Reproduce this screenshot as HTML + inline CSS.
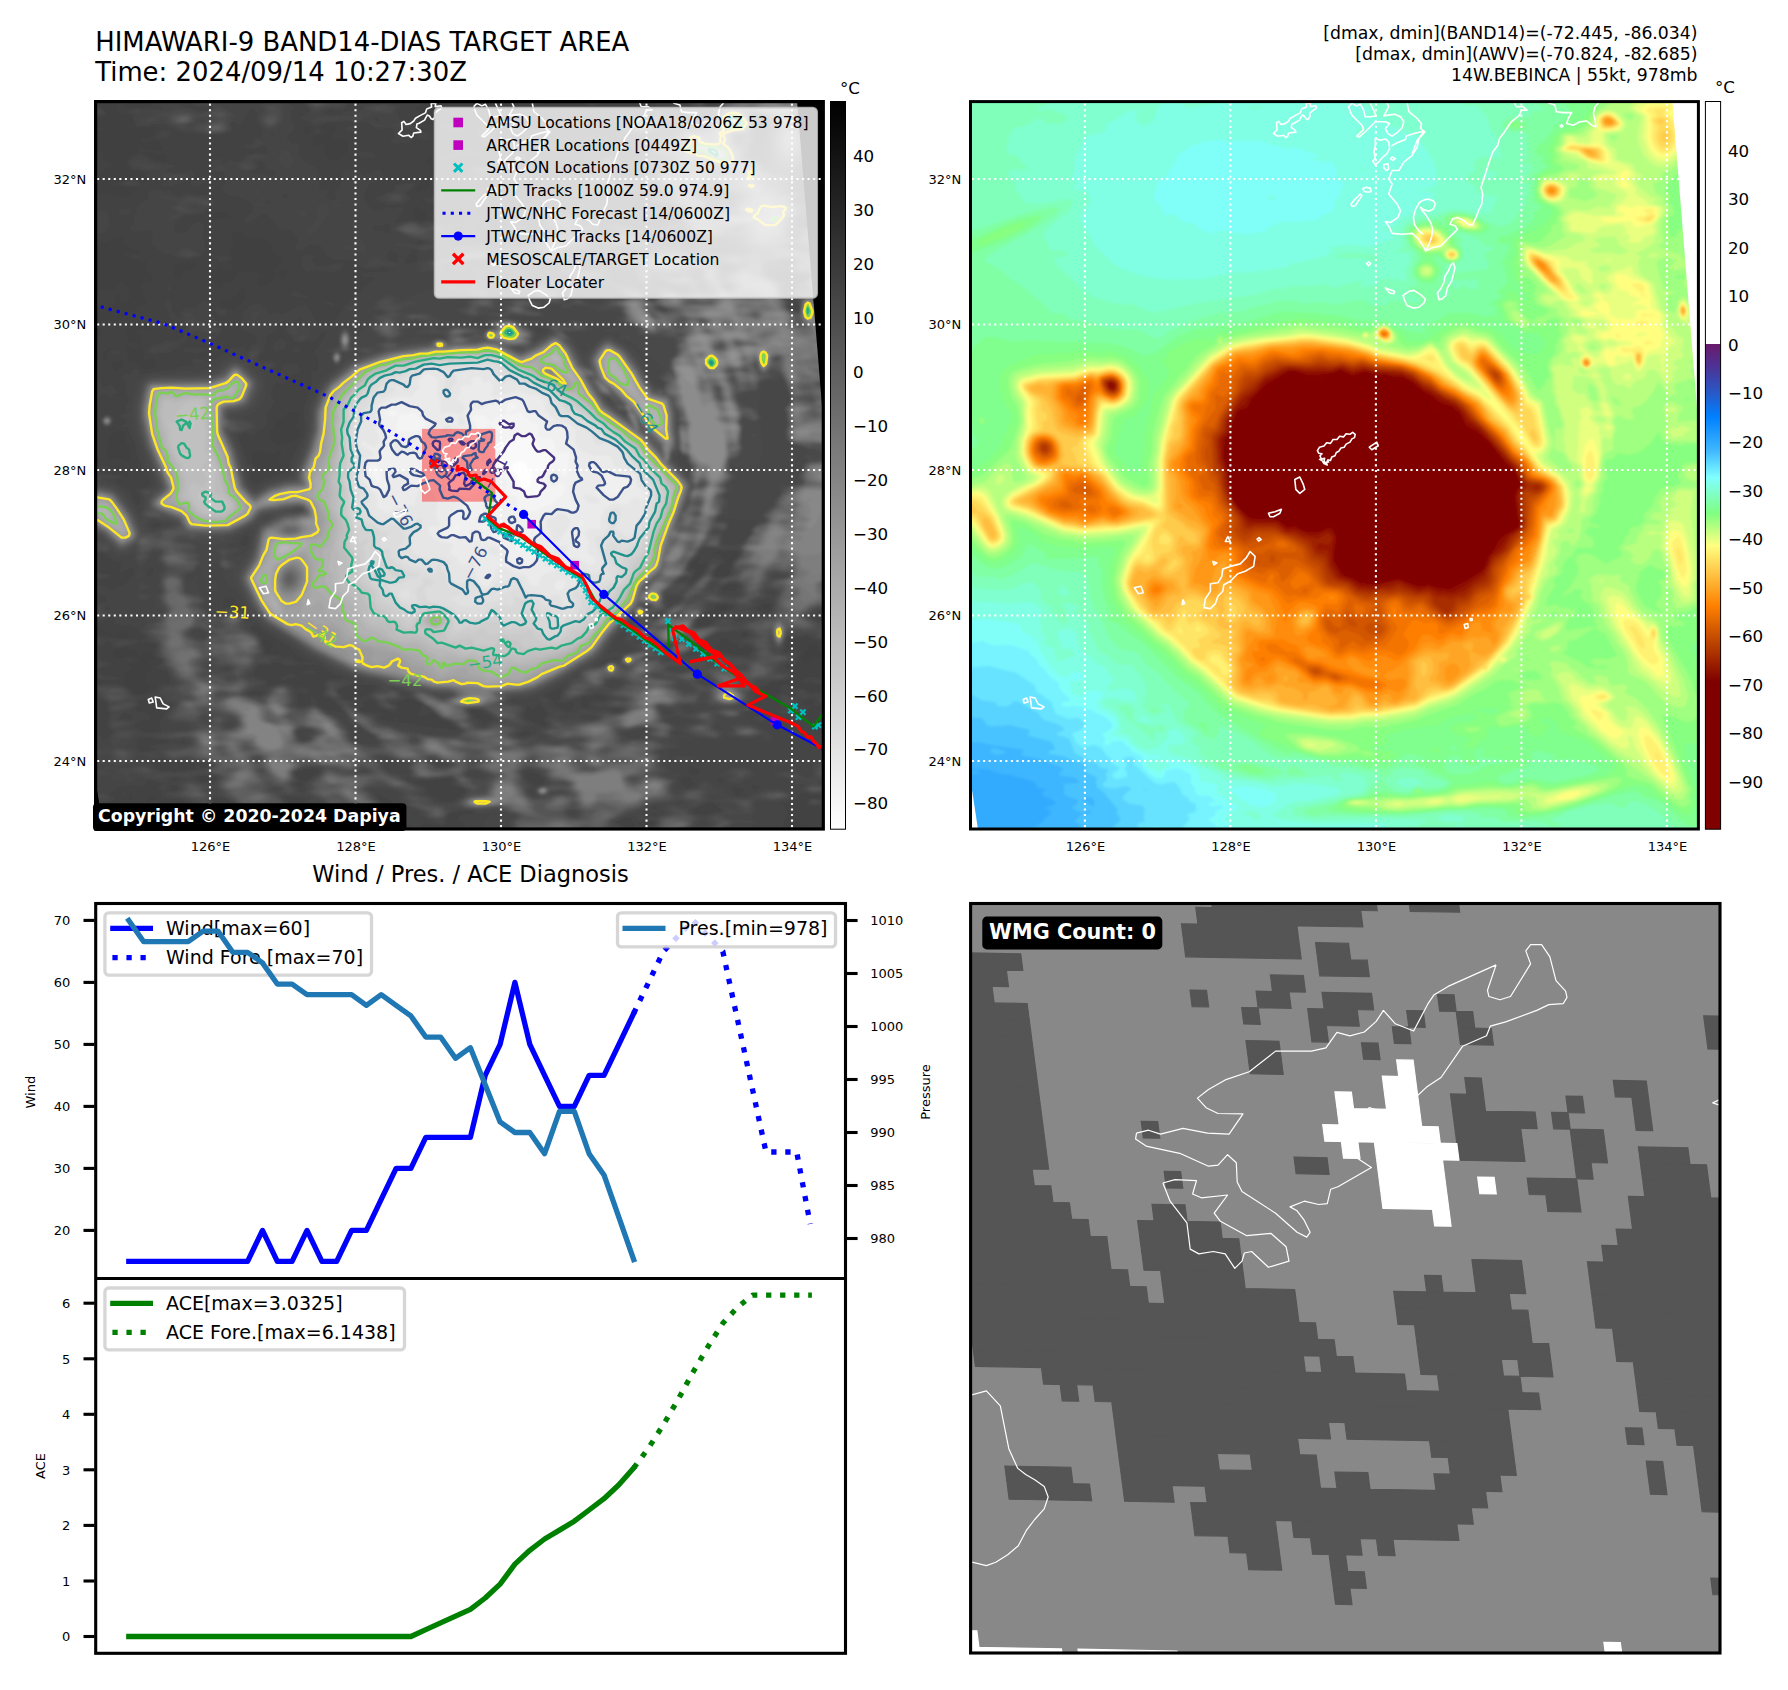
<!DOCTYPE html><html><head><meta charset="utf-8"><title>HIMAWARI-9 BAND14 14W.BEBINCA</title>
<style>html,body{margin:0;padding:0;background:#fff}svg{display:block}text{font-family:'DejaVu Sans','Liberation Sans',sans-serif}</style></head><body>
<svg width="1788" height="1690" viewBox="0 0 1788 1690">
<rect width="1788" height="1690" fill="#fff"/>
<defs><clipPath id="c1"><rect x="95.6" y="101.6" width="727.7" height="727.4"/></clipPath><clipPath id="c2"><rect x="970.5" y="101.6" width="727.9" height="727.4"/></clipPath><clipPath id="c4"><rect x="970.6" y="903.5" width="749.4" height="749.5"/></clipPath></defs>
<g clip-path="url(#c1)"><rect x="95.6" y="101.6" width="728" height="728" fill="#3b3b3b"/><defs><filter id="b1" x="-2%" y="-2%" width="104%" height="104%"><feGaussianBlur stdDeviation="1.6"/></filter></defs><g transform="translate(95.6,101.6) scale(0.5)" filter="url(#b1)"><path fill="#404040" d="M0 0l1456 0 0 1456-1456 0 0-1416 7-4-7-1z"/><path fill="#424242" d="M47 0l15 0-5 12 3 2 12-5 20 3 16-3 3-1-2-8 529 0 16 4 1 4-14 4-3 4 14 7 4 5 0 16 20 2 12-5 23-1 5-3 4 3 40 9 24-7 16 2 10-8-18-3-28 0-18-5 1-4 41-3 20-4 24 0 13-5 1-8-7-4 52 0-3 5-7 3 2 4 7 4 4 8 1 4-6 4 7 16 8 3 20-2 22-13 14-14 14-6 4-4-5-8 0-4 483 0 0 1105-8-5-8-14-8 1-7 5-2 8-10 12 0 4 7 4 16-9 20-1 0 346-1045 0-3-3-6 3-133 0-2-8-7-8 2 16-30 0-6-8-30 0-19 4-4 4-30 0-2-8 7-8 1-8 9-8-18-5-56-3-4 0-8 8-4 1-12-11-8-14-4-2-15 6 0 4-9 11-16 1 0 8-4 2 0-265 9-1 2-4-11-3 0-91 16-1 18 3-10-7-14-5-3-4 4-4-11-1 0-322 4-1 4-8-3-4-5-1 0-229 12-22-4-7-8-1 0-9 12 0 12 6 8-1 28-21 12-5 12-12 16-6-8-19-2-21 2-4 20-1 3-7-16-20 2-12-21-2-29-10 9-5 28 1-12-9-20-7-4-16-16 2-12 7-12 2-12 7 0-110 12 4 16 1 16 6 12 0 8-3 20-16-44-2-6-2 0-4 2-2 14-2 10-6 8-2 16 2 8 6 8 0 5-4-5-3-4-13-28-2-12-18 13-12 14-4 2-4-2-4 5-4 32 6 14-2-6-16-12-2-12 5-8 0-11-7 3-2 24-5 6-5 2-9 10-3-14-1-28 2-18-5 6-8-8-8 1-4-21-3-2-5-7-4zM168 324l-8 4-3 16 3 8 4 2 8-2 4-12 4-3 17-5 5-4-1-4-5-3zM240 223l-7 5-1 4 4 4 22-4 6-4-12-7zM272 228l-5 4 10 0zM280 262l-7 6 4 20-8 20 11 4-2 4-10 4-2 4 14 7 12-1 7 2-7 3-12-2-12 4-8 1-6-2-2-4-5-4-15 18-3 10 7 4 8 12 4 1 12-10 16-5 3-10 5-7 36 0 7 3 3 4-6 12 4 6 8 3 12-5 5-4 6-12 1-4-3-8 2-4 11-8 1-4-2-8-5-5-13-7-1-4 3-8-1-4-15-8-13-3-4-3-12 6-4 0-12-14-4-2zM372 336l-6 8 6 6 4 1 4-3 2-8-2-5zM388 622l-12 10-15 4-5 16-9 12 0 4 9 13 8 6 32-7 11-12 1-16-8-1-4-3 10-8 0-12-6-6zM416 50l-1 2 2 8 3 4 4 0 4-4 1-8zM464 44l-11 4-1 4 11 8-3 4-4 2-19 2-4 4 5 4 0 8 5 4 9-2 5 2 2 16 6 8 11 7 8 0 9-11 8-4 3-5 0-14-4-8-4-3-12 3-8-1-4-8 8-11 1-5-5-5zM668 110l-8 10 2 4 8 8 0 8-9 16-13 7-8 13 4 2 4 2 16-6 4-6 0-8 3-4 9-4 16-19 12-5 16 1 8-2 7-7 2-8-6 0-11 6-28 7-20-4-7-5 4-4-1-3zM700 97l-7 7 3 1 4-3zM752 59l-20 11-20-5-11 3 5 4 3 8-6 12 24 0 16-4 18-8 2-8-3-13zM1260 1008l-12 4 6 4 6 0 3-8zM1340 1007l-4 1 4 6 4-2 2-4zM1396 1441l-2 7 6 6 4 1 4-4 5-7zM32 492l-8 3-8 9-2 4 1 4 5 5 4 0 1-5-8-4 11-11 4-1zM44 520l-9 4-2 4 3 8 4 2 11-6 5-8-1-4-3-2zM104 444l-16 6-16 0-8 4-3 6 1 8 6 12 20 4 4-3-3-13-15-8 18-6 12 3 3-1 2-8zM100 103l-3 1 15 6 6 6 24 4 0-12-2-3-16 2-12-5zM160 1400l-9 4 13 2 10-2-4-4zM292 374l-4 3-3 7-5 6-12 7-16 1-4 4-1 6 6 4 15 1 8 3 4-1 14-15 5-12 0-8-3-5zM328 698l-13 10-2 8 1 8 12 8 2 8 8 1 16-8 16 2 2-3-2-6-10-10 11-8 1-4-2-7-4 0-12 9zM400 1403l-1 1 9 7 10 1-6-8zM436 1439l-2 5 2 4 4 0 2-4 0-4-2-2zM640 210l-5 10 3 12 3 4 19 0-1-12-2-4-13-9zM720 191l-4 13 4 6 3-2-2-8 3-8zM44 658l-16 10-4 24 1 20 3 4 4 1 12-6 20 7 5-6-1-18-8-14-4-16-3-4zM64 491l-3 1 0 4 8 8-5 4 0 8 4 3 12 3 13 10 7 3 12-2 7-5 2-8-5-7-16 6-4-3-1-8-4-8 4-4-3-6-12 7-7-1zM164 1424l6 4 16 4-1-8-13-2zM336 1078l0 6 7 12 1 8 9-12 0-8-5-5zM360 1099l-6 5 9 0 6-4zM40 730l-5 6 1 8 20 2 8 8 3-6-1-4-18-13zM100 1102l-12 10 1 4-1 4-16 6-1-2-9 0 8 4 1 4 0 4-7 2-6 6 0 4 3 4-4 4 3 12 4 1 11 7 5 8 14 0 9-4 5-8 0-4-17-8 12-4-3-8 7-12 0-12 1-4 8-7-4-5 0-8zM36 1096l-1 8 5 8 12 0 12-3 18 3 1-4-1-8-6-4-12-2zM52 1059l-15 9 11 4 12 0 4-8-4-4zM68 1388l-1 4 5 5 0-9zM108 1387l-4 4-2 9 6 0 9-4 2-4zM793 0l14 0 4 4-3 5-8 1zM0 8l12 2 14 14-4 4-6 2-16 0zM760 8l17 0-1 4-8 4-12 0-14-4 6-3zM670 16l10 0-4 3zM672 24l4-3 4-1 46 8-10 7-24-1-8-2zM911 32l13-1 5 5-9 2zM20 52l6 0-14 8-12-1 0-5zM3 100l5-2 6 2 2 4 0 15 18 5 0 4-6 6-12 4-8 6-2 4 1 12-7 4 0-63zM303 308l9-1 4 1 1 4-9 1zM46 364l6-2 4 1 11 13 2 16-4 8-5 3-8 0-3-3-1-12-4-4-4 4-2 16-2 4-20 5-16-2 0-30 12-4 22-1zM0 1440l0-3 12 7 3 12-15 0zM61 1440l7-3 36 0 7 3 0 4-3 4-12 6-24 2-18-8-2-4z"/><path fill="#454545" d="M126 0l390 0-12 8-8 10-28-2-8 4-3 4 15 4 16-1 12-7 28-3 2-1 0-4-6-4 4-4 20 0 28-3 16 4 48 2 2 1-30 2-8 6 0 7 6 13 22 6 17 14 20 8-4 4 6 4-3 4-12 1-8-2-5-3 3-4-23-12-7 0-2 0 2 4 16 8 2 8-6 6-6 2-10-1-12 2-10-5-1-4 3-3 7-1-4-4 1-8-2-4-6-2-28 1-14-11-6-2-20 2-12-4-44 2-24 7-4-1-16-10-14-6 16-4 6-12-12-12-12-3-12 3-4 4-4 0 0 2 8-2 4 3-6 21 8 20-2 8-9 4-5 8 10 11 4 1 8-1 4 3-1 18 3 8 6 6 20 11 7 7 5 34 4 6 14 0 2 4-6 8 2 4 8 5 9-1 1-4-4-8 0-4 9-8 5-12 2-16 2-5 8-2 12 4 8-5 12 13 24-13 11 0 5 16-8 6-16 3-10 15-6 20 12 15 12 8 12-1 12-7 12 2 12-4 8 2 1 5-2 4-14 16-2 4 2 4 19-6 8-1 24 3 20-2 16 3 44 2 2-7 5-4 0-4-7-3-3-5 5-8-6-8 0-5 8-6 17-5 2-8 5-4 8 1 2-5 6-3 16 2 4-13 24-3 4 5 1 8-3 8-7 8 5 3 2 5-26 14-20 2-16 4 13 8-19 8 16 8 0 4-17 8 7 4 2 4 9 4-3 13-4 2-4-2-1 3 5 1 2 3 17 4 17 1 11-1 17-12 4 0 8 2 8 6-2 4 2 1 10-1 16-8 13-12-7-12 8-3 4-5-10-12-2-4 3-8-3-4-20-1-6-3 6-6 20-9 20-1 8 4 6 0-2-8 5-8-13 0-4 3-8 0-21-11-15-4 20-3 12 2 1-3-3-8 2-4-4-1-4-7 8 0 8 6 8 0 7 14 19-4 2-12 4-4 8-2 8 3-1-9-13-16-1-4 3-5 25 21 17 0-2-4-8-2-2-2 16-4 7-4-1-4-16-2-8-6 9-4 3-4-2-4 6-3 20-4 8-4 17 3 11-11 2-5-6-16 0-12 5-8 11-9 24-9 36-1 4-4 10-1-3-4-15-1-7-7 355 0 0 1015-12 5-7 12 4 4 15 3 0 42-16-3-16-7-28 2-12-1 0 12-4 4-2 8 1 4 21-2 12 0 0 2-2 8-6 4 1 8-5 7-12-3-10 4 2 4 4 2 11-2-5 4 5 8-1 8-6 6-32 3-9 3-3 5-13 3 1 5 28 14 0-3 10-8-2-4 2-8 6-2 8 0 12 8 20 0 16 8 24-3 0 28-24 3-7 6 1 4-2 3-7 5 34 36 5 2 0 121-24 0-22-3-10 10-8 2-8 7-24 1 16 2 7 14 0 8-8 16-1 12-635 0-2-12-14-8 0-4 9-5 23-3-3-4-20-1-22 5-7 8 0 12-7 6-12 0-4-2-24-6-5 6 1 2 3 2 17 4-46 0 4-8-6-1-7-7 5-16-2-3-8-1-12 5-4-1-4-6-1 14 9 8 0 13 2 3-94 0-8-3-24-1-9-4-1-4-6-3-8-12-52 2-6 5 1 8-4 12-86 0 6-12-27-20-2-4 2-4-2-4-21-16-21-5-4 1-2 4 11 16-9 12 20 8 2 4-2 8 2 12-22 0-5-8-7-2-28-1-20 5-9 6-18 0-2-8 5-8 1-8 3-2 8-1 28 6 11-3 2-4-2-4-35-8-16 2-28-4-32 0-10-2 0-4 2-1 12-4 28-2 40 9 16-6 4-4-16-4-20 0-13-4-6-4 4-4 0-4-9-4 4-12-7-4-9-1-9 1-3 8-8 3-16-3-32 4-4 5-13 7 5 5 14 3-6 1-8 6-18 5 4 4-2 2-16 0 0-145 8 3 7 8 5 0 8-4-3-4 8-8-11-12 5-24-6-8 1-12-22-15 0-22 28-3 20 2 15 6 13 14 20 2 24-8 8-14 19-2 3-4-9-20-23-8 13-8 1-4-2-4-6-2-7-6 3-20-2-4-30-3-8 4-36 9-7-2-5-4-3-8-5-2-5 2-3 8-16 3 0-21 12 0 8 4 12-2 16 3 16-1 24 4 9-6 0-4-12-8-1-4-12-8-32-1-4-3-1-12-3-1-16 8-16 3 0-39 24-3-4-8-4-3-8-2-8 1 0-20 20 1 8 10 4 0 12-8 12-4 16-15 7-12-3-6-8-2-8 8-8 2-4-2-1-4 6-12-17-5-23-15-13-1 0-162 51 7 2 4-14 4 1 4 15 12 15 8 7 20 7 8 4-4-2-16-7-12 5-3 14-1 13-8-7-24-3-4-8-4-11-24-4-24-15-32-3-2-8 3-9-1 17-9 0-7-8-2-7-6 11-4 11-28-3-8-6-8 3-12-8-16 1-4 6-4 8 2 2-6 10-5 10 1-2 7-7 1 3 2 80-13 16-6 17 1-5-4-1-4 5-6 4-1 16 1 8 7 12-4 23-13 7-8 6-2 24-3 8 9 3-8 5-6 6-2 4-12-3-4-7-5-20-5-4-6 0-4 4-8 4-20 10-8 1-4 5-2 20-1 16 19 16-2 8 3 4 0 20-12 24-6 4 3 20 33 8 4 12 0 4 2 26-33-1-4 3-4 8-4 32-32 25-20-25-1-9-7 21-3 32 0 12-5-16-4-12 3-24 0-12-5-16-13-36 1-12-8-11-18-9-5-16-1-16 12-8 0-5-6 5-16-4-9-12-10-24-3-5-10-19-19-4-2-31 21-6 0-1-4 6-12 10-8 1-4-3-12-4-5-16-4-8-6-16 0-8-5-7-8 0-4 6-12-1-12-4-8-10 2-11-6-1-12 4-7 8-3 6 2 4 4 0 4 2 1 12-9 12 4 8 0 8-5 2-11 44 0-1-16-21 7-16 0-9-3 5-7 13-1 1-8 2-2 15-2-1-4 3-12-12-20 2-12-3-5-4-3-8 0-12 22-8 8-8-1-4-5-4 3-1 5 3 8-6 7-12 3-16 1-32-1-16-4-16 1-40-17-16-1-20 5-16-1-3-1 0-8-7-8 1-4-17-8 18-6 58 2zM168 4l1 4 7 4 20 2 9 6 11 0 13-4 4-4-5-4-24 3-20-8zM348 60l-2 0 6 6 4 0 2-2zM376 186l-4 2 1 4 7 2 3-2 1-4-4-3zM564 32l-4 0-3 4 7 4zM560 247l-5 5 1 5 4 3 12-3 12 7 4-8-3-4 4-4-1-2-4-1-12 6zM636 296l-15 20 0 8 3 1 19-5-1-12 1-8zM644 280l-1 4 13 0-2-4zM716 251l-2 5 2 3 8 2 12-5 1-4-5-2zM888 1204l-12 13-12-8-2 11-6 8 8 8 8 4 8 2 11 6 9 0 0-4-7-8 10-8 0-4-6-4-1-4-7-8zM928 1175l-29 13 17 11 8-1 5-6 0-12 4-4-1-2zM1000 1188l-24 4-4 4-2 16 16 0-2-8 8-6 28-2 1-4-9-4zM1032 1216l3 4 5 0 6 0 2-4zM1068 1432l-26 8 11 8 15 5 9-1 3-8 20 5 8-3 4 1 5-3-2-4-15-1-20 5-8-4 0-7zM1112 1412l0 2 4 2 7-4zM1176 1352l-5 8 1 4 9 8 9 0 10-8-8-4-2-8zM1188 1329l0 15 4 1 4 5 14-10-3-4zM1204 912l-12 12-1 8 10 4-3 12-6 9 4 0 16-12 4-5 6-16-2-2-12 4-7-6 3-3 5-1-1-4zM1248 900l-19 4 15 0 8 5 10 11-10 6-13 14 0 8 9 2 14-2 6-4 2-20 2-5 12-9 1-10-21 0-8 3-4-3zM1296 1062l-6 10 15-4-1-5zM1336 1003l-13 9-1 4 14 6 8-1 4-3 4-10-4-4zM1416 1199l-2 1 1 4 5 4 8 0 10-4-6-7zM60 1224l-4 0-9 12 24 0 3-8zM124 1192l-28 3-12 5 3 4-1 4-5 4 2 8 13 1 12 7 2 4-2 4-4 2-12-1-16 15 8 1 16 7 24 0 9-4-5-8 0-10 13-18 11-12-2-4-14-2-8-9zM20 1012l0 4 9 0-2-4zM108 933l-4 4-2 7 2 5 4 1 6-6 2-8-4-3zM116 843l-5 5 5 5 9-1 6-8zM260 993l-4 4-2 15 14-2 12 3 4 4 7-1-15-20-8-4zM404 435l-8 8-4 1-16-6-9 6-6 8-1 8-16 8-2 16-6 4-1 8 13 4-16 4-4 4 0 12 24-3 4 1 5 6 1 4-6 6-6 2 2 5 4 3 12 0 3-4 3-12 10-5 20 4 5 5 2 8-7 5-16 4-16 23-3-8-5-3-8 5-4 18 5 16-3 8-10 14 0 22-4 7-12 5-12 13-8-1-6-4-6 0-9 4 1 9 10 23 7 24 15 8 0 4-12 8 4 16 8 5 16-11 48-12 7-26 25-48 2-16-2-40 7-16 1-12 9-20-4-16 1-4 6-5 9 1-1-28-5-4-1-8 14-20 9-20-4 0-6 4-11 15-20 1-8 3-16-2-4-10-10-7-6-8 12-12 16 1 4-1 4-8-4-3zM516 1167l-20 5-8 4-1 4 7 8 0 4 6 4 18 0 22-8 23-16-8-4zM320 120l7 8 0 4-11 7-8 1 12 6 16-2 12 8 8-4 2-4-2-6-12-3-4-3-6-8-1-4zM624 1194l-26 10 9 4-7 15-8-1-20-7-8-5-8-11-8-2-12 4-2 3 1 8-8 4 4 4 47 4-9 4-1 8 156 22-19-18-9-1-3-3-5-1-12-11-8-2-8 6-12 3-4-2 9-21-9-8-9-4zM752 1218l-1 2 10 12 15 7 4 2 15-5-2-4-13-6-12-9zM860 1260l-12 4-1 4 13 0 9-4-4-4zM956 1200l-20 3-16-2-6 3 10 7 24 9 2 0 8-20zM1116 1424l-6 4 14 0-2-4zM1240 1008l-1 4 2 4-17 4-4 8-16 11 0 9 20 0 12-11 13-5 1-12 21-4 4-8-15-2zM1264 967l-11 5 3 6 4 1 16 0 9-7-1-4-8-4zM88 1275l-3 1 0 8-2 8 9 7 4 1 22-4-6-5-8-3 35-4 13-4 16 1 5 3 7 0-5-4-23 0-44-6zM296 871l-4 5-3 8 3 6 8-2 4-8 0-12zM316 1048l-5 4 1 4 12 6 8 10 4 20 3 4-2 8 3 2 24 0 16 5 12 0 8 7 8 3 25-1-29-11-16-17-36-23-16-6-15-15zM340 199l-1 1 5 6 5-6-1-2zM588 297l-4 7 1 12 6 4 14 0-3-16-6-5zM564 1382l-2 2 1 4 25 29 3-1 4-12-1-4-18-8zM680 1356l-8 3-36 1 20 9 9 7 0 4-2 4 26 12 3 4 22 0 8-8 14-8 2-4-2-4-25-8-2-4 3-4 0-4zM768 1244l4 2 5-2-1-3zM860 1344l4 12 16 10 14-2 2-2 0-4-4-6-7-4-13-6zM1224 1403l-28 13 3 8 17 2 32-6 1-4-9-10-4-2zM1248 1075l3 5 0 4-12 8 9 3 3 5 39 8 14 1 10-13-10-7-4 0-8 5-8 0-3-2 4-4-21-8 3-4-3-2zM124 1316l-13 4 8 12 5 4 8 2 28 2 39-4 2-4-1-5 4-3 5 4 0 4 10 0 5-4 0-4-4-1-56-1-24-6zM312 1179l-8 5 12 4 12 0 8-8zM360 1122l-12 5-21 1-11 16 1 4 23 8 4 4-2 8 2 1 32-7 16 4 8 8 12-4 10 2 6 8 0 5-8 1-12-2-4 2 2 10-3 8 4 4 11 0 10-4 2-4-3-4 5-6 9 6 3 11 16 9 32 6-4-10-11-12-21-10-4-6 5-12-1-12 8-3 37-5-25-5-28-20-36-1-24 4zM1244 1356l0 4 4 2 7-2-4-4zM1276 1371l-3 1 2 12 6 4 11-1 5-11zM1312 1367l7 13 2-4 7-3 9-1zM152 1355l0 2 8 1 13-2-13-3zM212 1348l-12 4 2 4 6 5 24 0 8-5 1-4-7-4zM380 1392l15 20 37 6 20 10 19-4-1-4-18-7-8-6-8 0-8-2-8-5 0-4-23-4zM416 1336l-13 4-3 4 3 8 9 8 15-4 5-7 13-5 1-4-1-4-9-2zM152 1367l-4 5 0 4 8 2 9-2 0-4-5-5zM404 1363l-1 5 5 1 4-1 0-7zM977 0l53 0-18 3-20 7-12-4zM0 12l12 2 7 6 1 4-8 4-12 0zM854 12l6-2 16 0 9 6 0 8-3 4-42 7-47-7 1-4 14-3 32-1 3-4zM832 40l8-3 17 23-2 8-15 17-3-5-7-24-1-8zM692 44l28-1 20 4 11 5-15 11-4 1-17-4-26-12zM516 48l4 1 2 3 2 4-1 4-19 0-7-4 7-6zM774 48l14-2 20 10-9 8-2 8 14 12-3 4-8 1-29-5-8-20 3-12zM989 52l7-3 11 3-2 4-5 2-8-2zM135 56l14 0 3 12-4 4-12 3-19-3zM440 56l4-1 9 5-5 3-8 0-3-3zM986 68l14-3 28 3-18 8 16 4-10 3-8-5-16 0-8-2-3-4zM288 72l4-2 7 2-3 4zM730 96l38 3 16 0 12 2 6 3 0 4 9 8 1 12 12 2 13-2 6-12-2-4-15-8 6-7 12-1 8-3 12 2 3 5-5 4 2 8-7 8 4 8-2 12 8 8-15 4-40-4-12 4-4 4-8 0-8 2-40 1-9-7 5-5 9-3-4-8 3-4 35-8-1-4-12-4 6-5 9-3-9-1-8 4-36-1-20 4-12 5-18-3 6-3 16-2 12-12zM166 100l10-2 8 4 15 2-15 2zM531 100l17-1 8 4 4 5-1 4-7 2-23-2-3-8zM78 108l14-1 12 5 4 4 12 6 42 6-3 4-17 4-1 4 19 2 20-1 12-4 4 3 1 8-9 9-20 5-16 8-16-1-2-1 0-4 10-4-4-4-32-3-5-5 5-4-1-4-35-6-8-14zM872 108l12 0 16 11 4 0 8-4 4 1 1 4-8 4 1 4-2 2-16 0-5-2-7-9-8 1-4-1-1-7zM223 152l5 1 1 3-25 13-8 0-6-5 0-4 2-1 20-2zM66 156l14 1 9 7-3 4-10 2-23-2-9-4 12-3zM616 164l16-2 9 2-4 8-12 8-2 4 8 12-15 11-32 1-24-12-1-4 37-16-1-4 5-6zM114 176l10-1 12 3 16-1 2 7 14 6 8-4 12-1 16 3 20-1 9 5 6 12-11 8-8 11-16 4-26 1-18 12-2 8 2 12 12 4 8-3 12-13 12-7 4-1 7 4 4 8-5 8 5 32-1 8-6 4 2 4-18 6-16 1-24-4-4-4-16-2-26-21 4-16-2-8-8-3-28 3-7-4-1-4 8-8-1-8 8-24 9-10 12-5 0-15zM684 180l8-2 4 5 3 9-3 7-4 2-12-2-4 4-8 1-8-2-5-6 5-4 10 0zM49 216l15-3 8 3-4 8-8 4-14-4-2-4zM0 220l24-2 5 30-3 8-6 5-20 5zM863 224l9 0 3 4-3 8-4 3-4 0-4-7zM827 232l9-1 5 5 5 8 6 4 20 4-16 4-24 10-12-3-11-7 0-4 9-4 2-4-10-4 6-5zM59 308l21-1 11 5-7 2zM239 308l17 1 11 3-1 4-14 5-4 0-9-9zM415 308l25-2 11 2-21 4 6 8 2 8 22 1 12-4 12-1 4-3 8 3 0 4-4 8-4 3-20 4-16-5-28 3-7-5-6-12-1-8zM122 340l6-2 4 2-8 4zM142 372l2-2 4-1 3 3 1 4-4 4-4-1zM396 380l8-2 4 6 14 4 3 4-9 2-4 0-4-3-4 2-6-1-8-4-1-4zM139 400l5-2 8 5 2 17 14 15 1-7-3-4 14-10 4-2 16 1 12-15 8 1 11 13 1 16 11 12 3 8 9 8-10 16-7 4-34-1-5-7-7-1-8 5 0 4-8 9-9-1 4 4-4 4-13 4-2 6-32 3-16-2-4-3 12-12 32-11 20 2 10-7 2-4 4-16-7-8-1-4-12 0-10-4-3-4-1-12-8-12-1-4zM451 400l1-3 20 5 10 6-10 1zM237 416l7-3 12 1 5 2 4 8-9 6-8 0zM258 468l6-3 4 3-4 5-4 0zM365 476l7-2 8 5 3 9-3 8-20 3-4-3-4-8zM394 492l6-2 7 2 4 8-3 4-13-4-3-4zM174 496l2-3 36 0 8 3-2 4-6 2-20 1-12-2zM34 500l6-2 8 1 2 1 0 4-18 3-2-3zM0 556l0-2 8 6 8 12 16-7 4 3 2 8 10 4 2 4-2 1-8-3-3 2-5 10-16-12-7 6-5 16-4 0zM16 628l4-3 4 0 11 3 1 16-8 7-12-1-5-6-2-8zM23 728l6 4-17 4-12-3 0-2zM0 944l0-3 16 4 16 0 3 3-7 6-28 1zM1393 1080l7 0-1 4-15 0zM0 1116l4-2 16 6 16 4-20 9-16 2zM55 1116l9-3 16 3-12 4zM415 1140l17-4 11 4-7 5-8 2-16-1-4-2zM0 1144l0-3 4 0 13 7 34 4-11 5-28 1-12-4zM378 1148l10-4 8 1 8 3-8 6-24 4-2-2 2-4zM1424 1152l8-2 24 4 0 14-49-8zM594 1232l6-2 3 2 1 6-4 1zM52 1384l4-4 7 4-11 5-2-1zM1422 1396l6-4 24 2 4 2 0 15-24-1-8-3-4-3zM58 1444l18-4 24 4-8 7-16 2-16-4z"/><path fill="#474747" d="M150 0l18 0-8 5zM184 0l66 0-3 4 3 4 32 20-6 4-7 12 2 12-11 7-32 3-20-3-16-5-20 0-19-10-12-4-5-6-4-1-32 10-11-3 0-4 4-4 19-8-3-4 3-4 32-1 8-2 8-8 48 13 15-2 9-4 4-4-1-4-3-1-28 0zM208 35l-2 1 2 4 9 0 6-4zM319 0l73 0-15 8-1 12 3 8-5 12-14 14-12 3-12-5-9-12-1-8 2-4 8-8-4-10zM410 0l100 0-18 13-28 1-28 12-6-2 1-8-7-8zM563 4l13 0 25 4 2 4-7 9-8 5-38-2 0 4-14 3-4 7-8 2-20-3-40 3-24 4-9-8 13-7 68 0 5-1 0-4 18-8 2-8zM981 0l42 0-31 7-11-3zM1104 0l121 0 1 4-4 8 2 4 12-4 5-4 3-8 212 0 0 117-2 3-6 28-2 24 1 24 9 2 0 30-10 0-2 16 12 2 0 41-6 13 6 7 0 706-18 7-7 8 0 4 6 4 11 4 8 1 0 37-12-1-20-9-40 2-4 6-1 8-5 16 6 3 20 0 3 1 0 4-5 4 0 8-20 4-5 4-2 8 1 2 16 4 3 6-2 4-17 6-28 2-9 8-11 4-4 7-5 1 4 12-6 12 11 3 6 9-2 3-20 1-10 4 2 8 12 12 4 0 36 20 3 12-3 3-4 3-8-2-11-8-6 0-11 4-20 0-7-4-13 0-8-4-5 0-7 7-12 3-24-3-28 2-16-2-8 1 6 8 1 8-7 3-20 1 3 16-8 16 17 14 14 2 3 4-12 4 5 4-1 4-7 8 2 10 37-6 7-6 16-8 4 1 18 13 20 4-4 8 18 6 16 2 16-3 28-13 24-3 12 2 22 9 4 4-3 4-15 7-24 3-24-4-11 2-2 4 3 16-6 8-6 4 11 8-1 4-10 4 0 8-93 0-9-7-10 3-3 4-110 0 3-5 28-2 4-5-1-4-7-3-28 0-2-1 4-4-18-5-31 13 18 12 13 4-291 0 0-16 7-10 8-5 12 2 4-3-24 0-12 2-20-8-28-2-16 7-10 13 1 4-1 4-10 2-28-12-11-6-3-8-26-11-7-5-9-12 5-4-6-8-11-5-36-1-8 2 8 7 16 21 13 12 4 16 6 8-1 8 4 8-86 0-8-6-28-2 1-4-13-4-4-4 1-4 20-4-5-8-19-8-5-9-16 0-8-2-2-1 3-8-49-4-4 1-1 3 15 20 10 4 32 5 7 3-1 4-26-1-16 5-4 4-3 20-59 0-5-8-5-2-33-22-1-4 1-4-2-4-13-12-8-5-24-6-8 3-2 4 11 16-10 12 22 8 2 4 0 20-16 0-5-8-6-3-32-4-38 15-6-4-1-4 5-8-1-4 4-4 37 7 16-11-1-4-31-6-10-6 16-8 3-4-13-5-28-3-10-4 6-7 18-1 6-3 1-5-5-8 15-8-15-5-16 1-4 4 2 4-6 3-12-4-44-6-4 0-8 7-8 1-7-5-1-5-8 7-8 1-11-11 2-4 10-4-9-5-12 1 4 1 3 3 1 4-4 4-24 3 0-14 16-2 2-3 6-3 24 3 19 0 9-4 2-4 6-2 24 8 20 10 28 2 58-6 11-4 5-4-2-4-8-3-60-2-28-6-20 1-24-8-9 6 0 4-3 3-20 7-16 1-16-6-24 4 0-34 16 5 4-5 12-1 4-2-7-8 3-8-2-4 9-8-11-8-2-4 4-12-1-4 5-8-11-8 4-12-27-20 0-15 28-2 24 2 13 7 5 8 6 5 23 3-17 4-2 4 4 4-1 4-11 9-26 7 2 4-7 8 35 3 1 5-14 8 21 6 5 2 3 5 72-8 20 0 4-1 2-4-11-8-27-1-13-11 7-12 11-12 0-4-5-3-12-1-5-4 0-4-10-4-2-4 9-13 8-4 16-1 4-2-1-4-9-8-6-14-13-6-1-4 4-8-1-4-13-8 3-16-2-8-20-8 3-4-2-4-13-8 11-16 4-4-7-8 3-6 4-1 12 2 17-7 0-4-8-4-8-8 3-1 2-7-6-7-12 10-12 0-10-7 2-6 8-4 24 6 8-2 7-6-8-12 2-4 0-12 4-8 8-8 0-4-16-16 1-4 5-8-3-4-4 0-9 4-1 8-9 8-9 12-4-1-12-15 0-11-12 4-20 2-8-3-8-5-8 0-20-3 0-23 8-1-8-5 0-124 43 1 0 4-3 1-21 3 1 4 20 6 21 18 6 8 6 12 15 20 7-12 1-20-9-12 1-4 24-3 7-9-10-28-11-4-2-4 3-4-1-4-10-24-4-19-9-17-5-28-10-1-3-3 12-4 2-4 6-48 6-12 13-10 16-5 31-1 37-6 20 2 12-1 24-8 20-14 20-8 12-1 12 8 5-4-1-8 8-8 1-4 7-5 8 0-1 9 4 4-7 9-6 19 10 0 20-8 8 4 0 4-8 6-25 2 13 8 5 8 0 28-7 20-14 20-8 5-22 7 18 6 15 10-3 5-9 3-7 5-25 3 15 40 6 24 14 4 1 4-13 4 5 20 9 11 5 1 19-12 48-13 3-3 3-12 26-62 3-18 1-36 10-28 19-36 27-20-7-8-3-8 2-12-14-4 6-5 20-7 1-24 6-12 5-4 8 1 7 7 5 15 4 4 28-31 8-4-4-8 2-4 6-4 12 0 1-4-17-2-5-2 6-8-1-4 3-4 17-11 16-2 12 3 4 2 1 4 9 0 30-13 40-12 3-15-6-4 9-4-2-4-20-5-20 4-8-1-2-6 4-4-4-8 18-7 44-9 6-4-1-4-29-2-28 1-28-8-24-1-2-2 2-4 4-2 36 5 25-3-5-5-36-6-28-15-3-2 0-4 31-12 28 2 20-2 34 8 6 16 12 5 24-13 16 4 0 4-13 4-3 8-24-3-4 2-6 5 6 3 16 1 20-3 48 7 28-13 11 5-2 4 3 3 8 1 20-8 7-4 6-8 9-4-7-8 7-12-1-4-7-8 1-12-3-8-24 0 18-12 10-2 8 0 20 7 16 0 3 3-7 4 22 12 10 2 24 15 32 2 28-6 10 3 3-28 6-24-5 0-14 7-16-4-20 0-6 5 2 5 28 2 0 5-20 3-16-4-28 7-12-4-5-6 21-7 0-2-28 0-7-3-5-8-8-4-28 3-16-7 36-2 12-8 20-2 8-6 16-6-9-4-4-4 1-1 8-3 25 0-1-12 8-8 2-8-18-4 4-6 13-2-8-4 11-1 12-5 19 2 4 4-9 4-4 4 22 6 12 1 8 5 8-36-2-4-31-20 3-16 10-10 12-5 16-3 28 2 5-8 7-2 8 0 16 6 16-4 20 0 4 2 4-4-3-6-5-2-20 0-16 4-36-5zM1212 896l-4 4-2 8-7 4-11 14-1 10 10 4 0 4-2 4-11 6-9-2-7 4 4 2 12 0 4 8 4-1 26-25 14-28 20 4 2 4-17 20-1 8 7 4 5 0 17-4 5-4 2-4 2-20 11-8 4-8-1-5-8-4-20 3-40-5zM1256 832l-5 4 9 0 8 8 0 4-1 4-12 12-1 16 2 5 12 3 20-4 6-4 15-16 0-12 17-12-2-2-32-1zM1336 996l-12 4 2 4-10 8-1 4 17 12 8-1 10-7 5-12-5-12zM1344 979l-2 1 4 4 6 3 4 1 5-4-4-4zM1396 399l-1 5-7 8 5 4 11 0 0-11zM1404 352l-3 0 7 4 4 0 6-4-6-2zM1168 1400l-11 4 11 3 9-3-3-4zM1228 1400l-36 15-1 5 2 4 23 6 38-10 1-4-6-4 0-8zM1232 1391l0 2 4 1 16-2-12-3zM204 1347l-9 5 1 4 16 7 24-1 7-6 2-4-17-6zM12 1308l-3 0-1 4 8 4 8 3 7-3-1-4-5-4zM80 1271l-8 5-8 11-8 1 1 4 19 3 12 8 32-4 5-3-5-8 4-1 32-3 20 4 12-4-1-4-10-4-29 1-60-9zM116 836l-8 4-6 8 10 8 8 1 16-7 16-2-4-5-12-1zM236 923l-10 9-1 8 7 12 15 16 2 4-2 4-7 4-8 1-10-5-1-20-8-8-1-12-4-5-8 11-20 6 0 4 3 4 1 6 13-6 3-7 4 0 1 3-4 8 6 16-4 4 5 1 4 7 10 8 1 4-8 8 1 4 14 12 14 4 8-9 12-6 12 1 10 6 11 0 5-4-1-4-21-37-4-4-12-6-11-17-1-12-12-15zM304 860l-20 12-4 4 0 5-13 3-3 4 0 4 16-2 8 4 5 6-5 3-10 1-6 5 16-1 8-4 8-8 5-12 1-12-2-8 3-4zM692 284l-4 4 16 0zM724 348l-1 4 9 2 12-1 5-5-5-2zM760 320l-9 4 13 6 17-2-9-6zM796 340l-13 12 14 8-1 5-10 3-1 4 11 8 28 4 1-4-7-4 2-4-1-4-10-8 0-4 12-8 2-4-19-5zM868 322l-24 9-13 9 20 12 21 8 22 0 10-7 14-5 0-4-6-4-28 2-16 3-6-1 0-4 26-3 12-6 20-3 0-4zM940 1162l-52 26 12 3 7 5 2 4-3 4 6 8 32 11 16-1 7-6 5-2 28 4 20-1 20 5 12-2 1-4-5-3-36 1-20-6-3-4 3-2 24-1 12-5 3-4-23-10-41 10-15 6-12 3-10-1-1-4 3-4 1-12 7-8 2-8zM988 320l-16 2-8 6 4 4 39 0 10-4 2-8zM1052 1064l-12 12-16 28 16-4 21 0 15-4-7-8-11-4-5-12 4-4-1-6zM1068 124l0 9 3-1zM1088 1256l-33 8 9 8 26 0 3-4 2-8 5-4zM1116 1407l-25 13 3 8 6 2 16 0 16-2 6-4-1-4-5-4-3-8zM1128 1300l2 4 6 2 6-6zM1140 1218l-3 2 2 4 5 1 6-1 4-4zM1148 990l-5 6 5 12 22-12-2-5-4-2zM1196 1100l-4 3-8 1-4 4 8 2 12-1 6-5-2-5zM1272 963l-23 9 2 12 25 4 12-3-3-5 4-8-1-4-8-5zM1212 1438l-4 2 0 6 8 1 7-3-3-4zM228 1375l0 2 4 2 5-3zM200 1056l-7 4-2 4 13 9 12 0 9-9-15-8zM260 1131l-8 5 12 3 6-3-1-4zM304 1030l-4 10 4 2 8 0 4-6-2-4-6-4zM732 364l-5 4 13 0zM760 436l-14 4 28 0-2-5zM872 451l-1 1 9 1 3 3 1 10 16-10zM936 1227l-5 5 9 2 9-2-5-6zM952 1419l-4 1-1 4 5 3 4 0 7-3 0-4zM972 1228l-1 4 13 5 14-1 4-4-14-5zM976 486l-2 2 2 5 7-1zM1036 1111l-8 3-8 0-14 10 10 0 12-7 17-1 1-4-2-2zM1156 1231l-14 5 2 4 20 7 20-5 21-2-33-8zM1180 1208l-9 4 13 9 13-1 0-4-11-8zM1256 1004l-27 4 3 4-3 4-9 4-4 8-13 8-3 13 8 2 20-3 12-10 14-6 0-8 23-8 2-4 0-4-7-3zM264 1243l-3 5 7 2 7-2 2-4-5-2zM316 1044l-11 8 7 8 10 4 8 8 4 20 2 4 0 11 24 1 10 4-11 4-11 9-24 1-10 14-12 8 38 12-1 4-7 7-20 5-12 8 4 3 24 3 10-6 3-8 5-4 22-6 16 0 5 2 11 12-2 28 9 4 9 0 20-7 12 5 16 14 8 1 22 11 1 4 10 8-1 4 7 8 1 13 6 7 13 4 29 2 4-6-10-8-1-4-13-6-6-6-25-12-9-8 2-4-1-4-13-20-12-11-17-9-3-4 5-12-2-12 9-3 28-1 24 8-12 2-20 7-3 3 0 4 6 8 0 4 5 4 23 4 3 4-4 4 5 4 0 4 3 4 30 6 4 2 2 8 5 4 22 8 39 7 24 9 60 5 7-1 12-8-1-4-6-2-15-14-17-5-29-23-34-20-1-8-4-2-8-1-4 2 6 9-3 4-24 4 2 4 8 4 2 4-7 6-12-1-16-7-8-12-10-6-2-4 4-5 16-9-1-6-11-3-22-1 4-4-58-18-28-18-40-21-25-19-51-30-11-10zM748 1216l0 5 11 15 7 4-3 4 5 5 12 0 8-7 15-6-30-20zM884 1191l-24 6-20 0-8 1-1 2 4 4 17 2 4 2 4 8-6 8 1 8 11 8 11 4-1 4-18 4-16 12-2 4 9 4 12 0 21-8-2-4 4-9 16 0 5-3 0-4-7-8 10-8 1-4-5-4-4-8-15-16 1-4zM1036 1156l-8 2-6 10 6 4 8 0 14-8 0-4zM1156 1260l-3 4 7 4 12-1 3-3-11-5zM1276 1030l-2 2 10 6 10-2 5-4-15-3zM332 1432l-7 4 15 0zM408 1255l-5 5 7 16 15 0 2-4-3-4 2-4 6-4-4-4zM572 1314l-1 2 7 8-1 8 8 8 35 8 4-3 2-5-3-8 4-8-6-4-17-1-24-6zM680 1319l-2 1 4 8 6 2 17-2 2-4zM748 1340l-4 4 0 4 12 4 16 1 5-1 1-4-10-8-12-2zM864 1336l-9 4 0 4 5 12 15 16-8 4-1 4 9 8 5 0-3-16 26-8-7-12-15-12-6-4zM1280 1059l-8 3-24 2-10 4-29 16-6 4 0 4 5 3 28-1 6 2 2 4 4 2 24 6 36 2 10-14-10-9-16-2-12-5 28-11 0-5-8-5zM424 1332l-23 8-3 4 7 16-8 4 1 4 6 4 0 4 4 5 8 0 4-5-2-12 13-8 2-4 15-8 2-4 1-4-2-4zM620 1348l-3 4 5 4 38 20-1 4-5 4 5 4 13 3 5 9 3 1 16 3 20-3 20-13 6-8-2-4-22-8-3-4 1-4-1-4-5-4-62 4-12-1zM1240 1248l0 4 4 0 3 4 13 0-16-9zM861 12l15 0 7 4-1 4-6 4-12 2-8-1-8-4 0-5zM0 16l0-3 8 1 8 6 0 4-16 3zM69 20l11-4 23 4-23 4zM804 24l16-2 28 6-32 2-11-2zM547 40l5-1 12 7 8 1 4 5-14 0zM599 44l25-3 7 3 3 4-2 3-8 1-20 0-13-4zM697 48l7-3 16 0 19 3 4 4-11 8-12-2zM779 48l13 1 10 7-8 16 13 12-7 3-8-1-16-3-4-3-7-16 1-4 4-8zM130 68l6-3 4 3-8 2zM994 68l16 0-10 6-8 0-4-2zM319 80l5-4 9 4 4 4-16 8-14 0 13-7zM375 100l5-4 7 4 9 20-4 8-8 6-18-14-2-4zM725 100l19-1 15 5-7 3-16 1-16-1-4-3zM836 100l20-2 3 2-5 8 2 4-4 4-21-12zM303 108l21-3 16 3-4 5-19 3-4 4 11 12-16 6-12 1-7-3-7-8 2-4 17-8zM781 112l11-3 12 3 4 4-1 8 2 4 11 5 22-5 0-4 6-6 5 6 2 12-2 4 2 4-4 4-35-2-20 2-8 6-16 3-28 1-8-4-2-2 2-2 14-6-5-8 3-4 24-4 11-4-1-4-7-4zM75 120l5-3 20 1 38 14-18 6-16-1-28-6-4-3-1-4zM243 128l5-1 17 5-9 5-12 1-5-2 0-4zM129 144l51 0 9 4-9 8-20 2-28-9zM63 160l13-2 8 6-8 4-8-1-8-3zM606 168l22-3 8 3-4 4-16 8 6 12-1 4-3 4-10 3-20 0-12-3-5-4 0-4 10-8 16-4 7-4-2-4zM775 176l9-3 12 2 15 13-14 4 3 8-8 3-24 1-28 6-4-1-5-5 0-4 9-5 36-9 3-2zM317 180l3-3 4-1 4 4-3 4-5 1-3-1zM123 188l9-2 16 1 16 8 20-8 40 3 5 2 7 12-8 6-6 2-5 4-1 4-12 3-28 3-12 7-16 5-4-2 1-4 7-5 10-3 0-4-6-2-7-6 14-8-3-5-16-1-8-5-8 0zM196 208l-3 4 7 2 5-2-4-4zM664 200l4-3 6 3zM328 204l8 0 3 4-11 1-2-1zM446 208l6-4 8 3 5 5 6 12-2 4-9 4-16 27-12 7-8-5 0-5 6-8 12-8 2-8-1-12zM466 208l18-4 10 4-14 3zM360 216l4-3 4 3-4 3zM735 216l5-1 22 5-18 6-8-1-4-5zM408 220l4-4 4 1 5 7-1 7-4 1-8-3-2-5zM1003 220l5-3 12 0 15 7-15 6-12-4zM478 232l2-2 4 0 4 2 0 4-6 0zM745 232l3-1 12 3 5 2-2 4-11 4-12-1-3-3 0-4zM819 236l9-2 8 1 3 9 5 4 11 4-19 10-8 1-8-3-8-4 1-4 11-4 5-4-12-4zM514 240l6-3 8 3-6 8-6 2-5-2zM195 272l9-3 1 3-5 2zM517 276l11 0 11 8 1 16-4 6-16-11-20 2-4-1-3-4 3-3 12-1zM176 292l16 2 16 10 0 4-24 5-25-5 9-12zM553 312l19-2 4 2-1 4 1 1 8 4 19 3 1 4-8 2-20-2-20 4-16-1-2-3 8-12zM479 328l6 0 3 4-4 4-4 1-18-5zM551 344l2 0 4 4-13 0zM499 412l5-3 16 0 4 3 2 4-6 3-12 0zM243 416l12 0 4 4-1 4-6 1zM319 420l7 0 2 4-8 12-4 1-4-3 0-6zM172 424l12-4 8 2 6 6 2 9 32 6 2 5 17 8-3 5-8 2-20 0-16-4-20 6-3-5 4-8-7-8-3-8 3-4zM383 452l13-4 28 5 5 7-3 4 5 8-15 7-8 2-8-2-4-3 1-8-10-4-5-8zM140 484l8-1 6 5-9 4-1 6-24 3-10-1 0-4 6-5 20-4zM183 496l30 0-3 4-14 1-9-1zM396 496l4-3 4 3-4 2zM199 516l13 0 5 4-9 4-8 0-5-4zM18 628l6-2 9 6 1 12-6 6-8 1-8-7-1-8zM1215 908l3 0 4 4-6 2-2-2zM0 944l30 4-3 4-7 2-20-1zM84 944l4-3 4 1 6 6-6 6-8 0-4-2-1-4zM87 964l5-4 4 1 13 11-13 6-8 0-5-6zM0 1008l0-2 20 0 4 2-10 4 1 4 9 6 9 2-20 12-13 2zM0 1072l8 1 5 3-6 12-7 0zM37 1080l23-4 16 4-1 4-27 8-9-4zM373 1120l3-3 12 1 17 6-9 3-12 0-11-3zM2 1124l6-3 12 3-1 4-15 4-4 0 0-7zM383 1148l9-1 1 5-14 0zM0 1152l4-3 4 0 23 3-15 3zM1429 1160l7-4 20 3 0 7zM1408 1176l8 1 16 8 24 0 0 21-12-5 0-5-4-5-20 4-16 1 1 4-4 8 4 4 14 4 3 4-2 1-16 5-20 1-12-2-9-5-3-4 16-4-4-1-6-7 1-8-3-8 12-5 20 8 4-1 0-6-3-4zM1326 1228l10-1 11 5-1 4-10 6-8 1-14-7 6-7zM1195 1308l8 0 3 4-14 5-24 5-15-10 3-3 8-1zM1357 1320l3-3 12 0 9 7-5 3-16 0-6-3zM1444 1320l12-1 0 38-7 3 1 4 6 1 0 18-24 1-18-4-5-4 9-8-2-3-15-1-3-4-17-8-21-2-7-6 7-3 32-2 12 3 16 8 8 0 3-2 4-24zM1273 1332l15-3 20 4 9 7 3 8-5 4-13 4-18 10-20-4-4-12-12 0-7-2 7-4 8-2zM132 1368l8-4 3 4-3 7-4 1-6-4zM0 1384l0-3 20 2 12 13-8 3-24 1zM1427 1396l13-2 16 4 0 9-28-1-4-2zM112 1404l12 0 13 4-5 2-32 3-12-1-2-4 10-3zM139 1412l5-2 12 2-8 2zM63 1444l9-2 12 1 5 1 1 4-18 3-9-3zM630 1456l6-3 18 3z"/><path fill="#494949" d="M189 0l53 0-6 5-24 1zM334 4l14-4 36 0-12 5-2 3 3 4 0 8 2 4-2 12-2 4-15 12-8 2-8-2-10-12-1-8 2-4 9-8zM414 0l92 0-18 10-24 1-24 8-4 0-10-11zM984 0l29 0-21 6-7-2zM1106 0l116 0 1 4-7 10-8 3-8-2-8-7-10-4-58 2-12-2zM1246 0l210 0 0 75-8 1 0 4 8 2 0 14-2 0-1 4 3 1 0 14-9 1-4 4-2 16-4 4-5 14-2 18 1 24 3 4 22 1 0 25-21 2-4 16 25 5 0 31-3 12-5 8 8 9 0 702-22 9-9 8 1 4 8 4 14 6 8 0 0 35-12-2-16-10-40 3-8 4-2 12-8 16 1 4 21 1 3 3-1 8-25 12-5 12 20 3 4 6-4 4-16 4-44 3 6 4-10 12-8 4-3 4 3 4-1 8-8 8 17 4 4 4-1 4-7 3-20 1-4 8-12 6-20 0-16-3 2 5-10 12 1 4 20 12-9 9-12 2-44-5-25-14 12-4 1-4 4-2 19-2 7-4-9-4-17-2-8-4-22-2 5-8-3-3-20-5-6 0 4 12 10 5 1 3-7 4 2 4 18 8 5 8-10 4-2 4 7 8-10 6-12 2 24 5 5 7-21 2-21 6 9 8-3 8 6 8-2 4 11 8 2 4-10 4 1 4 24 8 1 4-7 8-1 12 6 4 4-1 8-5 32-6 1-4 15-6 12 6 1 4 12 8-1 2-4 2-8-2-4 3-4 3 2 8-26 14-12 1-8-3 5-4-4-4-9-2-8 0-16 5-28 1-12 4-28 15-16 1-11 8-13 4-6 4 16 12 10 4-232 0 1-16 11-8 1-4-8-4-37-8-24 7-16-5-48-7 4 5-2 4-15 16 1 4-8 2-24-8-8-6-5-8-29-12-5-4 0-4-6-8 3-4-1-4-5-4-28-8-28 0-10 4 10 6 17 22 14 12 5 16 5 8-2 8 4 8-80 0-3-4-15-8-29-4-4-4 3-4 19-4-6-8-20-9-8-11-8-1-10 1 3-4 0-4-17-4-2-4 6-8-2-12 28-20 3-8-1-4-24-2-20 6-9 4-3 4 6 12-1 4-6 4 0 4 5 4 5 12-9 3-20-1-4 2 0 4 15 20 13 6 33 6-25 2-14 6-6 8 0 16-56 0-4-8-11-8 3-2 20 1 4-3-4-4-8-2-16 6-16-6-10-6 0-8-3-4-13-12-32-16 4-4-10-11-4 0-10 7 2 4 16 4-11 8-2 4 10 12 1 4-14 12 8 4 17 4 3 4-1 20-8 0-6-8-5-3-28-5 3-4 11-8 2-4-36-7-9-5 5-4 14-4 0-4-22-8-26-4 2-4 20-4 4-4-2-8 2-4 12-6 8 0 16 6 24 3 4 0 4-4 8-11-7-4-21-4-20 2-16 7-28-4-12 2-8 5-12 0-23-4-25-8-16 3-13-7-2-4 23-2 20-6 16 3 20 11 36 2 56-7 13-5 4-4-2-4-11-4-28-1-12-5-20 3-12-2-10-3-12-12 10-6 19-2-7-4 4-1 8 0 8 4 17-3 6-4 0-4-3-4-8-2-48 0-30-6 62-9 20-1 8-2 3-4-8-8-31-4-14-8 10-16 8-8 0-8-20-4-1-8-9-4-2-4 8-9 21-3 7-4-1-4-10-8-8-16-11-8 2-8-1-4-12-8 1-24-15-8-4-8-12-8 8-8 0-4 3-4 19-8-3-3-15-1 15-1 17-11-1-4-7-8-5-20 9-8-6-12 2-16 11-16-1-4-14-16 0-4 5-8-1-4-9-2-8 2-5 4-1 8-2 3-12 10-4 0-10-9 4-12-6-8-12 7-12 3-12-2-8-7-8 4-24-2 0-20 12-1 2-2-14-9 0-105 16 1 20 5 19 16 23 32 11 20 3 3 8-2 3 3-6 8 9 8-4 4 14 0 16-6 25-6 0-4-9-4-8 0-20-5-20 1-10-8 9-16 2-20-9-8-2-4 6-5 19 1 8-8 0-4-11-29-12-7 3-4 0-4-22-60-4-24 0-28 5-28 8-20 10-8 12-4 92-3 16-3 24-7 12-12 16-8 12-2 12 6 8-2 3-1-1-12 6-5 8-3 5 4-1 4-10 20-6 4 26 28 1 16-1 8-11 24-11 12-38 16 30 7 15 9-2 4-17 8-26 4 17 40 6 24 3 3 7 1 2 4-10 4 5 21 4 7 8 7 8 0 12-9 8-3 48-13 28-68 7-30 1-36 11-28 18-32 33-28-10 0-7-8 0-16-3-8 14-4 3-4-2-16 6-16 9-5 7 5 5 12 0 20 8 4 24-2 16 2-1-8 15-4 4-4-18-8-4-8-10-8 6-6 10-2 3-4-9-8 3-4 19-4 1-4-16-4-5-4 5-12 17-10 8-1 9 3 3 8 4 2 4 1 16-4 30 5-30 5-15 11 7 3 28 1 20-2 4 1 12 10 36 6 8 7 24 3 16-4 5 7 3 1 16-1-14-8 6-3 4-7 7-2-15-4-16 3-16-1-20-9-6-5 24-8-4-8 15-8-2-4-11-5-8 0-20 3-16-8-5-6 5-10 8-6 1-8 7-2 5 2-2 4 7 8-3 4 2 4 9 4 10-1 5-3-1-4-13-4 21-7 4-5-4-4-8-2-24 1-12-3-16 2-24-4-16 2-5-4 5-4 1-4-3-4 58-16 5-4 1-4-10-3-24-2-24 3-19-6 39-7 8 4 16 4 12-8 48-1 24 2 16 5 8-2 24-11 7 2-1 4 6 6 14-2 18-8 12-12 15-4-11-8 4-12-8-12 3-8-1-8 2-3 8-2 28 4 15 9 17 4 20 13 8 3 28 2 28-5 24 5 24 2 1 4 3 0 24-3 14-5 0-4-6-5-32-7 26-16-2-4-12-6-3-6 3-11 4-1-56 1-16 6-32-3-8 4-6 8-1 4-13 6-12 1-11-3 0-4 17-4 4-4-10-5-16 2-10-1-17-20 7-5 20-1 3-2 1-4 16-4 5-4-13-8 34-4-3-12 13-17 8-5 20 3 20 8 7 7-1 4 3 12-3 4 22 4 5 0 7-4 4-4-6-12-3-4-7-4 4-8-1-8 4-20-1-4-6-7-20-7-17-10 3-16 10-9 12-5 12-2 32 2 2-2-2-4 8-5 8 1 12 7 16 3 12 5 48-5 8-3 6-7 10-8zM1364 555l-8 5-14 0-9 8-2 8-3 24 0 24 7 8-6 8 5 52-2 16-4 13-9 11-15 6-16-3-16-11 0 11 12 13 0 4-4 5-8 3-2 4 2 4 4-1 3 5-8 8-12 8 1 5 8 7-4 12-5 4 8 4-1 4-13 4-9 8 4 3 12 1 5 4 1 4-4 8-10 8 0 16 4 7 20 3 8-1 8-5 18-20 0-8 2-4 12-9 12-3 2-4-8-8 14-15 9-5 4-12 11-12 1-16 3-2 30-2 7-4-7-8 1-4 5-4 6-20 8-8-11-4 16-12-4-4-9-4-22-5-14-15 2-4-3-8 5-16-2-20-5-8 1-4 9-8 3-12-12-33-4-4zM1388 344l-15 12 27 5 12-3 9-6-3-4-18 0zM316 852l-48 23-1 1 3 4-6 1-36 7-12-2-16-6-9 0 11 8-1 8 9 12 0 8 3 4-17 22-12 2-7 4 0 4 3 4 0 20 6 8 18 0 15 12 1 4-9 8 17 17 12 4 8 0 6-9 10-6 8 1 10 5 10 2 8 0 6-6-2-8-28-52-2-12 3-8-17 3-14-11-1-4 4-16-8-8 1-4 6-3 24 2 8-2 6 3 0 4-16 4-5 4-1 4 15 8 5 8 20-22 4-8 9-38zM400 816l0 2 4 1 6-3-2-2zM508 500l-4 3-11 1 1 8-3 12 1 2 20-16 19-6-11-5zM592 1172l-1 0 5 4 14 0-4-4zM612 439l-5 5 37 3 4-1 7-6-7-2zM748 1215l-3 1 1 4 7 8 1 8 5 4 2 8 7 3 12 0 10-7 15-4 3-3-32-21-8-2zM700 327l-4 1 4 3 14-3-6-2zM752 320l-4 4 8 8 24 1 4-1 2-4-13-8zM868 319l-9 5-19 5-8 4-4 0-9-5-7 0 0 4-4 2-20 0-2 2 1 8-7 4-2 4 14 8-2 4-13 4 15 17 16 8 12 1 44-1 28 4-24-14-16 4-12-2-15-9 0-8-11-8 0-4 18-9 32 13 24 3 12-3 8-6 17-6-11-12 2-4 9-4 0-4-33-1zM936 350l-2 2 10 2 4-2-8-3zM956 312l6 8 1 12 5 2 44-2 13-4 5-8-6-4-24 2-20-6zM988 299l-10 5 6 2 12-1 5-1 2-4zM1004 259l-3 1 7 3 15-3-7-3zM1040 336l-4 3 2 5-7 8 7 8 12 4 10 1 16-6 2-3-2-3-16-7-14-10zM1084 368l0 4 9 0-2-4zM1036 143l-3 5 0 4 3 1 7-1 10-8-9-2zM1160 268l-8 3-18 1-8 4 2 3 64-7-4 0-4-4zM1216 892l-7 4-3 8-18 20-3 12 8 4 2 4-3 4-4 2-17 2-8 8 1 2 16-2 5 8 3 1 4-2 29-27 4-12 7-8 8-3 8 3-3 4 1 4-11 12-1 4 2 5 8 5 8-1 15-5 6-4 1-20 15-16 1-8-2-3-8-3-20 1zM1344 975l-7 5 7 8-4 4-16 4-6 4 2 4-3 4-13 7-9 1 13 1 7 3 4 4-19 6-24-4-9 6 13 10 4 0 29-6 15-6 18-2 7-8 4-12-1-16 8-8 0-4zM1352 947l1 5 3 1 19-1 8-4-19-3zM1388 362l-9 6-1 4 6 4 8 0 6-4-6-8zM196 1056l-8 8 3 4 16 8 9-1 12-11-20-10zM252 1132l-8 4 5 4 15 1 4 0 5-5 0-4-9-3zM304 1026l-4 2-3 12 5 8-2 4 28 20 7 28-3 8 25 4-6 4-1 4-6 4-21 0-11 15-12 7-2 2 4 4 33 8 0 4-3 2-20 8-15 10 5 4 26 4 13-8 4-8 7-5 20-5 12 2 13 12-1 4 1 8-3 16 7 4 11 2 20-6 12 2 19 14 17 6 9 6 19 24 0 9 7 11 33 9 16-1 2-8-9-8-2-4-41-24-8-8-8-16-10-15-8-8-16-7-6-6 5-12 0-12 29 0 4 4 0 4-8 2-5 6 0 4 6 8 0 4 3 4 16 4 4 3 0 5 12 12 31 8 8 12 9 4 24 6 13 6 59 11 48 3 7-2 11-8-2-4-12-7-4-6-24-9-27-22-32-20-3-4 1-4-9-4-10-2-3 6 4 8-5 4-21 4 3 4 8 4 3 4-5 4-8 0-16-5-4-3-4-8-13-12 5-6 16-5 2-9-13-4-5-4-32-7-44-16-68-39-25-18-47-28-17-12-7-12-4-3zM636 452l-17 4 1 8-16 12 3 4 5 0 20-7 64-1-1-4-3-1-52-2 0-5 10-4 4-4-10-2zM748 1338l-7 6 0 4 23 8 12 0 7-4 1-4-12-8-12-3zM900 408l-8 3-19 1-2 4 13 1 12 6 6 5-2 2-32 1-28-4-8 1-4 4 28 8 20-3 12 0 12 8 20-4 24 0 12-6 20 6 20 15-8 4-20 0-24 4 16 12 12 24 4 4 8-5 28-29 8-4 8-1 16 8 6-9-40-4 30-8 7-4-1-4-6-1-4-3 8-11 4-1 0-4-4-4-20 0-8 3-8 0-12-8-20-4-16-2-4 1-4 4-16 2-4-2-2-6-2-1zM1000 364l2 4-3 4-17 8-6 2-28-1-13 7-1 4 10 5 12-3 16-1 12 9 7 2 17 0 9-8 14-8 0-4 5-4-1-4-31-13zM1040 389l-2 3 17 0-11-4zM1144 987l-4 9 4 14 4 0 14-6 11-8-1-5-4-5zM1168 703l-6 9 2 4 20 23 4-4 0-7-8-13zM1232 963l-6 13 2 1 14-9-2-6-4-2zM1268 963l-24 9 3 4-1 8 6 4 16 3 21-3 4-4-4-4 2-8-3-7-8-4zM1272 1059l-24 3-15 6-32 20 0 8-21 8-8 9-16 3-16-5-6 1 1 4 5 2 36-2 20-3 8-3 8-6 2-8 10-2 12 2 6 8 26 6 36 3 8-1 8-16-11-12-18-4 21-11 1-1-2-4-3-4-12-3zM1392 391l-2 1 0 12-4 8 6 5 12 2 4-7 0-4-8-12zM216 1230l-2 2 3 4 0 4 8 4 1-4-4-4 2-6zM224 1123l-4 3 3 6 9 2 4-2-4-6zM356 1372l-5 4 9 3 8-3-6-4zM408 1254l-4 2-2 4 5 16 9 3 12-3 2-4-2-4 8-8-8-5zM532 1335l-4 1-3 4 11 2 8-2-3-4zM564 1312l11 12-1 8 8 8 28 8 7 8 33 16 5 4-2 4-6 4 4 4 17 4 8 10 20 4 12 0 12-5 19-13 6-8-2-4-23-10-3-10-4-4-13-1-32 4-28-1-12-6 1-8-4-8 4-8-4-4-17-2-28-7zM672 1314l-2 2 1 4 8 8 9 4 8 0 12-4 4-4zM868 448l-2 0 0 4 12 4 3 4 0 8 3 4 20-12 0-5-27-7zM944 1155l-64 32-24 6-20 0-7 3-3 4 2 4 25 4 4 8-6 8 1 8 4 4 16 8-20 6-7 10-7 4-2 4 8 4 12 2 24-5 6 3 0 4 2 1 12 0 2-9-10-3-7-5 7-6 12-2 4-3 0-5-6-8 18-15 8 0 6 3-7 4-2 4 4 4 11 1 20-3 28 4 14-2 4-4-9-8 11-4 12-1 20 5 15-4 1-4-4-4-53-4-2-4 23-2 15-6 2-4-11-4-10-9-16 0-8 6-29 7-15 6-12 0-3-2 2-8 0-8 7-8 6-12-1-4zM964 1144l-14 8 12 0 4-4zM1048 475l30 21 12 16 21 44 9 9 12 3 4-4-3-4-12-8 6-4 10-12-1-4-46-36-6-1-3-7-9-8zM1232 1004l-4 0-4 4 1 4-11 16-12 8-4 12 1 4 14 0 18-4 7-4 3-4 19-8-1-8 27-8-3-8-11-5zM1148 1131l-2 5 10 4 20 0 14-4-6-4zM1220 1152l-12 4-5 4 7 4 10 2 12-2 0-4zM268 1238l-11 6-1 4 4 3 11 1 8-4 1-5-8-6zM860 1335l-7 5 4 16 10 12 1 4-5 4 1 4 8 9 8 3 4-1 2-3-6-8 1-8 27-8-21-24-15-6zM948 1418l-4 6 5 4 11 1 6-5 0-4-2-1-8-2zM1076 1036l-40 40-21 36-23 16 20 0 12-7 20-2 4-2 4-13 27-4 10-4-7-4-2-4 4-3 8-3 20-3 6-3-18-2-17 2-15 5-8-3-3-6 6-4-5-8 25-24zM1128 1023l-17 5 3 4 10 0 6-4 2-4zM1136 1088l-7 4-6 8 13 2 7-2 9-12-4-2zM1168 1167l-1 5 13 6 8 1 7-3-1-4-6-4-12-4zM1208 1203l-8 4-32 1-3 4 15 12 8 1 24-7 28-2 2-4-14-1-12-9zM1212 1191l0 7 4-1 0-4zM1028 1156l-9 12 9 7 12-1 16-10-1-4-6-4zM1080 1256l-26 4-3 4 9 10 32 0 9-2-4-8 9-8-14-3zM553 8l23-3 16 3 6 4-5 8-9 4-36-5-7-3 0-4zM239 12l5-3 4 0 24 15-6 20 3 12-5 4-12 4-24 1-20-4-13-5 1-4 8-7 21-5 5-4-5-4-13-2-8 2-4 8-4 3-16 5 2 8-8 0-14-8-13-4-6-12-15-4-3-4 21-1 20-8 48 10 20-7zM0 16l0-2 8 2 5 4-1 3-12 2zM852 16l16-4 12 4-4 5-12 2-12-3zM526 24l10 0-8 12-4 2-9-2 0-4 11-4zM110 32l10 0 2 4-14 5-9-1 0-4zM446 32l40 0 7 4-45 2-6-2zM609 44l15 0 4 4-16 2-15-2zM704 48l24-1 10 5-6 4-4 0zM773 52l7-3 8 0 10 7 0 4-7 12 10 12-9 0-17-4-8-16zM1017 96l3-2 10 2-10 2zM844 100l8 0 0 4-8 3-9-3zM727 104l9-3 13 3-13 2zM309 108l25 0-2 4-20 3-7-3zM790 112l10 1 5 3-1 8 8 10 8 1 24-5 4 1 2 5-1 8-9 2-24-2-12 1-15 3-2 4-11 3-32 1-6-4 12-4 4-4-6-9 6-3 22-4 10-4-1-4-5-4zM299 120l9 1 13 11-17 5-12-2-5-7 3-4zM80 124l16 0 9 4 20 4-9 3-8 0-16-6-11-1zM245 132l7-2 7 2-11 4zM147 148l21-2 14 2-6 6-8 1-16-3zM611 172l9-2 5 2zM781 176l11 0 9 8-2 4-11 4 4 8-12 1-15-5 2-4 15-4zM894 176l15 0 0 4-13 0zM588 184l20-2 8 6 2 4-2 4-8 5-24-1-3-12zM180 192l8-2 36 4 10 10-6 5-8 2-20-7-17 4 1 4 7 4 12 4-15 3-16 2-5-5-11-4-2-4 14-7 0-5zM746 196l14 0 5 4-21 6-10-2 2-5zM883 200l12 0 9 4-16 4-8-1-4-3zM1010 224l6-3 12 3-8 3zM156 228l11 0-11 6-6-2zM740 236l8-3 13 3-2 4-11 2-8-2zM825 236l7 0 2 4-10 0zM614 244l18-4 24 6 12-4 20 3 12 6 4 5 1 8 11 8-4 5-8 5-28 0-12-4-36-6-31-16 0-4zM830 248l6-1 12 5-2 4-14 5-17-5 1-4zM742 264l6-2 5 2-9 4 0 4-8 0zM175 296l9-1 8 2 13 7-1 4-16 3-21-3 0-4zM561 312l11 0-8 3zM553 320l11-3 12 6 20 1-4 3-16-3-24 4-8 0zM687 388l5-2 16 1 7 5-7 5-8 1-12-4-3-2zM502 412l14-2 5 2 0 4-13 1zM178 424l10 0 5 4-5 3-4-1zM182 436l6-1 16 7 24 1 2 5 18 8-4 4-8 2-12 0-20-6-16 6-3-2 6-8-9-8zM387 452l9-2 7 2-3 4 5 4-1 4-8 1-5-1 0-4zM413 468l7-1 5 5-13 6-8 0-4-2 4-6zM119 496l9-4 8 4zM344 524l7 0 0 4-4 4-11 2-13-2 13-3zM21 628l7 0 6 8-1 8-9 6-8-3-4-7 2-8zM1 752l27-3 8 3-24 2-12 4zM0 948l0-3 19 3-3 4-16-1zM88 968l8-1 7 5-11 3-4-3zM86 988l10-3 10 3-2 5-8 4-11-5zM0 1008l13 0-4 4 7 12 0 4-3 4-13 4zM0 1076l0-2 8 2-4 6-4 1zM44 1080l16-2 9 2-2 4-19 4-6-4zM378 1124l6-2 13 2zM0 1172l12-4 36 1 8 3 6 4 10 13 6 3-3 4 1 4 6 4-2 4-16 9-28 5-10-6-1-4 7-7 6-1-10-2-11-6-9-12-8-6zM1402 1180l6-2 8 1 4 5 8 4-3 4-5 1-12-1zM1367 1188l9-3 14 7 9 8-4 8 2 4 15 4 7 4-23 6-20-2-5-4 1-2 13-6-12-4-4-4 2-8zM1450 1188l6-1 0 17-9-4zM894 1192l6 1 5 7-5 3-8-2-5-5zM967 1220l9-4 18 4-2 4-20-1zM37 1228l3-1 3 1-3 4-4 2-2-2zM1322 1232l10-3 9 3-5 5-8 1-6-2zM32 1240l4-3 32 4 4 3-12 6-11 2-2 4 25 0 11 4-1 4-14 10-17 2 0 4-3 3-12 0-4-3 4-8-3-4 10-8 0-4-12-4-2-8zM1273 1248l15-4 20 2 12 4 25 14 0 4 4 4 0 4-7 0-7-8-31 4-28-3-10-5 6-8-1-4zM39 1292l5-1 28 6 9 7-9 13-24 8-6-1-7-4 0-8-7-6-28 1 0-13 24 9zM99 1304l13-1 7 5-3 4-8-1-9-3zM1158 1312l10-2 32 2-28 7-8-2zM0 1316l0-2 10 6-10 1zM1359 1324l9-4 8 4-8 2zM1441 1324l15-3 0 33-15 6 3 4 12 3 0 15-24 1-19-7 7-7 10-5-1-4-37-5-8-4-20-3-6-4 10-2 28 0 24 12 8 0 6-2 2-4 2-20zM1282 1332l26 4 5 4-2 8-27 14-16-2-2-4 8-8-12-4 2-4 8-6zM0 1340l0-2 16 2 5 4-21 3zM62 1352l2-4 9 8-9 2-3-2zM1351 1376l17 1 20 7 6 4-3 4-7 3-24 4-12 0-16-3-12 1-3 7 0 16-5 6-24-1-28 3 1 4 15 5 36 2 3 1-3 4-28-2-11 6-9 8-44 0-1-4 10-4 1-4-11-12 10-4 27-6 3-6-4-4 1-1 24 4 2-3-1-4-7-4-31-4 3-4 22-3 39-1 29-13zM0 1384l16 1 10 7 2 4-28 0zM1431 1396l9-1 16 5 0 5-24 1-5-2zM91 1408l9-1 10 1-10 4-4 0zM1141 1408l11-2 28 7 4 2 6 9 20 8-7 8-3 8-7 4-1 4-75 0-2-4 7-8 0-4-7-4 1-2 20-6 6-4 1-4-6-8zM159 1436l9-1 18 5-2 4-24 8-5-4zM70 1444l9 0 4 4-15 0z"/><path fill="#4c4c4c" d="M194 0l39 0-21 5zM417 0l85 0-14 6-20 2-28 8zM987 0l18 0-13 4zM1108 0l112 0 1 4-6 8-7 2-28-12-20-1-36 3zM1247 4l1-4 208 0 0 74-12-2-1 4 1 9 12-1 0 10-9 2-1 4 10 3 0 10-12 2-7 5-3 8 2 4-7 8-5 12-3 20 2 24 3 4 30 3 0 22-12-1-14 4-6 8-1 8 9 4 24 2 0 28-3 2-2 12-5 8 10 10 0 700-18 6-16 12 1 4 21 10 12 1 0 32-14-3-2-4 1-4-5-2-48 3-8 6-5 17-7 8-4 1-8-7-3 2 1 4 9 8 25 4 2 8-22 9-3 3-5 12 4 4 16 0 5 4-5 5-12 3-40 1-11 3 6 4 0 4-5 8-9 4-3 4 3 8-5 8-8 6-12 3-28 3 28 1 12-3 16-2 9 4-2 4-27 4-2 8-10 4-20 0-16-6-6 2 1 12-5 8 1 4 17 12-8 9-8 1-36-5-20-9-1-4 7-8 22-4 6-4-7-4-22-4-4-4 15-2 12-5 32-3 16-6-24-3-9-5-4-4 3-4 0-12-6-1-4 2-4 7-1 8-7 5-32 2-12 7-24-4-5 2 5 14 8 6-4 4 0 4 16 6 6 6-1 4-6 4-2 4 3 4-1 4-19 4-2 4 20 8 3 4-24 4-9 4 9 8-2 8 4 8-2 4 11 8-1 4-10 4 3 4 25 8 2 4-6 8-1 12 12 9 12-10 32-6 12 1 3 6-1 4-3 4 2 8-18 12-13 0 5-4-27-10-20 7-36 3-28 14-24 6-8 7-20 9 4 6 16 10-20-3-8 3-194 0 2-16 4-5 8-3-1-4-8-4-35-10-28 5-36-5-20-6 33-28-3-4-22-9-3-3-5-12-12-2-36 5-28-2-9-5 0-8-5-8 5-8-3-4-20-3-24-7-16-2-10 4 14 12-1 8 4 4 13 8 16 4 10 8 32 16 4 4-2 4-8 4 6 4 18 4 5 8 7 4 22 4 8 12-6 9-12 10-23-7-5-4-4-8-31-12-4-4 1-4-6-8 2-8-5-4-29-9-12-2-28 3-5 4 13 8 15 20 15 12 9 24-2 8 4 8-75 0-18-12-12-4-16 0-5-4 5-3 12-1 6-4-7-8-4-4-15-5-8-11-33-16 6-12-3-8 25-20 6-12-17-3-16 0-19 7-9 6 4 14-2 4-6 4 0 4 5 4 2 12-11 2-13-2-5-4 2-4-4-4-4-1-12 0-6 5 22 8 1 8 15 20 25 12-9 3-14 9 0 20-52 0-2-7-7-5 3-3 22-1-10-11-8-2-20 6-19-9 0-8-4-4-17-16-18-8-3-8-9-8-1-4 3-8 7-8-6-4-17-5-21-3 13-2 12-6 3-4-1-4-10-4-28-3-12-6-24 4-12-1-6-2-11-12 9-3 16-1 28-6 8-4 2-6-2-4-8-4-36 2-22-2-5-4 43-7 20-1 12-4 5-4-5-8-40-6-11-6 9-16 8-8 1-8-3-4-12 0-3-4 11-4-2-4-14 0-8-4 8-8 12 0 8-3 7-5 0-4-11-8-8-16-11-8 0-12-11-8 0-24-29-24 11-8-2-4 4-4 17-8-2-4 14-12 0-4-11-16-1-8 0-4 7-8-5-12 1-12 3-8 11-12-2-4-6-4-9-12 0-4 6-8-1-4-8-4-12 2-9 6 1 8-4 3-12 6-7-5 3-12-4-8 2-4-2-3-16 10-12 4-12-4-8-7-8 7-24-1 0-17 20 1 2-2-10-10-12-6 0-99 16 1 16 4 8 4 11 10 26 36 11 22 8 2-4 1-1 3 8 4 2 4-5 3 0 2 12 2 12-1 16-8 25-6-1-5-12-6-8 1-16-4-20-1-11-5 0-4 10-12-1-8 3-16-9-3-3-5 7-4 16 3 11-11-11-30-4-8-3-2-25-72-4-24 0-20 5-28 6-20 9-9 12-5 92-2 20-2 20-7 20-17 12-5 12 1 8 5 12-5 4 2-2 4-8 4 26 28 3 12-3 12-8 20-9 12-11 7-28 7-3 6 7 4 26 4 13 8-3 4-18 8-23 4 17 40 13 56 7 11 12 8 24-14 51-13 29-76 6-24 1-36 11-28 13-24 9-11 44-36 31-13-19-7-20 5-8 0-1 18-7 7-4 0-4-4-4-11 3-12 2-4 11-6-1-18 3-12 6-6 4-1 7 7 4 12-1 16 6 6 28-2 8 1 8 4 6-1 3-4-5-4 1-4 14-4 2-4-5-4-11-4-17-16 4-4 13-4 3-4-10-8 2-2 22-6 0-4-20-8 3-4 1-8 18-9 8 1 4 9 16 7 3 4-12 8 9 7 20-2 32-1 4 2 10 10-8 4 0 4 7 4-5 4 20 5 8-1 5-4-23-4 2-5 12-3 12 1 3 3-2 4 3 1 48 1 16 6 14-4-9-8 7-7 16-2 10-3-26-3-8-4-24 5-12-2-22-12 18-4 4-3-2-9 15-8-4-4-17-7-32-2-11-7 3-6 12-4 20 11 16-1 4-4 1-4 6-4 9-12-13-8 1-4 4-1 22 1 2 8-7 4-3 4 18 8-3 4-13 4 12 10 8 10 14 8 1 4-4 4 4 4 5-2 1-6 27-6 24 1 32 7 4-2-4-4-28-15-8-1-12 4-12-4-7-4 0-8-12-8 0-4 7-3 12 0 32 9 20 2 12-1 9-7 11-3 34 3-7-8-15-1-9-7-1-8 6-4 0-4-36-2-24-7-13 5-3 4-20 3-24 0-12 4-17-11-19-2-12 2-3 4 3 8-13 4 2 4-5 2-8 0-20-6-16 3-16-3-20 0 8-2 8 1 2-3-2-4-8-4 6-4 45-12 7-8-11-4 1-4 8-5 52-2 16 2 16 6 8-2 24-10 8 9 8 1 31-11 13-12 20 0 5-4-13-2-8-6 2-12-8-12 4-8-1-8 7-3 16 1 22 10 18 4 28 17 36 3 12-5 12 0 32 7 12 5 36-2 20-12 14-1-2-4-8 4-8-2-16-9-19-1 2-4 25-12 20 4 5-4-9-2-16 2-22-12-3-4 4-8 11-4-6-5-8-1-16 4-40 2-12 5-32-3-8 3-12 9-4 0-7-6-5-2-28 1-16-19 8-4 24 2 6-2-7-8 17-3 4-5-9-8 17 0 13-4-3-12 10-13 8-6 20 1 16 8 7 6 0 4 3 8-2 4-20-1-10 5-2 8 8 3 8 0 12-6 36 1 7-2 12-12-7-8-16-8 1-4 6-4-1-8 7-20-12-8 2-4-23-6-17-10 0-8 2-8 11-9 24-6 28 4 4-5-1-4 5-3 8 2 8 5 20 6 8 7 52-5 8-5 18-19zM1324 28l-2 4 2 6 8 10 4-8 2-8zM1376 339l-20 13 6 4 16 4 2 4-4 3-1 5 9 8 12-4 5-4-1-4 23-16-3-4-20-2-13-6zM324 844l-48 24-15 4-5 6-4 1-8-4-24 4-20-3-16 3-8-4-6 1-1 4 19 2 12 6-3 12 10 8-1 8 3 4 0 4-13 15-16 5-6 4 1 4 3 4 2 25 4 3 20 3 13 9 1 4-11 8 22 20 19 3 12-13 8-3 28 11-1 26 31 20 7 28-6 8 5 4 12 1 2 7-6 2-16-1-5 3-7 12-12 6-5 6 3 4 18 7 14 1 2 4-24 10-13 10 4 4 29 6 15-10 5-8 5-4 19-4 12 1 11 11-2 4 2 8-1 8-3 8 17 7 8-1 16-5 12 2 17 13 25 12 21 24-1 8 7 12 35 10 16 0 3-2 2-8-10-8-2-4-40-24-9-8-14-24-1-4-7-8 2-3 14 3 20 20 30 8 5 4 0 4 3 4 8 5 24 6 20 7 52 10 44 3 16-2 12-9-2-4-10-5-11-11-21-7-26-21-31-20-3-9-16-6-6-5-14-2-15 2 5 4 21 4 3 12-6 3-16 1-4 4 3 4 9 4 2 4-10 3-16-6-6-9-12-12 6-6 17-2 3-12-15-8-41-9-44-18-52-28-42-29-46-27-15-13-9-13-8-2 3-5-27-56-2-12 5-12 21-30 5-14zM340 827l-7 5-2 4 1 4 13-4 12-8-9-2zM396 816l-2 4 6 1 9-1 4-4-5-4zM604 432l0 13 31 3-21 8-2 4 2 4-3 4-13 8 3 4 7 3 4 1 24-5 20 0 24-6 21-1-5-7-24 1-24-6 24-8-17-4 7-8-6-2-8-2-24 1-5-1-3-6-4-1zM800 416l-19 4 35 0-8-5zM704 324l-12 4 4 6 8 2 16-8zM980 300l-8 4 8 4-12 2-16-2-1 4 9 12 0 8 12 3 58-3 3 12-10 12 25 9 28 1 4 6 12 4 6-4-1-4-9-4-12-18-20-12-20-3-2-3-1-8-4-4-33 0-8-4-2-4 20-4 0-4-10-4zM1008 255l-13 5 5 4 32 2 2-2-7-8-7-4zM1100 379l-2 1 1 4 13 11 4-4 2-7zM1148 228l8 8 0-9zM1096 168l-2 0 2 3 8 2 13-5zM1164 263l-24 7-20 4-12 0-5 2 13 4 0 6 44-1 32 3 4-1 4-5 19-6-11-7zM1244 296l-2 0 2 4 7 0 1-4zM1360 551l-8 5-12 1-7 3-5 5 0 7-8 9-8 0-16 3-7 4 2 4-4 4 2 4 10 4 1 4 16 2 4 3 11 19-11 10-8-1-12-6-4 0-4 3 0 6 5 8-3 8 1 12-3 12 3 4 0 8-3 4-1 8-7 6-10 2-6 4 3 20 8 8 2 4-13 8-4 5-2 3 8 8-14 12 3 8 5 4-4 12-4 4 3 8-9 4-8 8 2 4 16 2 5 6-5 8-8 5-12-3-7 6 15 0 3 4-1 8 2 10 4 5 10 1-26 1-20-3-8 3-4 3-6 12-10 8-8 16 0 5 9 7-5 5-19 3-9 8 0 4 4 1 12-3 8 9 8-2 31-29 5-14 8-4 4 1 4 5-12 16 1 4 7 7 12-1 19-6 6-4-2-20 15-16 2-8-4-5-6-3 14-9 7-11 9-8 1-12 15-9 11-3 1-4-9-8 25-20 0-4 4-8 10-12 3-8-1-5 12-4 24-3 4-4-7-8 1-4 6-8 5-16 10-8-8-4 4-4 5-3 16 10 9-3 0-4-6-8-11-3-8 1-11-6-21-5-15-11-2-16 5-16-3-8 0-12-4-8 0-4 9-8 3-12-13-35-8-7zM1388 386l-3 2 2 16-3 8 12 8 8 0 4-4 1-8-5-12zM196 1055l-10 9 2 4 16 9 12 0 15-13-23-11zM320 1311l-3 1 0 4 7 2 6-2-1-4zM404 1255l-3 5 0 4 5 12 6 4 8 0 9-4 3-4-1-4 8-8-5-4-18-4zM528 1335l-9 5 17 3 12-3-3-4-5-2zM636 1272l-4 4 4 4 4 0 4-4zM668 1312l-2 4 2 4 16 13 16 0 12-5 2-4-22-5-16-7zM680 1186l0 3 12 4 18-5zM744 1215l0 5 7 8 0 8 8 12 6 4 7 1 11-1 13-9 22-3-42-25-16-2zM988 360l-4 0 13 8-4 4-9 2-12-3 1 5-5 3-27 1-8 8-2 4 8 8 5 1 16-6 12 0 12 10 11 3-3 2-40-3-2 1 1 4-11 2-6-2 1-4-3-2-32-2-8 5-25 3-1 4 26 6 7 6-3 2-24 0-36-3-8 1-7 4 35 10 20-4 13 2 4 4-2 4-27-2-4 2 3 4 12 4 3 4 2 12-5 4 1 2 4 0 31-18-4-4-10-4 5-4 18-5 24 0 12-6 16 5 17 14-5 2-40 4-4 2 16 12-1 4 21 32 4-1 17-23 15-14 12-5 8 2 39 25 13 16 24 44 12 14 13 2 4-8-1-4-9-8 17-16 0-8 4-12 12-16 0-4-3-4-1-16-20-2-12-3-36-2-5-5-2-8-5-4-15-8-13-4 1-8 4-4-8-12-37 2-8-6 12-5 16-13 16 1 14-3-6-4-13-4 0-8-25-12-1-4zM1120 357l-4 3 2 4-4 4 6 4 10 0 13-4-13-8zM1148 372l4 4 11 4 19 0-1-4-5-5zM1172 979l-16 6-12-3-5 2-1 16 4 12 7 0 16-8 10-8-2-8 5-8-2-2zM1236 959l-8 5-3 8-5 4 3 4 5 1 7-1 0-4 5-2 4 2-3 4 1 4 5 4 14 4 7 4 25-8 2-4-2-4-1-12-8-7-10-1-26 7-8-10zM1340 974l-6 6 6 8-6 4-15 4-4 4 1 4-4 4-8 2-12 2-12-8-12-3-46 3 0 8-7 12-2 4-12 8-4 16 15 1 23-5 8-4 1-4 16-6 8 2 5 4-2 4 3 4 14 2 16-10 44-11 8-9 3-28 7-8 0-4-2-3-16-4zM1352 943l-4 5 4 7 24-2 10-5-7-4zM224 1119l-8 5 1 4 2 4 13 10 36 1 7-7 0-4-11-4-20 3-4-1-8-11zM752 1335l-10 5-3 8 25 10 16 0 8-6 1-4-17-9zM964 1140l-36 21-48 23-24 6-20 0-10 6-4 8 26 3 4 3 2 6-5 8 0 8 7 7 10 5-14 3-16-2-2 3 9 4 1 4-2 4-8 4-1 4 7 4 16 4 20-5 3 1 4 8 21 0 12 4 12 0 5-4-23-4-4-8-12-4-5-4 4-4 17-4 0-8-4-8 2-1 8-2 20 7 28-2 24 2 17-4 4-4-3-8 6-2 32 2 13-4 2-4-3-4-4-1-35-3 11-8 8-3 25-1-13-2-23-10 3-5 13-3 20-12-2-4-7-5-16-1-13 2-6 12 3 8-28 0-2 8-42 12-11 0 0-16 13-16 4-8 10-2 4-4-1-6 2-4-1-2zM1024 596l12 11 0-3-7-8zM1076 1031l-43 45-21 34-26 18 14 4 16-4 12-7 16 0 4-1 8-15 27-5 9-4-8-8 4-3 28-5 4-2 0-3-12-3-40 6-6-2-1-4 6-4-7-8 11-8 15-16zM1092 1048l-6 4 16 0 1-4zM1132 1020l-24 9 4 4 12 0 12-9zM1124 412l3 4 9 3 4-3-8-4zM1168 700l-12 12 28 32 5-8 0-8-4-4-4-12-9-5zM1152 1084l-19 4-13 12 16 4 8-3 10-13zM1284 1054l-20 5-16 1-16 7-32 20-3 9-19 8-10 7-12 2-20-4-7 3 3 5 8 4 56-5 13-4 3-5 7-3-2-4 3-3 8-1 3 4-7 4 28 3 16 5 20 0 20 3 8-2 2-9 5-8-8-8-1-4-14-4 2-4 13-4 3-4-10-9-16-6zM260 1151l-1 1 5 4 4 1 10-1 0-4-6-3zM772 1370l-2 2 2 5 6-5zM856 1336l-5 4 5 19 7 9-1 12 10 12 19 0-1-4-6-2-4-6 3-8 31-8-10-7-11-13 0-4-21-7-8 0zM948 1416l-5 4-1 4 6 5 12 2 4-1 4-6 1-4-5-2-8-3zM1088 1252l-20 6-16 1-3 1-1 4 8 13 20-2 21 1 11-4-6-4-2-4 10-8-11-4zM1144 1131l-2 5 5 4 13 2 20-1 18-5-1-4-5-1-36-2zM1212 1151l-13 9 21 8 8 0 8-4 0-4-7-4-5-6-4-2zM1296 1127l-12 3-16 0-7 2 39 4 3-4zM216 1227l-6 5 0 12 14 2 7-2-4-8 5-9-4-2zM268 1231l-14 13-1 4 4 4 11 2 13-6 1-4-8-12zM912 1380l-5 4 1 3 33-3-5-5zM1168 1159l-3 1 1 4-3 4 0 4 21 11 12-3 3-4-7-8-12-8zM340 8l12-2 17 6 0 8 3 8-3 12-13 10-8 2-8-2-7-10-1-8 3-4 9-8-5-8zM561 8l19-1 6 1 5 4-3 8-8 2-34-6 1-4zM244 12l4 0 19 12-4 8 3 24-10 6-20 2-16-2-19-6 0-4 6-4 23-8 5-4-1-4-11-4-1-4zM0 16l10 4-10 4zM856 16l12-2 9 2-5 4-8 1-7-1zM156 20l12-2 29 6 4 4-2 8-3 5-16 6-12 1-12-2-9-6 0-8-4-4zM604 48l12-2 5 2zM776 52l12-1 7 5 1 4-8 12 7 8-3 2-12-2-9-12-3-4 1-4zM319 108l5 0 1 4-15 0zM784 116l8-2 10 2-2 8 12 14 28-5 6 3-1 4-3 4-6 1-24-4-24 6-4 5-8 2-33-2 15-4 0-4-8-8 2-2 39-10zM292 128l12-4 13 8-17 3-7-3zM785 180l3-2 4 1 5 5-5 2-4-1zM587 188l9-3 8-1 8 3 3 5-7 7-13 1-6-4zM187 192l37 5 7 7-11 5-16-7-28 1-2-3zM738 200l10-2 10 2-18 5-2-1zM881 204l7-2 10 2-10 2zM962 204l18-3 6 3-10 5-8 1-8-2zM157 212l7-3 12 1 17 10-17 2-17-6zM743 236l5-1 9 1-3 4-6 1-4-1zM617 244l19-3 24 9 6-2 2-4 16 2 13 6 3 4-2 8 14 8-4 5-12 3-68-10-29-14 1-4zM819 252l13-3 12 3-1 4-11 4-15-4zM666 288l6 0 12 4-24 5-17-5zM176 300l12-1 14 5-2 4-20 1-5-1-2-4zM688 392l8-3 15 3-11 3zM617 404l11-3 15 3-19 3zM506 412l11 0-1 4-4 0zM224 452l8 0 13 4-4 4-9 1-18-5zM1052 468l12-1 9 5-9 3-8-1-5-2zM407 472l9-2 5 2-6 4-11 0zM315 500l5 1 1 3-5 8-4 2-4-10zM15 632l5-3 8 0 5 7-1 8-8 5-8-2-4-7zM1310 652l6-2 8 2-4 4zM1312 664l8-2 5 6-13 4-4-4zM1312 692l7 0 0 4-6 0zM246 896l10-2 20 6-12 4-3 4-1 4 13 8 6 8-2 4-17 5-12-9-1-8 5-8-2-8-5-4zM90 988l10 0 0 4-8 1-3-1zM0 1012l4 1 6 7 1 8-11 5zM1285 1020l19-1 9 5-17 4-12-4zM52 1080l10 0-1 4-14 0zM468 1160l12 2 6 6-5 8 1 4 6 8-4 7-16-5-8-6 5-12-1-8zM2 1172l10-2 42 2 6 4 10 16-6 6-15 2 23 1 7 3-1 4-22 9-16 2-8-1-4-2 0-5 18-7-2-3-16-1-8-4-7-12-10-8zM1372 1188l6 0 7 4 9 8 0 4-6 5-8-1-8-3 3-9zM1454 1192l2-1 0 11-6-2 4-4zM890 1196l6-2 5 2-1 4-4 0zM1380 1216l16-3 20 7-20 4-12 0-9-4zM1163 1220l5-1 6 5-2 2-8 0-3-2zM36 1240l16 0 14 4-26 9-4-1-4-4 0-4zM1276 1248l12-2 28 4 23 14-27 6-28 0-12-6 3-8-1-4zM50 1260l14-1 13 1-2 4-11 9-16 0-12-5 4-4zM0 1296l12 4-3 4-9 0zM37 1296l7-2 12 1 12 3 8 6-8 13-24 4-3-1-5-12-5-4 1-4zM1164 1312l6 0 5 4-7 0zM1448 1324l8 0 0 28-12 2-5-2 0-12 3-12zM81 1332l7-2 12 1 8 3 7 6-3 5-8 2-29-7-2-4zM1273 1336l19-2 12 2 6 4-2 5-8 7-16 5-8 0-3-1 4-8-8-8zM0 1344l0-4 16 4-16 2zM140 1344l10 0-2 3-16 6-18-1 2-6 4-1zM170 1344l18 0 0 4-8 2-13-2zM1364 1344l28-1 20 9-4 2-12 0-27-6zM177 1364l7-3 8 0 32 7-6 8 2 4 11 4 1 4-6 4-2 4 11 12 0 4-15 10-32-5-9-5 5-4 18-4-3-4-9-4-14-5-21-3-1-4 18-5 3-3-2-8zM1209 1368l11-4 8 4-8 4-8-1zM1429 1368l11-3 16 3 0 13-24 1-15-6 3-5zM1341 1380l23-2 20 5 6 5-6 5-28 6-38-7 12-8zM0 1388l0-3 8 1 12 6-4 2-16 0zM1262 1396l50-2 3 2-2 24-5 4-8-1-8-5-13-14-20-4zM1430 1400l6-4 4 0 11 4 1 4-16 2-6-2zM1143 1412l9-3 20 5 12 4 4 6 18 8-7 8-3 8-8 8-67 0-2-4 5-8 0-4-4-4 4-4 23-8 2-4zM1262 1420l6-4 10 4-1 4-9 1-6-1zM1238 1428l14 1 26 11-1 4-18 12-36 0 2-4 9-4 1-4-10-12zM217 1432l11-3 20 5 2 2-2 16-4 0-12-9-22-3 1-4zM164 1440l4-2 12 2-3 4-13 3-2-3z"/><path fill="#4e4e4e" d="M200 0l26 0-14 3zM420 0l77 0-9 4-24 3-20 7-8-2zM1111 0l33 0-20 3zM1174 0l45 0 1 4-8 8-4 0-20-9zM1249 0l207 0 0 57-12 0-6 3 2 30 4 0 12-4 0 7-12 1-4 2 0 4 16 8-22 12-18 36-2 16 2 8 4 4-3 8 2 8 18 4 19 1 0 18-12-1-16 5-3 5-7 4 0 8 2 4 36 3 0 26-5 3-1 12-6 8 12 11 0 698-20 7-16 12 1 4 26 12 1 2 4 1 4-3 0 5-8 1-1 2 9 2 0 20-10-2-2-4 2-4-4-4-30 0-24 2-4 2-4 5-6 19-6 5-4 0-7-5-5-11-4 3 4 8-2 8 6 8 25 4 7 4-1 4-19 7-7 5-5 16 20 2 6 2-4 4-10 3-44 1-11 4 6 4 2 4-5 8-10 4-3 4 3 4-1 8-13 9-24 5-36-3-9-7 2-4 1-12-2-4-4 0-12 3-4 17-6 4-30 1-16 7-24-3-3 3 7 16 4 4-2 8 18 7 4 5-1 4-5 4-2 4 2 4-3 4-28 4 23 12-2 4-22 8 9 8-2 8 3 8-2 4 1 4 7 4-2 4-9 4 5 4 25 8 4 4-6 8-1 8 0 4 7 8 0 8-9 3-40 5-20 11-28 7-8 7-22 11 5 8-13 8-191 0 3-16 4-4 9-4-1-4-8-4-22-6-11-6-29 4-20-1-20-2-12-5 0-4 7-8 23-16-30-15-6-13-10-3-40 5-28-2-7-4 0-8-5-8 5-8-3-4-22-4-36-10-12 2-5 4 15 12-1 8 4 4 12 8 19 6 8 6 31 16 2 4-4 4-10 4 27 8 5 4 0 4 5 4 28 6 8 10-4 8-12 7-20-3-5-4-3-8-33-12-3-4 3-4-8-8 6-8-13-7-48-14-4 1 1 4-21 4-4 4 14 8 4 8 6 4 5 8 15 12 9 24-2 8 4 8-71 0-16-12-12-5-16-1-6-2 22-4 0-4-5-8 1-3 13-1 10-4-11-2-12 6-16-3-9-5-7-10-29-14 0-4 6-8-4-8 23-19 8-13-20-4-16 0-8 2-20 10-2 4 4 12-2 4-6 4 0 4 5 4 1 4 1 4-3 4-14-1-6-3 1-4-3-4-8-2-12-1-9 7 5 4 14 4 19 28 21 12-18 12-2 4 3 16-49 0 0-4-7-8 7-2 16 1 5-3-12-8-5-9-24 7-14-2-6-4-1-8-19-18-18-10-3-8-10-8 1-12 7-8-5-4-30-8 17-8 3-4-2-4-12-5-26-3-14-6-24 4-8 0-6-2-8-8-3-4 5-2 28-2 20-6 5-2 3-8-1-4-7-4-40 1-13-1-5-4 34-6 24-2 18-8 0-4 2-1 22 1 5-4-5-8 9-8 0-4-11-2-16 5-5 5 1 4-8 6-44-6-8-4 16-24 5-16 0-4-17-12 20-12-2-4-12-8-8-16-11-8-1-12-10-8 0-24-16-16-11-8 13-8-2-4 3-4 13-6 1-6 12-12 0-4-11-16-1-12 7-8-5-12-1-8 6-12 11-12-18-20-1-4 7-8-1-4-6-5-12-1-16 10 2 4-2 5-12 5-4-2-2-4 5-8-5-8 2-4-4-5-20 11-8 2-8-1-31-31-13-7 0-93 16 1 16 3 12 8 14 16 17 24 16 32 1 8 4 4 28 0 8-6 20-5 12-5 0-4-4-4-20-8-4 3-32-4-8-3 0-4 9-12 0-12 3-8 6-8 14-12 1-4-31-76-11-36-4-24 0-20 11-48 6-7 12-5 112-3 24-8 18-17 14-5 12 4 15 13 15 16 4 8 0 16-8 20-7 12-7 6-20 7-12 2-4 2-2 7 6 5 24 3 1 4 12 4-17 11-20 2-4 3 18 40 15 60 9 12 10 6 24-15 32-9 20-3 3-3 3-16 22-52 7-28 3-40 12-32 14-24 52-43 35-13-15-3-7-5 19-3 10 3-3 4 1 1 9-1 11-4 1-4-6-4 3-4 14-4 2-4-18-8-18-16 4-4 13-4 3-4-10-8 25-8 1-4-21-8 4-4 0-8 15-6 4 2 6 8 16 8-14 8 8 4 1 4-7 4 2 12 18 8-7 4-2 4 2 4-2 4-16 8 0 4 11 3 4 5 32-6 20-1 24-7 16 2 2-4-2-7-7-5 23-9 40 1 16 5 8 0 12-5-8-8 4-5 32-5 20 4 14 6 7 8 15 7 2 13-5 4 3 6 39-22-13-8 6-4 20-4 16 6 4-1-2-5 14-6 14 6 11 12-45 4-1 4 14 12-2 4 7 8 18 31 4 1 5-12 9-12 18-19 8-4 12 0 24 15 14 12 23 32 12 24 11 14 4 3 12 1 4-3 2-7-1-4-8-8 13-12 6-2-2-10 3-12 13-16-3-12 3-8-3-4-7-4-27-4-29 0-8-2-4-10-4-4-27-12-2-4 4-8-7-14-9-2-23 4-6-4 6-2 12-13 21-1 11-4-15-8-5-10-21-10 5-4 24 6 24 2 20 10 16 17 4 2 5-1 4-12-22-8 1-8-13-8-7-16-18-12-22-5-4-7-8-5-28 0-8-3 4-4 15-4-2-4-5-3-12-2-18 5-10 6-12 0-8 2 13 12 0 12 3 2 8 2 56-2 2 2 3 8-3 4-6 5-12 4-31 3 4 4 11 4-4 3-8-1-5-2-3-5-13-3 9 16-33 4 1 4-6 4-1 4 5 4 0 4-2 2-12 2-12-1-37-23-11-2-12 4-8-1-8-5 0-8-12-8 1-4 15-2 16 3 16 7 24 1 11-1 10-8 7-2 36 4-6-10-18-4-6-4 0-4 4-8 0-4-6-2-32-1-13-5-3-4-8-2-28 4-2 10-10 2-32 1-8-3-4-4-24-3-14 3-6 7-4 1-36-6-11 6 5 8-6 2-12-2-3-8-7-4 4-4 21-4 21-7 9-9-8-4-2-4 9-4 48-2 14 2 10 6 4 0 15-2 17-7 12 7 8 1 34-13 10-10 25-2 5-4-2-3-16-2-6-7 2-8-8-12 5-8-2-4 1-3 4-2 12 0 22 9 22 5 24 16 31 3 0 4-22 8-2 4 33 2 12 3 6-1 1-4-15-16 8-3 16 0 26 7 6 5 8 0 16-3 24 1 20-12 16-2-3-13 2-4-3-3-4 0-12 5-8 2-18-4 3-4 15-6 20 5 4-7-12-3-16 1-20-10-3-4 3-6 14-6-11-8 1-4 5-4-5-3-28 3-2 4 15 4-7 4-42 2-16 5-28-3-12 4-8 6-16-5-28 1-4-6 0-4-8-8 12-3 24 5 3-10-3-4 12-3 2-5-1-4 3-2 20-6-4-12 2-4 10-11 8-3 16 1 21 13 2 12-3 2-20 0-9 6-2 4 0 4 7 3 12 2 16-6 28 1 17-4 13-12-2-7-26-9 2-4 9-4 2-4-2-4 6-20-15-8 5-4-1-1-24-6-17-9-2-12 6-8 9-5 16-4 32 3 8-6-1-4 5-1 29 13 2 4-13 4-2 4 4 2 40-8 32-2 27-28zM1320 28l0 4 5 12-5 16 8 12 11-24 1-16-8-4zM1384 322l-20 16-16 6-1 4 5 4 20 8 5 4-3 8 8 12-1 8 4 12-2 8 13 9 8 1 4-4 1-6-3-16-16-12 0-4 10-4 4-4 0-4 21-16-1-3-4-2-20-2-19-9-2-4 1-1 12-7-4-3zM344 824l-11 4-9 11-12 9-40 19-20 4-32 3-12-1-16 3-20-6-9 6 1 5 20 2 13 5-1 5-6 3 1 4 13 8-1 8 4 4 0 4-11 13-20 6-4 5 5 8 0 20 3 7 24 6 11 7 0 4-12 8 18 12 1 4 6 5 20 4 14-13 6-3 24 9 3 10-4 8 0 8 34 20 4 12 0 8 3 8-9 8-2 12-9 13-12 6-7 9 0 4 19 9 14 3-14 5-19 15 3 3 32 9 16-11 6-9 6-4 12-3 12 0 13 11-3 4 3 8-1 8-4 8 20 8 8 0 16-6 8 0 8 4 12 10 24 12 21 24-1 8 7 12 37 12 20-2 4-10-12-8-1-4-15-8-34-24-15-24 2-4-7-8 8 0 7 8 7 3 9 9 31 10 6 10 10 7 24 5 20 8 52 9 40 3 20-1 8-6 5-5-1-4-12-6-4-6-5-4-27-10-21-18-30-20-4-12-14-4-5-4-30-5-12-7-56-14-28-11-60-33-38-26-50-29-12-11-22-36-19-40-1-12 5-12 21-32 4-13 2-19 9-24 43-24zM404 811l-32 9 24 2 16-2 2-4-2-3zM672 1183l8 6 12 5 22-6-13-4zM736 468l8 2 7-2-7-2zM1020 591l4 10 12 9 2-2-1-4-12-12zM1048 620l8 5 4 1 1-2-1-4zM1072 1032l-40 43-18 29-14 13-72 41-48 24-24 5-24 1-17 16 33 5 3 3-5 12 0 8 6 7 8 5-12 1-40-11-28-18-13-4-19 1-6 3 7 12 1 4-2 4 12 15 8 4 18-3 10-7 8-2 12 2 20 6 5 5-2 4-8 4 0 4 6 4 33 8-6 4-2 4 22-6 16 0 20 4 20-5 32-3 2-2-10-3-28 4-20-3-5-2-1-4-13-4-4-4 6-4 15-4-4-12 2-3 36 7 16-3 28-1 15-4 4-4-1-4 2-4 32 1 14-5 3-4-5-6-31-2 1-4 10-6 20 1 8-3-4-4-16-2-16-6 5-4 13-4 10-8 10-4-14-11-20 0-11 3-6 12 0 4-3 2-24 1-3 9-33 9-8 2-4-3-2-8 1-4 5-5 4-7 12-10 8-4 3-6-2-4 11-9 26-3 10-3 12-8 20 1 8-15 30-7 9-4-6-4-3-4 2-1 33-7 2-4-15-5-41 5-2-4 6-4-10-8 18-12 1-4 9-8-13-8zM1096 1007l-1 1 9 6 3-2 0-4-3-2zM1128 1020l-20 7-2 1 0 4 14 2 7-2 11-8-2-6zM996 283l-2 1 3 4 8 0-2-4zM1036 292l-4 4 12 1 12-2 16 2 5-1 0-4-9-2zM1156 259l-3 5-17 5-39 3 2 4 11 4 3 4-11 8 46-4 44 4 4-1 8-9 13-2 5-4-9-8-21-1-16-5-12-5zM992 172l4 4 10-4-6-2zM1232 182l-4 2 1 4 3 2 8 1 10-3-2-4zM1360 543l-2 1 2 4-8 5-20 6-5 5 0 8-7 7-16 1-21 8 1 8 4 6 8 6 16 3 8 4 10 17-10 8-8-1-16-6-6 7 5 12-3 8 1 12-2 12 4 8-1 4-6 13-4 4-12 3-5 4 2 20 8 8 2 4-13 8-6 8 6 8-12 12 2 8 4 4-3 12-3 4 0 8-14 12 4 6 16 1 3 5-3 7-4 2-4 2-12-4-10 9 18 2 2 2-1 16 2 4-11 4-24-2-8 5-4 9-13 12-7 13-2 7 9 8-3 3-20 5-9 8 1 8 16-3 3 7-19 10-4 0-8-4-7 2-4 4-1 16 4 14 8-1 20-9 9-8-2-8 2-4 29-28 19-16 3-12 8-3 5 3-10 16 1 4 6 8-7 4-8 12-7 4 4 5 16 2 24 13-3 4-5 1-28 0-7 3 2 8-5 12-15 12-4 16 5 2 12-1 32-6 36 5-8 5-28 3-41 24-5 4-3 8-31 15-8 0-14-3 0-4 6-4 10-16-14 0-14 4-13 12 16 8-10 4 13 10 8 1 14-3 46-2 16 2 3 4 1 5 4 2 12-3-12-8 3-8-14-4 3-1 29 1 19 6 20 0 16 4 12-1 5-5 0-8 4-8-8-8-1-5-6-3-3-4 16-4-1-4-8-8-17-8 0-4 7-6 28-8 16-3 10-11 2-24 8-16-2-4-16-4-6-4-13 12 5 8-20 8-4 4 0 4-4 2-12 2-23-8 7-6 16-6 0-16-4-8-16-5-24 6-4-1-2-4 1-4 28-8 5-4 1-4-5-8 1-8 1-4 13-12 2-8-7-8 14-12 4-8 9-8 1-12 10-6 17-6 1-4-9-8 25-20-1-4 14-20 4-8 0-4 9-3 27-5 2-4-5-8 0-4 4-5 6-19 14-7 20-1 3-4 0-4-7-10-8-2-12-1-32-9-14-10-2-16 5-16-3-8 0-12-4-8 1-4 9-8 2-12-14-36-7-8-1-4zM204 1052l-13 4-5 4-2 4 2 4 18 10 8 1 4-1 19-14zM236 1045l-2 3 6 3 11-3zM316 1311l-2 5 6 3 8 0 4-3 0-4-4-1zM412 1251l-8 3-4 6 4 16 4 4 8 1 15-5 2-8 8-8-5-4zM536 1332l-33 12 41 0 8-4-4-4zM632 1271l-3 5 1 4 10 2 5-2 1-4-3-4zM664 1312l2 8 18 14 16 0 14-6 3-4-25-6-16-7zM748 1324l4 2 6-2-2-3zM864 1331l-15 9 6 24 6 8-2 4 1 4 10 12 10 2 16-1 20-7 31-2-7-5-12-2-16 2-12 9-12-1-7-7 0-4 7-6 32-5 16 2 7-3-11-2-12 1-8-2-14-13-2-4 1-4-22-8zM948 1414l-8 6-1 4 4 4 13 5 9-1 3-2 3-10-15-6zM1084 1252l-16 5-20 1-2 6 5 8 1 8 24-4 31 0 10-4-9-2-5-6 10-8-13-5zM1104 1112l-4 4 11 0 8-4zM1088 1047l-6 5 18 1 5-1 1-4zM1116 355l-2 1 0 8-4 4 6 5 8 1 20-1 15 7 13 3 14-3-1-4-9-7-28-1-13-8zM1240 295l-4 1-1 4 21 1 6-1 2-4-12-2zM1204 987l-8 5 0 3 12-1 4-2 1-4zM1152 1126l-11 6-1 4 3 4 21 4 41-8-1-4-4-1zM1216 1147l-23 13 31 10 15-6 0-4-7-4-6-8zM1296 1124l-12 3-16 0-14 5 14 3 32 3 5-6-1-4zM1348 943l-2 9 2 4 4 1 30-5 6-4-8-5-24-2zM228 1115l-12 5-3 4 3 8 7 8-10 4-3 4 10 2 12-4 20-2 6 4-3 4 9 6 17-2 1-4-11-8 7-12-7-4-11-2-16 2-6-4 2-4-3-4zM328 1335l-1 1 3 4 5 0-1-4zM748 1334l-8 6-4 8 17 8 3 4 8 5 3 3-2 8-5 4 8 4 4-1 9-11-3-8 16-16-26-12-12-3zM1116 1144l-3 4 8 4 36 0-17-1-12-7zM1124 411l-2 1 2 4 8 4 8 0 3-4-8-4zM1260 330l-2 2 2 5 4 1 8-2 4-4-8-2zM1160 1155l3 9-4 4 0 4 15 8 3 4 18 0 8-4-4-8-13-12zM248 1183l-2 1-1 4 9 0 8-4zM1164 698l-12 14 32 36 7-16-1-4-4-4-3-12-11-6-4-7zM260 1230l-3 10-6 4-1 4 4 4 14 3 15-7 1-4-6-12-10-3zM570 8l10 0 5 4-9 6-24-2 0-4zM342 12l2-2 8-1 11 3 2 4-3 4 6 8-2 4 1 8-15 10-12-2-5-8 1-9 13-11zM244 16l4 0 15 8-1 4-4 4 3 8 3 16-8 5-20 2-12-1-16-6 0-4 26-12 5-4 1-4-10-4-3-4zM861 16l13 0-10 3zM160 24l8-2 24 2 4 4 0 8-4 5-12 5-12 1-8-1-10-6-1-12zM780 52l8 1 6 7-10 13-4 1-10-10 2-6zM1445 64l11-3 0 11-15-4zM303 128l9 4-15 0zM782 128l14-3 5 3 5 12-24 8-4 4-9 0-6-8-7-3-4-5zM832 136l8 0 2 4-6 3-12-3zM593 188l11-2 5 2 3 4-4 4-8 2-5-2-2-4zM186 196l17 0-7 3zM213 200l11-1 5 5-9 3-7-3zM967 204l12 0-5 4-10 0zM160 212l12-1 7 5-3 2-12-1zM620 244l8-2 12 1 12 7 8 2 16-6 8 1 10 5 3 4-1 2-8 4-16 0-3 2 3 5 4 2 20-3 12 4-2 4-10 2-20-5-31-1-19-4-25-12 1-4zM822 252l10-2 9 2-1 4-8 3-12-3zM649 292l15-2 12 2-16 3zM179 304l9-3 10 3-6 4-4 0zM712 336l8-2 6 2-2 2zM762 336l8 0 3 4-5 3-11-3zM767 360l9-3 9 3-13 4-4 4 16 12 3 8 13 8 0 12 4 2 8 2 13-4 2-4-2-4 11-4 40 2 18 6-2 4-4 1-24 2-1 5 25 6 8 6-16 2-48-4-16 5-24-3-4-4 24-2 8-2-8-8-20 3-20 0-3 1 3 4-1 4-11 4-12 0-22-12 18-4 3-4-2-8 11-4 4-4-16-10-12-3-28-1-9-6 5-6 8-1 4 0 12 9 16 1 8-3 6-8zM692 392l4-2 10 2-6 2zM961 396l11 1 8 7-8 3-32-1-3-2 11-1zM938 412l2-3 4 0 3 3zM620 428l12-3 32 1 5 6 0 4-42 0-7-4zM872 440l12 0 6 4-6 3-21-3zM688 444l8-2 8 2-4 5-7-1zM219 456l13-2 9 2-9 3zM496 456l4-1 6 5 4 12-1 16 6 8-15 5-9-1-1 20-6 6-4-1-7-9 0-8 7-12 9-4-1-24zM661 460l15-4 15 4-15 4zM311 504l5-2 2 2-1 4-5 2zM16 632l4-3 8 1 4 6-1 8-7 5-8-3-3-6zM1310 668l6-3 7 3-7 3zM96 780l8-2 7 2-1 4-6 2-7-2zM0 884l8-1 16 4 2 9-6 3-20-3 0-2 10-6zM250 896l8 0 5 4-7 7-8-7zM252 916l4-4 13 8 6 8-3 4-8 3-8-2-8-9zM0 1020l0-4 7 12-7 3zM1292 1024l8-2 7 2-7 2zM1248 1040l12-4 8 4-12 4-4 0zM467 1164l9-1 4 5 0 12 6 8-2 4-12-1-10-7 5-12zM8 1172l44 1 5 3 8 16-17 6-20 0-9-6-2-8-8-8zM582 1180l6-3 16 3 4 12-25 4-2 4 13 8 2 4-4 2-8 0-12-6-3-8-13-12 4-4zM1376 1200l4-4 4 0 6 4 0 4-10 2-5-2zM58 1204l10-2 7 2 0 4-3 1-20 7-12 2-10-2 0-4 2-2zM1295 1212l13-2 9 2-2 4-23 2-4 10-8 3-20 0-17-7-2-4 15-6 28 0zM1385 1216l11-2 17 6-21 4-13-4zM1203 1224l17-4 12 2 4 2-1 16-4 8 5 8 10 4 4 4-6 8-8 1-32-5-18-8-1-4 6-8 21-4 5-4-7-4-19-4zM35 1244l9-3 17 3-21 6-3-2zM1282 1248l34 3 16 9 1 4-25 6-25-2-8-4 3-8-1-4zM44 1264l12-2 11 2-3 4-8 3-16-3zM42 1296l10 0 16 4 4 4-5 12-15 3-8-3-1-4-8-8 0-4zM1445 1328l11-3 0 26-8 0-5-3-2-8zM88 1332l16 2 7 6-7 3-8-1-12-2-4-4zM1278 1336l18-1 10 5-1 4-9 8-12 2-4-2 0-5-5-7zM1376 1344l16 0 14 8-10 0-19-4zM181 1364l11-2 24 7 2 3-3 4 2 4 10 4 2 4-9 8 13 12 0 4-13 8-28-4-10-4 6-4 20-4-8-7-37-9 0-4 9-2 6-6-2-8zM1435 1368l21 1 0 11-20 2-17-6 5-6zM1197 1376l11-1 8 2 3 3 0 4-4 4 3 4-1 4-9 3-12 1-16-3-9-5 0-4 7-8zM1352 1380l12-1 12 3 12 6-8 5-24 4-28-7-1-2 7-4zM1277 1396l31 0 4 4 0 8-4 11-4 2-4-2-20-17-7-2zM1433 1400l7-2 7 2-2 4-5 1-6-1zM1149 1416l3-3 4-1 12 2 12 5 4 5 18 8-6 8-2 8-10 8-60 0-2-4 4-12-3-4 5-4 27-8-1-4zM221 1432l11-1 12 3 3 2-1 8-2 2-12-4-17-2 0-4zM1229 1432l7-2 12 0 25 10 1 4-22 12-27 0 12-8 3-4 0-4z"/><path fill="#505050" d="M423 0l70 0-25 4-24 8-8-2zM1113 0l21 0-10 2zM1185 0l32 0 1 4-10 6zM1250 0l206 0 0 34-2 2 2 2 0 14-20 4 1 24-2 20 2 4 10 4-19 16-16 28-3 16 0 8 9 8-3 4-1 12 22 5 20 1 0 15-8-1-20 5-14 11-1 12 43 4 0 24-7 4 0 12-6 8 13 12 0 252-8 0 4 2 4-1 0 141-8-10-20-2-28-8-8-3-9-7-2-16 5-16-3-8 0-12-4-8 1-4 9-8 2-12-11-32-12-18-16-5-4 3 0 4 6 4-6 5-16 4-6 7-1 8-5 6-16 1-20 5-2 4 1 8 5 9 8 5 20 4 12 18-4 5-8 2-20-7-7 8 6 12-4 8-1 24 4 8-6 16-6 4-12 4-4 4 1 20 8 8 1 4-11 8-7 8 6 8-2 4-10 8 5 12-2 12-3 4 1 4-1 4-13 12 1 5 4 2 12 0 4 1 2 4-2 6-8 3-12-5-12 12 8 3 12 1 0 20-8 3-24-2-10 7-3 8-13 12-6 11-3 9 3 5 5 3-22 8-10 8-1 8-20 15-1 17 3 8-2 7-28 10-4 3-1 4 5 3 8 2 12-5 12-8 2-8 30-13 7-7-2-8 2-4 28-28 21-15 7 15-10 8-4 8-7 4 2 6 4 2-23 4-15 12-1 4 3 1 20-6 8 1 1 8 3 4-3 12-14 12-5 16 2 3 8 0 36-6 16 3 17 0-5 4-16 0-11 4-41 25-4 3-3 8-29 14-18-2-1-4 15-20-8-2-24 6-14 12 14 8-24 3-4 1-3 4 11 1 16-2 9 9 11 4-5 4-3 8 20 6 88-15 20 5 32 3 9-3 2-4-3-8 18-8 3-4-2-8 5-8-9-8-5-12 13-4-10-12-16-8 0-4 7-5 24-8 20-3 9-12 1-24 8-16-2-5-13-3-5-4 0-8 34-8 5-4-1-4-8-2-24-3-8 3-4 6 1 12-6 4-2 8-9 8 5 8-21 8-5 8-7 2-8-1-13-5 2-4 19-8 0-4-3-4 0-12-3-4-14-6-8 0-16 5-4 0-3-3 2-4 25-7 7-5 1-6-6-6-1-4 3-8 12-12 2-8-5-8 12-12 4-8 9-8 1-12 27-12 1-4-8-8 25-20-1-4 4-8 17-24 33-8 1-4-5-8 0-4 10-24 13-5 16 0 8-4 0 293-20 6-18 14 2 5 22 11 1 12-47 1-12 3-9 24-7 8-9-4-7-19-4 0-3 15 4 4-2 8 5 8 4 2 24 3 5 3-1 4-15 4-15 8 2 8-3 8 3 3 23 1-4 4-7 2-36-1-20 5-3 2 9 8-4 8-11 4-2 4 3 4-1 8-7 6-12 4-32 1-20-3-6-4 2-16-1-4-3-2-16 0-10-10 6-1 20 5 8-2 9-6 0-4-7-4-6-9-4-2-12 1-8 8-16 5-20-4-12-6-16-1-8-6-22 2-1 4 7 4 40 5 4 7-6 4 1 4 16 8 5 6 24-1 5 3-3 12-6 3-28 1-16 7-24-3-4 3 6 17 4 4-2 8 16 6 7 6-7 8 0 8-4 4-12 2-23-6-4-4 8-4 2-4-15-5-12 0-20 5-20-1-4 4 0 5 4 8 0 8 4 2 24-5 40 0 22 11-4 4-19 8 9 8-1 8 2 8-2 4 1 4 4 4-1 4-11 4 34 12 5 4-6 8-1 8 0 4 6 8-1 8-45 6-20 12-28 7-32 19 2 8-11 8-186 0 3-8 0-8 13-8-1-4-7-4-21-6-12-6-16 0-16 3-20 0-16-2-12-5-1-4 2-4 19-13 8-2 20-1 8-12-1-4 3-8 12-12-26-12-16-4 0-4 9-8-1-2-8-1-8 2-4 5 4 8-9 8-5 8 17 8 3 8 8 4 1 4-2 4-5 2-28-12-9-14-7-3-48 5-24-3-5-3-1-8-5-8 5-8-1-4-29-5-32-10-16 3-4 4 16 12-2 8 14 11 40 17 20 12 0 4-4 3-8 1-12-5-24-4-28-10-8 2-5 5-14 4-3 4 14 8 3 8 9 6 4 7 14 11 9 24-2 8 4 8-67 0-16-12-18-8 8-4-6-12 19-4 5-4-10-5-20 7-12-2-7-4-4-8-5-4-25-12-1-4 6-8-4-8 20-18 8-10 7-4-39-6-12 3-21 11-1 4 2 12-8 8-1 4 5 4 1 8-1 1-8 2-6-3-2-8-20-4-8-5-4 1 4 4-8 8 4 4 16 6 15 18 3 8 17 8 4 4-22 16 5 8 2 8-46 0 0-12 18 1 9-5-9-2-9-6-1-4 2-4-4-8-8 0-2 4-18 8-8 0-8-4-3-8-4-4-17-16-14-8-4-8-11-8 1-12 8-8-4-4-27-8 12-8 3-4-2-4-14-6-24-3-12-6-36 3-12-8 0-4 32-4 20-6 5-6 0-8-5-4-12-2-33 2 2-4 15-5 24-2 20-8 27-5 4-4-7-8 8-6 8-1 6 3 2 4-2 4-7 4-1 4 10 7 10 1 10-2 9-6 0-4-4-12-5-2-52-12-12 7-7 7-1 4-8 4-8 0-36-8 12-21 4-11 8-5 12-1 3-2-15-3-15-13 7-8 7-4-2-4-13-9-8-15-11-8-1-12-10-8-2-26-13-14-11-8 17-8-4-4 2-4 9-4 4-4-1-4 11-12 1-4-11-16-1-12 6-8-4-8-1-12 8-14 8-6 8 0 0-6-15-6-11-12 0-4 7-8-1-5-4-4-16-3-20 11-4 0-7-7 2-4-7-8-20 12-12 2-8-4-25-26-15-9 0-90 12 1 20 4 13 10 30 40 17 42 20 0 12 5 4-1 3-2-2-4 3-5 24-4 12-7-4-8-20-9-32 0-13-3-1-4 11-8-3-12 4-12 21-20 1-4-34-80-9-32-4-24 0-20 5-28 6-20 8-7 8-3 112-3 24-8 20-18 8-3 12 1 16 13 18 20 2 8-1 12-10 24-9 11-20 8-13 1-5 4-2 8 8 6 15 2-3 4 3 4 7 4-2 4-8 3-19 1 18 40 17 66 12 14 8 3 24-14 36-11 16-1 4-2 4-19 20-47 8-28 4-45 10-28 11-20 10-12 45-36 66-24-8-8 10-6 8-1 12 2 8 7 52-7 24-8 16 2 3-1 1-4-3-12 11-7 12-2 32 3 16 5 4 0 18-7-8-8 6-5 32-3 20 5 31 19 1 12-4 4 4 9 40-23 0-3-11-7 3-2 8-3 12-2 15 7 9 0 0-4-3-4 11-4 12 4 8 8 0 2-12 3-33 3 3 4 10 8 2 4-2 4 7 8 13 24 11 16 5 1 2-17 16-24 14-12 12-2 24 13 15 13 24 32 13 25 12 16 4 3 8-2 8 1 3-11 0-4-8-8 7-4 6-7 6-1-2-12 2-12 9-8 4-8 1-4-3-8 3-8-2-4-6-4-24-6-20 1-20-1-3-2-1-8-4-4-27-12-4-4 3-8-7-16-21-1-4-2-1-5 9-6 21-2 8-4-13-8-4-11-20-9 48 7 20 8 15 17 5 2 7-2 4-12-7-6-14-2 2-5 4-1 12 6 20-3 28 10 8 1 14-4-10-12-32-2-10-6-18-7-4 0-4 3-1 8-3 3-12-2-9-9-7-16-12-8-24-6-16-13-24 1-8-2 6-4 14-4-10-8 0-4 5-4-7-6-4-1-10 3-2 4 10 4-22 7-24 2-11 7 14 12 0 12 6 4 60 0 2 4-1 8-6 5-12 3-32 4-12-2-8-10-22-8 2-16-12-4-32-2-6-2-6-9-44 4-3 1 5 8-2 4-8 1-28 0-8-5-24-3-16 1-16 7-32-5-15 8-1 4 4 4-4 0-2 0 2-4-14-8 4-4 22-1 16-8 13-11-12-8 7-3 52-2 8 3 6 6 6 0 20-3 16-6 12 6 8 0 19-5 17-8 8-9 28-3 5-4 0-4-21-4-4-4 0-12-6-8 6-8-2-4 6-4 52 14 24 16 26 2 1 4-24 8-1 4 6 2 28 0 16 4 8-2 2-4-2-3-12-13 8-3 12 1 20 6 16 7 24-4 20 3 16-11 20-4 4-3-4-8 3-8-6-8 0-4-9-4-24-1-13-7-4-4 5-7 13-5-10-8 0-4 4-4-1-4-34 3-8 5 12 4-7 4-29 0-24 5-28-2-20 6-12-1-20 2-8-2-2-4 2-3 7-1-16-8 17 0 1 4 3 2 44 0 5-2 5-4-6-3-24 3-6-4 9-12 1-8 22-8-4-12 2-4 12-12 8-2 11 2 19 12-2 11-20 3-8 6-2 4 1 4 9 5 16 3 16-8 28 1 19-5 5-8 7-4-1-8-6-4-16-1-8-3 4-5 12-3 1-4-3-4 4-20-14-8 8-4 0-4-24-2-16-6-6-4-2-4-1-8 2-4 7-6 12-5 20-1 16 3 16-7 21 8 2 4-9 4-1 4 7 4 40-7 32-2 4-2 16-21 9-8zM1320 27l-3 1 1 4 5 12-5 12 4 16-3 12 1 3 4 1 4-2 4-6 4-11 7-21-1-12 0-4-7-4zM1380 320l-20 13-16 5-1 6 7 8 24 12-1 8 4 8 2 12 4 12-1 8 14 9 8 2 4-2 2-9-2-16-14-12 0-4 10-5 3-7 19-16-1-4-25-5-16-7-2-4 9-4 3-4-6-5zM1168 1023l-11 5 3 2 8-2zM1076 1352l-4 0-2 4 6 2 7-2 0-4zM400 812l-40 9-23 3-7 4-18 18-40 19-24 4-44 1-12 4-12-6-8-1-10 5-3 4 0 4 5 2 30 6-2 4-16 4 4 4 20 8-1 8 5 4 1 4-13 14-16 3-7 3 2 8 4 4 1 20 3 8 25 7 9 5 0 4-11 4-4 4 21 12 3 8 18 7 12-1 12-13 4-1 20 6 4 3 2 7-6 12 0 4 32 17 7 11 0 12 3 8-11 8 0 12-9 12-10 4-11 12-1 4 16 6 6 6-8 12-11 8 3 4 26 7 12 6 3-1-3-4 15-12 9-11 12-4 12 1 11 10-3 4 3 8 0 8-5 8 2 2 20 8 8-1 16-6 8 0 8 3 11 10 18 8 7 6 11 14 9 8-1 8 7 12 38 14 22-2 5-12-11-6-4-6-12-6-36-26-14-20-1-4 3-3 8 2 16 11 28 10 4 8 8 8 24 3 20 9 24 7 72 5 24 0 11-12-1-4-14-7-2-5-5-4-29-11-20-17-30-20-2-4 0-8-20-9-32-5-12-8-52-12-28-12-60-31-44-30-44-26-17-15-19-32-17-36-3-8 1-12 23-35 5-17 3-20 8-22 4-4 40-20 28-2 14-4 2-4-4-4zM672 1181l-4 3 24 11 24-7-4-4-8-1zM736 466l-3 2 11 3 10-3-6-4zM840 491l-3 1 11 4 5 0 1-4zM1020 590l-3 2 4 8 19 15-1-11-12-12zM1048 619l-3 1 11 8 4 0 2-4-2-5zM1076 1026l-44 46-21 32-15 13-72 41-44 22-24 6-29 2-1 4-10 9-6 3 38 8-4 8-1 12 5 8-8 0-32-7-28-18-16-4-18 1-6 4 8 12 1 4-3 4 2 4 5 4 7 10 4 2 20-2 20-9 29 7 5 4-2 4-9 4 1 4 6 4 26 8-8 8 4 1 12 0 24-6 28 4 20-4 16 3 17-6 5-4-9-4-41 3-11-3-4-4-13-4-5-4 24-8-4-4 1-8 28 8 24-6 28-2 13-4 7-11 32 0 8-3 7-6-1-4-6-4-24 0-3-4 11-5 16 2 10-5-2-4-20-3-12-5 6-4 13-4 9-8 13-4-17-13-24 1-12 3-3 9-8 8-21 1-6 3-2 8-4 2-28 7-4-1-4-8 0-4 6-4 6-10 8-4 11-2 2-12-1-4 4-5 8-4 24-3 20-10 20 3 5-13 7-7 28-5 9-4-8-8 34-8 1-4-12-6-42 2 4-4-11-8 5-5 8-3 24 1 7-1 1-4-4-3-20 0 10-9-10-3zM1096 1005l-3 3 11 8 4-1 1-3-1-5-4-2zM1164 621l-2 27 2 10 1-10 3-4-4-8zM1120 412l3 4 9 4 11 0 2-4-17-6zM1032 292l-5 4 9 2 28 0 6 2 2 5 4-1 7-8-2-4-13-4-12 3zM1160 255l-11 5 0 4-21 6-24 0-16-5-1 3 8 8 11 4 4 4-13 8 3 3 48-5 48 6 9-12 16-4 4-4-9-8-24-2-16-6-5-4zM1224 180l-2 0 2 8 4 4 18 0 8-4-2-4-8-3zM200 1051l-11 5-7 8 2 5 20 10 12 1 23-16-31-13zM244 1039l-8 1-4 3-2 5 10 5 12-1 4-4zM312 1312l0 4 8 5 8-1 6-4 0-4-6-2-8-1zM408 1252l-7 4-2 4 4 16 5 5 12 0 8-2 4-3 3-8 7-4 2-4-6-4-14-4zM476 1332l-3 4 7 3 8 0 3-3zM532 1329l-16 9-15 2-4 4 47 1 6-1 4-4-6-5zM628 1271l-1 9 7 4 10-1 4-6-4-6-4-2-8-1zM664 1310l-3 2 3 8 20 16 16-1 16-7 3-4-27-7-16-8zM860 1331l-13 9 4 8 1 16 7 8 0 8 9 12 12 3 20-1 20-7 28-1 2-2-10-7-8-1-20 2-12 9-12 0-6-7 0-4 6-5 32-4 20 1 5-4-9-4-16 1-8-1-12-12-2-4 2-4-4-2-24-7zM952 1412l-10 4-6 8 16 10 18-2 4-12zM1052 1127l1 5 3 1 9-1-6-4zM1164 693l-4 7-8 6 0 11 36 38-1-11 5-12-1-4-5-8-2-9-12-6zM1204 344l-9 4 5 4 4-1 2-3zM1212 367l-4 1-1 4 5 5 6-1 0-4zM1248 292l-12 3-5 5 21 3 14-3 4-4-3-4zM228 1112l-16 8-2 4 9 16-10 4-1 4 8 3 20-4 12 1 12 10 8 2 12-2 7-6-12-8 6-12-5-3-16-4-12 2-4-2-2-1 2-4-2-4-6-4zM324 1336l2 4 6 3 6-3-1-4-5-3zM1260 328l-5 4 5 8 8 0 10-8-9-4zM244 1183l-4 5 8 2 12-2 6-4-10-3zM347 12l7 0 4 4-6 1zM558 12l19 0-8 4-5 0-4 0zM239 20l9-1 8 3 3 2 0 4-11 6-18-10zM178 24l10 1 5 3 1 8-3 4-23 6-16-6 2-12 10-3zM343 28l9-3 8 0 3 3 1 12-12 8-8 0-7-8 1-8zM240 40l8-4 8 2 6 14 0 4-10 5-16 1-12-1-9-5 13-12zM776 56l8-3 6 3 2 4-4 6-8 4-9-6zM1450 64l6-1 0 8-11-3zM786 128l11 0 3 4 1 8-25 8-18-8-4-4zM600 188l4 0 5 4-9 2-3-2zM1125 220l11-4 15 4-15 6-10-2zM623 244l17 0 12 8 8 2 20-6 8 2 6 6-6 3-20 1-4 4 0 4-8 3-25-3-19-7-9-5 2-4zM825 252l11 0 1 4-5 2-10-2zM684 272l12-2 7 2-1 4-6 1-7-1zM826 356l18 1 20 7 24 2 19-2 13-8 24 2 12 3 9 15-33 3-2 1 3 4-5 4-1 4 5 4-3 4-17 2-39-22-17-4-12 4-8-3-2-5 2-4-13-8zM699 368l5-2 8 1 8 8 4 1-20 0-7-4zM755 368l5-2 20 13 3 9 13 8 2 4-2 8 5 4-33 2-3 2 2 8-7 3-8 1-9-4-8-8 12-4 3-4-2-8 11-4 4-4-21-12 0-4zM574 400l10-1 2 5-2 2-4-1zM830 400l10-3 20 0 28 6 2 1-2 4-20 1-8 3 4 6 24 4 3 2 2 4-65-3-12 4-13-1 5-3 12-2 4-3-5-4 0-4 11-4zM955 400l13-3 6 3 2 4-16 1-5-1zM569 412l19-4 15 4-7 5-8 1zM591 424l5 0 5 4-8 4 5 12 15 8-5 4-1 4 2 4-2 4-19 7-18-7-18-16 5-4 12-4 3-4-2-4-7-4zM623 428l9-2 28 1 4 1 2 4-6 2-32 1-5-3zM868 444l12-3 7 3-7 2zM493 460l7-4 7 8 3 12-2 12 3 8-11 4-12-2 3 18-3 6-4 3-4-1-6-8 0-8 6-10 8-3 2-3-2-20zM530 496l10-2 11 2-4 4-7 1-6-1zM16 632l8-3 6 3 2 8-4 7-8 1-5-4-2-8zM11 892l9-2 4 2 0 4-18 0zM87 908l5-4 4 1 3 3 0 4-11 4-4-4zM255 916l9 3 5 5 2 4-4 4-7 2-9-6-2-4 2-4zM1231 928l5-2 3 2-7 11-4-2zM1167 968l8 0-3 5-4-1zM1222 988l14-3 20 11-5 4-11 1-24-4 1-5zM1451 1060l5-3 0 15-4 0-4-4zM1243 1112l9 0 14 4 5 8-19 5-8-2-10-7zM1162 1124l34-3 16 1 7 2-3 7-4 0-12-3-28 0zM472 1168l4 2 2 10 7 8-5 3-8-2-8-5zM16 1176l20-3 16 1 5 6-1 4 5 4 0 4-17 6-16-1-7-5 0-8zM585 1180l15 0 5 8-1 4-20 2-8 6 15 8 2 4-1 1-8 0-10-5-1-4 3-4-16-8-3-4 3-3 20-2zM32 1212l20-3 4 3-16 5-6-1zM1300 1212l13 0-4 4-17 0-4 4-2 8-6 2-20 0-13-6-2-4 11-5 40 1zM1391 1216l18 4-17 2-10-2zM1205 1224l15-3 12 3-1 12-4 8 6 12 14 8-3 5-4 3-8 0-28-6-13-6-3-4 4-6 27-6 3-4-24-8zM39 1244l17 0-12 2zM1280 1252l8-3 20 1 12 4 10 6-1 4-17 5-24-1-11-4zM38 1300l6-3 8 0 12 3 4 4-6 12-10 1-14-13zM1449 1328l7-2 0 23-8 0-4-5 2-12zM84 1336l12-3 9 3 1 4-14 0zM1286 1340l2-3 4 0 11 3-3 6-12 6-4-1-2-7zM185 1364l7 0 20 6 2 2-2 4 2 4 9 4 3 4-14 8-20-2-18-6-4-4 11-8-2-8zM1424 1372l12-3 20 1 0 8-24 2-11-4zM1182 1380l18-3 12 1 3 2 0 4-3 4 3 4-2 4-9 2-24-3-5-3 0-4zM1339 1384l17-3 12 0 12 3 6 4-10 5-24 3-15-4-4-4zM626 1388l6-1 24 7 2 2-3 4 1 4 36 6 10 10-4 8-10 6-12-1-8-3-3-2-2-8-33-12-2-4 4-4-10-8zM211 1400l5-2 4 1 11 9-1 4-14 6-30-6 22-5 5-3zM1281 1400l23-2 5 2 1 8-6 8-4-1zM1157 1416l8 0 13 4 1 4 19 8-6 16-12 8-54 0-2-4 3-12-2-4 7-4 33-8zM1234 1432l13 0 23 8 1 4-23 12-20 0 12-8 5-8zM219 1436l13-3 11 3 2 4-5 2-15-2z"/><path fill="#535353" d="M426 0l59 0-21 1-12 7-8 2-8-2zM1189 0l26 0 2 4-9 4zM1252 0l204 0 0 31-6 5 6 5 0 9-24 6 3 24-3 24 8 4 0 4-16 12-16 28-4 16 1 8 11 8-7 16 27 6 20 1 0 11-8-1-20 6-15 9-3 4-1 12 3 2 12 0 32 3 0 22-8 5 0 12-7 8 15 12 0 251-10 1 5 4 5-1 0 136-8-10-10-1 12-4-13 0-1 3-8 2-36-11-8-6-2-16 5-16-3-8 0-12-4-8 1-4 8-8 3-12-12-32-12-20-8-4-9 0-6 8 4 4-2 4-15 4-7 8-1 8-4 4-16 2-23 6 1 12 10 15 24 4 11 17-3 4-8 2-16-9-4 0-8 11 6 12-3 8-1 24 3 8-7 16-18 8-2 4 0 20 8 8 0 4-18 16 6 8-1 4-11 8 4 12-4 24-13 12 1 4 4 4 14 0 5 4-1 4-8 4-8-5-8 1-9 12 5 4 12 1 3 3 0 16-7 3-16-2-4-3-12 7-6 11-13 12-5 8-4 12 5 8-25 12-4 4-2 8-18 13-2 19 3 8-1 4-4 4-28 10-4 8-4 1-8-1-12-10-45 48-22 32-13 11-72 41-44 22-28 6-20 1-9 3 0 4-7 7-10 5 6 3 32 5-7 8 3 2 2 6-4 8-30-4-32-20-32 0-5 4 8 12 1 4-4 4 0 4 8 4 6 12 20 0 26-9 24 5 7 4-12 8 9 8 22 8-6 8 16 3 24-7 32 4 24-3 24 11 4-4-6-4-1-4 12-4 4-4-5-3-16-2-28 3-29-10-5-4 28-8-8-4 0-4 2-2 10 2 6 5 12 1 24-7 28-3 11-4 5-4 0-4 4-2 16 1 18-3 11-8 0-4-5-5-4-2-16 2-8-3 8-3 12 2 8-1 8-6 0-4-33-8 7-4 15-4 1-4 6-4 14-4-14-7-3-5-5-2-32 3-7 3 1 4-3 4-7 6-20 1-10 5-1 8-29 6-7-6 1-4 7-4 3-8 24-8-3-16 3-4 8-4 27-4 17-10 8 1 8 3 8 7 8 4 4-1 4-4-16-8 0-8 4-7 4-3 36-8 4-2-6-4-2-4 28-5 5-3 0-4-13-7-32 2-16-11 12-7 20 2 13-3-1-7-4-1-4-4 12 0 16-7 13-9 1-4 3-4 19-9 12-4 8 4 20-4 9 9 1 8-4 8-12 8-5 16 3 4 44-6 8 2-1 4-31 20-16 7-5 5-3 8-28 12-12 1-4-5 6-12 7-8-1-4-32 6-18 14 12 8-18 2-6 2-3 4 29 1 6 7 10 4-8 10-25 6-3 4 12 5 40 6 2 5-8 4 3 4 15 8 8 8 26 0 1 4-3 7-8 3-24 1-20 7-16-3-8 2-1 3 9 20-2 8 18 6 5 6-6 8 0 8-3 2-12 2-19-4-5-4 8-4 2-4-14-5-16-1-24 5-20-1-2 2 0 8 4 8 0 8 6 3 8 0 16-5 16 1 20-1 22 10-4 4-17 8 2 4 7 4 1 16-2 4 3 8-3 4-12 4 38 12 6 4-5 8-1 12 4 8-4 8-39 5-20 11-28 8-32 19-1 9-10 8-183 0 4-8 0-8 14-8-1-4-7-4-20-6-12-6-16-1-24 4-24-1-12-3-5-3-2-4 5-8 14-7 31-5 7-12-1-4 4-8 13-12-41-16-2-4 5-5 14-7-26-3-4 2-6 9 2 8-12 16 17 8 1 8 9 4 2 4-5 3-12-2-16-9-7-12-9-4-52 5-20-3-3-2-2-8-4-8 5-8-1-4-31-6-20-8-16-3-16 5-2 4 16 12-2 9 16 11 38 16 18 12 0 4-8 1-8-3-24-3-24-11-8-1-29 13-3 4 14 8 3 8 11 8 4 7 13 9 4 8 4 16-3 8 5 8-63 0-28-20 3-4-6-8 1-4 19-4 4-4-5-4-8-3-8 2-12 5-16-3-8-13-25-12-2-4 5-8-4-8 30-28 40 10 40 0 10-2 3-4-3-4-18-8-8-1-2 5-6 3-20 3-16-6-64-7-26 15-1 4 2 12-12 12 5 5 0 7-5 0 2-4-4-4-21-5-12-7-6 0-3 4 2 4-3 8 3 4 18 8 14 16-1 4 3 4 13 6 8 6-20 13-8 2-12-3-7-4 0-4 3-4-4-12-12 0-8 8-12 6-12-2-5-8-21-20-12-8-5-8-12-8 1-12 8-8-2-3-26-9 9-8 3-4-1-4-13-6-24-4-16-6-32 4-8-4-5-4 2-4 34-4 13-4 6-4 1-12-7-5-8-2-24 1-6-2 10-4 20-1 28-9 28-5 16 8 16-1 12-6 3-6-5-12-6-3-56-17-9 4 2 4-2 4-15 13-39-5 13-32 6-3 17-1 1-4-18-8-10-8 1-4 13-8-4-4-13-8-6-8-3-8-11-8-2-12-8-8-4-28-10-12-13-8 19-8-4-4 2-4 8-4 2-4 0-4 11-12 0-5-10-15-1-12 5-8-5-20 7-12 8-4 16 1 10 11 1 20 2 8 34 12 0 4-13 4-3 4 22 12-1 8 11 4 3 4-4 12 14 7 16-2 3-5-8-8 9-13 8-5 16 3 5 3 3 8-7 16 5 4 30 14 7 10-1 12 3 8-13 8 2 8-1 4-9 12-13 4-7 9-4 2-6-3 5-12-5-4-22-6-8 3-1-1 3-4-3-4-11-5-8-1-7 2-12 8-2 4 8 16-8 4-1 4 2 2 12 3 16-4 8 1 15 10 9 2 12-3 8-4 12 3 5 6-2 8-15 12 4 4 28 8 12 6 5-2-2-4 14-12 7-10 12-4 12 1 9 9-2 4 2 8 0 8-5 8 4 3 20 9 8-1 16-7 8 0 8 3 10 9 17 8 9 7 9 13 9 8-1 8 7 12 40 16 24-3 2-9 5-4-11-4-5-4-1-4-14-7-35-25-13-20 0-4 8 1 12 8 30 11 10 16 28 4 17 8 19 6 4 2-3 12 11 6 8-1 4-5 1-4-5-8 56 5 28 0 16 6 9-3-17-5-2-3 7-8-1-4-12-5-8-10-28-10-23-19-29-20-3-4 3-9-12-3-5-4-35-6-16-10-48-10-28-12-64-33-43-29-45-26-15-14-19-32-17-36-3-8 0-8 22-36 7-20 2-20 8-20 7-6 40-20 24-1 16-5 1-4-5-5-8-1-24 4-47 10-25 23-40 18-20 2-44 0-8 6-6-1-6-5-8-1-13 2-7 4 0 8 8 4 27 4-15 4-5 4 9 7 16 5-3 8 8 4 2 4-11 12-4 1-21-1-5-4-14-2-8-4-8-10-1-4 7-8-2-8-4-3-16-3-16 9-8 1-4-4 2-4-10-9-20 12-12 1-8-5-24-24-16-9 0-87 12 0 20 5 11 8 30 40 14 32 4 12 21 0 8 6 8 0 7-6-2-4 1-4 10-3 16 0 10-9-6-10-16-7-12-4-8 3-20-1-6-1-1-4 11-7-4-9 1-12 7-9 16-13 1-6-32-76-10-36-4-24 0-20 11-48 6-6 12-3 108-2 27-9 17-17 12-4 8 2 18 15 16 20-1 16-8 20-9 13-20 8-16 2-4 3-2 10 6 5 8 3 5 8 8 8-9 2-16 0-1 2 15 32 22 76 12 13 8 4 28-16 54-13 4-20 18-43 11-37 2-40 9-24 12-24 10-11 44-36 71-25-10-8 7-4 18 0 5 4-3 4 4 0 36-6 20-1 20-8 24 0 2-5-2-12 8-6 8-2 41 4 4 4-5 3-20 1-9 4 9 3 12 1 8-7 12 3 4-3 0-5 19-8-7-8 4-4 32-4 20 5 29 19 1 12-4 4 4 8-4 4 2 1 45-25 1-4-10-8 4-3 16-2 4 1 0 4 4 2 16-1 3-1 0-4-3-4 8-3 9 3 9 8-10 4-32 1-3 3 14 12-3 4 2 4 10 12 20 36 8 4 5 0-3-12 2-8 13-20 15-14 8-2 8 1 20 12 13 11 24 32 15 28 12 15 4 3 8-3 8 2 5-13-1-4-8-8 14-8 7 0-4-16 2-12 9-8 5-8 0-4-3-8 4-8-4-8 12-4-2-4-5 0-7 6-4 0-14-2-10-5-16 4-20-3-4-2-5-10-28-12-4-4 3-8-7-16-22-4-3-4 6-4 23-4 8-4-13-8 0-12 2-1 16 0 20 7 18 18 6 4 8-3 5-13-2-4 9-5 8-1 32 11 14-1 7-4-13-13-28-1-32-15-4 0-6 5-2 8-8 1-12-9-8-19-8-5-26-8-18-12-27 0 5-4 20-4-15-8 9-3 1 3 7 3 28-1 9 2 3 13 22-13 2-3 8 1 24-5 28-1 24 2 24 5 2-3-1-4 3-5 4-3 16-4 3-4-9-8-26-3-24-11-28 5-3-3 2-4 6-4 7-3 17-1 1-4-4-8 3-8-6-8 0-4-7-4-24-2-15-6-4-4 3-6 12-2 4-4-10-8-1-4 5-4-2-4-33 0-18 8 9 4-2 1-24 2-20 5-36-4-12 6-24 0-12 2-5 0-3-4 8-3 48-1 8-3 4-5-6-4-22 2-7-2 7-9 3-11 21-8 1-4-5-8 2-4 14-12 12 0 20 12-4 9-20 5-9 10 1 4 17 8 19 0 12-6 35-2 12-4 1-4 11-8 1-8-5-4-29-4 6-6 15-2-5-8 3-12 0-8-12-8 9-4 2-4-32-3-16-6-4-3-3-8 2-8 5-4 16-7 16 0 16 3 20-6 13 6 1 4-7 4-1 4 6 7 28-5 48-4 6-2 3-8 21-24zM1316 28l5 16-5 12 3 20-5 16 2 6 8 5 4-2 4-5 10-40 3-8-2-4 0-12-6-4-9-2zM1372 320l-16 8-12 4-2 12 7 8 23 12 0 8 3 8 1 10 6 14-1 8 11 8 12 4 4-2 2-10 0-16-14-12 1-4 9-4 3-8 18-16-1-4-26-6-14-6-1-4 8-4 3-4-4-5-8-2zM856 1331l-10 9 4 8 0 16 7 8-1 4 6 12 6 5 12 4 20-1 20-8 33 0 0-4-17-10-24 3-12 9-12 0-6-6 0-4 6-5 32-3 20 2 5-2 2-4-11-5-24-1-10-10-2-4 2-4-7-4-23-6-12-1zM872 1312l-5 4 1 5 7-1 4-4-2-4zM956 1403l-24 21 20 11 12 0 11-3 2-12-16-8 0-8zM980 1335l14 1-10-2zM1164 1024l-9 4 5 3 10-3 1-4zM1072 1351l-5 5 9 3 8-2 2-5zM200 1050l-13 6-7 8 4 6 24 12 8 0 12-10 14-4 1-4-3-2-32-13zM212 1035l0 4 4 1 5-4-5-2zM252 1180l-12 4-2 4 2 3 8 1 16-4 6-4zM320 1308l-10 4 0 4 14 7 11-7 1-4-4-2zM668 1308l-8 3-1 5 20 20 21 1 19-9 2-4-33-10-12-6zM752 1299l-3 1 7 4 8 0 4-4zM648 1175l-2 1 7 4 11 2 28 14 4 0 21-8-2-4-11-3-28-1zM756 475l0 2 4 1 10-2-6-2zM836 491l-3 1 15 6 10-2 0-4-6-1zM1016 588l-2 0 2 7 8 10 36 27 2-8-2-6-12-1-4-2-3-3-1-8-7-8-5-4zM1096 1004l-5 4 13 10 8-2-4-10zM1164 619l-3 1-1 28 4 21 2-21 3-4-4-8 1-8zM1120 410l-2 2 3 4 11 5 12 0 3-5-19-7zM1196 344l-3 4 7 7 5 1 4-8-1-8zM1212 364l-4 1-3 7 7 6 8 0 1-6zM1216 179l5 13 27 1 9-5-1-4-16-5-16-2zM1360 512l-3 4 9 0-1-4zM1420 596l12 3 2-3-2-3zM328 1332l-6 4 2 4 10 8 6 0-2-4 2-4-2-4zM408 1251l-8 5-2 4 6 20 12 2 11-2 6-4 4-8 8-4 1-4-10-5-20-5zM1164 681l-3 15-9 8 0 15 36 38 2-5-2-8 5-12-1-4-6-8-2-11-12-5-6-8zM1212 762l-3 2-1 5 4 1 5-6zM1256 279l-2 1 13 8-27 4-10 4-2 4 8 3 16 1 20-4 7-4-3-8-4-4zM1256 328l-3 4 3 8 4 1 10-1 10-8-8-4zM1260 367l4 6 5-5zM234 24l14-2 7 2 0 4-11 1zM158 28l18-3 12 1 5 6 0 4-4 4-9 3-16 1-10-4zM352 28l4 1 6 7-1 4-9 6-8 0-5-6 1-4 4-6zM232 44l20-3 8 11 0 4-8 4-16 2-11-2-6-4zM779 56l5-1 6 5-6 7-4 1-7-4 1-4zM1447 68l9-4 0 6zM775 132l17-3 6 3 0 8-18 4-16-3-7-5zM901 220l7-2 16 6 28 6 13 6 15 12 21 0 3 4-26 8 0 4 6 2 32 1 16 4 8-2 4-5-14-16 14-2 24 7 10 7 8 12 22 12-14 8-2 4-20-8-52 4-4-1-11-11-5 0-13 4-4 4 5 4-8 5-12 1-20-2-9 12 14 12 0 12 4 4 11 2 44-1 7 3 0 8-7 6-36 5-12-1-12-12-19-6-1-4 2-12-6-3-32-2-11-3-3-8 2-4 0-4-5 0-15 7-36 3-2 2 5 8-7 4-24-1-16-5-24-2-28 7-8 0-16-3-2-4 6-3 16-13-12-8 4-2 48-2 11 4 0 4 9 2 16-2 20-6 20 5 28-8 14-7 10-9 16 0 11-3 6-4-1-5-4-3-16-1-5-3 0-8-7-12 8-8zM1128 220l8-3 11 3-11 5-5-1zM627 244l9 0 20 11 8 0 16-5 8 2 2 4-6 2-20-1-8 9-12 1-28-5-11-6 2-4zM1091 260l17-3 16 4 16-1 4 4-20 5-16 1-8-2zM679 320l10 0 1 4-10 3-7-3zM826 360l6-3 8 0 12 3 12 6 32 1 12-2 12-7 12-1 20 4 5 3 5 8-2 4-32 2-2 2 5 4-5 8 4 4-5 4-9 1-12-4-32-18-16-4-16 1-3-4 3-4zM702 368l6-1 8 5-4 4-8-1-5-3zM755 372l5-2 4 1 15 9 1 4-2 4 14 7 3 5-1 12-26-1-6 5 3 8-9 3-10-3-3-4 0-4 7-4 2-4-1-8 11-4 5-4-21-12zM833 400l11-3 16 1 27 6-3 3-20 1-5 4 0 4 5 3 26 5-2 3-4 1-56-6-7-6 2-4 10-4zM958 400l10-2 3 2 1 4-12 0zM626 428l10-2 23 2 3 4-30 2-7-2zM567 432l21 1 7 7 1 5 12 7-3 4 1 8-2 4-12 5-8 0-12-6-18-15 16-8 4-4 1-4zM494 460l6-3 4 3 5 12-2 16 2 8-9 3-11-3 2-4-2-20zM535 496l12 0-7 3zM480 500l4-1 7 9 0 8-7 8-4 0-6-8 0-8zM17 632l7-3 5 3 3 8-4 6-8 1-5-3-1-8zM1449 720l7-3 0 290-20 6-17 11-3 4 1 4 21 12 1 8-7 3-36 0-12 3-10 26-6 6-4 0-4-3-8-22-4-2-6 9 3 4-3 8 4 4-2 4 2 8 9 8 25 2 3 2-2 4-37 8 0 4 8 4 2 4-6 11-8 4-29 5-7 4 8 3 4 5-4 8-12 4 2 12-2 5-8 6-12 3-16 1-16-1-16-5-3-9 0-12-3-4 16-12 0-4-10-8-1-4-7-7-8-1 28-7 56 8 7-5 1-12 20-8 2-4-4-8 5-8-9-8-3-8 3-4 12-4-14-12-15-8 0-4 4-4 26-8 21-3 3-9 5-4 0-24 8-16-1-4-3-3-12-3-3-6 2-4 29-7 6-5-1-4-5-2-28-4-9 2-4 4-2 16-4 4-2 8-9 8 3 8-20 8-9 8-17-4 2-4 18-8-4-8 0-12-3-4-20-8-20 6-5-2 3-4 22-5 10-7 3-8-9-3-2-5 3-8 13-12 1-8-5-8 12-12 4-8 8-8 0-8 2-4 28-12 0-4-7-8 25-20-2-4 6-12 17-20 23-4 8-4 2-4-5-8 0-4 9-23 8-4zM92 908l4 4-8 1 0-3zM253 920l3-3 4 1 7 6 1 4-4 4-8-1-5-7zM1234 928l3 0-5 9-2-5zM1228 944l6 12-10 7-5 9-8 4 1 4-4 4-12 3-12 8-4-3-1-4 2-4 27-28zM1228 988l8-1 16 9-12 4-19-4 0-4zM1244 1116l8-2 8 2 6 4 0 4-10 3-12-2-6-5zM1171 1124l42 0-1 2-28 0zM1195 1140l12 0 4 4-7 8-16 6-16-3-10-7zM1367 1148l5 0-2 4-13 0zM1204 1172l4-2 9 2-1 3-4 1zM29 1176l11-2 12 2-1 4-23 3-3-3zM468 1180l4-4 9 8 2 4-3 2-8-2-6-4zM588 1180l12 2 3 6-3 4-16 0-12 5-10-5-3-4 5-3 17-1zM26 1188l2-3 4 0 22 3 2 4-12 4-12 1-8-5zM576 1208l4-3 4 2 4 1 0 4zM1248 1220l8-3 24 0 4 0 3 7-2 4-5 2-12 0-18-6zM1386 1220l10-2 9 2zM1208 1224l12-2 10 2-2 11-8 2-17-5 0-4zM240 1232l8 0 4 2 1 2-1 4-12 2-6-6zM1198 1248l18-2 8 1 8 10 13 7-5 6-4 1-31-7-10-4-4-4 0-4zM1283 1252l25-1 12 4 8 5-2 4-14 4-24 0-9-4zM41 1300l15-1 5 1 3 4-8 8-14-8zM1454 1328l2 0 0 7-4 0-3-3zM88 1336l13 0-1 3zM1447 1340l9-3 0 11-8-2zM1287 1344l9-2 2 2-6 4-4 1zM181 1368l7-3 20 6 3 1-1 4 1 4 13 8-16 6-16-1-12-5-5-4 9-8zM1426 1372l14-2 16 1 0 6-20 3-13-4zM1185 1380l15-2 12 2 0 4-3 4 3 4-4 4-8 1-20-4-2-1-1-4zM1345 1384l23-2 10 2 5 4-8 4-23 3-10-3-3-4zM626 1392l2-2 8 0 9 2 5 4-10 3zM1290 1400l15 0 3 4-1 4-3 3-8-1-7-6zM634 1404l10-3 14 7 30 2 12 10-3 8-5 4-16 0-8-4-2-8-32-12zM211 1408l9-4 9 4-1 4-12 5-25-5zM1154 1428l22-3 12 3 7 4-4 8 2 4-3 4-13 8-49 0-2-4 3-12-1-4 7-4zM225 1436l12 0-1 3zM1250 1440l2-4 14 4 3 4-25 12-13 0 9-5zM366 1444l6-2 4 2 4 4 3 8-43 0 4-8z"/><path fill="#555555" d="M429 0l29 0-1 4-13 5-8-3zM1193 0l20 0 1 4-6 3zM1253 0l203 0 0 29-7 3-1 4 1 4 7 2 0 7-24 4-2 3 2 24-3 24 7 8-15 12-18 28-3 12 1 12 13 8-8 16 2 2 32 6 16 0 0 7-12 0-36 17-3 20 19-1 32 3 0 20-10 6 0 12-7 8 17 13 0 249-12 2 4 4 8 1 0 131-7-8 4-4-5-2-12 1-8 4-36-9-7-6-3-16 5-16-2-8-1-12-3-8 1-4 8-8 3-12-13-34-7-14-9-9-8-2-8 3-6 8 2 5-14 7-8 12 0 4-4 4-10 0-28 7 1 13 11 17 16 0 7 3 11 16-4 4-6 1-4-1-12-9-4 0-9 13 6 12-2 8-2 24 3 8-7 16-17 7-3 5 0 20 7 8 0 4-17 16 6 8-1 4-12 8 4 12-2 20-1 4-13 12 4 9 16 0 4 3-1 4-7 2-8-5-8 1-10 14 6 6 12 2 1 16-5 2-16-2-3-4 3-5-4 0-1 5-15 12-3 8-17 19-5 13 4 8-24 12-4 4-2 8-17 12-2 4 1 8-2 8 3 8-2 4-22 9-4-1-12 13-8 0-12-10-2 1-45 48-19 28-14 14-72 41-48 23-24 5-24 1-12 4 4 4-2 4-6 4-10 4 3 4-5 4 8 1 12-3 16 2-8 8 10 4 2 4-4 5-12 1-16-3-24-17-8-3-32 0-4 1-2 4 8 16-4 4 0 4 8 4 3 12 27 0 24-7 24 5 4 2-12 8 10 8 20 8-3 4-1 4 2 1 16 3 24-7 32 3 20-2 10 2 12 8 12 0 0-4-5-4 0-4 10-4 4-4-6-4-17-2-28 3-32-13 12-4 36-4 20-7 35-5 10-4 7-8 16 0 19-4 11-8 2-4-6-8 6-5 1-7-30-8 9-5 18-3-5-4 23-8-16-6-8-8-8-2-32 5-5 3 1 4-2 4-10 5-20 0-10 7 0 8-2 1-20 4-8-4 0-5 9-4 1-8 2-1 25-3-4-8-2-12 9-7 24-3 24-12 14 6 11 12 7 0 6-8-1-4-9-1-6-3-1-8 3-6 8-4 12-2 24-6 3-2-7-4-2-4 30-5 3-3-1-4-10-7-32 1-19-10 11-6 20 1 16-3-1-8 27-16 9-12 13-7 12-4 4 1 4 3 20-3 12 9 1 5-4 8-12 8-6 16 1 4 16 0 28-5 8 1 0 4-28 19-16 6-7 7-2 8-11 5-20 7-8-2 2-14 12-12-10 0-32 6-4 6-13 8 7 4-18 8-3 4 11 2 16 0 5 2 3 5 8 3-6 8-26 8-3 4 22 8 32 4 0 4-9 4 4 4 16 8 7 8 7 2 20-1 1 3-1 4-4 4-28 2-20 7-16-3-9 2-1 4 9 20-3 8 20 7 3 5-6 8 0 8-5 3-8 0-15-3-6-4 8-4 1-4-16-6-16-1-24 6-20-3-4 3 3 25 6 4 11 0 16-5 16 2 20-2 19 9-4 4-17 8 2 4 8 4 2 4 0 12-3 4 2 8-16 8 4 4 27 5 15 7-4 8-2 8 3 13-8 7-28 2-8 2-16 11-22 5-10 4-28 17-3 3-1 8-9 8-35-2-11 2-134 0 5-8 1-8 14-8-9-8-22-7-7-5-5-1-12-1-28 4-24-1-12-3-5-6 5-8 12-6 24-2 9-4 10-24 14-12-41-17-2-3 4-4 16-8-24-4-4-4 14-3 3-5-7-2-30-2 14 7 3 5-9 8-3 8 2 8-12 16 18 8-1 8 9 4 3 4-6 2-22-10-6-7-1-5-11-5-48 5-20-1-6-3-1-8-5-8 5-8-1-5-28-4-24-11-20-3-12 5-5 6 16 12 0 4-3 4 0 4-32-13-2 1-2 8-20 5-20-6-24-2-40-9-4 2-4 6-19 12 1 16-14 11-16-1-16-9-8 0-4 7-2 12 3 4 19 8 14 16-3 4 3 4 14 5 10 7-18 11-12 2-13-5 4-8-1-4 2-9-8-3-12 2-6 2-6 8-8 3-8 0-21-19-7-8-16-12-1-4-11-6-2-6 2-8 8-8-1-4-26-8 9-8 2-4-1-4-15-7-24-4-12-6-12-1-24 3-8-4-1-1 1-2 4-1 40-6 8-6 0-13-4-5-8-3-2-4 18-7 36-6 16 7 16-1 12-6 3-3 1-4-5-12-3-2-56-19-13 1-4 4 1 8-12 9-4 1-30-6 6-12 1-12 3-4 8-3 15-1 1-4-12-8-1-4-5-8 5-8-2-4-13-6-9-10-3-8-11-8-2-12-8-8-3-8 0-16-8-16-15-8 19-7 1-1-5-4 2-4 7-4 2-8 10-12-1-8-9-12 0-12 4-8-5-20 6-9 12-5 12 2 8 8 2 12-1 8 3 8 33 12-1 4-12 3-4 5 23 12-7 11-2 9 2 3 10 1 2 4 8 4-8 1-12-8-22 11-8 8 6 8 22 12-4 4 10 5 8-1-1-8 9-10 20-5-4-9 3-4 9 0 4-3 2-5-8-8 1-4 9-11 8-1 12 2 7 6 0 4-8 12 0 8 33 12 5 4 6 12-2 8 2 8-14 8 3 8-1 4-7 9-4 2-16 3-7-6-17-6-18-10-14-3-12 2-14 9-1 4 6 12 0 4-6 4-1 4 4 4 16 3 6-3 10-1 10 5 6 5 8 3 8-1 16-6 8 1 5 2 2 4-2 8-9 9-12 3 40 13 12 6 4 0 3-3-2-4 14-12 5-9 12-5 12 2 7 8-2 4 3 8-1 8-4 8 17 12-3 4 3 2 12 0 5-2 2-4 9-7 8-1 8 2 13 10 17 8 9 8 8 12 10 8-1 8 7 12 21 8 16 10 16 1 12-4 4-3 0-8 7-4-15-5-5-7-15-7-28-20-15-17-3-8 2-2 43 18 10 16 3 2 28 3 36 15-2 12 14 7 11-3 4-8-2-4 3-3 32 2 16 3 24 0 20 7 9-1 4-4-20-8 7-12-16-6-7-10-29-9-22-19-24-16-8-8 6-7 8 0 12 2 24 13 8 1 22-9-2-5-12-3-32-1-44-12-8 3-28-4-16-10-60-14-84-42-41-28-47-28-13-12-13-20-24-48-2-12 2-8 21-36 5-16 2-16 8-24 6-5 40-19 20-2 20-5 2-5-6-6-32 3-48 10-24 23-40 17-20 2-44 1-12 4-8-5-12-2-15 5-6 4 2 8 7 5 15 3-8 4-1 4 11 8 14 4-3 8 10 4 3 4-13 9-40-4-8-5-8-12 8-8 0-4-1-4-7-5-12-3-8 1-9 7-7 2-5-2 2-4-13-11-20 12-12 2-8-5-24-25-16-9 0-84 12 1 20 4 10 7 32 44 12 28 2 16 16-3 12 8 12 0 12-5 0-4-4-4 2-4 26-2 8-5-5-13-13-8-26-8 0 4-12 1-9-1-3-4 16-4-9-8-2-12 7-11 16-13 3-8-34-80-13-56 1-24 4-24 7-21 8-5 8-2 108-2 28-9 16-16 12-5 8 3 16 13 16 20-1 16-8 20-8 12-15 6-20 3-5 3-2 12 11 8 4 8 8 8-23 0 18 40 18 68 7 12 9 8 7 2 28-16 32-9 20-1 4-4 2-16 18-43 12-41 2-40 11-28 11-20 8-9 48-38 64-23 13-2-9-3-9-5 9-4 16 3-3 5 3 2 60-7 24-11 20 3 3-7-2-12 7-5 12-3 31 4 4 4-23 4-7 4 23 7 0 3-4 2 12 0 20-4-7-4 5-12 18-7-6-9 4-4 34-3 16 5 12 10 12 5 5 7 0 8-4 4 3 8-8 8-20-3-14 3 14 6 8 1 9-3 3-4 4 1 10-5 30-19 12-5-1-4-8-8 13-4 7 12 15 12-6 4 14 16 19 36 15 6 3-2-3-12 1-8 10-16 17-16 12-3 24 13 11 10 27 36 14 26 11 14 5 3 8-3 8 4 6-20-7-4-1-4 14-7 4 2 2-3-4-16 2-12 9-8 4-8 1-4-3-8 5-8-1-8 9-4-1-4-7-2-16 6-11-4-1-4-8 0-16 6-16-3-11-11-29-12-3-4 2-8-5-8-1-8-21-5-3-3 5-4 22-4 8-4-11-8-1-4 2-4 6-3 12 1 16 5 16 17 8 5 8-2 7-15-1-4 10-5 36 11 18-2 5-4-11-12-32-3-32-17-8 5-8 10-4 0-10-7-8-20-6-4-28-9-20-14-16-1 16-1 10-7 18-1 6 1 2 4 0 12 4 1 11-9 13-6 32-7 40-1 40 7 2-1-3-8 3-4 21-8 3-4-10-8-32-5-16-10-28 2-2-3 6-4 25-4-5-12 3-8-6-8-1-4-6-4-26-3-13-5-5-4 2-4 4-2 16-2 0-4-12-8-1-4 5-4-1-4-11-2-28 1-22 9-4 4-22 6-12 1-17-3 3-8-6-5-12-1-8 2-2-8 5-12 20-8 1-4-6-8 1-4 9-9 8-3 8 1 18 11-2 6-24 9-8 9 1 4 19 9 20 0 16-6 20 0 20-3 4-2 4-8 16-10-2-4-7-4-31-4 4-4 20-4-7-8 3-12-1-8-10-8 24-8 7-4 0-2-20 4-28-1-16-3-10-6-4-8 3-8 7-6 20-4 24 3 20-5 10 4 1 4-6 4-1 4 3 8 5 2 28-7 48-3 8-4 3-8 20-24zM1316 26l-2 2 6 16-5 12 1 20-6 20 7 16 7 3 8-3 4-7 8-49 4-8-3-4-1-12-6-4-10-2zM1384 316l-21 4-19 8-5 12 1 4 8 8 23 12 3 24 7 16-1 8 16 11 8 2 5-5 2-24-3-6-9-6 0-4 13-4 0-8 16-16 0-4-8-3-16-3-16-6-1-4 7-4 3-4-5-6zM860 1328l-4 1-11 11 4 8-1 16 7 8 0 4 6 12 7 6 12 4 20 1 20-11 12-1 20 3 4-2-1-4-15-12 7-4 1-4-12-5-24-2-9-9-1-4 2-4-6-4-26-7zM868 1312l-4 4-1 4 5 3 8-2 5-5 1-4-2-1-4-1zM980 1331l-3 1-2 4 13 2 9-2zM1016 1295l-2 1 2 5 8-1 5-4-5-2zM1164 1023l-11 5 7 4 12-4 0-7zM1068 1352l-3 4 11 5 8-2 5-7-9-2zM244 1180l-7 4-1 4 4 7 4 1 36-12-24-5zM300 1291l-2 1 2 4 7 0 2-4zM316 1308l-8 4 1 4 11 7 8 0 8-7 1-4-5-3zM392 1227l-8 5 10 0 1-4zM408 1250l-8 5-2 5 3 16 3 5 12 2 12-3 6-4 5-8 8-4 0-4-7-5-24-6zM664 1307l-4 1-3 4 0 4 19 20 24 2 21-10 2-4-31-9-14-7zM1012 587l4 10 9 11 33 24 6 1-2-5 0-8-2-2-12-2-6-4 2-7 8 4 4-1-8-8-4-3-4 3-18-12zM1092 1004l-3 4 7 3 8 8 4 1 7-4-8-12zM1160 613l-2 3 1 36 4 16 0 20-3 8-8 6-1 18 37 40 2-8-1-8 5-12-7-12-3-12-12-4-7-12-1-32 2-12 5-4-5-8 1-8-1-8zM1124 408l-7 4 3 4 8 4 12 3 8-3 2-4zM1172 435l-3 1 3 3 8-3zM1204 339l-14 5 1 4 13 12 2 4-3 8 2 4 7 4 9 0 2-4-1-4-4-8-9-8 2-12-1-4zM1220 176l-8 4 5 12 19 3 16 0 8-7-2-4-10-5-16-3zM1320 523l-2 5 2 4 4 3 0-6zM1360 511l-3 1-1 5 8 1 4-2 0-4zM1420 592l-5 4 17 4 4-4-4-6zM952 1403l-3 5-17 13-21 3 21 3 20 9 16 0 11-4 1-8 3-4-20-8 0-8-3-2zM324 1331l-4 5 2 4 10 10 12 6 1-8-6-12-7-6-4-1zM1184 795l-6 17 2 4 7-12 0-4zM1192 762l-2 2 2 12 3-8zM1200 803l0 1 4 1 4-1-4-3zM1208 764l-2 4 2 3 8-3 3-4-7-3zM1248 276l-1 4 14 8-25 3-8 4-3 5 7 4 16 1 41-5-8-12-8-8-17-5zM1244 572l-3 4 3 7 4-3 0-4zM1256 326l-4 2 0 4 2 8 6 3 12-3 10-8-6-4zM1260 365l-2 3 2 4 4 3 4-1 3-6-7-3zM1272 554l0 6 4 2 2-2-2-6zM163 28l21-1 7 5 0 4-4 4-7 3-16 0-7-3 3-9zM343 36l5-4 10 4 0 4-10 4-6-4zM236 44l16 0 6 8 0 4-9 4-13 1-8-1-6-4 6-8zM776 60l8-3 3 3-2 4-5 2-5-2zM779 132l13-2 5 6-2 4-15 3-13-3-7-4zM948 184l32-2 7 2-35 2zM1131 220l13 0-8 2zM910 224l42 7 16 9 8 8 20 1 4 3-29 8 4 4 9 4 28 0 20 4 8-1 5-3 1-4-13-16 11-1 20 6 10 7 10 12 22 12-14 7-20-4-48 3-8-3-7-7-9-1-16 5-4 4 4 4-5 4-11 1-16-3-8 2-7 12 2 4 10 4 3 8-1 8 5 5 8 2 50 1 2 8-4 4-36 6-12-1-12-12-14-5-3-4 0-12-3-2-8-3-24 0-12-3-3-8 2-8-3-1-8 0-8 6-8 2-16 2-18-1-2 4 5 8-5 3-24-1-12-4-24-3-12 1-24 6-15-2-1-4 6-8 13-8-2-4-10-4 5-1 40-1 9 2-1 4 16 3 36-8 20 5 28-8 16-8 8-7 16-1 14-4 6-4-4-8-16-1-7-3 0-8-7-12zM622 248l10-3 4 1 19 10 3 4-6 4-16 1-20-4-9-5 3-4zM675 252l9 0 2 4-13 0zM1095 260l13-2 12 4 17 2-13 4-16 1-11-5zM830 360l18-1 8 7 4 1 36 1 12-1 16-8 12-1 16 4 4 2 4 8-4 4-32 0-1 4 5 4-3 8 2 4-11 4-16-6-24-15-16-5-18-2 5-4zM700 372l8-3 6 3-6 2zM754 376l6-3 4 1 13 6 0 4-5 4-8-1-14-7zM766 396l6-4 12 2 8 4 1 6-5 6-24 0-4 2-1 4 3 8-6 2-7-2-3-4 8-8 1-4-2-8zM836 400l20-2 28 6-20 2-5 2-2 4 3 6 4 2 24 4-4 3-8 0-44-5-8-6 3-4 9-4zM628 428l20 0 9 4-25 2-5-2zM576 440l8-4 8 3 4 8 8 5-2 8 2 4-3 4-9 4-8-1-12-5-16-14zM955 444l10 0 10 8-15 2-2-2 1-4zM495 460l5-2 4 3 4 11-1 24-7 3-10-3-1-24zM477 504l3-4 4 0 6 8 0 8-6 8-4-1-5-7zM18 632l6-2 4 2 4 8-4 6-8 1-4-3-2-8zM1452 720l4-2 0 288-21 6-18 12-3 4 1 4 21 12-1 8-11 3-24-2-16 2-11 29-5 5-4 0-7-9-5-18-4-3-4 1-4 5-8 1-24-14 0-4 6-4 14-2 12-6 16 0 4-4 2-8 5-4-3-12 1-12 7-12 2-8-6-6-10-2-3-4 5-5 27-7 4-4 0-4-3-2-28-5-8 0-7 3-3 4-1 12-6 8-2 8-9 8 1 8-17 6-8 7-8 0-5-1 1-4 18-8-5-8-2-16-18-8-3-4 6-4 8-12 6-4-2-2-12 2-4-3 0-5 2-4 13-12 1-8-5-8 12-12 4-8 8-8 1-10 4-4 25-10 0-4-6-8 24-20-1-4 6-12 18-20 22-4 8-4 1-4-5-8 0-4 8-22 8-4zM255 920l6 0 4 8-5 3-4-2-3-5zM1222 948l6 0 4 8-8 6-7 10-9 4 0 5-20 10-5 1-3-4 2-4 27-28zM1225 992l11-3 13 7-5 2-12 0-7-2zM227 1056l1-4 11 4zM1329 1076l11-2 1 2-3 8 2 5-8 3-6-4 0-4-3-4zM1332 1100l4-4 4 1 6 7 0 4-6 2-8-1-3-5zM1348 1112l16-3 17 3-5 4-20 3-10-3zM1242 1120l10-4 11 4-1 4-10 2-7-2zM1330 1120l10-2 4 2-6 4 2 4 9 4 2 4 0 4-7 7-8 3-46 6 2 6 12 0 10 6-4 8-14 4 5 12-5 7-16 7-16 1-16-2-16-7-3-22 15-12 0-4-10-8-4-12 14-5 20 3 20 1 16 4 8-5 4-14zM1182 1144l18-3 7 3-5 8-10 4-12 0-12-4-1-4zM472 1180l7 4 1 4-4 0-8-4zM587 1184l9-2 5 6-5 3-12-1-12 5-9-3-2-4zM28 1192l12-2 11 2-15 3zM1250 1220l10-3 20 1 4 1 2 5-6 5-12 1-16-6zM1210 1224l14-1 3 1 2 4-5 7-8-1-9-2-1-4zM237 1236l7-3 7 3-2 4-5 1-5-1zM1201 1248l19-1 7 5 1 5 4 3 11 4-3 4-8 1-32-9-6-4-1-4zM1290 1252l22 0 14 8-3 4-15 4-16-1-11-3 3-8zM160 1268l8-2 8 2zM45 1300l12 0 2 4-3 2-8-1zM460 1340l8-3 16 7 16 3 44 0 15-3 5-6 59 26 3 4-2 4-24-1-11-3-17-10-12-1-27 15-3 4 13 8 4 8 9 5 7 11 13 8 4 8 3 16-3 4-4 3-16 1 20 2 4 6-58 0-27-20 2-4-6-8 3-4 19-4 3-4-8-6-20-8-4 0-2 2 7 4-1 4-8 3-12-2-4-3-2-6-3-4-24-12-3-4 5-8-4-8 6-4zM185 1368l7-1 14 5 3 8 12 8-9 4-8 0-12-1-7-3-6-4 8-8zM888 1372l8-2 36 2-20 3-12 11-4 1-8-1-5-6 0-4zM1429 1372l11-1 12 1 4 4-20 3-11-3zM1189 1380l20 0 0 4-4 4 4 4-9 3-20-3 0-4zM1351 1384l17-2 8 2 5 4-9 4-20 2-6-2-2-4zM1292 1404l8-3 5 3-1 3-4 1zM217 1408l8 0-1 4-8 2-14-2zM649 1412l3-2 36 2 9 8 0 4-1 4-4 2-8 2-8-2-5-2-3-8zM1173 1428l11 0 7 4-3 4 3 8-2 4-14 8-45 0-2-8 2-12 18-6zM1255 1440l6 0 5 4-6 4-12 4-2-4zM357 1448l15-3 6 3 3 8-39 0 6-6z"/><path fill="#575757" d="M433 0l19 0 0 4-12 2zM1197 0l13 0 2 4-8 0zM1254 0l202 0 0 28-8 0-3 8 1 4 10 3 0 3-27 6 2 28-4 24 5 8-14 12-17 24-5 16 1 12 15 8-9 16 4 4 33 6 16 0 0 3-16 2-35 17-3 20 6 2 16-3 32 4 0 18-11 7 0 12-8 8 19 14 0 248-14 2 6 5 8 0 0 129-4-6 3-4-7-3-12 0-8 4-12-1-24-7-7-5-2-16 5-16-3-8 0-12-4-8 1-4 9-8 4-8-1-4-12-32-18-29-16 4-14 13 0 4-11 12-2 8-5 3-8-2-12 6-16 2-1 7 1 8 12 19 12-1 9 2 1 4 11 12-5 4-4 0-16-12-4 1-9 15 6 12-5 32 3 8-8 16-15 6-4 6 0 20 7 8 0 4-18 16 7 8-2 4-11 8 4 20-2 12-1 4-13 12 1 6 5 6-9 4-7 12 3 7 12 2 4 3 1 8-1 4-17 0-3-4 4-8-4-1-4 3-3 6-14 12-6 12-13 13-5 15 2 8-23 12-4 4-3 8-16 12-2 4 2 8-2 8 2 8-2 4-13 3-4-1-7-10-21 0-1 4 9 4 8 8-4 8-8 5-8-2-8-9-4 2-44 47-20 29-12 12-72 42-48 23-24 5-24 1-17 5 6 4-1 4-18 8-6 7-54 1-1 4 8 16-6 8 9 4 2 4-2 6-15-2-7-4-3-8-34-12-18-16-24-16-8-8 5-5 12-1 32 15 8 1 24-10-4-6-12-3-28-1-48-12-8 3-28-4-12-9-64-15-84-43-40-27-48-28-12-11-10-16-24-48-5-12 1-8 22-38 5-18 2-16 9-24 44-23 20-2 20-4 3-3-3-8-12-3-64 10-12 5-9 12-11 8-36 17-20 3-36 0-28 0-18-4 4-4 0-4-9-16-31-12-10 0-1-4-11-8-2-8 2-8 24-24-4-16-30-68-13-56 0-20 10-44 5-7 8-3 112-2 28-10 16-15 12-5 12 5 21 21 5 8 1 8-9 28-6 9-8 5-12 4-16 2-7 4-1 12 9 8 3 12-13 4 18 40 19 70 11 14 13 8 28-16 32-10 24-2 3-20 17-40 12-40 3-44 15-36 14-20 44-36 24-10 48-16 56-9 21-1 11-4 3-4 5-3 12 0 12 3 5-8-2-12 9-6 12-1 20 3 5 4-17 3-8 5 22 8-4 4 2 1 12 0 21-5-6-4 4-12 17-5 1-3-6-8 5-4 28-3 12 2 32 19 4 6 0 7-5 5 4 8-3 2-8 4-20-1-12 3 16 8 8 1 28-13 28-18 12-4 1-6-7-8 6-1 25 21-7 4 14 16 20 36 20 9 1-1-4-16 4-12 19-24 8-5 8 0 20 10 13 11 27 36 25 40 7 5 8-4 6 3 2 4 4 1-2-5 7-20-7-4-1-4 11-5 8 1-4-16 1-16 9-8 4-8 1-4-3-8 5-8 1-8 7-4 0-4-9-3-16 5-6-2 1-4-11-2-20 7-12-2-8-5-5-6-29-12-4-4 2-8-5-8-1-8-22-8 6-4 20-4 7-4-3-4-8-4-1-4 5-4 6-2 24 6 20 20 8 2 4-2 3-4 0-4 6-8-1-4 8-4 40 11 17-3 6-4-15-14-32-2-20-9-5-3 3-4-6-1-8-1-12 15-8-1-7-8-5-17-10-7-34-11-6-5 0-4 2-4 8-4 14 0 4 4-1 12 7 3 4-1 8-8 12-6 28-7 40-1 20 2 20 5 9-3-3-8 2-3 20-8 4-5-12-9-32-5-20-12-16 3-7-1 7-4 16-1 7-3-6-12 4-8-7-8-1-4-5-4-28-4-16-8 4-5 21-3-1-4-8-3-6-5-1-4 5-4-2-4-8-3-32 1-48 19-12 1-13-2-1-4 2-4-4-4-20-6-2-6 4-8 18-6 4 2-3 4 1 4 16 8 10 2 20 0 14-6 18 0 25-4 4-8 20-12-1-4-16-6-25-2 4-4 13-1 8-3-8-8 1-20-7-8 16-4 26-12-3-4 7-4 16-4 44-1 10-3 18-28 8-8zM1320 24l-7 4 6 16-5 12 0 24-6 16 5 16 14 8 5 0 4-2 4-6 7-56 3-8-3-4-2-12-5-4zM1376 316l-20 4-12 5-6 11 1 8 13 12 18 8 2 21 8 19-1 8 17 12 8 3 4-2 2-5 2-24 0-4-11-8 0-4 19-4-6-8 5-8 10-8 0-4-5-3-16-2-18-7-1-4 7-4 2-4-1-4-9-5zM1420 27l-2 1 10 2 12-2zM1400 262l-2 6 2 3 9-3-1-5-4-2zM1012 586l-2 2 2 4 11 16 33 24 9 4-2-16-7-5-8 0-5-3 1-4 12 0-12-13-4 3-17-10zM1120 408l-4 4 3 4 13 6 12 0 7-2 2-4-25-8zM1160 448l-1 4 5 2 8-2 1-4-5-3zM1168 435l-2 5 2 2 14-6-6-3zM1140 348l20 2 8-2-4-2zM1196 340l-9 4 15 16 2 4-2 12 5 4 13 2 4-1 2-5-5-8 0-4-9-8-1-4 1-12-8-3zM1216 176l-6 4 5 12 21 4 30 0-6-4 3-4-2-4-8-4-21-6zM1320 522l-3 6 7 12 0-15zM1356 512l-2 4 6 4 4 0 5-4-1-5zM1428 587l-14 5-5 4 15 4 11 0 3-4-6-8zM1156 606l6 78-4 12-6 5-3 19 38 40 3 8 0 8 2 1 5-5 0-4-7-8 1-8-2-8 6-12-1-4-4-4-5-16-13-5-6-11 2-8-3-16 1-16 2-5 5-3-6-8 2-8-2-8zM1200 799l-3 5 3 2 4 1 5-3-1-5zM1244 275l-1 1 1 4 6 4-2 4-24 0 3 4-5 8 10 5 16 1 46-6-18-22-16-5zM1184 792l-8 21 0 5 5-2 8-16zM1196 824l4 4 4 0 3-4-3-3zM1212 759l-7 9 1 4 6 0 8-8-4-4zM1240 571l-1 5 5 11 5-7 0-4-2-4zM1252 325l-2 3 2 12 8 4 14-4 9-8-7-5zM1244 589l0 3 4 4 3-4-3-4zM1252 485l-8 7 9 0zM1260 364l-4 4 3 4 5 4 4 0 5-8-5-4zM1268 536l-1 4 5 1 2-1-1-4zM1272 552l-4 4 3 4 5 5 4 0 0-5-3-8zM172 28l12 0 6 4-1 4-5 4-12 3-13-3 5-9zM1077 32l15-2 20 4 20-5 8 3 0 4-5 4 1 8-3 8-6 4-11 3-28 1-16-3-11-9-1-8 2-4zM230 48l6-3 12 0 4 1 4 6-1 4-7 3-16 1-7-4zM1017 116l7-3 8 2 16 9 0 4-28 9-12-9 1-4zM784 132l8 0 3 4-2 4-13 2-16-6zM907 228l9-2 32 5 12 5 6 4 5 8 5 2 20 2-33 8 25 10 24-1 24 4 10-5 3-4-5-8-6-4 0-4 20 4 8 4 26 24 12 4-12 5-20-3-48 3-8-4-4-5-12-2-19 6-4 4 4 4-5 4-8 0-16-3-8 2-5 5-4 8 2 4 10 4 2 4-1 12 4 6 8 2 47 0 5 3 2 5-6 5-32 4-12-1-5-4-7-11-12-4-2-13-6-4-41-4-4-8 2-8-9-3-20 9-16 2-20-2-2 2 0 4 5 8-7 2-16 0-16-5-24-2-16 1-20 5-11-1-1-4 4-8 8-6 7-2 4-4-15-4 32-1 8 1-10 4 30 4 20-2 20-5 20 4 28-7 24-16 21-2 18-8-4-8-23-4-7-20zM627 248l9 1 17 11-9 3-16 0-12-3-6-4 4-4zM1099 260l9-1 12 5-4 4-4 0-12-4zM835 360l10 0 5 4-10 0zM924 360l24 1 6 3 5 8-7 4-32 0 0 4 6 4-3 8 2 4-5 2-16-3-25-15-23-8 12-4 42 0zM754 380l10-3 9 3 1 4-10 1zM769 396l7-2 8 1 7 5 0 4-3 4-8 1-20-2-4-3 0-4zM839 400l17-1 24 5-20 2-4 2-1 4 5 9 26 3-14 2-40-5-6-5 12-8zM750 420l6-2 3 6-7 0zM632 428l9 0 6 4-17 0zM578 440l10-2 11 14 2 12-4 4-9 3-8-2-21-17zM496 460l4-1 4 3 4 10-2 24-6 2-8-2-3-16 2-12zM578 488l10-2 10 2-6 4zM478 504l2-3 4 0 6 7 0 8-6 7-4 0-5-7 0-4zM18 632l6-2 7 6 0 4-3 5-8 2-4-3-1-8zM1454 720l2-1 0 286-23 7-18 12-2 8 20 12 1 4-3 4-11 2-24-2-12 2-4 6-7 24-5 4-4 0-6-8-6-21-4-2-16 4-21-9 1-4 28-10 16-1 4-3 4-9 6-5 0-4-4-8 1-12 9-20-6-8-10-2-2-2 2-4 29-8 3-4 0-4-4-4-28-4-8 0-8 3-4 5 0 12-7 8-2 8-9 8-2 8-8 1-9-9-2-16-17-8-2-4 12-16 8-4-2-4-4-1-12 3-2-2 1-8 11-8 2-4 1-8-5-8 13-12 2-8 9-8 0-9 4-4 12-4 14-7 0-4-5-8 12-12 11-7-1-5 6-12 20-20 19-3 9-5 1-4-5-8 0-4 7-20 8-6zM0 776l0-3 8 0 20 5 8 3 7 7 27 36 14 32 2 16 2 2 8-3 8 1 16 9 8-1 8-4 12 1 8 8 6 3-2 4 5 8 19 8 2 4-1 4 14 8-11 6-44-4-9-10-1-4 8-8 1-8-5-4-18-7-24 7-11-8-1-10-8 9-16 9-8 2-8-3-28-27-16-9zM108 824l12-2 4 2-3 4-5 0zM1244 848l12-2 3 2-2 4-5 1zM143 860l9 0 8 4-12 5-9-5zM255 924l5-2 2 6-5 0zM149 948l15 2 7 6 3 28 31 12-3 4-10 4-2 4 11 8 11 4-8 8-1 12-4 8-15 8-7 8 3 6 22 14-3 4 16 8 0 4 7 8-19 12 0 8 6 8-1 4-5 4 1 7 36 13 28 2 24-8 6 2 2 4 0 8-12 10-12 1-24-5-12 3-6 7 6 12 4 0 16-9 20-4 20 4 36 13 5-4-3-4 14-12 4-8 12-5 10 1 8 8-3 4 3 16-5 8 15 12-15 12 7 2 8 0 4-4 19-6 6-8 7-3 8 0 7 3 9 8 17 8 9 8 8 12 10 8-1 8 6 12 19 8 16 11 12 4-7 9 1 4 14 8 0 4-8 3-8-3-8-6-8-1-7 3 2 4-2 4-17 4-20-6-36-4-24-7-8-1-5 2-1 8-18 12 0 16-12 9-8 1-10-2-11-8-10-20-10-8-1-4 7-8 1-4-10-5-12-1-9 6 0 4 16 12-5 8 18 20-1 4-5 8 2 4-2 4 4 4 20 8 5 12 7 4-6 3-12-2-15 3-7 4-6 8-8 1-19-13-11-12-15-12-1-4-14-8 2-12 8-8 0-4-2-2-23-6 9-12 0-4-14-6-27-6-13-7-28 2-13-3 46-8 6-8-2-12-2-4-8-4-1-4 9-4 41-5 12 4 20-1 12-6 4-4 1-4-4-12-5-4-52-17-22 1-2 4 2 8-10 6-25-2-3-2 4-10-2-12 2-2 8-4 16-1 1-5-11-8 1-16-2-8-17-7-8-9-4-9-9-7-2-12-8-8-3-8-1-16-5-16-15-8 16-4 2-4-4-4 2-4 6-4 1-8 10-12 0-8-9-12 0-12 3-8-5-20 5-8zM296 1291l0 5 4 1 12-1 0-4-4-1-8-2zM404 1251l-5 5-2 8 4 16 7 3 8 1 12-3 7-5 5-7 9-5 0-4-13-7-24-5zM244 1292l4 3 6-3zM264 1336l-4 4 14-4zM1214 952l10-4 6 4 0 4-6 5-8 11-11 4 0 4-21 10-2-2 2-4 12-10zM1228 992l8-1 10 5-14 1-4-1zM1166 1008l6-1 8 5 15-4 3 4 10 1 3 3 0 8-15 12-5 16 1 5 44-6 5 1 1 4-30 20-21 4 3 4-4 12-30 10-5-2-2-8 2-4 9-9 12-7-4-2-12 5-28 5-5-8-11-8-32 1-17-9 9-5 20 1 20-4-2-8 25-16 10-12zM1172 1019l-20 9 4 4 12-1 6-3 0-4zM1124 1051l-3 1 7 2 10-2-2-3zM263 1028l5-3 8 0 9 3 5 4 0 4-14 19-8 1-4-2 1-6-8-8 0-4zM251 1064l1-3 12 2 28-2 20 6 8 5 6 12-3 12 2 4-15 8 4 8-6 11-8 3-12 0-24-10-12-11-12 0-15-5-2-20 5-4 0-4 8-4 12 4-14 4 14 3 4-1 2-2-6-4 4-8zM1097 1088l19-2 5 2-2 4-11 5-10-5zM1098 1100l6 0 6 4-19 12 9 3 20 0 10 9-1 4-4 4-23 8-5 4 22 8 33 4 0 4-10 4 22 12 6 8 10 3 16-1 4 2-4 6-4 2-24 1-20 7-16-2-10 2-2 4 10 20-4 8 22 8 2 4-6 8 0 8-4 2-12 0-12-5-1-1 6-4 2-4-15-6-20-1-24 5-20-3-6 1 3 28 7 5 12 1 16-6 16 2 20-2 15 8-19 12 1 4 9 4 2 4-1 24-18 8 0 4 23 3 26 9-6 16 2 12-10 6-24 2-12 5-12 9-24 5-10 5-10 8-16 8-4 4-2 8-10 8-32-3-14 3-129 0 4-8 0-4 2-4 17-8-11-8-21-6-8-6-8-2-60 3-12-2-7-7 0-4 4-4 11-5 28-3 7-4 10-24 14-12-23-8-16-8-4-4 4-4 12-4 5-4-19-4-5-4 11-4 0-5-32-5-11 2 17 8 0 4-6 8-3 8 1 4-1 8-6 8-7 4 21 8-1 6-4 4-12-6-3-4-1-7-12-3-48 6-20-2-5-2-6-16 7-12-7-4-29-3-16-9-14-4 5-8 0-8 9-4-20-6-4-6-16-8-28-20-13-16 1-6 28 10 8 4 11 16 5 3 28 3 32 14 2 4-3 8 17 8 8-1 4-2 4-8 0-5 4-2 28 2 16 3 24 0 20 7 17-2-1-4-5-4-15-4 8-11 28 0 28-6 22 5-6 3-3 5 11 8 19 8-4 8 5 2 20 3 20-7 28 3 24-2 8 1 12 8 12 2 5-2-5-12 9-4 4-4-5-4-20-3-28 3-8-4 2-4-2-1-12 1-9-4 9-3 36-2 20-9 36-6 11-4 9-6 28-4 11-6 7-8-5-8 5-4 1-8-28-8 8-4 21-3 1-1-8-4 24-8-21-8-8-8 0-4 7-4 7-12-14-1-4-3-3-4 0-4 7-9zM1068 1351l-4 5 12 7 10-3 6-8-8-3zM660 1307l-4 1-2 8 14 12 3 8 5 2 16 2 12-2 19-10 2-4-33-9-12-7zM808 1294l-2 2 15 0zM876 1308l-11 4-3 4-1 8-18 16 4 8-1 16 7 8 7 16 23 16-3 8 1 4 7 5 8 1 4-2-4-2-2-6 0-8 10-4 9-8 19-4 20 4 4-1 2-3-1-4-14-12 5-4 2-4-2-1-12-5-24-2-7-8-2-4 2-4-4-4-28-8 0-4 7-4 5-8zM976 1328l-4 8 16 3 11-3zM1012 1296l0 7 4 1 12-4 4-4-8-4zM956 1400l-4 1-5 7-15 11-8 2-24-1 0 4 8 4 24 2 16 7 8 1 24-3 3-3 2-8 9-4-14-2-12-5-2-1-1-8zM1332 1104l4-4 6 4-6 2zM1355 1112l13-2 10 2-5 4-9 1-7-1zM1245 1120l7-2 8 2-2 4-6 1zM1027 1124l5-1 12 5 9 12 0 4-8 4-29 5-3 3 2 4-7 7-16 0-11-7-4-16 3-4 32-7zM1315 1124l17-1 16 12 1 5-5 5-8 3-24 5-10-1-2-2-13 6 1 8 16-1 8 5-4 7-12 2-2 3 5 12-3 5-12 7-20 2-20-3-11-7-2-20 14-12 0-4-9-8-1-12 9-4 36 4 24 8 7-12 1-8zM1186 1144l10-2 8 2-3 8-9 3-12 0-9-3 0-4zM956 1168l12-2 10 2-2 4-11 4 7 4-1 4-15 3-8-1-3-2 2-4 15-4-6-4zM590 1184l6-1 2 5-7 0zM563 1188l15 0-2 4-4 2-7-2zM790 1216l2-2 24 4 18 6 3 4-9 4-16-1-8-3-8-10zM1253 1220l23-2 7 2 2 4-5 4-12 1-14-5zM1213 1224l11 0 3 4-2 4-5 2-9-2-3-4zM1206 1248l14 1 5 3 0 4-3 4 19 4-5 4-4 0-35-12-2-4zM1286 1256l6-3 16-1 8 3 9 5-5 4-8 2-20 1-9-3zM462 1340l6-1 12 5 20 4 48 0 20-6 53 22 1 4-2 1-20 2-9-3-19-12-12-1-8 3-24 18 3 4 10 4 4 8 13 8 2 7 12 7 7 10 1 17-12 2-20-7 1 8 7 8 20 0 5 4-54 0-22-16-3-4 1-4-5-8 3-4 20-4 2-4-43-25-5 1 4 12 9 4 1 4-9 2-8-2-3-4 1-4-3-4-25-12-3-4 5-8-4-8 6-4 4-8zM741 1368l3-2 7 2 3 4-5 0zM188 1372l4-3 9 3 6 8 11 8-14 3-16-3-5-4 9-8zM889 1372l7-2 11 2 1 4-8 9-8 2-9-7 1-4zM1432 1372l13 0 6 4-11 2-13-2zM1194 1380l10 0 1 4-3 4 3 4-9 2-12-2-1-4 3-4zM1356 1384l16 0 7 4-15 4-13 0-3-4zM659 1412l29 1 7 7-1 8-10 3-11-3-2-8zM359 1416l5-3 12 2 12 5 3 4-3 4-12 6-16 1-7-3 5-8zM1142 1432l38-3 7 3-4 4 7 8-3 4-15 8-41 0-1-8 3-12zM1253 1444l7-2 3 2-11 5-2-1zM363 1448l9-1 4 2 4 7-36 0 8-6z"/><path fill="#5a5a5a" d="M1255 0l201 0 0 27-28-2-13 3 13 5 12-2 3 9 9 4-9 4-15 1-2 3 3 24-4 28 1 8-30 36-4 16 4 14 14 6-9 16 3 4 24 3 14 5-22 9-4 4-14 7-3 20 3 4-6 8-1 4 1 4 8 1 7-5 0-4-5-4 1-4 17-4 32 4 0 16-13 8 1 12-8 8 20 15 0 246-8 0-8 3 3 4 5 2 8 0 0 118-12-4-9 0-7 3-12 0-20-5-10-6 0-8-2-8 5-16-3-8 0-12-4-8 14-20-14-36-18-33-16 6-8 10-4 1-4-1-6-7-2-13-4-2-3 3-1 4 3 8 12 16-15 22-4-2-1-4-3-2-7 2 3 4-8 6-14-2 3-4-5-16-4-6-4 0-5 6 5 7 7 5 1 8-2 16 10 19 4 6 18-1 4 8 6 3 4 5-4 2-8-2-6-8-6-2-4 1-8 13-2 4 6 12-4 32 3 8-11 16-12 6-4 6-1 20 7 8 0 4-18 16 7 8-2 4-12 8-1 4 5 16-1 12-1 4-13 12 2 12-5 4-7 12 2 8-24 24-5 12-14 12-5 16 1 8-22 12-5 4-2 8-16 12-2 4 2 8-2 8 2 8-2 3-12 3-10-10-22-1-3 5 7 2 11 10-4 8-3 3-8 1-7-4-5-7-4 2-44 47-21 30-11 11-72 42-44 21-28 7-24 1-16 4-4 2 7 4 0 4-20 8-7 5-52 3 2 12 5 4 0 4-9 8 13 4 1 4-4 5-8-1-8-4-1-8-37-12-18-16-24-16-7-8 7-6 8 1 40 16 24-10-1-5-3-3-12-3-28-1-48-12-12 2-20-2-12-9-40-8-32-10-80-41-40-27-48-28-10-10-13-20-24-48-3-8 1-8 21-36 6-20 3-20 7-19 44-23 40-6 5-4-5-9-12-3-64 10-12 5-11 13-9 7-36 17-20 3-32 0-32 0-12-3 1-4-10-20-17-8-22-7-14-9-3-8 3-8 22-20 1-4-4-16-29-68-14-56 0-20 8-40 4-8 10-5 112-2 28-9 20-19 8-2 12 5 20 20 5 8 1 8-10 28-5 8-7 5-28 6-8 4-1 13 8 8 1 8-10 8 20 44 18 68 16 18 8 3 28-16 32-9 26-4 2-20 20-48 10-36 2-40 18-40 12-16 42-34 24-11 52-16 76-11 8-2 4-6 8-3 24 3 2-8-2-12 8-5 12-1 15 2 6 4-13 3-10 5 22 8-4 4 4 2 12 0 20-4 2-2-5-4 1-8 6-7 12-1 2-4-6-8 4-3 28-3 12 2 32 19 3 5 1 4-6 8 3 4-1 5-12 3-20 0-10 4 22 10 8-1 27-13 25-17 12-4 4-7 4 1 16 11-8 4 15 16 19 36 22 9 3-1-4-20 11-20 14-14 8-3 8 2 20 12 11 11 24 32 25 41 8 5 8-4 5 2-2 4 9 2 2-2-3-4 2-8 5-12-4-4 0-4 6-3 8 1 1-2-5-16 1-16 10-8 4-8 1-4-3-8 6-8 1-8 6-4 1-4-11-5-16 5-1-4-15-3-8 1-12 6-12-2-12-10-29-12-3-4 1-8-5-8-1-8-20-8 6-4 19-4 6-4-2-4-8-4-1-4 9-5 23 5 19 20 10 3 4-1 4-10 6-8 0-4 6-3 40 10 12-1 12-5 24 2 4-3 0-4-5-8 1-4-12-12 1-12-5-4-7 0-17 8 18 20-3 8-3 3-12-10-28-1-27-12 7-3 24 3 11-4-3-3-32 1-24-2 1 4-9 11-8 0-6-7-3-16-3-4-5-4-14-4 10-4 6-8 11-7 32-8 44 0 32 8 14-5-5-8 7-1 3 5-1 4 6 4 20 3 28-4 22 1 4-4-18-23-11-5-9-2-24 6-8-3-8-7-24-2-12-4-12-12 5-4-7-12 4-8-8-12-6-5-32-5-10-6 2-4 24-4 0-4-12-4-5-4-1-4 6-4-4-5-8-3-32 0-46 20-14 2-10-2-2-4 2-4-3-4-19-6-4-6 6-8 10-1 3 5 17 8 24 3 12-1 12-4 16 1 5-3 23-3 3-9 21-12 0-4-23-8 0-4 7-4-10-8 1-20-4-8 13-2 30-14-3-4 5-4 16-3 40-1 12-4 4-4 1-8 21-24zM1316 24l-5 4 7 16-6 20 1 16-6 16 2 12 1 4 6 4 20 9 3-1 5-8 2-40 6-28-4-4-1-12-6-4zM1372 316l-23 4-8 4-4 12 1 8 13 12 18 8 3 24 7 16-1 8 22 16 4 0 4-2 2-6 4-28-3-4-7-4 0-4 20-3-7-9 3-8 10-8-1-4-5-4-16-2-16-6-1-4 8-8 0-4-5-4-10-2zM988 550l-1 2 5 7 4-2-1-5zM1008 583l5 13 9 12 46 33-4-13-1-8-7-6-4 1-8-3 4-4 8 2 0-5-20-19-2 2 3 4-1 2-11-6zM1152 591l-2 1 6 12-2 4 4 16-1 28 4 28-2 12-7 8-4 20 38 40 3 8-1 8 4 2 6-6 0-4-6-8-2-16 6-12-1-4-5-4-5-16-13-5-5-11-1-40 2-5 4-2 8-1-13-8 3-8-2-8-10-12-2-4 2-8zM1120 406l-5 6 2 4 15 7 12 0 10-3 3-4zM1172 432l-7 4-3 8-4 4-2 4 4 3 8 0 7-3 2-4-5-4 11-8zM1188 399l-3 1 15 2 3-2zM1212 436l-3 0 0 4 7 2 4-2zM1240 570l-2 6 4 8 1 8 5 5 4-5-3-4 1-12-2-4zM1248 324l-1 4 4 12 5 6 16-4 13-10-5-4zM1296 534l-4 2 8 4 5-4zM1216 175l-8 5 5 12 19 5 24 2 12 6 4-6 1-3-8-4 2-4-3-4-8-4-24-7zM1356 511l-3 5 7 6 4 0 6-6-2-5zM1404 435l-2 9 6 2 0-6zM1184 790l-8 19-2 11 6-2 8-13 2-1 1-4zM1200 798l-6 6 6 4 4 0 7-4-3-6zM1212 758l-9 10 1 4 8 1 8-7 0-4zM1248 484l-6 8 6 2 8-2-2-8zM1260 362l-3 2-2 4 3 4 6 5 7-1 3-8-6-5zM1420 588l-12 4-4 4 28 6 4-1 3-5-7-9zM1196 823l-2 1 6 5 5-1 3-4-4-4zM1268 535l-2 1-1 4 7 3 3-3 1-4zM165 32l11-3 12 3-1 4-4 4-11 2-11-2zM1081 32l11-1 20 4 20-5 5 2 1 4-5 4 0 8-9 11-8 3-28 1-20-6-7-9 0-4 7-7zM233 48l15-2 6 6-2 4-4 2-16 1-5-3zM1019 116l5-1 8 1 14 8 0 4-6 3-16 1-12-2-2-6zM770 136l18-3 5 3-4 4-5 1zM912 228l37 4 14 8 5 8 7 4-4 4-26 8 27 1 16 6 24-1 24 5 8-4 7-7-4-8-6-4 7-1 15 5 25 23 12 5-8 3-16-2-48 3-8-2-5-6-7-3-16 1-15 6-3 4 4 4-6 3-20-3-12 4-7 12 1 4 11 4 2 8-3 6-4-6-8-5-39-3-4-8 1-8-10-5-24 10-12 1-22-2-3 4 5 8 0 4-4 1-16 0-16-5-24-2-20 2-16 4-8-1-1-7 2-4 11-7 28-3 32 3 32-6 12 4 8 0 28-7 28-18 19-2 25-8-4 0-8-8-21-4-7-20zM622 252l14 0 9 4 2 4-23 1-12-5zM1225 284l11-4 8 4-8 2zM731 292l24 0-11 2zM1040 304l8-3 8 0 4 3-2 12-6 3-11-3-4-4zM957 344l11-3 32 0 8 1 4 6-8 5-32 4-12-5zM917 364l11-4 16 1 9 3 5 8-6 3-28-1-7 2 0 4 7 4-2 12-6 1-16-4-20-13-20-8 12-4 40 1zM776 396l12 3 1 5-9 4-21-4 0-4zM843 400l14 0 4 4-8 4 3 13-16 1-12-6 13-8zM582 440l6 0 10 16-2 8-4 5-11-1-20-16zM498 460l2-1 5 5 3 12-3 20-5 2-7-2-3-16 1-12zM478 504l6-3 5 7 0 8-5 7-4-1-4-6-1-4zM19 632l5-2 7 6 0 4-3 5-4 2-7-3-2-8zM1425 724l31-4 0 284-24 7-19 13-2 8 20 12 0 4-3 3-12 2-16-3-16 3-4 3-2 12-6 16-4 3-4 0-7-11-5-20-4-2-16 3-16-5 3-4 9-1 12-8 16 0 4-2 8-13 7-4-1-4-6-7-1-5 1-8 9-20-3-8-13-4 1-4 28-8 3-4-1-7-4-3-12 1-16-5-16 4-5 6-1 12-7 8-2 8-13 11-4 1-7-4-1-16-4-4-13-4-3-4 12-16 10-4 0-4-22-1 0-7 12-8 2-4 1-8-6-8 13-12 2-8 9-8-1-8 4-5 12-2 15-9-4-12 12-12 9-5 2-3-2-4 6-12 22-20 16-3 10-5 1-4-5-8 0-4 6-18zM0 776l0-2 12 1 24 7 30 38 9 16 10 28-3 12-6 6-16 9-12 1-8-6-22-22-18-10zM143 864l5-2 6 2-6 2zM87 876l5-3 8 0 13 7-2 4-15 4-9-4zM1232 876l9 0 3 4 0 6-4 2-12-2-2-2zM133 880l7-1 8 2 6 7-1 4 7 8 19 8 3 4 0 4 14 8-8 3-44-2-9-13 10-8 4-12-13-3-10-5zM143 952l5-3 8 0 8 3 6 4 2 12-2 8 2 8 27 12-11 12 12 10 7 2-7 8 2 8-4 12-16 8-5 4-1 4 4 8 15 8 4 4-3 4 15 8 8 12-19 12-1 4 7 12-5 8 0 4 2 4 31 12 26 4 8 0 24-9 6 5 0 8-10 9-12 1-24-5-12 3-8 8 4 12 8 1 20-10 20-3 16 4 36 13 6-5-2-4 14-12 4-8 8-4 10 0 6 4 3 4-3 4 2 16-4 8 11 8 3 4-15 12 25 8-1-8 9-2 9-6 5-8 10-3 8 2 11 9 16 8 10 8 7 12 10 8 0 8 6 12 17 8 15 11 11 5-7 11-19 5-2 12-11 3-24-6-36-3-28-10-8 1-5 3 2 8-18 12 0 16-7 6-12 3-8-2-9-7-21-28-2-4 8-12-6-4-10-3-12 2-7 5 0 4 15 12-3 8 11 16 5 4 0 4-5 6-12 4 0 6 8 1 18 7 9 4 2 4-9 11-17 5-5 4-1 4-5 3-8-1-14-10-10-13-15-11-1-4-14-8 2-12 8-8 0-8 15-8-3-2-16 1-7 1-1 4-9 0 4-4 2-12-13-6-25-6-19-12-15 0 19-1 7-7 1-4-1-12-9-8-1-4 11-5 12-1 16-1 8 3 12 1 20-3 13-6 4-4 1-4-4-12-5-4-33-12-8-5-20-2-16 2-2 5 2 8-8 4-22-4 1-12-3-8 8-5 16-1 3-2 0-4-11-8 2-16-2-8-19-8-13-19-8-7-2-10-7-8-3-8-3-32-15-8 14-4 1-4-3-4 6-8 2-8 7-8 3-8-11-20 1-8 3-8-5-20 1-4zM296 1288l-2 4 2 5 8 1 10-2 0-4-14-7zM408 1246l-12 14 3 20 5 2 12 2 12-2 8-6 4-6 11-6-1-4-10-6zM240 1292l4 4 8 2 5-6-9-2zM248 1303l-2 1 2 1 8 3 5-4-5-3zM1215 952l9-3 4 3 1 4-6 4-7 11-15 5 0 4-15 8 0-4 11-8 4-8zM1231 996l1-3 4 0 5 3zM1170 1008l3 0 7 6 8-2 20 3 3 5-4 8-12 8-6 20 7 2 40-6 4 4-32 21-20 0-4-1-4-5-4 0-16 7-24 4-4-1-8-9-8-6-28 3-20-9 8-4 20 0 20-3 12 2 12-3-1-4-3 0-16 3-5-3 1-4 9-8 16-8 9-12zM1176 1015l-26 13 6 5 16-2 3-3zM265 1028l11-2 12 6 1 4-3 4-13 12-4 0 2-4-12-8 0-4zM276 1064l16-2 16 4 11 6 5 8 0 8-3 8 2 4-16 8 6 8-1 4-8 8-16 0-26-12-4-8-6-2-12 1-9-3-1-8-5-8 1-4 6-2 12 3 10-1 4-4-4-8 2-5zM1172 1080l8-2 11 6-3 12-12 5-16 2-6-7 2-4 12-11zM1099 1088l13-1 7 1-2 4-9 3-8-3zM1081 1104l15-3 8 1 3 2-18 12 7 3 22 1 7 8-6 8-19 8-5 4 1 2 18 6 35 4 0 4-11 4 24 12 5 8 5 2 8 3 17-1-5 5-20 1-20 9-24-2-7 3-1 4 5 8 3 12-3 8 22 8 2 4-7 8 0 8-2 1-15-1-7-4 8-8-18-7-20-1-24 6-20-4-8 2 4 20-1 8 5 5 12 2 20-6 16 3 16-3 8 1 8 6-18 12 0 4 9 4 3 4-2 24-24 12-24 2-4 2-2 4 14 8 8-1 12-12 4-1 20 1 20 5 8 4-5 16 1 12-12 5-24 3-20 13-24 5-12 6-16 12-10 4-4 4-3 8-11 8-28-6-16 6-126 0 5-8 0-4 4-4 13-3 19-1-2-4-17-2-9-6-23-7-5-5-7-2-16-1-48 3-12-2-6-6 1-4 3-4 14-6 28-2 5-4 9-24 16-12-26-9-18-11 6-5 12-3 3-4-20-8 7-4 1-4-3-4-32-4-16 4 19 8 1 4-12 16 3 4 0 8-7 9-4 1-16-1-24 4-36 2-7-3-6-16 8-12-3-4-32-2-27-14-2-4 3-12 11-4-25-7-4-6-15-7-5-6-23-14-13-16 4-3 30 11 10 16 6 4 30 3 29 13 3 4-4 4 0 4 20 9 8 0 4-3 8-15 26 1 14 4 24-1 24 8 28-2 1-1-30-16 5-5 28-1 28-5 14 3-4 8 12 8 19 8-4 8 7 3 20 4 20-8 28 2 24-1 8 2 12 7 12 2 7-3-5-8 0-4 10-4 3-4-4-4-19-4-24 4-8-1-5-3 4-4-2-4 7-3 20-1 1-4 11-5 36-6 20-8 32-8 17-13-4-4-1-4 4-4 1-8-13-6-10-2 26-7 3-1-10-4 19-3 5-5-9-5-13-3-8-8 0-4 6-4 8-12-17-2-7-6 0-4 7-8zM1044 1316l-8 4 18 0 4-4zM656 1307l-3 1-2 8 15 12 1 8 9 3 16 2 12-2 27-15-39-10-12-7zM808 1292l-4 1-2 3 24 0-3-4zM872 1307l-9 5-13 20-8 8 4 8-2 16 7 8 7 16 21 16-2 8 3 6 8 7 16 6 24 0 24 7 32-2 8-12 7-4-3-3-16-1-12-4-2-8-10-6-4 1-7 9-17 11-20-1-8-2-4-8 3-4 17-12 16-3 24 5 4-6-2-4-12-12 5-8-3-2-12-5-21-1-9-8-1-4 2-4-4-4-26-8 0-4 10-12-7-5zM964 1315l-4 5 9 8 0 8 19 3 14-3-21-8-11-12zM1020 1292l-10 4-2 8 12 1 11-5 4-4-7-5zM1360 1112l15 0-7 3zM1028 1124l8 0 7 4 6 12-1 4-8 4-24 4-5 4 3 4-6 6-16 0-9-6-5-16 2-2 8-4 24-4zM1319 1124l13 2 14 10 0 4-10 7-24 4-3-3 0-4 4-8 1-8zM1238 1140l10-2 36 3 9 3 2 4-11 8 0 8 8 3 12-2 6 3-2 5-15 3-1 4 6 8-2 8-12 7-16 3-20-3-12-5-3-6 0-16 13-12 1-4-10-8-1-8zM1189 1144l11 0 2 4-4 4-6 2-19-2 2-4zM960 1168l13 0-4 4-5 1-3-1zM949 1180l11-2 8 2-1 4-11 2-9-2zM804 1220l16 2 14 6-10 3-12-1-5-2-3-4zM1256 1220l20-1 5 1 2 4-4 4-11 0-12-4zM1211 1228l5-3 9 3-5 5-5-1zM1198 1252l14-3 10 3-2 5-8 2-12-2zM1288 1256l20-3 15 7-11 6-20 0-8-2zM905 1260l18 0-11 2zM1223 1264l14 0-5 2zM544 1324l4-4 8 4 0 4-4 1-4-1zM459 1344l9-4 28 9 56 0 20-4 47 19 0 4-3 1-16 1-14-6-10-8-16-3-11 3-6 8-14 8-3 4 2 4 11 4 5 9 12 7 3 8 14 8 5 8 1 12-1 4-6 2-11-2-9-7-9 3 2 8 7 8 23 4-45 0-22-16-4-4 2-4-6-8 4-4 20-4 2-4-23-12-19-13-8-1-8 5-8 1-10-4-9-8 6-8-3-8 4-2 4-10zM468 1368l-6 4 13 0 2-4zM727 1352l9 0 8 4-4 6-4 1-10-7zM890 1372l10-1 7 5-7 9-8 1-8-6 0-4zM1430 1376l10-3 7 3-7 1zM191 1380l9-2 15 10-11 2-11-2-6-4zM1190 1384l6-2 5 2-4 4 1 4-10-2-1-2zM1360 1384l9 0 8 4-17 3-8-3zM471 1404l5-2 4 0 5 6-9 0zM364 1416l12 0 9 4 4 4-3 4-14 6-16-2 1-4 4-4 0-4zM669 1416l11-3 8 2 5 5-1 8-8 2-8-2-3-4 0-4zM1146 1432l34-1 1 1-3 4 10 8-2 4-16 8-37 0-2-8 4-12zM351 1452l21-3 4 2 3 5-33 0z"/><path fill="#5c5c5c" d="M1256 0l200 0 0 26-36-2-8 4 12 6 16 2-1 4 4 4-19-1-1 9 4 28-6 36-30 32 2 8-5 8 6 16 14 4-8 16 2 4 10 3 15 1 10 4-9 4-16 0 4 4-1 4-16 8-2 24-5 12 2 4 6 3 8-3 4-4 1-4-4-4 2-4 13-3 28 5 4 8-1 6-13 8 1 12-10 8 23 16 0 244-8 0-10 4 6 6 12 1 0 115-12-3-12 1-4 2-12 0-20-4-9-6 0-8-3-8 6-16-3-8 0-12-4-8 13-19 4-1-7-8-10-28-14-24-1-8-3-4 6-8 0-4-7-3-11 3-1 5 7 7-2 4-9 4-8 10-4 1-4-1-4-6-4-14-4-2-5 4-1 4 4 8 11 16-13 16 0 4 0-4-12-4-6 4 0 8-6 1-4-1-9-24-3-3-4-1-5 8 9 12 2 8-1 16 11 21 7 7-9 20 6 12-5 32 3 8-6 10-16 11-5 7 0 20 6 8-1 4-18 16 8 8-2 4-12 8-2 4 6 16 0 12-2 4-13 12 0 12-10 16 1 8-13 16-9 8-6 12-14 12-5 16 1 8-16 8-11 8-2 8-16 12-2 4 2 8-2 8 1 10-4 3-8 0-9-9-23-2-4 6 8 2 7 6 3 4-4 8-2 2-8 2-7-4-5-8-4 2-44 47-22 31-10 10-76 44-44 21-24 5-24 1-20 5-2 2 6 4 1 4-29 13-50 3 3 12 4 4 1 4-10 7-36-8-23-19-15-8-16-16 6-4 8 0 32 14 10 2 24-12-1-4-5-4-12-3-28-1-48-12-12 2-19-2-6-4 0-4-47-9-28-8-80-40-92-59-9-8-8-12-29-56-3-12 5-12 17-28 6-20 2-16 6-20 5-5 40-20 42-7 4-4-6-9-12-3-64 9-12 5-20 20-36 17-20 3-32 0-38-2-14-25-44-17-9-6-3-8 3-8 21-19 3-5-5-16-29-68-14-56 0-16 5-32 5-16 7-7 12-2 104-1 30-10 18-18 8-2 10 4 20 20 6 8 1 8-10 28-5 8-6 4-28 6-8 4-2 6 0 8 7 8 1 4-1 4-8 8 18 40 20 72 14 16 11 6 28-17 32-8 20-2 8-3 1-20 19-45 11-39 1-36 11-28 16-28 45-37 16-8 56-19 85-12 8-8 7-3 8 0 16 5 4-10-3-12 11-6 19 2 6 4-21 8 22 8-4 4 2 2 16 1 20-4 3-3-6-4 0-4 4-8 7-3 10-1 1-4-6-8 9-4 22-2 19 6 9 8 15 8 4 8-6 8 3 6-4 4-34 2-7 4 21 10 8 1 33-15 27-18 12-1 0-6 4-1 14 10-7 4 15 16 19 36 27 13 1-1-5-20 1-8 10-16 13-13 8-3 8 2 24 16 30 38 26 42 8 5 24 5 7 8 5 28 1 28 3 28-2 12-6 7-2 5-3 16 38 40 3 8-2 12 2 6 1-6 10-8 0-4-6-8-3-16 7-12-1-4-5-4-5-16-10-3-5-5-3-8 1-8-3-16 2-19 4-3 9-2-13-8 4-8-1-4-14-20 2-8-9-8-6-1-4-7 3-12 4-4-1-12 10-1 1-3-4-16 1-16 10-8 4-8 1-4-3-8 6-8 2-8 6-4 1-4-9-8 8-4-1-4-4-4 10-8-9-5-8 1-9 8-4 12 1 5-24-1-12 6-12 1-8-4-7-7-28-12-4-4 1-8-5-8-1-8-18-8 6-4 16-4 8-4-3-4-7-4-1-4 7-4 22 4 19 20 15 4 5-12 7-8 1-4 3-2 8 1 32 9 12-1 16-5 20 3 7-5 0-4-6-8 1-4-13-12 1-12-6-5-11 1-12 4-4 4 17 16 2 4-4 8-12-8-25 0-28-12 9-2 16 3 8-1 8-4-1-4-3-1-28 2-28-3-2 2 1 4-3 5-8 5-4-1-7-9 0-12-2-4-7-6-10-2 6-2 8-10 12-7 28-6 28-2 28 4 20 6 16-4 12 4 20 2 24-5 24 1 4-1 3-4-24-28-19-4-24 7-8-3-8-7-24-2-10-3-9-12 1-4-7-12 4-8-7-12-5-4-15-5-20-2-9-5 4-4 21-2 2-2 1-4-13-4-5-4-1-4 5-4-2-4-15-8 4-1 5-11 22-12 0-4-21-8 0-4 5-4-11-8 2-12-2-12 42-20-2-4 3-4 53-3 14-5 7-16 18-20zM1316 23l-6 5 7 16-7 24 3 8-8 20 1 12 1 4 21 10 12 9 4-3 4-8 0-40 6-32-5-4-1-12-6-4zM1368 316l-28 5-4 15 1 8 13 12 18 8 3 24 7 16 0 8 24 20-2 4 0 10 4 2 6 0 2-4-7-12 6-12 1-20 3-8-3-6-5-2 5-3 12-2 2-3-7-8 2-8 9-8 0-4-6-5-16-2-13-5-2-4 8-8 0-4-5-4-8-3zM1388 288l-2 0 2 3 12 0 12 6 9-1 0-4-17-5zM988 549l-3 3 7 9 4-2 0-7zM1008 582l-2 2 2 4 12 20 48 34-4-22-8-8-4 2-7-2 3-3 8 3 0-8-20-19-4 4zM1088 642l0 7 4 8 4-1zM1100 968l-4 4 4 2 6-6-2-3zM1116 677l0 7 16 17-3-13zM1168 830l-3 10 3 2 4-10zM1184 787l-12 35 8-3 8-12 4-2 12 5 8-6 0-4-4-3-16 3zM1120 404l-7 8 2 4 8 4 17 5 20-5 0-4zM1184 400l4 3 16 1 3-4-11-2zM1208 436l0 4 4 2 9-2-4-4zM1248 322l-4 2 1 4 7 16-1 8 5 3 4-3-1-4 17-7 11-9-1-4-30-6zM1292 535l8 6 4-1 3-4-7-3zM1228 172l-17 4-5 4 5 12 21 7 20 1 14 8 6 0 4-12-5-4 2-4-5-4-21-8zM1424 567l-13 5 5 4 12-1 2-3zM1168 852l0 5 8-1-2-4zM1184 855l-2 1 6 2 7-2-7-2zM1200 819l-7 5 7 5 7-1 1-5-4-4zM1212 757l-11 11 0 4 11 1 8-5 1-4-1-4zM1248 483l-8 9 7 4 9-2 0-10zM1256 363l-2 5 6 8 8 2 4-2 3-8-3-3-8-3zM1228 206l-2 2 4 4 11-4-5-3zM1416 588l-13 4-3 4 32 7 4-1 5-6-5-8-4-3-4-1zM1240 569l-3 3 1 4 3 8 1 8 6 6 4-2 1-4-3-4 2-8-3-8zM1268 534l-4 2 0 4 8 6 5-6 0-4zM169 32l7-2 8 1 2 1-1 4-9 5-13-1zM1088 32l24 3 20-4 3 5-5 4 1 8-7 8-8 4-28 2-12-2-9-4-5-8 3-8 11-6zM236 48l12 0 4 4-3 4-5 1-8 1-6-2zM1023 116l9 2 12 6 0 4-20 3-12-3 0-4zM776 136l8-1 6 1-6 3zM996 152l8-3 28 14 41 1-34 16-15 1-6-5 1-4-3-5-19-7-3-4zM1104 156l11 0-4 4-13 0zM909 232l11-3 26 3 9 4 14 16-3 4-6 2-12 4-8-1-8-6-20-5-5-14zM616 256l16-2 6 2 0 4-13 0zM1051 256l1-2 8 2 2 4 12 8 12 12-2 4-36 3-20-1-9-2-3-6-20-6 16-1 16 5 12-1 15-11zM949 268l11-3 12 1 22 10-21 8-2 4 5 4-4 2-20-3-12 3-5 6-4 12 11 4 2 4-4 1-16-4-28-1-5-4-1-4 2-8-15-8 2-4 21-13 32-6zM854 296l10-2 8 2-4 4-9 4-24 0zM757 300l35 2 28-4 4 0 1 2-10 4 7 12-2 4-12 1-20-6-20-1-40 4-6-2 0-8 6-4 8-3zM1043 304l9-2 5 2 1 4-4 8-10 0-4-4zM961 344l11-2 28 0 7 2 3 4-6 4-32 4-11-4zM920 364l8-3 16 0 8 3 5 8-9 3-24-2-8 1-1 6 7 4-2 11-4 1-12-2-24-15-17-7 13-3 40 1zM762 400l18-3 7 3 1 4-8 3-8-1-9-2zM835 412l13-4 4 4 2 8-6 2-12-2-6-4zM577 444l7-3 6 3 5 12-6 12-5 0-12-7-8-9zM493 464l7-4 4 4 3 8-3 23-4 2-6-1-3-12-1-12zM478 504l6-2 5 6 0 8-5 6-4 0-4-6-1-4zM19 632l5-1 6 5-1 8-5 3-4-1-5-6 0-4zM1427 724l29-3 0 242-1 1 1 39-24 7-21 14-1 8 14 8 5 4-1 5-8 3-20-3-16 1-4 4-2 14-6 15-4 4-4-1-6-10-6-23-4-2-8 2-4-1-2-4 6-7 16-1 11-8 2-4 11-4 0-4-11-12 0-4 1-8 8-16 1-8-2-4-9-4-3-4 26-8 3-4-1-12-1-1-16 2-20-4-12 4-6 7-1 12-7 8-3 8-7 6-8 3-4-1-3-4-1-17-14-3-4-4 10-14 12-6 1-4-21-3-3-5 14-8 2-8-7-12 13-12 2-8 9-8-1-8 3-4 12-2 16-10-3-12 11-12 9-4 2-4-2-4 6-12 21-18 20-5 7-5 1-4-5-12 5-17zM0 776l16 1 20 6 29 37 19 40-1 12-7 9-20 10-8 0-29-27-19-11zM90 876l10-1 9 5-3 4-10 3-7-3-2-4zM1232 880l4-3 4 1 3 6-3 3-8 0-4-3zM132 884l4-3 11 3-7 4zM150 904l2-3 4 0 19 7 4 8 10 8-29 2-15-2-9-12zM145 952l11-2 12 5 3 9-3 12 3 8 23 12 0 4-8 8 12 12 1 20-3 8-20 11-2 5 6 10 13 6 3 4-3 4 15 8 8 12-19 12-1 4 8 12-4 8 1 8 5 4 26 8 24 5 16-1 20-7 5 3-1 8-9 8-11 1-24-5-14 4-7 8 0 4 5 10 8 1 12-8 12-5 16-1 15 3 37 14 5-2 2-4-2-4 15-12 3-8 9-4 8 1 7 7-3 4 2 16-3 8 11 8 2 4-14 12 20 8 6 8-8 12 2 20 14 5 16-3 8-5 8-9 8-4 0-4-8-5-27-7-8-4 3-12 11-8 5-8 12-2 40 26 4 8 13 12 0 8 5 12 17 8 24 16-3 9-20 5-3 2 3 8-3 4-9 2-24-6-36-3-24-9-15 0-5 4 3 8-16 12 0 12-2 4-9 6-8 2-8-3-8-6-20-27-2-4 5-8 1-5-12-6-16 0-8 7 0 4 6 4 7 8-1 8 10 16 5 4 0 4-7 5-13 3-5 8 30 7 12 5 1 4-13 12-14 4-6 9-7-1-12-8-13-15-13-9 0-4-16-8 0-8 9-9 3-11 15-8-2-3-28-1 1-8-17-7-24-6-11-7-2-4 5-4 2-8-2-12-8-8 0-4 16-5 40 3 20-3 15-7 3-4 0-4-6-15-12-6-21-7-7-6-24-2-16 2-3 2 0 12-5 2-9-2-5-4-8-12-1-4 5-4 18-1 5-3 0-4-11-8 3-12-2-12-20-8-22-28-1-8-7-8 0-4-3-4-3-20 3-8-1-4-9-4-1-4 8-4 0-4-3-4 6-8 1-8 7-8 4-8-11-20 0-8 4-8-4-8-2-12 3-5zM296 1284l-4 8 0 4 4 3 12 0 9-3-1-4-9-4-3-5zM240 1291l-2 1 2 3 7 5-4 4 4 4 13 2 4-2 0-4-6-4 1-8-7-3zM1217 952l7-2 3 2 1 4-16 16-8 2-4-1 11-17zM1158 1012l10-3 4 0 3 3-2 4-25 12 4 4 8 2 17-2 1-12 6-5 24 2 1 7-15 12-6 21 4 2 40-5 6 2-30 20-16 0-7-4 1-4-6 0-20 10-20 4-8-2-16-16-28 4-17-8 5-2 36-3 16 1 13-4 1-4-22 1-2-5 9-8 16-8 4-4 0-4zM267 1028l5-1 9 1 6 4 1 4-8 8-8 2-11-6 2-8zM283 1064l9-1 20 6 5 3 7 10-1 6-5 8 2 4-18 8 6 3 4 5-1 4-7 7-12 0-11-3-14-8-3-8-8-3-21-1-2-4 2-4-8-8 5-4 16 2 8-1 7-5-6-8 3-4zM288 1103l-2 1 2 4 11-4zM1166 1084l10-4 8 2 4 2 1 8-2 4-11 5-16 1-5-6 2-4zM1103 1088l14 0-1 4-8 2-6-2zM1082 1104l14-3 8 3-16 12 4 3 24 3 6 6-5 4-1 4-24 12 0 4 20 5 33 3-1 4-9 4 24 12 6 8 8 4 1 4-22 10-24-1-8 3-1 4 5 8 3 12-4 8 22 8 2 4-7 8 0 8-12 0-6-4 6-8-20-8-20 0-24 5-24-5-5 4 3 20-2 8 4 5 12 4 24-6 12 2 20-3 8 2 4 4-13 8-4 4-1 4 11 4 4 4 0 12-3 12-14 4-8 6-24 3-5 3-2 4 7 7 8 3 9-2 11-11 4-1 20 0 18 4 8 4-4 16 0 12-6 3-28 4-21 13-35 10-8 4-10 10-9 4-4 4-4 8-9 6-15-2-13-5-18 9-123 0 9-13 32-5 12 1 20-6 20 0 20 6 32 1 9-12 9-8 1-4-3-1-20 0-10-3-3-8-10-8 4-8-14-16 5-8-4-3-12-4-20-2-9-7-1-4 2-4-3-4-25-8-1-4 12-12-11-7-8 0-10 7-13 20-8 8 4 8-3 8 1 8 7 8 7 16 19 16 1 4-2 4 1 4 11 12-7 3-16-2-10-5-26-8-4-5-8-2-16-1-32 4-24-1-6-3-2-4 0-4 4-4 16-6 26-2 4-4 10-24 16-12-6-4-22-6-16-10 4-4 15-4 1-2 0-2-15-8 3-4 0-8-32-5-14 1-10 4 21 8 1 4-10 13-4 1-32-7-16-8-8-1-20 0-4 8-4 1-36-2-22-13-4-4 2-10 17-6-25-4-8-4-4-6-13-6-7-7-21-13-14-16 3-2 4 1 24 10 15 19 33 4 26 12 4 4-5 4-1 4 24 10 12-2 8-15 4-1 20 1 16 4 28 0 24 7 24 0 8-4-16-6-6-6-12-4 6-4 52-5 7 1 0 8 6 4 25 12-3 8 5 3 24 6 20-9 28 2 24-2 8 3 12 7 16 2 5-4-5-8 1-4 8-4 4-4-4-4-25-5-20 4-10-3 6-8 20-2 4-2-1-4 9-5 40-6 48-16 19-13-4-4-1-4 5-4-1-8-15-8 26-8 3-4 10-4-1-4-9-6-12-2-10-8 0-4 13-16 1-4-12 3-8-1-6-6 0-4 6-8zM644 1296l-2 4 10 2 2-2zM800 1292l-1 4 5 1 26-1 1-4-3-1-20-1zM968 1312l-8 3-2 5 8 8 2 4-2 4 22 4 16-4-6-4-14-4zM1020 1291l-12 5-3 8 7 4 8-1 15-7 3-4-6-6zM1012 1410l-3 2 26 4-3-4zM1024 1315l-4 1 8 5 38-1-1-4-9-1zM1030 1124l6 0 6 4 5 12-3 4-8 4-12-1-8 3-7 6 4 4-1 1-8 5-12-1-10-9-2-12 4-3 28-6zM1315 1128l5-2 8 0 15 10 1 4-8 6-16 3-7-1-2-4 4-8zM1244 1140l36 2 10 2 2 4-9 8-1 8 10 8 1-4 15 0-2 4-14 0-2 4 6 12-1 8-11 6-20 3-16-2-12-7-2-4 1-16 12-12 1-4-9-8 0-8zM1180 1148l16-3 4 3-8 5-16-1zM953 1180l12 0-2 4-7 1-6-1zM1259 1220l17 0 6 4-6 4-8 0-10-4zM807 1224l9-1 14 5-18 1-3-1zM729 1244l3-3 8 1 5 2 1 4-2 3-8 0-7-3zM1200 1252l8-2 11 2-1 4-6 2-10-2zM1291 1256l17-2 13 6-9 5-20 1-6-2 0-4zM647 1320l13 4 5 4 0 8 11 4 28 4-16 4-24 3-20-2-4-5 0-4-4-8zM719 1332l13-2 1 6-5 7-4 2-12-2-6-3zM460 1344l8-3 24 8 44 1 16 2-7 4-5 8-16 12 2 4 10 4 8 11 11 5 1 8 15 8 6 12-1 10-9 2-11-8-4-1-8 1-4 3 0 5 8 12 10 4-26 0-22-16-4-4 2-4-1-4-5-4 6-4 19-4 3-4-24-12-22-15-8-1-16 6-8-2-5-4-2-4 7-6 24-1 9-5-34 0 0-12zM566 1348l10-1 12 7 23 6 7 4-6 5-16-1-12-8-1-4-13-4zM727 1356l5-4 10 4-2 4-4 1zM891 1372l10 0 5 4-6 8-8 2-8-6 0-4zM191 1384l9-3 9 3 3 4-12 0zM1356 1388l8-3 11 3-11 2zM917 1392l19-2 16 6-10 12-14 10-24-2-4-4-1-4zM674 1416l12 0 5 8-2 4-9 0-5-4zM364 1420l4-2 8 0 7 2 3 4-3 4-11 4-13 0 1-4 4-4zM1138 1436l10-3 8 0 20 4 11 7-2 4-17 8-33 0-2-8zM354 1452l18-1 5 5-29 0z"/><path fill="#5f5f5f" d="M1257 0l199 0 0 25-40-2-4 1-3 4 15 8-5 4 6 28-1 24-8 28-28 25-1 3 4 8-6 8 5 16 16 4-8 16 2 4 12 5 21 3-21 2-2 2 3 8-16 8-3 24-4 12 1 4 9 4 8-3 5-5 1-4-4-4 2-2 12-4 24 5 6 9-1 4-12 8 0 12-12 8 15 7 12 9 0 244-8-1-12 5 1 4 3 2 8 3 8-1 0 113-16-2-24 2-20-4-9-5 1-8-3-8 6-16-4-8 0-12-3-8 1-4 9-8 2-6 4-1 32 8 4-2 6-7-4-8-10-5-20 7-12 1-20-47-6-8-2-12 4-8 0-4-8-4-12 4 0 7 4 5-16 17-4 1-8-6-4-15-4-2-4 4-3 5 14 24-4 8-7 7-8-4-8 1-6 4 2 8-4 0-3-8-15-24 5-8-11-3-5 3-1 4 9 8-5 8 9 12 2 12-1 12 17 32-8 16 6 12-5 32 3 8-5 8-8 4-12 13-2 23 6 8-1 4-18 16 8 8-2 4-11 7-3 5 6 20-2 12-14 12 0 12-8 16 0 8-13 16-9 8-5 11-14 9-5 20 0 8-28 16-1 8-16 12-1 4 2 8-3 12 2 4-4 3-8 1-7-8-25-3-5 7 9 3 6 5 3 4-3 8-10 3-6-3-6-9-4 1-44 48-20 28-12 12-72 43-48 23-24 5-24 1-24 4 0 4 6 4 1 4-27 11-53 5 5 8-1 4 5 4 1 4-9 5-8 1-28-8-22-18-15-8-16-16 5-3 8-1 32 15 12 2 23-13-1-4-5-4-13-4-28-1-48-12-12 3-14-2-7-4 0-4-47-9-32-9-80-40-44-30-44-26-12-10-11-16-26-52-3-12 5-12 17-28 12-52 6-8 40-20 20-2 24-6 3-4-1-4-6-6-12-3-64 10-12 4-16 18-20 11-24 9-24 2-60-2-7-7-9-18-44-17-8-5-3-8 3-8 20-18 4-6-4-14-31-70-13-56 0-20 5-28 5-16 6-6 12-2 104-1 32-11 16-16 8-3 9 3 20 20 6 8 1 8-10 28-10 11-36 9-3 8 0 8 7 8 0 4-8 12 19 40 19 72 5 8 13 12 8 3 28-17 32-9 28-3 2-22 18-43 12-41 1-36 12-32 15-24 48-39 68-24 88-13 5-8 7-3 8 0 16 7 7-12 0-4-4-8 9-5 16 1 5 4-20 8 23 8-4 4 4 4 16 0 21-4 3-4-6-4 0-4 3-8 7-3 11-1 1-3-5-9 9-4 20-1 16 4 30 21 0 4-6 8 3 4-1 4-10 3-31 1-3 4 25 12 9-1 23-11 33-21 12-1 4-7 8 4 5 5-8 4 16 16 19 36 24 10 4 4 2-2-6-20 2-8 10-16 12-12 12-2 28 17 29 37 15 27 12 17 8 4 24 5 6 7 6 28 0 28 3 28-2 12-5 5-2 7-3 16 1 3 35 37 4 8-2 12-14 40 0 4 9-4 8-12 4 0 12 4 4-2 5-6-1-5-8-5-8 5-4-1-3-6 0-8 7-9 4-3 12 2 9-6 1-4-2-5-8-3-12 12-7-8 1-8-3-8 7-12-1-4-5-4-6-16-14-7-4-9 1-8-3-20 1-12 5-6 8 0 1-2-12-8 4-8-1-4-14-20 2-9-19-15 3-12 5-4-1-8 3-4 5 1 2-5-5-16 1-12 1-4 10-8 4-8 1-4-3-8 7-8 1-8 6-4 1-4-6-8 6-4 0-4-5-4 9-8-6-4-12-2-11 10 0 4-5 10-4 2-16-1-12 7-12 0-14-10-28-12-4-4 1-8-5-8-1-8-16-8 6-4 13-3 9-5-2-4-8-4 1-5 8-2 12 2 10 5 13 16 12 4 1 4-4 4 0 6 32 8 16-4 3-2 0-4-23-6-16-6 2-12 9-12 9-1 36 10 24-6 20 3 6-2 4-4-1-4-6-8 0-4-12-12 0-12-7-5-12 0-20 8-40 0-28-3-2 0 4 8-2 4-8 5-4-1-6-8 2-12-2-4-10-8 7-12 13-7 24-5 28-2 28 4 20 7 12-2 8 3 28 1 24-5 24 1 8-3 3-4-16-16-3-9-4-4-24-5-24 8-16-9-24-2-9-3-5-4-2-12-7-8-1-4 5-8-9-13-20-10-19-1-7-4 6-3 16-2 5-3 0-4-19-8 0-4 4-4-12-12 1-8 3-4 23-12 1-4-21-8 5-8-12-8 2-20 16-12 25-12-1-4 3-4 45-1 19-7 7-16 18-20zM1284 68l-1 4 5 3 6-3 2-4zM1312 24l-3 4 7 16-8 24 3 8-7 20 0 16 26 12 5 4 5 8 8-4 4-7-2-45 5-32-4-4-2-12-5-4-20-5zM1360 316l-23 4-1 24 13 12 18 8 3 24 7 16 0 8 20 16 2 4-2 12 2 4 13 2 2-2-1-4-6-12 4-12 2-20 4-8-3-8 13-4 1-4-7-8 0-4 1-4 9-8 0-4-7-6-16-1-10-5-3-4 7-8 0-4-6-5-8-3zM1400 283l-17 5 0 4 17 1 16 5 10-2-2-4zM1436 619l-4 1 1 8 7 2 3-2-1-4zM988 548l-4 4 32 52 28 23 24 16 2-3-5-12-1-8-7-8 0-8-25-24 0 4-4 3-22-7-5-12-4-4-1-4 5-8-1-7-4 5zM1088 641l-1 7 5 11 12 9 3 0zM1108 668l0 4 6 12 18 19 0-10-2-5zM1168 828l-4 12 0 6 7-6 3-8zM1196 820l-4 4 4 5 4 1 8-2 1-4-5-7zM1112 421l-1 3 5 7 6 1-6-10zM1184 399l-3 1 3 4 45 0-1-4-8 4-24-6zM1212 313l-2 3 12 0-2-3zM1252 319l-11 5 7 12 2 8-1 8 7 7 4 0 2-11 16-8 11-8 2-4-24-4zM1300 532l-10 4 10 5 6-1 3-4zM1228 161l-2 3 4 4-21 8-4 4 4 12 23 8-8 8 2 4 11 0 6-4-3-4 4-3 8 1 16 8 7-2 4-12-3-4 2-4-6-4-34-12-4-4 5-4zM1412 568l-2 4 2 4 4 1 12 0 5-5-1-4-8-3zM1104 964l-8 7-2 5 6-1 10-11-2-4zM1168 850l-4 2 4 6 12-1 18 3 0-4-6-5-12 3-8-4zM1208 435l-4 1 3 4 5 3 4 0 7-3-5-4zM1248 482l-8 5-1 5 5 4 12-1 2-3-1-8zM1256 361l-3 7 6 8 9 3 6-3 2-8-4-4-8-3zM1284 480l-3 4 3 2 9-2zM1240 568l-4 4 4 12 1 8 7 6 4-1 2-5-3-4 1-8-2-8zM172 32l12 0-1 4-7 4-10 0 1-4zM1072 36l16-3 24 3 16-3 5 3-6 4 1 8-8 9-28 5-16-3-11-7-1-8zM234 52l10-4 5 4-4 4-9 1-3-1zM1018 120l10-3 15 7-3 5-20 1-5-2-2-4zM997 156l3-3 4 0 12 3 8 6 32 3 6 3-13 4-13 8-10 0-6-4 1-4-5-8-16-4zM915 232l13-2 16 3 7 3 2 4 11 12-2 4-18 4-12-6-16-4-6-10 0-4zM954 268l18-1 17 9-6 4-15 4 0 4 4 4-20-2-12 3-13 19 1 3 10 1-2 1-40-3-4-6 1-8-13-8 2-4 18-12 32-6zM1051 268l5-3 12 1 16 14-8 4-24 2-29-2 1-5 16-2zM857 296l11 0-4 5-22 3zM730 304l34-4 40 3 8 3 9 10-4 4-5 0-28-6-24-1-32 3-6-4 1-4zM1047 304l6 0 2 4-3 6-4 1-5-3 0-4zM964 344l36-1 4 1 3 4-7 3-28 4-9-3-1-4zM1174 348l2-3 4 0 8 6 8 9 2 4-2 3-16-4-20 0-27-11 7-1 20 3zM922 364l10-3 12 1 6 2 5 8-11 2-19-2-4-4zM866 372l14-2 34 2-1 8 7 4 0 8-4 3-12-2-24-15zM766 400l14-2 5 2 0 4-13 1-5-1zM837 412l11-2 5 6-1 4-12 0-8-4zM579 444l5-1 4 1 5 12-5 8-14-4-7-8zM494 464l6-3 4 3 3 8-1 12-4 12-2 1-5-1-5-16 1-8zM479 504l5-2 4 6 1 8-5 6-4 0-4-6 0-8zM20 632l4-1 6 5 0 4-6 6-4 0-5-6 1-4zM1428 724l28-3 0 241-3 2 3 7 0 31-24 8-23 14-1 8 18 12-2 5-8 1-16-3-13 1-7-7-1 3 3 4-7 28-7 10-4-1-6-9-6-29-12 2 0-5 4-2 8 1 16-9 8 4 7-18-11-11-1-5 0-8 8-16 2-8-2-4-10-8 23-8 3-4 0-12-3-3-16 3-16-4-17 4-5 4-3 16-7 8-3 8-5 4-8 3-5-3 1-12-3-8-13-1-4-3 8-13 17-7-1-4-24-5-1-3 15-8 2-8-9-12 14-12 1-8 9-8-1-8 4-4 10-1 17-11-2-12 9-11 11-5 2-4-3-4 6-12 20-17 20-6 9-5 0-4-5-8 0-4 5-16zM0 780l0-4 8 0 24 6 8 6 12 16 17 24 14 32-1 12-6 8-20 10-8 0-28-26-20-12zM94 876l11 4-5 4-8 0-2-4zM1235 880l4 0 2 4-5 2-5-2zM143 908l13-4 12 2 4 2 4 8 5 4-5 4-28 0-9-8-2-4zM148 952l8-1 11 5 3 8-4 12 3 8 21 12 1 4-7 8 11 12 4 16-1 4-4 8-18 10-3 6 4 8 15 12-2 4 16 8 8 12-19 12-1 4 8 12-4 8 1 8 5 5 48 14 20-2 16-6 4 0 4 5-5 8-7 4-12-1-20-5-12 4-8 6-2 4-1 4 6 12-3 2-28 3-5 3-3 7-12-3-9-8 0-4 6-4 17 0 5-4 0-4-12-8 5-12-2-12-2-3-20-6-21-27-1-8-6-8-6-20-1-8 3-10-8-6-1-4 6-4 0-4-2-4 5-8 0-8 8-8 3-8-1-4-9-12-1-12 4-8-4-8-2-12 2-4zM1219 952l5-1 2 5-9 8 0 4-8 4-6 0 0-4 10-12zM1159 1012l9-2 5 2-2 4-7 4-16 4 0-4zM1179 1020l5-3 20 0 5 3-4 8-11 8-7 20 1 3 40-4 8 1-28 19-8 1-8-2-3-2 0-4-5-3-24 12-20 4-8-2-12-15-4-1-24 5-17-8 33-4 16 2 19-6 1-4-20-1-4-3 8-8 16-8 12 6 26-2-3-4zM270 1028l10 1 6 3 1 4-7 7-12-1-4-2-1-4 1-4zM266 1068l30-3 20 7 6 8 0 8-6 8 2 4-14 3-16-2-8 7 4 2 20 0 6 6-1 4-5 5-8 1-11-2-13-8 2-4-3-4-13-4-7-8-15-3-7-5 3-2 20 1 20-7-11-8zM1167 1084l13-2 4 2 4 8-2 4-10 4-8 1-8-1-4-4 2-4zM1104 1092l8-3 2 3zM1084 1104l12-2 6 2-18 15-12 6-12 0-6-5 0-4 6-7zM1087 1120l25 2 4 2 2 4-5 4 1 4-19 8-11 9-12-2-4-3 1-4zM1022 1128l6-4 8 1 5 3 3 12-8 6-8 1-8-3-13 12 5 4-4 4-12 1-9-5-3-4-3-12 7-4 28-6zM1319 1128l9 0 11 8 2 4-5 4-20 3-2-3 3-4zM1242 1144l6-3 40 3 1 4-6 4-3 12 7 8 2 8 6 8-1 8-14 7-16 1-16-2-11-6-2-4 1-16 13-12 0-4-9-8zM1186 1148l10 0-4 4-12 0zM1092 1156l8-1 41 5-2 4-7 4 25 12 12 12 0 4-17 9-24-1-9 4-1 4 5 8 3 12-4 8 6 4 15 4 3 4-7 4-2 12-5 0-6-4 6-8-20-8-20-1-32 5-15-4-8-4 5-4-10-2-4 2 7 8-1 4 2 20-3 8 1 4-28 12-3 8 21 18 40 0 7-2-1-4-38-3-7-5 14-8 5-9 32-6 16 2 18-3 4 4-3 4-7 4-6 8 14 5 3 3 1 12-5 12-15 3-8 6-20 4-7 3-1 4 8 8 8 3 12-3 12-11 20 0 16 3 8 4-4 28-8 3-24 2-23 15-21 4-20 7-4 3-3 6-18 12-7 10-4 2-10 0-8-4-1-4 7-16 12-12 8-2 20 5 5-3-3-4-26-7-20 9-12 1-9-3-3-8-8-8 3-8-2-4-12-12 3-4 0-5-12-6-24-4-8-5-1-4 2-4-3-4-24-8-1-4 13-12-17-12-1-4 3-4 9-3 24 1 28-1 24 12 8 2 8-2 3-5-5-8 1-4 8-4 4-4-4-4-27-7-16 4-11-1 9-8 18 0 2-8 7-4 39-6 24-7 28-11 18-12-5-4-1-4 5-4-2-8-9-8 46-16-8-1-9-7zM964 1310l-7 6-1 4 0 4 9 8-1 4 8 3 16 2 8-1 10-4-3-4-19-6-6-6-6-12zM361 1176l11-3 8 3 2 4-4 8 2 12-3 8 11 8 2 4-14 12 19 8 7 8-7 12 2 12-1 8 16 5 12-1 10-4 7-8 13-8-1-4-9-6-24-6-7-4 3-8 0-4 9-8 4-8 11-1 39 25 5 10 12 10-1 8 6 12 23 13 15 11 2 4-5 5-18 3-3 4 3 8-3 4-7 1-24-6-32-2-28-10-19 1-4 4 5 8-16 12 0 12-2 4-8 5-8 2-7-3-9-8-18-24-2-4 6-12-2-3-29-9 8-4-1-4-9-4-5-8-8 2-6 6 1 8 4 4 13 3-6 13 10 8 3 8-1 4 7 8 3 8 4 4 1 4-5 4-16 3-8 9 4 3 16 1 16 4 9 4 1 4-14 12-16 4-4 5-4 0-13-9-12-16-9-4 0-4-17-8 0-8 9-8 4-12 14-8 0-4-8-2-16 2-5-4 5-4-44-14-12-6-1-4 3-4 2-8-3-4 0-8-7-8 0-4 6-3 12-1 36 3 28-6 11-9-3-16-16-10-18-6-10-8 1-4 15-10 12-4 12-1 13 3 39 14 6-2 2-4-2-4 16-12 0-4zM240 1290l-4 2 7 8-2 4 2 4 17 5 6-1 0-8-5-4 0-8-9-4zM244 1271l-2 1 6 5 5-1 4-4-5-3zM348 1234l-2 2 4 4 9 0zM1267 1220l9 0 5 4-9 3-12-3zM511 1224l17 4 12 7 5 5 5 12 18 3 19 1 24 12 4 4-11 7-32-5-8-9-12-5-4-7-24-13-9-8zM731 1244l9-1 5 5-9 2-5-2zM1203 1252l13 0-4 4-4 0zM1294 1256l14-1 11 5-11 5-20-1 0-4zM767 1260l37-3 9 11 27 12-4 10-32-1-9 3 1 4 24 2 24-6 26 8 0 4-10 8-12 16-1 4-8 8 5 8-3 8 1 8 7 8 7 16 18 16 1 4-2 4 7 16-16-1-34-11-3-4-7-3-16-1-28 3-24 0-12-3-3-4 0-4 11-7 36-5 3-4 9-22 18-14-5-4-25-7-14-9 4-4 16-4 0-4-13-8 3-12-8-3-19-1-4-4 27-3 8-5-20-8-2-4-13-4 3-2zM656 1276l8-3 16 0 16 6 24-2 22 7 5 4-29 4-2 4 22 8 2 4-12 12-32-6-16-8-22-2-6-7-8-4-7 3 2 4 9 4 1 4-5 5-12 1-26-2-21-16 3-8 15 0 9-3 20 6 12 1 8-7zM645 1324l7-2 6 2 4 4 1 8 9 4 27 4-13 4-22 2-20-2-6-16zM723 1332l6 0 1 4-2 4-8 3-9-3zM462 1344l6-1 24 7 53 2-5 4-4 8-14 12 2 4 12 6 8 10 9 4 0 8 17 8 6 12-2 8-6 2-12-7-17 1-3 8 14 16-15 0-13-8-14-12 2-8-5-4 8-4 18-4 4-4-27-12-24-16-12-1-12 5-10-4-2-4 4-3 24-2 12-7-24-2-8-3-3-7 4-8zM728 1356l4-2 9 2-5 3zM587 1360l1-2 8-1 20 7-6 4-10 0zM892 1372l8 0 4 2 0 6-8 6-8-2-3-4 0-4zM919 1392l17-2 12 6-8 12-12 8-16 0-8-3-3-5 3-4zM369 1420l10 0 4 4-3 4-12 3-4-1-1-2 5-4zM679 1424l5-4 3 4-3 2zM909 1436l23-1 16 5 24 0 6 4-19 12-119 0 8-8 20-6 12-2 12 3zM1141 1436l15-1 20 4 10 5-3 4-17 8-29 0-2-8zM359 1452l9-1 7 5-24 0z"/><path fill="#616161" d="M1259 0l197 0 0 24-24-2-24 2-1 4 10 8-2 4 8 24 1 16-2 16-9 24-13 12-18 12 7 12-7 8 5 16 16 4-6 16 1 4 14 8-4 4 3 8-15 8-4 24-3 8 0 8 7 6 8-1 11-9 0-4-3-4 5-4 7-1 22 5 4 4 1 8-11 8 0 12-4 2-8 0-17-10-11-3-20 7-1 4 53 10 12 6 12 9 0 242-8 0-16 5-20 1-4 7 4 5 16 3 8-8 20 1 0 111-16-2-24 2-20-3-8-5 1-8-4-8 6-16-3-8 0-12-4-8 2-4 8-8 2-4 4-2 36 9 8-11-3-8-13-8-20 9-12 0-6-17-19-36-1-12 3-8-1-5-8-3-12 4-1 4 3 8-14 16-4 1-7-5-5-16-4-2-7 6-1 4 2 8 12 16-4 8-6 5-12-4-12 6-7-7-9-16 4-8-12-3-7 3 0 4 8 8-4 8 9 12 2 12-1 12 16 28 0 8-6 12 6 12-5 32 2 8-1 4-12 8-11 12-3 24 6 8-1 4-18 16 7 8-1 4-10 6-4 6 0 7 6 13-1 12-15 12 0 12-8 16 0 8-13 16-9 8-4 10-12 8-8 0-4 6 4 2 2 6-2 16-29 16 1 4-1 4-16 12 1 12-3 12 2 4-3 2-8 1-6-7-26-4-6 8 16 8 2 8-3 4-9 3-5-3-7-11-4 2-45 49-20 28-15 14-68 40-48 23-24 6-24 0-12 4-16 0 10 13-30 12-51 4 5 8-1 4 5 4 1 4-7 3-12 1-24-6-21-18-15-8-13-12-2-4 11-3 32 15 12 1 8-5 12-4 4-4-1-4-4-4-15-5-28 0-48-12-21 1-7-4-2-4-50-10-32-9-80-40-43-29-45-27-11-9-11-16-28-56-1-8 5-12 17-28 12-52 6-8 39-19 20-2 26-7 1-4-1-4-6-7-8-3-28 3-20 5-21 2-11 4-16 18-20 11-24 10-24 1-48 0-12-2-6-6-10-19-40-15-12-8-2-6 3-8 19-17 5-7-5-16-30-68-13-56 0-16 4-28 6-20 5-5 12-2 104-1 32-11 16-16 8-3 8 3 20 19 6 8 1 8-10 28-9 10-16 5-13 1-9 4-2 4 0 12 6 8 1 4-7 8 0 4 18 40 19 72 15 17 8 7 4 0 32-18 32-9 24-1 3-4 0-20 17-40 12-40 2-40 12-32 14-23 48-39 68-24 88-13 4-7 8-4 12 1 12 6 4-1 1-8 7-5 22 5-6 7-14 1 2 0 36 1 16-4 24-1-12-1-9-7 3-12 18-4 1-4-4-4-1-4 4-2 24-3 17 5 11 10 13 6 5 8-7 8 3 4-2 4-8 2-37 2 1 4 24 12 8 1 36-17 28-18 8 0 4 3 20 19 19 36 25 11 6 5-2 5-12-1-1 4 33 53 28 23 28 18-7-18 0-8-8-8 1-8-26-25-4 8-20-7-9-16 0-8 4-4-9-28-1-8 12-20 11-11 12-2 24 14 32 39 16 28 12 17 5 3 23 5 8 5 7 30 0 32 4 20-1 12-8 12-3 20 1 4 35 36 3 8-3 16-23 65 8 10 33 1 0-4-9-7-12 3-8-4-10 0 6-2 5-6 2-8-2-4 1-4 8-4 6-10 8 1 6 5-13 8 5 4 6 3 9-3 1-4-5-8 8-12 0-4-6-8-7 2-4 4-4-2-3-12 7-8 4-3 12 1 9-6 2-4-3-6-4-2-4-1-12 11-6-6 0-8-2-8 7-12-1-4-6-4-5-16-15-7-3-9 1-8-4-20 2-12 4-5 8 0 2-3-2-3-10-5 4-8-2-8-12-16 1-4-1-6-15-10-3-4 2-9 6-7 1-8 7-4 1-4-5-16 0-12 1-4 11-8 4-8 1-4-3-8 7-8 1-8 8-8-3-8 4-4-1-4-5-4 8-8-5-4-14-4-4 2-9 10 1 4-8 11-20-2-8 8-12 0-13-9-28-12-4-4 0-8-5-8 0-8-14-8 5-4 21-8-1-4-8-4 0-4 7-2 14 2 7 4 13 16 11 4 1 4-6 4 0 4 4 12 3 4 5 1 4-1-5-8 1-2 24 5 18-3 4-4-1-4-25-6-14-6 1-12 11-12 42 9 24-5 24 3 8-7 0-4-7-8-1-4-12-12 0-12-3-4-5-2-12 0-24 7-20 2-48-5-1 2 6 8-5 6-8 1-4-6-1-5 1-4 6-4-14-12 2-8 14-10 24-5 24-2 28 3 19 6 11 8 6 2 12-1 4-6 12 2 5 3 0 4-7 4 1 4 8 8 1 16 6 8-2 8 6 8 6 3 5 1 6-4 3-8-14-8-2-4 3-8 33-20-34-6-10-6 2-4 20-6 20 2 12-4 3-4-16-16-7-14-24-5-28 8-16-9-24-2-8-2-4-4-3-12-7-8-1-4 5-8-2-3-10-13-11-4-11-8 8-12-20-8-1-4 5-4-9-8-3-8 0-4 4-4 23-12 1-4-20-8 6-8-15-8 2-16 2-4 41-24 4-8 40 0 21-8 6-16 19-20zM1284 67l-4 1 0 4 8 10 4 1 1-3-2-4 11-8zM1312 23l-4 5 8 16-6 16-6 8 6 8-7 20-2 16 27 11 6 5 4 8 10 3 6-3 3-4-6-48 6-36-5-4-3-12-4-4-21-5zM1384 312l-48 7-2 1 2 8-2 12 0 4 14 12 18 8 3 24 7 16 0 8 20 16 1 4-2 12 2 4 15 4 4-4-7-16 3-13 1-19 7-15 9-5 0-4-7-8 0-4 1-4 9-8 0-4-8-7-16-1-8-4-3-4 7-12-12-8zM1432 619l-3 1-1 8 12 4 6-4-6-9-4-2zM388 951l-4 5 4 2 2-2zM1088 640l-1 8 5 12 13 12 11 16 16 16-1-16-27-26zM1188 882l-3 2 3 12 6-12-2-2zM1180 400l0 4 4 1 20 0 28-1 1-4-17 0-20-3zM1244 483l-5 5-1 4 2 2 8 3 9-1 2-4-1-8-6-3zM1284 480l-3 0-1 4 4 3 10-3zM1296 531l-8 5 8 5 8 1 5-2 2-4-7-5zM1228 159l-4 1-1 4 3 4-18 8-5 4 5 12 20 8-5 8 1 4 8 2 8-2 8-8 20 7 8-2 4-9 2-12-7-4-34-12-3-4 3-4zM1316 424l-1 4 5 2 3-2-3-4zM1120 950l-23 18-5 8 4 2 8-6 18-20zM1204 435l-1 1 2 4 7 4 8-1 4-3-8-5zM1240 567l-5 5 5 12 0 8 8 7 4-1 3-6-3-4 0-13-4-5zM171 36l5-3 4 0 1 3-9 4zM1074 36l18-3 28 5 5 10-6 8-7 3-20 2-12-1-10-4-6-8 4-8zM1020 120l8-1 13 5-2 4-3 1-16 0-5-5zM1000 156l12 0 5 4-11 0zM1021 168l3-3 4-1 30 4-13 4-13 7-9-3zM1125 196l7-2 9 2-9 2zM921 232l15 0 8 2 4 2 4 8 9 8-2 4-15 3-28-11-5-8 1-4zM958 268l14 0 14 8-6 4-18 4 1 4-24 4-11 17-8 4-16 2-8-2-3-5 1-8-11-8 1-4 18-12zM1054 268l6-2 8 1 13 13-9 3-20 3-24-2 16-7zM852 300l8-3 4 3zM732 304l32-3 40 4 8 4 7 7-7 3-24-6-60 2-4-3 1-4zM970 344l28 0 7 4-33 6-8-2 0-5zM1177 348l3-1 8 5 7 8 0 4-35-2-14-6 18-2zM924 364l20-2 5 2 5 8-10 2-15-2-6-4zM870 372l38 0 3 8 7 4 0 8-6 2-8-1zM771 400l10 0 2 4-11 0zM841 412l7 0 3 4-3 4-4 0-10-4zM575 448l9-4 8 12-3 4-5 2-12-6-1-4zM718 456l14 0 6 4-14 6-8 1-4-7zM494 464l6-3 4 4 3 7-1 12-6 12-4-1-5-15 0-8zM926 468l2-3 4 1 5 2 2 4-11-1zM479 504l5-1 4 5 0 8-4 6-4-1-3-5 0-8zM22 632l2 0 6 4 0 4-6 6-4 0-4-6 0-4zM1431 724l25-2 0 240-5 2 5 13 0 24-28 9-6 6-15 8-1 8 18 12-2 4-6 1-24-3-8-5-3-5 5-16-13-12-1-4 10-28-1-8-7-8 18-8 4-4 0-12-2-4-18 3-11-3-5-4-19 8-6 8-1 12-8 8-3 8-7 5-4 0-4-5 2-4-2-14-18-2 7-12 20-8-2-4-26-8 15-8 3-8-11-12 15-12 0-8 9-8 0-9 4-3 8 0 18-12-2-8 3-8 9-8 8-4 3-4-3-5 9-15 17-12 29-12-6-16 7-20zM0 780l0-3 8 0 24 6 7 5 12 16 15 20 16 36-1 12-7 8-18 9-8 0-28-26-20-12zM92 880l4-2 5 2-5 4zM145 908l11-3 12 3 10 12-6 3-12 1-12-2-8-6-2-4zM152 952l12 3 4 5 0 8-4 4 0 4 3 8 21 12 1 4-6 8 10 12 5 16-5 12-17 9-4 3 0 4 4 9 12 11-1 4 17 8 8 12-19 12-1 5 8 11-3 8-1 10-16 0-9-6-18-24-2-8-5-8-7-20-1-8 5-8-1-4-7-4-1-4 5-4-2-8 4-8 1-8 7-8 3-8 0-4-10-12-1-12 5-8-5-8-3-12 3-4zM1223 952l2 4-10 8 1 4-8 3-4-3 6-4 4-8zM1161 1012l10 0-2 4-9 5-8 2-3-3zM1182 1020l22-2 4 2-1 4-14 12-9 27-24 13-24 4-13-12-3-8-28 7-13-7 29-4 12 4 24-8 2-4-2-2-16 0-5-2 6-8 15-7 12 6 28-2 1-1-5-8zM266 1032l10-4 8 4 2 4-6 6-8 1-6-3zM1359 1040l9-4 4 2 7 10-2 20-5 12-4 5-4-1-7-12-3-28zM1224 1056l9 0-19 16-6 3-8 0-8-3 0-4-4-4 8-4zM271 1068l21-3 20 6 9 9 0 8-5 4-2 8-2 1-8 1-16-3-4 1-8 7-12-2-8-9-8-4 16-8 14-4 2-4-13-4zM1169 1084l7-1 8 3 3 6-2 4-13 4-12-1-3-3 1-4zM1086 1104l10-1 4 1-3 4-29 18-8-1-5-5 0-4 5-7zM285 1112l11-2 8 2 5 4-1 4-8 5-12-2-11-7 3-3zM1086 1124l10-3 17 3-3 8 2 4-28 13-12 0-1-5 4-4-1-4zM1023 1128l5-3 8 0 7 7 0 8-11 6-16-3-2 5-9 8 5 4-3 4-11 0-7-4-5-8-1-8 9-4 20-3zM1320 1132l4-3 4 1 7 6 1 4-4 4-4 1-12-1 4-4zM1245 1144l40 0 1 4-6 4-1 12 15 24 1 4-2 4-13 6-16 2-16-3-10-5-2-4 1-16 13-12 0-4-8-8 0-4zM196 1160l4-4 24 7 24 9-13 8-7 8-1 4 4 12-23 2-8 3-8 7-15-8-1-4 4-3 20 0 5-5 0-4-12-8 5-12-3-8zM1099 1160l5-2 32 2-1 4-7 4 27 12 11 12 0 4-14 9-24-1-10 4-1 4 5 8 3 12-5 8 4 4 17 4 3 4-4 2-8 0-16-6-12-2-16 1-16 4-12 1-13-4-4-4 2-4-8-4 2-4 21-7 20-13-6-8 5-4-6-16 43-16-12-4zM278 1168l10-4 4 1 2 3-5 8-9 3-19-3-2-4zM362 1176l10-2 6 2 2 4-5 8 2 12-1 8 11 8 1 4-14 12 18 8 8 8-6 12 2 12-2 8 14 5 16 0 12-5 6-8 13-8-1-4-10-7-22-5-7-4 4-8-1-4 8-8 5-8 9-1 38 25 6 11 11 9-1 8 5 12 25 14 12 10 2 4-4 4-20 4-1 4 3 8-4 4-4 0-24-6-32-1-28-11-20 1-3 1-2 4 5 8-15 12-1 15-8 5-8 2-8-4-14-14-11-16-2-4 6-12-3-4-22-8 3-4-2-4-8-4-2-8-13 0-4 2-4 6 2 8 2 4 12 4 0 4-4 8 11 8 2 12 13 20 0 4-18 5-13 11 1 8-8 2-11-2 4-4-21-7-3-5 3-6 8-6 3-12 15-8 1-4-16-8 1-8-4-12-6-8 1-4-11-5-18 5 2 4 5 4-3 8 2 2 23 6-7 4-44-13-5-3-2-4 3-4 1-8-9-24 16-3 26 3 5 4-8 4 3 4 6 2 8-1 3-5-5-4 3-4 23-6 9-6 3-4 0-4-4-12-3-4-13-7-16-5-8-8-1-4 13-10 12-3 12-1 11 2 41 15 7-3 2-4-1-5 16-11-1-4zM344 1230l-1 6 5 4 8 2 7-2-3-4-12-6zM1262 1224l10-3 7 3-7 2zM515 1228l1-2 4 1 13 5 10 8 1 7-4 0-15-7zM735 1244l5 1 2 3-8 0zM998 1244l22-3 12 7 2 24-7 12-22 12-6 8 25 20 36-1 15-3 0-4-3-1-32-4-6-3 1-4 9-4 2-4 6-4 20-5 20 3 12-1 2 3-14 12 22 8 0 12-3 8-3 4-16 3-4 5-24 6-4 2-1 4 9 10 8 2 14-4 10-10 20-1 14 3 8 4-2 24-2 4-30 4-26 16-34 7-12-5-24-7-6 1-14 9-16 0-4-3-10-14 2-8-2-4-12-12 3-4-1-6-12-5-24-5-6-4-2-4 3-4-3-4-24-8-1-4 14-12-7-4-7-8-3-4 1-4 11-3 20 2 28-1 28 14-8 6-6 10 0 4 9 8-1 4 2 1 9 3 19 1 16-5 2-4-18-3-8-4-7-13 9-12-6-12 1-4 12-8-4-4-27-8 3-4-1-8 8-4zM552 1256l32 1 24 11 3 4-11 5-24-3-6-2-1-4-5-4-10-4zM1299 1256l9 0 9 4-9 4-18 0 0-4zM772 1260l28-2 3 2 2 8 33 12 0 4-6 6-32-3-11 5 3 4 24 3 28-5 21 6 1 4-2 4-6 4-10 13-2 7-8 8 4 8-3 8 1 8 7 8 8 16 17 16 1 4-2 4 5 12-8 2-32-9-15-9-21 0-44 3-12-2-6-5 0-4 10-7 37-5 4-4 7-20 21-16-6-4-27-8-12-8 4-4 16-4-1-4-11-9 0-7 6-4-1-4-25-4 16-1 9-3 4-4-5-5-16-3-4-4-11-4zM940 1264l4-2 11 2-10 4-8 0zM657 1276l3-2 12-1 8 1 16 6 20-3 12 2 11 5 1 4-24 3-4 1 1 4 23 8 2 4-7 8-7 3-28-5-16-8-20-3-12-11zM613 1288l7 0 12 4 5 8 8 4 2 4-11 5-24 0-11-5-13-12 0-4 4-2zM648 1324l8 1 4 3 1 8 3 2 12 4 17 2-13 4-16 2-19-2-6-16zM720 1336l7 0-3 4-8 0zM467 1344l25 7 46 1-10 8 5 4-10 8-2 4 1 4 14 8 5 8 10 4-1 8 2 2 16 6 5 8 1 4-2 3-4 3-12-5-20 2-4 9 9 8 1 4-2 3-8-2-8-5-13-12 4-8-6-4 8-4 20-4 4-4-31-12-26-18-12-1-12 5-7-2-1-5 24-2 15-9-27-3-8-5-2-4 2-4 4-6zM590 1360l10-1 14 5-6 3-8 0-7-3zM895 1372l5 1 4 3-4 7-8 2-7-5 0-4zM310 1384l6-2 12 1 14 5 1 4-11 9-28 6-5-3-7-12zM922 1392l10-1 8 1 6 4-1 4-5 7-16 9-19-4-1-4 2-4zM1015 1416l17 4 3 8-14 8-10 8 0 4-3 2-8 0-6-2 3-4-2-8 5-8zM923 1436l9 0 16 6 20-1 5 3-16 12-115 0 6-6 24-6 8 0 8 3 20-9zM1146 1436l26 3 12 5-2 4-18 8-25 0-1-8 3-8zM353 1456l11-3 9 3z"/><path fill="#636363" d="M1260 0l196 0 0 23-24-2-27 3 0 4 9 8-1 4 8 20 2 16-2 16-3 12-8 16-14 12-12 6-16 2-8-17-7-35 5-40-5-4-3-12-4-4-26-6-11 2-2 4 8 16-7 19-4 4-16-1-9 2 0 4 7 12 14 0 4 3-4 26 28 11 5 4 3 8 6 4 34 5 10 7 1 4-7 8-1 4 5 12 4 3 10 1 2 4-4 15 13 9-3 4 3 8-15 8-1 4-7 32 4 8 4 4-17 8-1 4 56 11 12 6 12 9 0 241-8-1-16 5-21 1-5 8 2 4 8 4 8 0-16 7-12 1-5-16-19-36-1-12 3-12-5-4-5-1-13 5 1 12-2 4-10 11-4 2-6-5-6-17-4-2-12 12-8 0-12 7-20-4-8 4 0 4 8 8-4 8 10 16 0 20 17 28-1 8-6 12 6 12-5 32 2 8-1 4-13 8-9 12-3 24 5 8-1 4-18 16 7 8-1 4-9 5-5 7 1 12 5 8-1 12-12 8-3 4 1 8-9 20 0 8-13 16-12 8-2-4 1-8-2-4-10 4 1 15 12-3 1 8-13 9-4-2-4 2-6 7-1 4 7 1 1 3-2 16-31 16 3 4-1 4-15 12 1 12-4 12 1 4-5 2-4 0-5-6-7-2-21-2-9 12 2 1 8-2 8 4 3 5-3 8-8 3-8-7-4-9-4 3-46 50-20 28-14 13-72 42-44 21-24 6-24 1-12 3-16 1-2 1 10 12-4 2-24 9-44 3-10 2 7 8-2 4 5 4 1 4-5 2-8 2-28-7-20-17-15-8-13-12-1-4 5-2 8 1 28 14 12 1 4-1 5-5 13-4 3-4-1-4-4-4-16-5-28-1-60-14-2 4-3 0-8-4-2-4-53-11-32-9-76-38-92-58-10-8-11-16-26-52-3-12 5-12 17-27 12-53 7-8 37-18 20-3 27-7 0-8-7-8-8-2-28 2-20 5-23 3-10 4-15 17-16 9-28 12-24 1-48 0-12-2-5-5-7-16-4-4-40-15-12-8-1-5 3-8 18-16 5-8-5-18-29-66-13-56 0-16 4-28 4-16 6-8 12-3 108-1 28-10 16-16 8-4 8 4 20 19 5 7 1 8-12 32-10 7-28 5-8 6-1 14 6 8 0 4-6 8 0 4 19 44 19 68 15 18 8 7 4 0 32-18 32-9 26-2 2-4-2-16 19-44 12-40 2-40 10-28 15-26 48-39 72-25 77-10 10-4 1-5 8-5 12 1 12 8 8-3 40 1 20-3 24-1 1-1-13-1-9-7 0-4 3-8 19-4 1-4-4-4-1-4 3-2 24-2 16 4 12 10 12 6 5 8-7 8 3 4-3 4-47 4 4 4 23 12 10 2 30-14 30-19 8-2 8 3 19 18 19 36 10 6 16 6 4 4-4 3-8 0-2 5 34 55 26 21 30 19 1-3-8-16 0-8-7-8 1-8-27-26-4 8-19-6-11-20 2-5 4-1 0-2-9-28-1-8 12-20 10-10 12-3 24 14 31 39 16 28 13 18 4 2 24 6 8 5 6 29 1 32 3 20-1 12-8 16-2 20 33 34 5 10-3 16-23 68 9 8 8-1 20 3 8-2-2-4-5-4 2-8-3-4-1 4-11 6-10-2-2-4 5-12-2-4 1-4 7-4 5-8 4-1 6 5-11 8 13 8 10-4 1-4-4-8 7-16-6-9-8 1-4 4-4-1-2-11 2-4 8-6 8 2 8-3 6-5 1-4-3-7-8-3-12 11-5-5 0-8-3-8 8-12-1-4-7-5-5-15-3-3-12-5-3-8 1-8-3-20 1-11 4-5 8 0 2-4-2-4-9-4 4-8-3-10-11-14 1-8-2-4-4-4-10-4-3-4 2-8 14-20 0-4-5-16 2-16 10-8 5-8 1-4-3-8 7-8 1-8 8-8 1-16-5-4 7-8-5-4-15-6-2-2 2-8-32-8-9-4-1-4 2-8 12-11 36 9 12-1 16-4 20 3 11-4 3-4 0-4-8-8 0-4-13-12-1-12-4-5-16-3-32 9-36 0-28-6-10-7-3-8 5-8 12-6 36-6 24 1 20 4 12 5 12 9 12 1 16-5 6 5-7 4 1 4 9 8 2 16 4 8 0 8 3 4 3 4 11 5 4-1 4-4 3-8-13-8-2-4 3-8 35-20-2-4-16 1-16-2-7-3-3-4 3-4 15-5 20 3 18-6 1-4-17-16-5-12-5-4-24-5-28 9-14-8-26-2-8-3-3-3-3-12-7-8-1-4 5-8-2-4-10-12-16-8-3-8 6-8-21-8 0-4 4-4-12-12 0-4 3-7 25-13 1-4-18-8 6-8-17-8 3-17 20-10 28-23 36-1 22-9 6-16 19-20zM1316 423l-3 5 7 3 4-2-2-5zM1380 312l-16 2-20 0-8 3-4 3 2 8-1 16 14 12 18 8 3 24 7 16 0 8 20 16 0 12-2 4 2 4 17 5 8-1 1 0-11-20 4-32 6-11 8-4 2-5 0-4-7-8 0-4 1-4 9-8 0-4-9-8-12-1-10-3-4-4 8-12-4-4-10-5zM388 947l-4 2-2 7 2 5 4 1 5-6-1-6zM1088 638l-2 6 4 16 14 12 11 16 17 17 2-5-2-12-28-28zM1180 399l-2 5 6 2 44-1 6-1 1-4-3-2-16 2-20-4zM1236 567l-1 9 4 8 0 8 9 8 4 0 4-8-3-4 1-8-3-8-7-5zM1244 483l-6 5-1 4 3 3 8 3 9-2 3-4-1-8-7-4zM1280 480l-1 4 5 4 12-4-8-4zM1224 159l-2 1 1 8-21 12 4 12 20 8-5 8 1 4 14 2 16-8 16 6 8-1 3-3 5-20-5-4-35-12-4-4 3-4-6-4zM1128 942l-32 26-5 8 1 3 9-3 15-17 12-10zM1204 435l-3 1 11 8 8 0 5-4-9-5zM1280 255l-2 1 2 2 4 0 2-2-2-3zM1076 36l12-2 12 1 16 5 5 8-4 8-5 2-20 2-12-1-8-3-6-8 3-8zM1300 72l4-1 5 5-5 7-4 1-6-8zM1024 120l15 4-3 4-15 0-4-4zM1023 168l9-2 22 2-22 10-6-2zM915 236l9-3 16 1 5 2 3 8 11 8-4 4-11 1-24-8-7-9zM1420 256l12 0 11 4 5 4 1 8-10 8 1 8-4 5-4 0-27-13 11-12 1-4-3-4zM963 268l9 1 11 7-7 4-16 2-9 6-14 4-9 15-8 5-16 2-7-2-3-4 1-8-10-8 1-4 18-12 28-5 20 0zM1056 268l12 0 11 12-16 4-26 0zM734 304l30-2 40 5 13 9-9 2-20-5-52 2-10-3 0-4zM1096 340l4 0 7 8-3 5-4 1-5-2-2-8zM965 348l11-3 25 3-29 6-6-2zM1172 352l8-3 4 1 9 10-1 2-28-1-6-1-3-4zM926 364l18-1 4 1 5 8-21 0-7-4zM874 372l30 1 5 3 1 4 6 4 1 8-5 2-8-2zM1063 380l13-1 12 5 13 16 10 4 1 5-9 3 5 12 8 9 4 1 6-2-5-8 3-1 20 5 8-2 9 2-1 4-7 8 1 4-5 8-5 2-8-1-4-1 0-4-8-1 3 5-3 4-4 4-8 1-8-2-12-9-16-5-8-5-4-4 0-8-5-8 0-8-13-8 26-12-1-4-8-4zM836 416l8-3 5 3-5 3zM578 448l6-1 6 9-2 2-4 2-9-4-1-4zM720 456l10 0 6 4-16 6-4-2-3-4zM495 464l5-2 6 10 0 12-6 11-4-2-5-13 1-8zM714 476l10-3 16 3-4 5-20 3zM480 504l4-1 4 5 0 8-4 5-4 0-3-5 0-8zM1280 540l4-4 16 7 12-4 4 1 9 12-4 8-5 4-12-4-12 5-4-2-9-15-2-4zM1435 576l21-2 0 110-16-2-24 1-20-3-7-4 0-8-3-8 6-16-7-28 1-4 14-13 12 3 21 6 3 4-2 4-7 4-2 8 3 3 12 2 10-5-12-12 0-12 9-8 0-4-17-12zM24 632l4 2 2 6-6 6-4-1-4-5 0-4 4-4zM1448 724l8-2 0 239-6 3 6 16 0 20-28 9-7 7-16 8 0 8 12 8 3 5-4 1-24-2-9-8 5-10 3-2-5-8-11-8-1-4 2-8 9-4-4-4 3-16-8-12 18-8 3-4-1-16-4-3-16 5-7-2-1-4-8-2-20 10-6 8-2 12-12 12 1 4-9 2-2-2 4-4-4-16-17 0-1-4 12-11 16-5-2-4-26-8 12-6 5-10-3-4-8-4-2-4 8-7 11-5-3-3 0-5 8-4 2-4-2-8 4-2 8 0 19-14-2-8 3-8 10-8 9-4 2-4-4-4 10-16 17-12 30-12-6-8-2-8 7-20 7-4zM0 780l0-2 12 0 21 6 5 4 26 35 18 41-2 8-7 8-17 8-8 0-28-26-20-12zM149 908l7-2 9 2 5 8 5 4-15 2-16-4-4-6zM142 956l10-3 12 3 4 8-6 8 1 8 3 4 20 12 1 4-6 8 11 12 5 16-5 12-22 12 4 12 10 12 0 4 18 8 9 12-20 12-1 4 2 4 6 8-6 16-14 0-10-10-13-18-15-37 0-7 5-8-1-4-6-4-1-4 4-4-2-8 4-16 7-8 4-12-11-12-1-12 7-8-5-5-4-13-1-2zM1164 1012l5 0-1 4-7 4-9 2-2-2zM1184 1020l20-2 2 2 0 4-14 11 0 5-8 20-28 17-16 3-8-4-7-8 0-8 20-8 3-4-4-3-19-1 5-8 14-6 12 6 28-2 4-2-6-8zM267 1032l9-3 7 3 1 4-4 5-8 1-6-6zM1361 1040l7-3 4 3 7 12-5 24-6 8-4-1-3-3-4-12-2-16 2-8zM1083 1060l25-3 7 3-19 6-8-1zM1201 1060l23-2 4 2-16 12-8 2-9-2 0-4-4-4zM277 1068l19-1 16 5 8 8 2 4-2 4-6 4-5 8-9 0-16-3-8 8-11-1-11-12 10-7 16-2 5-7-10-4zM1172 1084l8 1 4 2 2 5-2 4-16 4-8-2-2-2 1-4zM1088 1104l11 0-3 4-24 16-8 2-9-6 0-4 5-7 16-1zM292 1112l12 1 3 3-1 4-10 3-9-3-3-4zM1088 1124l8-2 12 2-1 4 3 8-30 13-7-1 3-8 0-4zM1023 1128l5-3 8 0 6 7-1 8-9 5-16-4-4 2 0 5-9 8 6 4-1 1-8 3-9-4-5-8-1-8 31-6zM1244 1148l8-4 28 2 2 2-4 4-1 12 16 24 1 4-2 4-12 6-16 1-12-1-12-6-3-4 1-16 13-12 0-4-7-8zM199 1160l21 2 24 10-17 16-2 4 3 9-4 3-20 1-4 1-4 5-8 1-9-4-1-4 6-3 20 1 3-6 0-4-13-8 6-12-3-8zM1107 1160l22 0 2 4-11 2-4-4-4 1zM280 1168l12 0-8 9-20-1 2-4zM1107 1172l17-4 16 6 17 10 6 8 1 4-4 4-12 5-20-2-11 5-1 4 6 8 2 12-5 8 1 6-28 0-28 6-15-4-4-4 2-4-5-4 0-4 18-7 23-13-7-8 5-4-4-12 2-4zM364 1176l8-2 5 2 2 4-7 8 3 20 10 8 2 4-15 12 18 8 2 4 6 4 1 4-5 8 2 12-4 8 16 6 16 0 12-5 7-9 13-8-1-4-11-8-21-4-6-4 5-16 6-4 4-8 8 0 37 24 7 12 10 8-1 8 5 12 26 16 12 12-8 4-24-1-1 1 5 0 6 16-6 3-24-5-32-2-28-10-24 1-3 5 5 4 1 4-15 12 0 13-8 6-8 2-21-17-11-16-2-4 6-12-2-4-20-8-1-8-8-4-2-8-19 0-6 8 4 12 10 4 2 4-5 8 9 4 3 4 2 12 7 8 2 8 3 4 0 4-15 3-16 12-24 0-8-3-2-4 2-4 10-8 3-12 15-8 1-4-14-8 3-8-14-20 0-4-8-5-8-1-15 6 0 4 5 4-6 9-8 0-14-5-2-4 3-4 0-8-3-4-3-12-3-4 0-4 14-3 21 3 6 4-5 4 1 4 9 3 8-1 5-6-3-4 3-4 19-5 13-11-5-18-12-8-18-6-8-8-1-4 4-4 15-8 16-2 52 18 8-4 2-4-1-4 3-3 15-9-2-4zM344 1222l-4 10 6 8 14 3 5-3 0-4-14-8-3-5zM516 1228l6 0 8 4 10 7 1 5-5 0-9-4zM1002 1244l14 0 14 4 2 24-8 8-4 8-28 15-11-15 2-4 12-8-3-4-24-8-2-12 9-4zM1120 1248l4-2 12 1 5 5-9 1zM556 1260l4-3 24 1 16 7 5 3 2 4-7 4-24-2-4-2-4-7zM777 1260l19-1 5 5-9 5-12 3-8-1-14-7zM1291 1260l13-3 10 3-7 4-7 1-7-1zM809 1272l23 6 4 2 0 4-8 5-12 0-20-5-5-8zM658 1276l6-2 16 1 20 8 4-3 8-2 15 2 9 4 0 4-12 2-17-2 4 8 21 8 4 4-7 8-5 2-28-5-16-8-16-2-13-11zM596 1292l20-3 8 1 4 2 6 8 9 4 3 4-14 4-22 0-20-16zM884 1292l8-2 52 1 19 13-7 8-4 12 9 8-1 4 7 4 21 2 12-2 17-8-21-3-11-5-6-12 5-6 8-2 8 2 24 20 40-2 14-4 2-4-36-7-3-5 17-12 14-4 12 3 10 5-10 8 8 4 12 1 8 3 1 12-4 4-1 4-4 2-12-1-7 11-17 3-9 5-1 4 10 11 8 2 16-5 7-8 5-2 28 2 8 5-2 23-6 5-28 4-24 14-28 6-40-11-8 1-14 9-14 0-12-16 1-8-2-4-11-12 3-8-3-3-12-5-24-5-5-3-1-4 2-4-2-4-24-8-2-4 4-4 4-3 12-2 3-3-14-4-10-12zM841 1296l3-1 10 1 8 4 1 4-1 4-15 16-3 8-8 8 5 8-4 8 2 8 7 8 8 16 10 8 6 8 1 4-2 4 4 8-1 4-8 0-28-7-8-8-4-1-24-1-36 4-21-3-4-8 5-4 43-8 10-24 22-16-4-4-29-8-11-8 3-4 17-4-2-4-10-8-1-8 6-3 24 2zM646 1328l6-2 4 2 2 8 14 6 11 2-19 5-18-1-2-4-2-12zM460 1348l8-3 24 7 37 0-7 8 8 4-9 8-2 4 2 4 13 8 5 8 10 4-1 6-4 3-8-1-24-8-28-20-1-4 11-8-2-2-24-1-10-5-2-4zM594 1360l9 0 8 4-11 2-5-2zM885 1376l11-4 8 4-4 7-8 2-7-5zM455 1380l15 0-10 4zM316 1384l16 1 7 3 1 4-8 7-12 3-12-1-8-5-1-4zM924 1392l13 0 7 4 0 4-8 8-12 4-14 0-3-4 1-4zM545 1416l7-3 12 2 5 5 2 8-3 2-32-1-4 2-5 9 11 8 0 4-6 0-6-4-2-5-10-7 6-7 11-1-15-4 5-4zM1013 1420l13 0 7 8-21 12-8 2-4-1-2-5 9-4 0-4zM909 1440l23-3 16 6 20 1-15 12-110 0 5-4 12-2 32-1zM1147 1440l25 0 11 4-3 4-19 8-19 0-1-8z"/><path fill="#666666" d="M1262 0l194 0 0 22-24-2-20 1-9 3 0 4 9 8-1 4 8 20 2 28-4 16-7 12-10 11-12 6-8 2-8-2-5-5-6-12-7-32 2-16 4-16-1-4-5-4-3-12-4-4-27-7-12 2-2 5 8 16-6 17-8 5-16-1-7 3 6 16 18 4-4 24 3 4 27 8 5 4 3 8 5 4 16 5 20 1 8 6 1 4-1 4-7 4-1 4 8 16 8 1 6 3-3 16 12 8-2 4 2 8-15 8-1 4-3 20-4 8 2 8 5 8-17 8-1 4 63 14 20 12 0 240-8 0-16 4-24 2-4 8 2 4 9 4-1 4-14 4-4-1-4-15-12-20-2-8-5-8-1-12 2-12-3-4-7-1-13 5 0 12-11 15-4 1-6-4-6-18-4-2-12 10-8 2-12 7-20-4-9 5 0 4 8 8-3 8 9 16 1 20 16 28 0 8-6 12 6 12-6 32 3 8-2 4-17 10-7 18-1 16 5 8-1 4-18 16 7 8-1 4-8 4-6 8 0 12 7 16-2 4-12 8-3 4 1 8-4 12-4 8 0 8-14 16-7 5-2-1-2-10-4-3-6 1-5 4 3 17 8-3 4 2 0 4-12 7-4-4-15 17 11 3-2 17-22 10-9 2-2 4 5 4-1 4-15 12 1 12-5 12 2 4-8 1-4-5-12-3-16-2-4 1-8 14-51 54-20 28-13 12-72 42-44 22-24 5-52 5-3 2 9 12-26 10-56 5-1 1 8 8-3 4 6 8-10 2-28-5-20-18-14-7-12-12-1-4 10 0 29 13 12 2 4-1 6-6 14-5 2-7-6-6-16-4-28-1-48-12-20-2-12-5-48-9-32-9-80-41-88-55-9-8-11-16-26-52-3-12 5-12 16-25 13-55 7-8 36-17 21-3 27-8 0-8-8-8-8-3-28 2-46 9-9 4-13 16-16 9-28 12-24 2-56-2-8-5-11-20-45-17-8-7 0-4 3-8 19-16 4-8-6-20-29-68-12-52-1-16 5-28 4-16 5-7 12-3 108-1 28-10 16-16 8-4 8 3 20 20 4 6 2 8-13 32-9 6-28 5-8 5-1 16 5 8-6 16 20 44 18 68 16 19 8 6 4 1 28-17 36-10 28-3-1-20 22-56 9-32 1-36 11-28 14-25 48-39 12-6 60-19 79-11 9-4 0-5 8-5 12 2 12 8 8-3 44 1 16-4 24 0 3-2-15-2-8-6 0-8 4-5 18-3 1-4-4-4-1-4 26-4 15 4 13 11 12 6 4 7-7 8 3 4-4 4-48 4 29 16 11 3 32-15 28-18 8-3 8 3 18 18 19 36 11 7 16 5 3 4-3 3-8-1-3 6 35 56 25 20 31 20 1-4-7-16 0-8-7-8 1-8-32-29 2 5-2 5-8-1-10-4-11-20 1-4 6 0-11-40 12-20 9-9 4-2 8-1 24 14 30 38 18 31 12 16 28 7 8 6 5 28 1 32 4 20-2 12-8 16-2 20 31 32 8 12-3 16-24 68 10 9 28 2 10-3-6-8 4-8-4-7-4 1-8 9-4 2-7-1-3-4 3-4 0-12 3-4 4 0 16 10 10-6 1-4-3-8 7-16-3-7-8-2-8 4-4-2-2-9 2-4 8-5 8 1 8-3 7-5 1-4-4-8-8-2-12 10-4-4 0-8-3-8 7-12 0-4-8-7-4-13-4-4-12-4-2-8-2-36 4-7 8 0 3-5-3-5-7-3 3-9-4-10-10-13 1-8-3-6-12-5-4-5 9-20 7-8-6-20 3-16 10-8 4-8 2-4-2-8 5-6 2-10 8-8 2-16-5-4 7-8-21-12 2-8-35-8-7-4-2-4 2-8 11-9 8-1 32 9 24-6 24 4 12-9-9-16-14-12 0-12-5-6-16-2-32 8-40-1-16-3-12-6-6-6 1-8 9-7 12-4 36-4 36 5 12 6 8 8 20 0 12-2 3 2-7 4 1 4 7 3 4 5 1 16 5 8 0 8 6 8 12 5 8-3 4-10-13-8-2-4 4-8 35-19 1-5-5-2-24 1-13-3-2-4 4-4 11-4 20 4 16-7 20 0 9 7-12 8 1 4 3 4-1 16 15 12 17 8 4 24 6 16 0 8 20 16-2 20 24 6 9-2-8-8-6-12 3-32 10-11 5-1 3-4-1-8-7-8 0-4 1-4 9-8-2-6-8-7-16-1-8-6 8-12-12-9-8-1-20 4-16-1-4-1 1-4 4-4-1-3-24 2-8-4-20-16-7-15-18-4 13-4 0-8-8 0-12 8-32 10-12-6-33-4-5-4-1-8-9-12-1-4 5-8-2-4-10-12-15-8-3-8 5-8-20-8 3-8-12-12 0-8 11-8 18-8 1-4-16-8 5-4 0-4-18-8 2-16 19-9 32-24 32-1 23-10 3-12 23-24zM384 947l-4 10 4 6 4 1 6-4 1-8-3-5-4-2zM1084 634l5 26 13 12 12 16 18 19 2-3-2-18-27-26zM1156 875l-6 9 2 2 4-1 4-5 1-4zM1192 395l-12 3-4 6 8 3 44-1 7-2 1-4-4-3-16 2zM1248 480l-8 4-4 8 8 6 12-1 5-5-2-8zM1280 479l-2 5 6 5 15-5-11-5zM1316 421l-5 7 9 4 4-1 2-3-2-4zM1220 160l2 8-21 12 4 12 19 8-4 8 0 4 16 3 16-7 20 6 8-5 7-21-3-2-39-14-3-4 3-4-6-4-11-3zM1128 941l-33 27-4 8 0 4 11-4 14-16 12-8 2-4zM1200 436l4 5 8 4 8 0 6-5-4-4-10-3zM1236 564l-2 8 4 20 6 7 8 2 4-9-2-4-2-16-8-6zM1078 36l14-2 20 6 6 8-1 4-2 4-11 3-16 1-12-3-8-5-1-4 3-8zM1297 76l7-3 3 3-3 4zM1019 124l9-3 9 3-9 4zM1025 168l7-2 17 2-17 8-4-3zM917 236l11-3 12 2 3 1 1 8 12 8-4 4-8 0-22-8-7-8zM1415 260l5-3 8-1 13 4 5 4 2 8-10 8-2 11-8-1-20-10 1-4 8-8 1-4zM932 272l20 1 16-4 12 7-24 5-10 7-10 4-7 12-5 5-16 4-9-1-3-4 0-8-8-8 1-4 15-11zM1051 272l13-4 7 4 6 8-30 4zM738 304l34-1 30 5 6 2 6 6-6 1-20-5-52 2-8-2-1-4zM1095 344l5-1 4 3 2 2-2 3-4 2-4-1-2-4zM967 348l9-2 16 2-10 4-10 1-5-1zM1174 352l6-2 4 1 7 9-29 0 0-4zM928 364l18 0 4 4 1 4-19-1-5-3zM882 376l6-3 16 1 3 2 1 4 7 4 1 4-1 4-7 1-11-5zM1067 380l9 0 11 4 13 16 9 4 3 4-11 4 6 8 1 5 8 9 8 1 3-3-4-4 1-4 20 6 8-2 4 1 2 3-6 4-1 4 2 4-5 7-4 2-8-1-2-4-10-2-2 2 1 8-5 4-6 1-8-3-12-9-23-9-3-4-1-8-5-8-1-8-11-8 5-4 21-8-1-4-7-4zM578 452l2-1 7 5-7 1-2-1zM724 456l10 4-14 4-6-4zM495 464l5-2 6 10-1 12-5 10-4-2-4-12 0-8zM715 476l9-3 14 3-6 6-12 1-4-2zM482 504l6 4 0 4-4 9-4-1-3-8 0-4zM1282 540l2-2 4 0 12 5 16-1 8 10-4 8-4 2-12-3-12 4-5-3-9-16zM1453 576l3-1 0 108-16-2-24 1-16-1-8-3-2-2 0-8-3-8 6-16-2-4-2-16-3-8 1-4 13-12 12 3 18 5 4 4-11 12 0 4 2 4 15 2 12-5 2-1-2-4-4-1-7-7 2-4-3-8 12-12-19-12 7-4zM17 636l7-4 5 4 1 4-6 6-4-1-4-5zM1451 724l5-1 0 237-7 4 3 12 4 5 0 17-27 10-10 8-19 7-12-6-11-9-1-4 4-8 12-4 10-8-2-5-12 4-2-11-7-12 16-8 3-4 0-12-2-7-12-1-8 5-3-1 0-4-5-4-12 2-19 10-6 12 0 8-7 6-8 3-3-5 1-8-2-2-12 1-5-3 9-10 12-2 6-4-2-4-23-8 10-8 4-8-3-4-8-3-3-5 7-6 16-4 1-2-7-4 0-4 10-4-1-12 9 0 19-16-1-8 3-8 10-8 11-4 1-4-4-4 9-16 24-14 28-10-13-12-1-4 8-20 6-3zM1376 839l-3 1 7 3 5-3zM0 780l0-2 12 1 20 5 5 4 27 36 17 40-1 8-8 8-16 8-8-1-28-26-20-12zM154 908l6 0 10 12-10 1-17-5-2-4zM144 956l12-2 6 2 2 3 1 5-6 8-3 8 4 0 24 16 1 4-6 8 11 12 5 16-5 12-21 12 3 12 9 12 0 4 5 4 15 4 8 12-16 8-4 4-1 4 2 4 7 8-4 12-5 3-12-2-11-13-3-8-7-8-15-36 6-12-6-12 3-4-1-12 2-12 15-20-7-3-8-9-1-12 5-5 8-3-8-4-3-4-4-12zM1085 1012l7 0 7 8 0 4-7 6-8-2-6-8 0-4zM1156 1016l8-2 2 2-6 4-8 1zM1189 1020l15-1 1 5-3 4-10 4-8-8zM1391 1028l9-2 6 10 8 4 0 4-18-1-7-3-4-4zM269 1032l11-1 3 5-4 4-7 0-4-4zM1138 1032l6-1 8 4 8 2 28-3 3 6-8 20-4 4-21 12-18 3-7-3-7-8 1-8 20-8 3-4-3-4-20 0 4-8zM1362 1040l6-2 4 3 6 11-5 24-5 7-6-3-5-16 0-16 1-4zM1088 1060l16-2 9 2-17 6-7-2zM1209 1060l15 0-14 12-12 0-4-8zM283 1068l13-1 13 5 10 8 1 6-16 13-14-3-7-12 7-8-8-4zM261 1088l7-2 6 2 6 8-4 7-5 1-7-4-6-8zM1164 1088l12-3 7 3 2 4-5 5-16 2-5-3 1-4zM1092 1104l5 0-2 4-23 15-8 2-8-5-1-4 5-6 16-1zM290 1116l6-3 9 3-1 4-4 1-8-1zM1092 1124l10 0-4 4 6 2 5 6-7 4-22 6-4-2 2-4-1-4 3-4 9-4zM1024 1128l8-3 7 3 3 8-2 4-8 4-13-4-2-4zM987 1144l13-3 8 1 2 6-9 8 6 4-7 3-7-3-5-8zM1246 1148l6-2 20 2 4 7-1 9 17 24 1 4-2 4-11 5-16 2-12-2-11-5-3-4 1-16 13-12 1-4-7-8zM198 1164l6-3 12 1 25 10-16 16-2 4 3 8-2 2-12 0-3-2 1-8-14-8 6-12zM273 1172l11-3 3 3-7 5-12-1zM1110 1172l14-2 20 6 11 8 7 12-4 4-10 4-20-1-12 5-1 4 6 8 2 12-7 12-28 2-20 5-17-3-4-4 2-4-4-4-1-4 41-20-7-8 5-4-4-12 12-8zM366 1176l9 0 2 4-9 4-5-4zM271 1192l20 0 45 17 9-5 2-4-1-4 5-4 13-3 4 1 6 18 10 8 2 4-16 12 4 4 13 4 3 4 7 4 1 4-5 8 2 12-4 8 5 4 12 3 20-1 10-6 6-8 13-8-1-4-11-8-20-4-6-4 4-8 0-8 6-4 3-6 8-1 36 23 4 8 12 12 0 8 4 12 27 16 10 12-13 3-16-4-10 1 2 4 8 2 6 6 2 8-8 2-20-5-30-1-30-11-24 0-5 3 0 4 5 4 2 4-15 12 1 12-8 6-8 1-20-15-11-16-1-8 5-8-1-4-19-8-3-8-8-4-2-9-8-1-16 1-2 1-1 8 3 12 13 8-9 8 12 4 4 4-2 4 10 16 4 12-2 4-10 1-16 12-28 0-5-5 5-7 8-5 3-12 15-8 2-4-14-8 2-5 5-3-9-5-11-15-1-6-12-6-8 2-13 6 0 4 5 4-8 7-8 0-8-3-2-4 3-4 0-8-4-4-1-8-5-8 1-4 4-1 24 1 8 4-4 4 2 4 14 7 10-7 1-4-2-4 2-4 17-4 11-8 3-8-6-15-12-8-15-5-10-12 9-8zM344 1218l-3 2-2 8 1 8 4 4 12 4 8 0 4-4 0-4zM179 1204l13-1 4 1 1 4-9 3-7-3zM520 1232l4-1 14 9-2 2-4-1zM981 1248l27-4 12 1 8 4 2 7-1 16-10 8-1 8-22 11-8-3-5-8 3-4 13-8-3-4-25-8-3-12zM559 1260l29 1 14 7 2 4-8 3-20-2-3-1-5-10zM784 1260l8 0 6 4-18 6-8-1-10-5zM1294 1260l10-2 7 2-11 4-4-1zM660 1276l8-2 13 2 19 10 9 10 25 12-7 8-7 1-24-5-16-8-16-2-11-10zM799 1276l13-3 8 2 14 5 1 4-7 4-10 0-20-8zM707 1280l13-1 14 5-2 4-12 0-12-3zM607 1292l9-1 8 1 2 4 15 8 3 4-16 4-16 0-8-5-11-11zM887 1292l49-2 7 2 17 12-4 4-6 16 8 8 1 4 5 4 24 2 14-2 19-8 3-4 16-3 20 1 20-6 3-4-3-4-28-3-3-1-2-4 15-12 10-2 8 1 7 5-10 8 7 6 16 0 10 2 1 12-7 5-12 0-4 3-4 10-20 6-6 4-1 4 10 12 9 2 16-5 12-10 16 0 12 2 6 3 1 4-2 20-5 4-28 4-20 12-11 4-25 2-36-10-8 2-16 9-12-1-11-14-1-12-11-12 3-8-4-4-12-5-24-5-4-3-1-3 2-4-2-4-23-8-2-4 6-5 19-3 1-4 6-4-18-2-14-10zM843 1296l13 2 5 6 0 4-6 4-5 8-5 4-2 8-8 8 4 8-4 8 3 8 7 8 7 16 11 8 6 8 0 4-2 4 4 8-7 2-28-6-6-8-6-1-20 0-40 4-20-3-4-8 8-6 32-3 8-3 10-24 6-5 14-7 3-4-3-4-30-8-11-8 4-4 16-4-12-12-3-4 2-4 8-2 24 2zM985 1308l7-2 8 3 15 11 4 4-1 4-18 2-12-5-6-9-1-4zM645 1332l3-2 26 14-6 4-20 0-3-4zM461 1348l11-1 20 7 22-2 3 8 10 4-3 4-7 4 2 8 13 8 5 8 9 4 0 4-2 2-8 1-22-7-18-12-8-8-2-4 12-8-6-4-20 0-12-3-3-5zM886 1376l10-4 7 4-3 7-8 2-7-5zM314 1388l6-3 8 0 9 3 1 4-6 6-8 1-12 0-6-3-1-4zM928 1392l8 1 6 3 0 4-3 4-19 7-10-3 0-4zM526 1420l34-4 4 2 4 6-4 3-28 0-12-3zM1017 1424l7-1 6 5-6 5-8 0-3-5zM914 1440l18-2 26 10-6 6-20 2-87 0 3-2 16-3 16-1 12 2zM1150 1444l14-3 17 3-3 4-20 8-12 0 3-4z"/><path fill="#686868" d="M1263 0l193 0 0 21-44-1-11 4 1 4 8 8 8 24 2 24-3 16-6 12-7 9-12 8-8 2-8-1-8-6-7-12-4-16-1-16 5-28-1-4-7-8-1-8-4-4-28-7-12 1-3 6 9 16-6 16-8 5-16 0-8 3 6 16 14 4 3 4-3 20 2 4 28 8 5 4 3 8 5 4 17 6 16 1 11 5 1 4-2 4-8 4-1 4 8 16 14 4-2 16 12 8-2 4 2 8-14 8-2 4-3 20-3 8 1 8 4 8-17 8-2 4 67 14 20 13 0 239-8-1-16 4-24 2-7 9 2 4 9 4-1 4-11 3-4-2-1-13-14-20-2-8-5-8-1-12 2-12-3-4-8-2-8 2-6 4 0 12-8 12-6 3-5-3-7-19-4-3-8 8-12 5-12 7-8 0-12-3-10 5 0 4 8 8-3 8 10 16 0 20 17 32-7 16 7 12-7 32 0 4 3 4-1 4-17 8-8 20-1 16 5 8-1 4-18 16 7 8-1 4-8 4-5 8-1 12 7 16-2 4-12 8-3 4 0 8-2 12-5 8 0 8-14 16-6 3-2-3-1-8-5-2-8 2-4 4 2 20-2 0-18 20 2 2 10 2 1 4-2 12-21 9-16 3 2 4 7 4-1 4-15 12 2 12-7 12 1 4-17-7-24-3-8 14-52 56-20 28-12 12-72 41-44 22-24 5-52 5-4 3 8 12-28 11-52 2-5 3 10 8-8 8 9 4-9 0-1-3-24-1-20-18-13-6-10-12 3-3 32 13 16 1 7-7 13-4 3-4 0-4-7-7-16-4-28 0-128-29-32-9-80-41-44-29-44-26-8-7-11-16-27-52-3-12 3-8 18-28 13-56 7-7 40-19 16-1 28-8 1-9-8-8-13-3-28 2-16 5-20 2-16 6-13 16-19 11-24 9-24 2-56-1-7-5-11-20-46-18-7-6 0-8 3-4 19-16 4-8-7-20-27-64-14-56 0-16 4-28 4-16 5-7 12-2 108-2 28-9 16-17 8-3 8 3 20 20 3 5 2 8-13 32-8 5-28 6-9 5-1 16 5 8-5 16 19 44 19 70 20 22 8 3 28-18 36-9 24-2 5-2-1-20 22-56 9-32 1-36 11-28 13-24 48-39 12-6 60-20 81-11 7-3 0-5 8-5 12 1 12 9 12-3 40 0 20-3 28 2 3-1-7-4-20-5-4-3 1-8 2-4 5-2 14-2 2-4-4-4 0-4 24-4 14 4 14 12 12 6 3 6-7 8 3 4-6 4-45 1-1 3 28 16 13 3 33-15 27-18 8-2 8 3 20 21 16 32 12 8 15 4 3 4-2 2-8-1-4 7 36 57 24 19 32 21 2-5-8-16 0-8-7-8 2-8-33-30-2 2 3 4-1 5-8-1-9-4-9-16-2-4 8-4-9-24-3-16 9-16 11-12 4-3 8 0 24 14 29 37 19 32 12 16 28 7 7 5 6 32 0 28 4 20-1 12-8 16-3 20 35 36 4 8-3 16-24 68 7 8 4 2 28 1 12-3-6-8 5-8-5-8 9-8-2-12 7-16-3-8-5-2-8 1-4 3-3-2-2-8 5-7 4-1 8 1 8-3 7-6 2-4-5-9-8-2-8 8-4 2-4-3 1-8-3-8 7-12 0-4-9-8-4-12-4-4-11-4-3-8-2-34 4-8 8 0 4-6-4-6-5-2 2-8-1-4-13-20 1-8-4-8-12-4-3-4 7-12 3-8 5-6 0-6-5-16 2-16 11-8 6-12-1-8 3-4 3-12 9-8 2-12-1-4-4-4 3-6 7-2-20-8-5-4 4-8-2-1-32-6-10-5-2-4 3-8 13-9 32 8 12 0 16-5 24 5 8-5 5-6-1-4-8-12-14-12 0-12-6-7-16-2-36 8-36-1-16-3-13-7-3-4 1-8 7-6 16-5 36-3 34 6 8 4 6 8 24 2 19 14 1 16 7 20 11 8 10 2 7-6 2-8-12-8-2-4 3-8 18-11 16-7 4-6-4-3-20 2-12-1-7-2-2-4 13-6 24 6 4 3 4-3-6-4 4-4 10-2 12 2 8 4-10 8 1 4 5 4-2 16 16 12 17 8 4 24 6 16 0 8 19 16-1 20 5 3 20 5 8-1 3-3-9-8-6-12 3-32 5-7 4-2 8 1 1-4-1-12-7-12 1-4 9-8-1-4-10-11-16 0-6-5 8-12-3-4-15-7-24 4-14-1-2-4 4-4 0-4-4-2-20 2-12-5-20-15 0-4-4-8-11-4 7-4-4-10-8 0-25 14-15 4-20-5-24-2-8-4-2-9-9-12-1-4 5-8-1-4-11-12-15-8-2-8 5-8-20-8 2-8-12-12 1-9 28-15 1-4-12-8 3-4 0-5-19-7 3-16 18-8 18-16 12-7 36-3 20-10 3-12 13-15 10-9 3-4zM1444 536l1 4 3 2 4 0 2-2-5-4zM1268 685l-1 3 1 3 9-3-5-4zM384 855l4 5 4 0 5-4-5-2zM1084 632l-1 4 4 24 14 12 12 16 23 24-4-27-26-25zM1156 874l-3 2-4 8 3 4 9-8 1-4zM1184 396l-8 4-1 4 5 4 52-2 5-2 1-4-6-4-16 2-24-4zM1248 479l-9 5-3 8 8 7 12-1 5-6-1-8-6-4zM1280 478l-2 2-1 4 7 5 18-5-14-5zM1312 423l-2 5 7 4 7 0 3-4-3-5-4-3zM1224 156l-6 4 2 8-20 12 4 12 19 8-4 8 0 4 9 4 8 0 16-7 16 6 8 0 6-7 7-20-5-4-37-12-4-4 3-4-5-4zM388 943l-7 5-2 8 3 8 6 2 4-2 5-8-1-8zM1128 940l-34 28-4 12 2 2 8-4 16-17 13-5 3-8zM1136 920l-2 8 2 3 3-7zM1200 435l-4 1 16 10 8-1 7-5-4-4-11-3zM1236 561l-3 11 5 20 6 7 8 2 5-5 0-4-3-4-1-16-13-10zM1080 36l16 0 13 4 6 12-2 4-13 3-12 0-12-2-6-5-2-8 4-4zM1021 124l7-2 6 2-6 2zM1028 168l15 0-11 3zM920 236l8-2 12 2 1 4-2 4 14 8-5 3-4-1-18-6-9-8zM1417 260l11-3 10 3 6 4 2 8-9 8-1 8-8 1-17-9 0-4 8-8zM961 272l11 0 2 4-26 2-3 2 2 4-13 8-6 12-8 5-12 3-8-1-3-3-1-11-5-5 1-4 9-8 7-3 28-4 20 3 4-1zM1054 272l6-2 8 1 6 9-18 2-4-2zM748 304l20-1 24 5-48 5-14-1-1-4 3-2zM970 348l13 0-5 4-6 0zM1096 348l4-3 4 3-4 4zM1176 352l8 0 3 4-3 3-12-1-5-2zM931 364l13 0 5 4-1 4-16-2-3-2zM885 376l11-2 8 2 2 4 7 4 2 4-3 4-12-3zM1069 384l7-2 12 5 11 13 8 4 3 4-10 4 13 20 11 4 5-4-4-4 3-3 9 3 11 8 3 8-3 5-8 3-8-6-8-1-3 3 1 8-10 4-8-3-12-8-22-9-3-4-1-8-5-8-1-8-10-8 5-4 21-8 0-4zM716 460l8-3 7 3-11 3zM496 464l4-1 6 9-1 12-5 9-4-2-4-11 0-8zM717 476l7-2 13 2-3 4-10 2-7-2zM477 508l3-3 4-1 3 4 0 8-3 4-4 0-3-4zM1283 540l5-1 16 6 12-2 5 5 2 4-2 4-5 5-12-4-12 4-3-1-10-16zM1456 576l0 16-3-4-17-8zM1452 596l4-4 0 34-1-2-7-3-5-5 9-4-2-4-6-1-3-3 3-4zM1397 604l3-3 12 3 16 5 4 3-11 12-1 4 4 6 16 1 11-3 5-4 0 55-56-3-10-4 1-8-4-8 7-12 0-4-3-4-1-16-4-8 2-4zM17 636l7-4 5 4 0 4-5 5-4 0-4-5zM1454 724l2-1 0 236-9 5 5 16 4 3 0 13-29 12-11 9-8 3-8 0-8-2-12-10-2-4 2-5 12-5 12-10-4-8-9 0-10-16 15-8 3-4 0-12-3-9-16 0-12-4-11 1-22 12-5 12-1 8-5 4-8 1 0-9-4-6-12 2 0-4 4-4 12-2 8-6-4-5-12-3-8-4 9-8 4-8-3-4-10-4-2-4 6-5 17-3 3-4-8-5-1-3 12-4 2-8 7-4 6-8 11-8-2-8 5-9 12-7 6 0-1 4 3 1 12 1 4-2-15-4 1-8-5-4 5-8 0-4 26-18 20-7 16-3-16-6-4-6 4-20 3-4 5-2zM1372 839l-2 1 2 2 8 3 7-5-3-2zM0 780l12 0 20 5 31 39 17 40-1 8-7 7-16 8-8-1-28-26-20-11zM1180 828l4-1 11 5 0 4-4 8-7 4-4 0-3-4zM1191 900l4 4-7 5-5-1 1-4zM143 912l13-2 5 2-1 4-4 1-12-2zM146 956l14 0 2 8-10 6-9-6 0-4zM151 984l9 0 18 8 4 4 1 4-6 8 2 4 9 6 5 14 1 8-5 8-23 12 12 24 2 8 18 4 10 12-16 8-4 4-2 4 9 12-3 9-4 4-10-1-12-12-2-8-6-8-6-16-10-20 6-12-5-12 2-4-1-12 2-12 10-15 10-5-12-4-8-8-2-4 2-8zM1087 1012l5 1 7 7-1 4-6 6-8-2-6-8 1-4zM1196 1020l6 0 3 4-5 4-8 3-6-7zM271 1032l9 0 1 4-5 3-4 0-3-3zM1139 1032l5 0 12 6 32-2 3 4-9 20-5 4-20 12-17 3-6-3-7-8 2-8 19-8 4-4-1-4-3-1-18 1-1-4zM1390 1032l6-2 4 1 4 6 6 3-10 2-8-2-4-4zM1364 1040l4-1 4 3 5 10-1 16-4 10-4 5-6-3-5-16 0-16zM1091 1060l13-2 6 2-14 5-5-1zM1197 1064l11-2 8 0 2 2-10 7-4 1zM288 1072l4-4 13 4 11 6 4 6-16 13-9-1-8-12 8-8zM268 1088l7 8 0 4-3 2-4-2-6-8zM1166 1088l10-2 5 2 3 4-4 4-16 2-4-2 1-4zM1081 1108l11-2 1 2-25 17-8-1-4-4 0-4 4-6zM1024 1128l8-3 7 3 2 4-2 8-7 4-11-4-2-4zM1081 1132l11-4 8 2 7 6-7 4-16 4-6-8zM990 1144l10-2 6 2 2 4-12 8 9 4-5 2-5-2 0-4-5-4zM1250 1148l10-1 12 5 3 4-1 8 18 24 0 4-2 4-10 5-16 2-12-2-10-5-3-4 2-16 13-12 0-4-6-8zM200 1164l4-2 12 1 22 9-2 4-17 16 5 4-1 4-10 0-1-4 3-4-18-8 7-12zM1114 1172l10-1 18 5 11 8 7 12-3 4-9 4-20-2-8 2-6 4 0 4 6 8 2 12-10 11-24 2-20 6-16-3-3-4 2-4-5-8 42-20-8-8 4-4 1-4-4-8 15-10zM366 1180l6-4 2 4-6 2zM275 1192l13 0 48 18 4 0 6-6 3-4-1-4 4-3 8-2 5 1 1 8 11 12 6 4 1 4-12 10-8 1-21-15-4 4-1 16 5 4 17 5 9-1 3-6 4 0 9 2 3 4 7 4 2 4-4 8 1 12-5 8 3 4 12 3 16 1 12-2 14-14 12-8-1-4-10-8-20-4-6-4 4-8 0-8 11-11 4 1 34 22 6 9 11 11 0 8 3 12 28 16 4 4 4 8-10 1-20-3-8 2-1 4 13 4 4 4 2 8-6 1-20-5-27 0-33-12-24-2-8-3-9 1 9 4 0 8 7 4 1 4-13 12 0 12-7 5-8 1-19-14-11-16-1-4 6-12-1-4-19-8-4-8-7-4-4-9-20-2-10 3 2 4-1 4 3 8-1 4 14 8-11 6-12-5-1-5-8-8 0-4-11-8 10-8-3-8 3-4 17-4 12-12-7-20-12-8-13-4-10-12 9-8zM182 1204l10 0 3 4-11 0zM987 1248l21-3 17 3 3 4 1 4-3 16-10 4-8-1-4-3-12-2-17-6-5-12zM207 1264l13-1 16 4-2 5 2 4 8 4 2 4-17 8-3 4 6 4-4 5-12-1-4-4 5-4-8-16 0-4-4-8zM573 1264l3-2 12 1 12 5 2 4-10 3-16-3zM766 1264l18-3 10 3-14 5zM662 1276l10-1 12 3 12 7 11 11 24 12-11 8-23-4-13-7-20-4-9-9zM807 1276l17 1 8 3 1 4-7 4-10-1-12-7zM710 1280l10-1 12 5-4 3-8 0-10-3zM997 1280l15-4 5 8-1 4-20 9-4 0-8-9 4-4zM921 1292l21 0 15 12-9 20 12 15 8 2 32 0 30-13 34-1 16-5 12-10 15 0 3 8-2 5-18 3-5 4-1 8-20 7-7 5-1 4 9 12 11 3 16-5 12-10 16 0 12 2 4 2 2 4-3 20-7 4-24 3-20 12-12 4-24 1-8-4-28-5-8 2-16 9-12-1-10-13 0-12-12-12 2-8-3-4-39-12-1-12-23-8-3-4 9-5 16-1 3-6 8-4-23-6-11-6 3-4zM1066 1292l10-1 6 5-12 8 8 4-10 2-13-2-3-4 7-4 1-4zM599 1296l17-4 4 1 8 7 11 4 3 4-26 4-14-8-4-4zM786 1300l6-1 24 1 28-3 13 3 2 4 0 4-6 4-4 8-6 4-2 8-8 8 4 8-4 8 18 32 11 8 5 8 1 4-3 4 3 8-28-4-7-8-5-1-24-1-44 4-12-1-6-5-1-4 7-5 32-4 9-3 10-24 22-12 3-4-2-4-31-8-12-8 6-4 15-4-13-12-3-4zM990 1308l10 2 13 10 3 5-4 3-8 1-16-5-3-4-2-8zM282 1320l10-3 12 4 2 3-4 4 13 16 2 12-13 4-13 12-27 0-3-4 3-5 10-7 2-12 16-8 3-4-4-4-10-4zM648 1336l4-1 18 9-7 4-12 0-4-4zM463 1348l9-1 16 7 20 0 3 2 0 4 12 4-2 4-8 4 5 8 12 8 5 8 9 4 0 4-8 2-16-4-23-14-4-4-4-8 7-5 8-3-8-5-24 1-8-2-5-6zM886 1376l10-3 7 3 0 4-7 4-4 0-6-4zM318 1388l10-2 6 2 2 4-4 4-8 2-13-2-2-4zM923 1396l9-3 7 3 1 4-8 6-16 2-4-4zM531 1420l29-1 4 5-28 2-7-2zM921 1440l13 0 18 8-4 5-22 3-12 0-14-4 1-4 6-4zM1156 1444l12-2 12 2-3 4-13 3-8-3zM878 1452l15 4-47 0z"/><path fill="#6a6a6a" d="M1266 0l190 0 0 20-48 0-8 4 0 4 8 8 9 24 2 24-4 16-6 12-9 10-8 4-8 2-8-2-8-6-4-8-5-12-2-16 1-16 5-16-1-4-6-5-3-11-3-4-34-9-8 1-4 8 9 16-6 16-7 4-16 0-9 4 5 16 18 8 0 8-4 12 2 4 29 8 5 4 2 8 5 4 15 6 20 2 9 4-1 8-12 4 11 20 14 4 2 4-3 12 11 8 0 12-13 8-3 4-5 28 4 16-6 4-12 4-3 4 71 15 20 13 0 237-8-1-16 4-12-2-12 4-12 9-8-8-13-27 1-24-3-4-9-2-8 1-7 5 0 12-8 12-5 3-5-3-7-20-4-4-8 9-8 2-16 10-8 1-12-4-11 6 0 4 8 8-3 8 10 16 0 20 18 32-7 16 6 12-4 28-5 8 4 3 0 4-16 6-7 19-2 20 4 8-1 4-18 16 7 8-1 4-10 6-4 10 0 10 7 14-1 4-14 8-2 4-2 20-5 8 0 8-14 16-5 1-1-9-7-3-10 3-4 4 2 8-1 12-19 20 2 4 10 1 2 3-1 12-21 8-12 2-7-2-1-12 9-16-5-5-9 21-35 30-5 14 1 6 3-6 13-8 9-12 7-5 12-2 11 7 0 4-14 12 2 12-3 7-4 4-4 1-36-8-8 16-52 55-21 29-11 11-72 42-44 21-24 6-52 5-5 3 7 12-30 11-53 1-2 4 9 8-14 9-15-1-21-19-12-5-6-8 2-2 8 0 20 9 16 1 4-1 4-7 13-4 4-4 0-4-8-8-17-3-28-1-128-29-32-9-80-40-44-30-44-26-8-7-10-15-27-52-3-12 3-8 19-32 12-52 6-6 40-19 16-1 28-8 2-2-1-8-7-8-6-3-8-1-64 9-16 6-14 17-18 10-24 10-24 1-56-1-6-4-10-20-20-9-24-8-10-7-1-4 3-8 20-16 4-8-7-20-28-64-13-56 0-16 5-32 5-16 6-4 112-1 33-11 15-16 8-3 8 3 20 20 4 12-13 32-15 7-24 4-6 5-1 16 4 8-4 16 3 10 15 30 21 75 20 22 8 2 28-17 36-10 24-1 7-3-2-20 18-44 12-40 2-40 9-24 15-28 51-41 68-23 84-12 4-1 0-7 4-4 8-2 8 2 6 4 2 5 4 1 12-3 40 0 20-4 20 1 8 2 30 18 14 4 35-16 25-17 8-2 8 3 16 16 20 37 12 8 12 2 6 5-10 0-5 8 37 58 24 19 32 21 3-2-1-4-7-16-1-8-6-8 1-8-25-25-12-8 4 9 0 4-6 0-10-4-10-16-1-4 8-4-12-32-1-8 9-16 11-11 4-3 8 0 24 14 31 40 14 24 14 20 29 8 6 4 6 32 1 28 3 20-1 12-7 14-4 22 35 36 4 8-2 12-25 73 8 8 4 1 8-1 20 3 12-3 0-5-5-4 7-8-6-8 8-8-2-12 6-16-4-9-8-2-8 3-4-2-1-6 5-6 4-2 12 1 12-9 1-4-5-10-8-2-8 9-4 1-3-2 1-8-3-8 7-12 0-4-9-8-5-13-4-4-10-3-4-8-2-32 4-9 8 1 4-8-7-8 1-8-2-6-12-18 0-8-3-8-12-4-2-4 6-8 3-12 4-4 1-8-6-16 3-16 11-8 7-12-1-8 5-16 9-8 3-12-2-4-4-4 1-4 9-3 12 8 8 1 12-6-4-4-12-4-20 2-15-6-5-4 5-8-5-3-32-5-9-4-2-4 3-8 4-4 7-4 5 0 31 8 2 4-5 3-2 5 6 6 16-3 36 0 6-3 1-4-3-5-7-3 3 0 8-9 2-7-9-12-14-12-1-4 1-8-3-6-4-1-20-2-32 8-32-1-20-4-11-6-3-4 1-8 13-8 24-5 28 0 23 5 9 5 6 7 26 4 3 4 13 6 3 10 0 8 7 20 11 8 11 3 5-3 5-12-12-8-2-4 4-8 16-10 16-6 10-8 1-4-3-4-7-4 4-4 11-1 8 3 4 2-11 8 2 4 7 4-2 16 17 12 17 8 4 24 6 16 0 8 19 16-1 20 6 5 16 3 4 3 8-2 4-5-8-7-8-13 3-32 9-8 13 0-4-16-7-12 1-4 9-8-1-4-11-13-12 1-9-4 9-12-3-4-17-8-24 4-9 0-4-4 4-4-3-6-4-2-20 1-12-4-19-13 1-4-4-8-7-4 3-4-1-4-1-4-4-3-12 2-23 13-13 3-20-5-27-2-5-4-1-8-9-12-1-4 5-8-1-4-11-12-14-8-2-8 4-8-6-4-14-4 1-8-11-12 0-8 12-8 18-8 1-4-11-8 3-4 0-4-3-3-18-5 2-13 4-3 16-7 18-17 10-6 36-3 20-10 6-17 22-20 3-4zM1268 684l-2 4 2 5 12-5-6-4zM380 856l3 4 5 1 9-1 3-4-12-4zM1084 631l-1 5 3 24 18 16 8 12 24 26 1-6-5-24-25-24zM1152 875l-5 9 2 4 3 1 8-5 4-8-4-3zM1220 456l-3 4 3 2 4 1 5-3zM1232 560l0 16 5 16 7 8 8 2 5-6 1-4-3-4-2-16-13-13zM1244 480l-9 8 0 4 3 4 10 4 12-4 2-8-1-4-9-5zM1280 478l-3 2 0 4 7 6 16-5 18-1-18-1zM1316 419l-8 9 8 4 8 1 4-5-2-4-6-5zM1416 549l-2 3 6 3 6-3zM1224 155l-7 5 1 8-19 12 3 12 19 8-3 12 6 3 12 2 20-6 16 9 4-1 15-31-4-4-38-12-4-4 3-4-5-4zM1444 535l-3 1 7 7 4 1 4-4-4-4zM384 943l-6 9 0 8 2 5 8 2 8-4 3-11-7-10zM1083 36l13 0 11 4 4 4 2 8-3 4-10 2-12 1-12-3-5-4-2-8 4-4zM922 236l14 0 3 4-7 4-8-1-5-3zM1419 260l9-2 14 6 2 8-8 8-4 8-19-8 0-4 7-8zM1057 272l9 0 5 8-16 0zM921 276l15-2 7 2-3 4 3 4-11 8-8 14-16 5-8-2-3-13-4-4 11-12zM755 304l15 0 15 4-45 5-8-1-2-4zM1275 312l19 4 2 4-16 2-12-2-3-4zM1180 352l5 4-5 1-7-1zM936 364l12 4-4 3-13-3zM890 376l11 0 12 12-5 3-8-3-8-7zM1074 384l6 0 7 4 11 12 10 7-9 5 13 20 12 5 7-5-4-4 7 0 11 8 5 8-2 3-4 3-4 1-8-5-8-2-4 4 1 8-9 4-8-3-12-9-21-8-3-4-2-8-5-8 0-8-9-8 4-4 23-8zM1198 388l10-1 20 5-3 4-9 2-34-6zM801 444l23-3 14 3 13 12 14 8 1 4-6 4-1 4 3 4-10 4-32 1-36-10-3-3 0-8 7-6 15-2 1-4-3-4zM498 464l2-1 4 5 2 8-1 8-5 8-4-2-4-10 2-12zM719 476l16 0-2 4-9 1-5-1zM478 508l2-3 4-1 3 4 0 8-3 4-4 0-2-4zM1280 544l4-3 4-1 12 6 12-2 8 4 1 4-5 8-12-4-12 4-4-2zM1396 580l4-3 9 3-1 4-8 1-3-1zM1440 580l16-3 0 11zM1456 596l0 12-13-4 5-5zM1398 604l2-2 12 2 18 8-11 12-1 8 3 4 19 0 16-5 0 51-55-2-10-4 0-8-3-8 7-12 0-4-3-4-1-16-4-8 1-4zM1446 616l10-4 0 11-7-3zM17 636l7-3 4 3 1 4-5 5-4-1-3-4zM1455 724l1 235-10 5 3 16 7 4 0 4-4 9-28 11-8 8-8 3-8 0-7-3-11-8-1-4 2-4 9-3 14-13-3-8-15-6-5-6 0-4 17-12 0-12-4-12-24-3-17 3-22 12-7 20-6 4-1-8-5-8 12-12-6-6-17-6 7-8 4-8-2-4-11-4-2-4 5-5 19-3 2-4-2-4 6-8 0-4 9-8 5-8 11-8-2-8 4-8 12-5 24 6 5-1-1-4-16-8 4-3 12 2 4-4-4-3-12 4-8-3 0-5 4-4 0-4 31-20 35-8-22-8-4-8 8-20zM1368 840l3 4 9 2 4-1 5-5-5-4zM1372 901l-2 7 2 6 4 3 6-9-6-7zM0 780l12 0 20 6 31 38 17 40-2 8-6 6-16 8-8 0-28-26-20-12zM1181 832l3-3 10 3-5 12-5 2-6-2zM163 992l12 0 5 4 0 5-8 11 12 4 9 20-5 12-26 12 6 6 8 18-2 8 2 2 20 2 10 12-14 6-6 6-2 4 9 12-4 8-5 3-16-11-1-8-7-8-8-24-9-12 7-12-4-8 2-8-2-12 1-12 9-13 16-7-12-7-8-1-4-4zM1080 1016l4-3 8 0 6 7 0 4-6 6-4 0-7-6zM1188 1024l12-3 3 3-7 5-4 0zM275 1032l5 4-8 1zM1133 1036l7-4 4 1 8 6 32-2 4 0 2 3-5 12-9 12-20 12-16 2-9-6-3-4 1-4 2-4 18-8 5-8-6-3-16 2-2-3zM1391 1036l5-2 4 1 1 5-5 0zM1360 1044l8-4 5 4 3 8-1 16-3 9-4 5-5-2-5-12-1-16zM1093 1060l15 0-12 4-3 0zM1202 1064l10 0-4 4-4 0zM292 1080l8-3 8 0 8 2 3 5-4 4-15 7-4-2-7-9zM1167 1088l9-1 6 5-6 5-12 0-2-1 0-4zM1083 1108l9 0-12 5-8 10-8 2-8-5 0-4 4-6 8-1 12 2zM1024 1128l8-3 7 3 2 4-2 8-7 3-10-3-2-4zM1083 1132l13-2 9 6-9 5-12 1-5-6zM995 1144l6 0 4 4-9 6-4-2 0-5zM1251 1152l1-2 8-1 12 6 0 9 19 24 0 4-2 4-13 5-12 1-12-2-9-4-3-4 2-16 13-12 1-4zM202 1164l10-1 12 3 12 6-1 4-15 14-12-1-9-5 6-12zM1103 1176l17-4 16 2 11 6 11 16-3 4-7 3-24-1-11 6 0 4 7 8 1 12-9 10-24 3-20 5-14-2-3-4 1-4-4-8 24-13 18-7-8-8 5-8-3-8 10-8zM280 1192l12 2 11 6 36 12-3 20 5 8 23 5 8-1 0-4 8 0 14 8 2 4-4 8 1 12-6 8 2 4 23 5 20 1 1 2 11 4 5-4-15-4 13-16 9-4 3-4-1-4-10-8-18-4-7-4 4-8-1-8 10-9 4 0 33 21 9 12 8 8 1 20 29 16 5 4 1 4-2 3-4 0-24-2-10 7 18 6 3 6-3 4-20-5-24 1-36-13-20-1-16-5-8 1-4 3 21 15 2 4-13 12 1 8-3 6-8 3-8-2-14-11-11-16-1-8 6-8 0-4-18-8-6-8-7-4-2-8-3-2-32-1-2 3 4 4-1 4 3 8-2 4 15 8-9 4-10-4 0-4-9-8 0-4-10-8 5-5 9-3-5-2-3-6 3-3 16-5 11-12-5-20-12-8-13-4-11-12 9-8zM464 1276l0 4 11 0-1-4zM350 1196l6-3 4 0 3 7 7 4 13 16-15 10-9-2-18-16 1-4 9-8zM993 1248l19-2 12 3 3 7-3 12-4 4-28-3-13-5-6-8 0-4zM212 1264l22 4-2 4 2 4 8 4 1 4-19 10-4-1-9-9-5-16zM577 1264l15 2 5 2 3 4-8 2-15-2-1-4zM769 1264l15-2 7 2-11 3zM664 1276l12 0 12 5 12 9 5 6 20 12-13 4-12 0-16-8-20-4-8-8 0-4zM714 1280l6 0 10 4-6 3-8-1-4-2zM809 1280l11-3 10 3 2 4-8 3-4 0-7-3zM990 1284l14-4 11 4-1 4-18 7-4 0-4-3-2-4zM925 1292l15 0 14 12-3 4-1 8-4 8 13 16 9 2 32 0 38-14 6 0 5 4 7 1 8 0 3-1-2-4 19-6 12-9 8-1 3 4 0 8-21 4-6 4 1 8-17 6-8 6 0 4 8 13 12 3 12-3 20-12 16 0 8 2 4 3 1 6-4 16-9 4-24 3-16 11-12 4-20 1-12-6-28-3-8 2-16 9-8 0-4-2-9-11 0-12-12-12 2-8-3-4-14-6-25-6-1-12-21-8-4-4 7-4 16 0 6-8 9-4-23-6-11-6zM1064 1296l8-3 6 3-10 2zM215 1300l5-2 8 2-4 4-5 0zM601 1300l3-2 12-2 22 8 2 4-24 2-12-5zM788 1300l28 1 28-3 12 4 1 6-6 4-4 8-6 4-2 8-9 8 5 8-3 3-4 0 0-6 2-1-38-9-10-7 21-8-15-12-2-4zM816 1328l-9 4 9 1 10-5-6-2zM985 1312l11-2 16 10 3 4-11 5-12-3-6-6zM285 1320l11-1 9 5-5 3-8 0-9-3zM295 1336l5-3 8 5 6 10-2 7-11 5-6 8-7 4-16 1-8-2-1-3 1-4 12-8 2-12zM649 1340l3-2 4 1 10 5-6 3-8 0-3-3zM467 1348l21 8 14 0 6 6 10 2-2 4-4 0-12-7-28 2-8-2-4-5 1-4zM816 1356l12-3 4 5 10 14 8 16 11 8 5 8-3 8 2 4-1 2-20-2-9-8-7-2-68 4-12-2-6-4 0-4 10-6 28-2 10-4 10-24zM498 1372l14 2 4 6 11 8 6 8 7 4 1 4-21-3-21-13-5-4-2-8zM886 1376l10-3 7 3-1 4-6 4-4 0-6-4zM323 1388l7 0 3 4-5 4-8 0-4 0-3-4zM926 1396l10 0 2 4-4 4-6 2-8 0-5-2zM535 1424l5-4 4 0 12 4zM911 1444l21-3 16 7-4 4-24 3-11-3-4-4zM1161 1444l16 0-3 4-6 1-7-1zM848 1456l32-2 5 2z"/><path fill="#6d6d6d" d="M1271 0l185 0 0 19-48 0-10 5 1 4 7 8 8 20 4 24-3 16-5 12-10 12-8 4-8 1-8-2-8-7-4-8-4-12-2-16 6-28-8-10-2-10-3-4-43-11-4 6-1 5 10 16-7 16-6 4-20 0-6 4 5 16 17 8 0 8-3 12 2 4 29 8 5 4 3 8 4 4 24 9 12 0 7 3 1 4-3 4-13 1-2 3 14 20 16 6-1 14 11 8 0 12-17 12-5 28 3 16-5 4-14 4-3 4 75 16 20 12 0 219-8-5-10 2 10 9 4 0 4-4 0 16-8-2-20 2-3-1 5-4-14-5-5 1 0 4 6 4-1 1-20 11-4-2-10-14-1-8-5-8 1-24-2-4-11-3-8 1-7 6-2 16-7 9-4 1-7-6-5-17-4-4-8 9-12 4-12 9-8 0-12-4-4 1-8 6 0 4 8 8-3 8 10 16 0 20 11 16 7 16-7 16 7 12-5 28-4 6-12-3-3 5 3 7 12-5 3 2-3 5-12 0-8 27-2 16 4 8-1 4-18 16 7 8-1 4-9 5-4 11 0 16 6 8-1 4-14 8-3 4-1 20-4 4-1 12-14 16-3-8-5-3-17 3-2 4 2 8-1 12-6 8-14 12 2 5 12 2 0 13-20 7-12 1-4-1-3-11 9-16-6-6-10 22-34 29-6 15 1 8-3 1-6 15-54 58-21 30-11 10-72 42-44 22-24 5-56 5-2 4 6 12-28 10-56 1-2 5 8 8-4 4-9 4-10 0-23-19-10-5-5-8 10 0 17 7 20 2 6-9 12-4 4-4 0-4-6-8-20-4-28-1-80-19-48-9-32-9-76-39-92-58-8-7-10-14-28-56-1-8 22-40 5-19 2-17 5-16 5-6 24-9 16-10 16-1 28-7 3-3-1-8-10-10-8-2-28 2-20 5-20 1-16 7-15 17-17 9-24 10-24 2-56-2-8-7-8-16-20-10-24-8-9-6-1-4 3-8 20-16 3-8-5-16-29-68-13-56-1-16 5-28 4-16 7-7 112-2 34-11 14-15 8-4 8 4 19 19 4 12-8 24-5 8-14 6-24 5-7 5-1 16 4 8-3 8-1 8 4 12 14 28 22 76 20 21 8 3 32-19 32-8 24-1 8-4-3-20 18-44 12-40 2-40 9-24 16-28 50-40 68-23 88-13 1-8 7-5 12 2 5 3 3 6 16-2 40 0 20-4 20 1 36 19 16 5 36-17 24-16 8-3 8 4 15 15 20 36 19 16-3 8 37 58 60 43 0-5-9-20 0-8-7-8 2-8-26-26-12-8-1 2 4 8-2 4-12-4-10-16-1-4 2-2 8 3 1-1-8-12-8-32 9-16 10-11 4-2 8-1 23 14 31 40 14 24 14 20 6 3 24 6 5 3 6 28 1 32 4 20-2 12-6 13-5 23 35 36 5 8-1 8-26 74 0 6 12 7 8-1 20 4 12-4 2-2-4-8 7-8-7-8 7-8-2-12 6-16-5-10-8-1-8 2-4-3 0-4 4-6 4-1 12 1 13-10 1-4-6-11-8-2-8 9-4 1-2-1-2-16 7-12 0-4-10-8-5-13-4-5-10-2-3-8-3-32 4-8 8 1 5-9-7-8 0-8-2-8-11-16-2-16-12-4-3-4 5-4 5-16 3-4 0-8-5-16 3-16 11-8 7-12 4-24 9-8 3-12-1-4-5-4 1-4 8-2 16 9 8-1 9-6-4-4-13-4-16 2-18-6-4-4 6-8-4-3-4-2-32-3-7-4-3-4 3-8 4-4 11-4 28 9 3 3-5 4-1 4 3 7 8 1 12-4 36 0 7-4 2-4-4-8 7-16-9-12-15-12-2-4 2-8-4-7-24-3-32 8-32-1-16-3-12-6-4-4 1-8 7-5 16-5 36-2 28 6 16 12 22 2 3 4 15 8 2 16 3 8 1 8 3 4 11 8 12 4 7-4 5-12-12-8-2-4 4-8 14-9 19-7 5-5 12-1 5 2 0 4-3 12 18 12 17 8 5 24 5 16 0 8 20 16-3 20 8 5 13 3 7 8 4 1 10-13-9-8-8-12 3-32 8-7 12 2 2-3-4-16-7-12 1-4 9-8-1-4-8-12-4-2-12 0-6-2 8-12-2-4-20-9-24 5-8-1-3-3 4-4 0-4-5-5-24-1-20-8-9-6 1-5-4-7-5-4 1-4-5-12-15 1-24 14-8 3-49-6-6-4-1-8-10-12 0-4 5-8-1-4-10-12-15-8-1-8 4-8-5-4-15-4-1-4 1-4-11-12 0-8 12-8 19-8 1-4-10-8 3-8-3-4-18-4-1-8 2-4 18-8 24-23 12-3 28-2 20-10 3-2 2-12 2-4 28-24zM384 851l-6 5 2 4 8 2 12-2 2-4-5-4zM1084 630l-2 6 4 16 0 8 17 16 8 12 25 27 1-7-4-24-28-28zM1160 872l-11 4-4 8 3 6 8-2 8-8 1-4zM1212 561l0 6 6-3-2-3zM1220 455l-4 5 4 2 4 2 7-4-5-4zM1232 557l-2 3 1 16 5 8 1 8 7 9 8 2 6-7 1-4-3-4-2-16-14-14zM1244 479l-7 5-3 4 0 4 3 4 11 4 12-3 3-5-1-8-10-6zM1276 480l0 4 8 6 16-4 16 0 4-2-20-2-16-5zM1300 391l-2 1 10 4 9-4-9-2zM1340 464l-6 4 8 0 1-4zM1436 519l-3 1 7 3 4 0 3-3-3-2zM1220 155l-5 5 2 8-19 12 3 12 19 8-3 12 6 4 13 2 20-6 16 11 4 0 17-35-1-2-4-3-37-11-4-4 2-4-4-4-17-6zM1244 140l-1 0 1 2 4 2 16-4zM388 940l-8 5-4 11 2 8 6 5 7-1 5-3 4-9-1-8-2-4zM1312 420l-7 8 15 6 7-2 2-4-5-9-8-2zM1074 40l14-4 12 2 9 6 3 8-4 4-4 1-24 0-8-5-2-4zM926 236l7 0 3 4-8 2-7-2zM1421 260l11-1 8 5 3 8-11 12-4 1-12-5-2-4 8-8zM928 276l8 0-1 4 5 4-10 8-5 12-13 5-11-1-4-16 5-4 3-8zM732 308l32-3 15 3-39 4-4 0zM1314 308l15 4-9 5-13-5zM1268 316l12-3 10 3 2 4-20 0zM933 368l7-3 6 3-6 2zM894 380l2-2 4 1 11 9-9 0zM1201 388l7-1 14 5 0 4-10 1-20-5zM1083 392l1-3 4 2 16 13-6 8 14 21 12 5 12-5 8 5 4 7-4 3-4 0-16-6-5 6 1 8-8 3-40-19-10-20 0-8-9-8 5-4zM803 444l21-3 13 3 13 12 14 8 1 4-6 4-2 4 4 4-10 4-27 1-40-11-3-2 0-8 7-6 12 0 4-2 1-4-3-4zM500 464l4 4 2 8-2 8-4 7-4-2-4-13 2-8zM722 476l10 0-4 5-7-1zM478 508l2-3 4 0 3 3 0 8-3 4-4-1-2-3zM982 540l6 0 5 4-7 0zM1281 544l7-3 8 3 4 4 4 0 8-3 4 1 4 6-4 6-12-5-12 5-4-2zM1398 580l7 0-1 3-4 1zM1452 580l4-2 0 8-5-2zM1447 600l9-3 0 10-11-3zM1399 604l13 2 17 6-14 16 1 12 12-1 28-6 0 49-16-2-36 0-12-4 0-8-3-8 7-12 0-4-3-4-2-16-3-8 1-4zM1449 616l7-3 0 9-4-2zM18 636l6-3 4 3 1 4-5 5-4-1-3-4zM1429 728l27-4 0 234-11 6 2 16 6 4 1 4-3 8-27 11-11 9-9 2-8-2-12-12 8-5 15-15-3-11-12-2-7-7 0-4 17-12 0-12-6-16-12-2 1-10-5-8-11 0-2 8 1 12-12 3-24 11-8-7-19-7 11-16-3-4-11-4-2-4 4-4 21-4 1-4-1-4 5-8 0-4 10-8 4-8 12-8-2-8 5-8 5-3 28 6 4 0 3-3-3-6-6-2 2-4 4 1 6-5-2-4-4-1-12 3-6-2 0-4 4-4 0-4 2-2 20-14 12-5 28-4 7-3-23-6-6-6 2-16zM1380 836l-14 4 2 4 16 3 9-11-1-2zM0 784l0-4 12 1 20 6 6 5 24 32 16 36 1 8-7 10-16 8-8-1-28-26-20-12zM1183 832l9 0-4 10-4 3-3-1zM1328 936l0 8-4 6-4-1-3-5zM1121 960l7-2 14 6 0 4-14 12 2 12-2 7-4 4-4 0-32-7 0-4 4-8 13-8 9-12zM1080 1016l4-3 8 0 6 7 0 4-6 5-4 0-7-5zM1191 1024l9-2 2 2-6 5-3-1zM185 1032l3-1 4 5 0 4-7 8-8 4-9 1-11 7 11 8 6 16-1 4-9 7-12-3-7-8 6-12-2-8 3-8-4-13zM1134 1036l6-3 7 3-2 4-9 2-5-2zM1156 1040l28-2 5 2-9 20-8 6-20 11-8 1-8-2-6-8 2-8 18-8 7-8zM1361 1044l7-3 8 11-1 16-7 13-4-1-6-12 0-16zM297 1080l15-1 5 5-5 4-12 4-4-2-4-6zM1168 1088l8 0 5 4-5 4-13 0 0-4zM159 1100l9-3 24-1 10 8 2 4-12 5-10 11 9 12-3 6-8-1-10-5-1-4 2-4-2-4-6-4-4-8zM1058 1112l10-3 11 3-1 4-6 6-8 2-7-4zM1025 1128l7-3 6 3 2 4-2 8-6 3-9-3-3-4 1-4zM1084 1132l12-1 8 5-16 5-8-5zM1254 1152l6-1 11 5-1 8 20 24 1 4-3 4-12 5-16 1-12-4-7-6 2-16 13-12 2-4zM204 1164l12 0 12 4 6 4-1 4-13 12-8 0-8-2-3-2 6-12zM1106 1176l18-3 12 2 9 5 4 8 8 8-3 4-6 2-24 0-12 6 0 4 7 8 1 12-8 9-28 4-16 5-13-2-3-4 1-4-3-8 22-12 20-8-9-8 6-8 1-4-2-4 8-8zM265 1196l11-3 12 0 12 7 16 4 19 8 0 20 1 4 4 4 20 6 20-4 13 6 2 4-4 8 0 12-5 8 2 6 36 4 14 6 10 1 3-1 1-4-10-4-3-4 9-11 9-5 3-4-1-4-11-9-15-3-7-4 3-8-1-8 6-4 2-4 4 0 32 20 17 20 1 16-2 3-4 2-7-5-9-2-7 2 0 4 7 3 32 3 19 10 4 4 0 4-7 2-20-2-12 7-6 1 22 6 3 2 1 4-4 1-16-4-24 1-32-11-24-3-20-6-12 5 0 5 20 10 6 6-13 12-1 13-8 3-8-2-13-10-12-20 8-16-19-8-7-8-7-4-2-8-4-3-36-2-4-1-4-4-1-2 5-4 14-4 9-8 1-4-5-20-12-8-11-4-12-12zM460 1311l-1 1 9 2 8-2zM354 1196l4 0 0 4 10 4 12 12 2 4-4 4-14 5-4-1-17-16 1-4 11-8zM999 1248l21 1 5 3 1 4-2 4-8 7-16 2-9-1-8-4-7-8 0-4zM208 1268l8-3 15 3 1 8 8 4 1 4-13 6-8 0-8-7zM578 1268l2-2 8 0 7 2 2 4-17 0zM267 1280l5-1 9 5-3 4 4 8-2 2-8-1-1-5-10-8zM661 1280l7-4 12 3 11 5 13 12 14 8-2 4-12 4-20-8-18-4-8-8-1-4zM814 1280l13 0 3 4-10 2-5-2zM715 1284l5-2 8 2-4 1zM992 1284l16-2 4 2 0 4-12 5-8 1-4-6zM929 1292l11 1 10 11-3 4 2 8-5 8 16 17 36 2 40-12 24 5 12-2 4 1 3 5-15 4-9 8 0 4 9 14 16 3 16-7 8-7 16-2 13 3 3 5 0 7-8 13-28 5-24 14-20 2-16-7-28-2-8 2-16 9-8 0-12-12 1-8-3-8-10-8 2-8-3-4-11-5-26-7-3-4 2-4-1-4-24-12 4-2 21-2 0-4 3-4 11-4-8-4-19-4-6-4zM606 1300l6-1 20 4 3 1 2 4-21 1-11-5zM836 1300l16 2 3 2 1 4-7 4-4 8-9 8 1 4-9 7-4 2-12-1-2-4 10-2 11-6-7-5-28 11-7-2-5-4 23-8-17-12-3-4 5-4 20 2zM283 1304l12 4-11 2-4-2zM988 1312l8-1 14 9 3 4-9 4-12-3-4-5zM1094 1316l10-1 0 9-15 0zM289 1320l9 0 5 4-7 2-10-2zM300 1336l8 4 3 4 1 8-12 7-7 9-5 2-16 2-8-4 2-4 12-8-1-4 2-8zM651 1344l1-3 4-1 6 4-6 1zM463 1352l5-3 4 1 22 10-26 2-4-2zM810 1360l14-4 8 5 9 11 7 16 12 8 4 8-3 12-11 0-14-9-8-2-64 5-15-2-6-4 0-4 9-6 31-2 9-4 8-22zM495 1376l5-3 11 3 14 12 5 8 7 4-5 2-12-2-24-16zM887 1376l9-3 6 3 0 4-10 4-6-4zM317 1392l7-2 6 2-6 2zM921 1400l11-3 3 3-5 4-6 1-5-1zM915 1444l17-2 11 6-5 4-18 1-10-5z"/><path fill="#6f6f6f" d="M1275 4l7-4 174 0 0 19-48-1-7 2-4 4 1 4 6 8 10 24 2 20-2 16-6 12-8 9-8 5-8 1-8-3-8-8-4-8-4-24 5-28-9-12-4-12-40-13-10 1 1 12 9 16-6 16-6 3-21 1-6 4 5 16 15 8 2 8-3 12 2 4 28 8 6 4 3 8 3 4 26 12-5 8 2 4 9 8 8 12 14 4 4 4-3 12 11 8 0 12-16 12-5 28 1 16-4 4-15 4-5 3-24 1-24-10-3-2 0-8-8-8 1-4-4-12-18 0-18 8-2 4-7 4-9 1-16-3-24-1-8-3-2-2-1-8-10-12 0-4 5-8 0-4-12-13-13-7-2-8 4-8-1-2-18-6-2-4 2-4-12-12 2-9 31-15 0-4-10-8 4-8-5-6-17-2-1-8 2-3 12-3 28-28 12-3 28-1 20-11 4-3 1-12 3-4 12-12zM1220 155l-6 5 1 8-19 12 4 12 19 8-4 12 6 4 15 3 8-1 12-4 12 10 11 0 16-36-2-4-40-12-5-4 3-4-4-4-15-6zM1240 140l-2 0 3 4 7 1 19-5-11-2zM1075 40l13-3 12 2 8 5 2 8-4 4-6 1-20-1-7-4-2-4 0-4zM1361 152l15-1 1 5-5 2zM1423 260l8 0 7 4 3 8-13 11-10-3-2-4 8-8zM908 280l20-2 9 6-9 8 0 4-4 8-8 3-11 1-5-4 0-8 0-4 8-4zM1361 296l11 0 20 6 40 6 12 4 12 9 0 217-12-5-9 3 13 11 4 0 4-4 0 13-8-3-12 1-16-7-8-1-5 2 1 4 5 4-17 10-4-2-9-12-2-8-4-8 1-24-2-4-12-4-8 2-8 6-2 16-6 8-4 2-6-6-6-19-4-3-5 2-5 8-10 1-1 3-11 8-8 0-16-3-9 7 0 4 8 8-2 8 8 12 3 16-2 8 11 16 2 8 6 8-8 16 8 12-6 28-3 4-12-2-4 6 4 8-2 12-7 16-1 16 3 8-4 8-13 8-2 4 7 8-2 4-7 4-5 12 0 16 6 8-1 4-15 8-3 8-6 4-8-8 6-8-3-12 6-12-1-12-8-4-12 2-4-6 4-5 4-1 12 0 13-10 2-4-4-8-11-6-8 9-5 1-3-16 8-12 0-4-10-8-4-12-6-6-8-1-4-5-3-36 3-7 8 2 5-11-6-8 0-8-3-10-10-14-2-16-13-8 7-8 0-8 4-12-6-20 3-16 12-8 8-12 3-24 9-8 2-4 0-12-5-4 2-4 6-1 16 9 8-1 10-7-3-4-11-4-24 0-12-4-4-4 4-5 14-3-4-4 6-3 36-1 4-1 7-7-4-12 9-15 20 11 4 1 4-2 4-3 5-12-12-8-2-4 5-8 12-9 20-5 8-7 8 0 4 5-4 12 19 12 17 8 10 40 0 8 20 16-3 20 5 5 13 3 11 10 4 1 7-3 4-12-9-8-8-12 0-16 2-16 4-4 4-2 14 2 1-4-4-16-7-12 1-4 9-8-1-4-9-14-19-2 0-4 7-8 0-4-20-11-12 0-12 5-8 1-5-3 4-4 1-4zM1212 559l-2 5 1 8 5 4 1-8 3-4-2-4zM1220 454l-4 2-1 4 9 4 8-3-4-5zM1244 478l-8 5-2 5 2 8 12 5 12-3 3-6 0-8-11-6zM1260 439l-4 1 4 5 5-1 3-4zM1276 479l-1 5 3 4 6 3 20-5 12 2 6-4-38-7zM1304 388l-10 4 14 5 11-1 2-4zM1336 464l-5 4 1 2 12-1 4-5-8-2zM1420 520l4 3 8-1 8 3 4 0 5-5-9-4zM1232 556l-4 4 8 32 8 10 8 2 7-8 0-4-3-4-2-16-14-16zM1296 512l-1 4 5 4 3-4zM1316 416l-13 12 7 4 14 3 4-3 2-4-2-6-4-5zM1256 634l-3 2 7 3 4 0 3-3-7-3zM1141 304l36 4 11 5 8 10 23 1 5 6 12 3 3 3 2 8 4 28-24-20-2-4 2-8-4-8-25-3-28 7-28 1-24-4-14-9 1-8 9-6 16-4zM734 308l14-2 21 2-29 3zM1310 312l6-3 10 3-6 3zM1271 316l13-1 4 5-14 0zM1138 388l10-3 24 7 5 4-4 4-1 8-12 2-18-2-8-4-2-4zM1204 388l16 4-1 4-11 0-13-4zM1071 396l13-2 8 2 9 8-4 8 15 21 12 6 12-4 11 9-7 3-16-6-5 7 0 8-7 2-7-2-12-8-13-4-10-8-7-16-1-8-7-8 4-4zM804 444l20-3 12 3 13 12 14 8 1 4-6 4-2 4 3 4-12 4-23 0-40-10-3-2 0-8 7-5 12 0 5-3 1-4-3-4zM494 468l6-4 5 8 0 8-5 10-4-2-2-4-2-8zM913 476l11-1 20 19 18 34 18 16-2 8 38 59 60 43 2-2-11-24 0-8-6-8 2-8-29-28-14-10-2 2 9 12-3 4-10-4-10-16 0-5 12 6 2-1-12-16-8-32 9-16 9-10 8-4 4 1 22 13 32 40 28 44 6 4 24 5 4 3 7 28 1 32 3 20-1 12-6 12-2 16-4 8 36 36 4 12-28 84 10 7 12-1 20 5 16-7-3-8 7-8 4 5 2 7-5 4 1 12-14 14-2-6-6-5-21 5 3 12-1 12-6 8-15 12-2 4 6 4 8 1 4 7-1 4-19 7-12 0-4-3-2-8 10-12-3-8-5-3-10 23-34 28-15 40-55 60-26 34-76 45-44 22-24 6-59 5 5 12-1 4-25 10-32 1-24-1-4-4 0-3 19-11 1-4-6-8-22-5-28 0-156-36-80-40-93-59-8-8-17-28-19-40-1-12 22-36 4-16 2-20 6-17 4-4 24-9 17-10 15-1 28-7 4-4-2-8-10-11-8-2-28 2-24 6-17 1-15 6-16 18-16 9-24 10-24 1-56-1-7-7-9-17-44-17-8-6-2-4 4-8 19-16 4-8-5-16-31-72-12-52 0-16 4-28 4-16 7-7 112-1 35-12 13-14 8-4 8 4 18 18 5 12-9 24-5 8-17 7-20 3-7 6-1 16 2 8-2 16 19 44 20 72 21 22 8 3 32-19 32-9 28-1 4-3-2-21 18-44 12-40 2-40 9-24 16-28 49-40 68-23 93-13-4-8 7-5 12 2 4 3 4 8 16-4 40 0 16-3 24 0 44 23 8 1 36-16zM1072 619l8 10 1-1-5-10zM1084 629l-2 7 4 16-1 8 17 16 34 41 2-9-4-24-29-28zM1140 895l-4 14 4 0 4-5-2-4 4-4-2-3zM1156 871l-8 2-3 7-1 8 4 5 19-13-3-7-4-3zM380 851l-4 5 1 4 7 3 16-2 3-5-7-5zM384 940l-7 8-2 12 5 8 8 2 10-6 4-12-6-11-4-2zM478 508l6-3 3 3 0 8-3 3-4 0-2-3zM1282 544l6-2 7 2 3 8-2 3-4 0zM1308 548l8 0 3 4-3 4-4 0-6-4zM1450 600l6-2 0 8-9-2zM1396 608l4-3 4 0 22 7-2 4-10 8-1 16 15 1 28-7 0 48-20-3-32 0-11-3 0-8-4-8 8-12 0-4-3-4-2-16-4-8 2-4zM18 636l6-3 4 3 1 4-5 5-4-1-3-4zM1431 728l25-3 0 233-13 6 2 16 5 4 2 4-4 8-24 10-13 10-7 0-3 0-7-12 6-12 9-8-2-8-2-4-13-2-6-6 0-4 18-12-1-12-4-16-3-3-5-1-9-16-6-2-8 2-2 12-5 8-21 10-8 1-12-7-12-4 9-16-2-4-11-4-3-4 6-4 19-4 1-8 5-8 0-4 9-8 4-8 14-8-3-8 8-10 27 6-1 4-18 4-9 4 3 4 18 6 8-9 3-5 1-8 4-4-5-8 8-8-3-5-16 0-4-3 4-4 0-5 22-15 14-6 32-2 2-4-26-7-4-5 1-16zM1388 852l-3 4 8 0zM0 784l0-3 12 0 16 4 9 7 24 32 8 16 10 24-2 8-5 5-16 8-8-1-28-26-20-11zM1188 832l1 4-1 2-4 0 0-3zM1124 960l12 1 5 3 0 4-14 12 3 12-2 6-8 5-30-7-1-4 5-8 12-8 10-13zM1081 1016l3-2 8-1 6 7-1 4-5 5-4 0-7-5zM1135 1036l5-2 5 2-5 4-4 1-2-1zM1173 1040l11-2 4 2-4 12-9 12-15 9-12 4-8 0-7-5-2-4 2-8 18-8 13-11zM1362 1044l6-2 7 10 0 16-7 13-4-1-5-12-1-16zM159 1072l5-2 4 5 4 9-4 6-4 1-12-2-4-4 0-5zM304 1080l8 1 3 3-7 4-10 0-3-4zM1164 1092l8-4 7 4-4 4-7 0zM165 1100l27-2 5 2 5 8-14 5-8 11-8-1-9-7-1-4 4-4zM1059 1112l5-3 8 1 5 2 0 4-5 6-8 2-7-4zM176 1128l4-2 9 10-1 2-8 1-8-3-1-4zM1025 1128l7-3 6 3 2 4-2 8-6 3-9-3-2-4zM1087 1132l9 1 6 3-14 4-6-4zM1258 1156l2-3 8 3-1 4 1 4 21 24 1 4-3 4-11 5-16 0-12-3-7-6 3-16 17-16zM207 1168l1-3 4-1 12 3 8 5-1 4-11 10-12 0-4-2 4-12zM1108 1176l16-3 13 3 7 4 2 8 9 8-3 4-4 1-24 1-14 6 8 12 1 12-7 7-44 10-11-1-3-4 1-4-3-8 24-14 19-6-10-8 9-12-2-4 1-4 4-4zM266 1196l10-2 12 0 10 6 18 4 17 8 2 24 3 4 22 6 20-2 12 5 2 3-4 8-1 12-5 8 0 5 4 5 28 1 20 5 16 1 4-1-1-4-12-8 3-8 14-9 1-3-1-4-12-10-20-6 3-8-1-8 10-7 32 20 16 19 0 16-4 1-20-5-5 4-1 4 2 3 16 3 12 6 12-4 22 12-2 3-4 1-24 0-12 7-20-1-6 2 6 4 20 4-16 2-36-12-24-3-15-7-1-5-4 0-17 13-3 4 20 7 10 5 3 4-13 12-1 12-7 3-8-2-12-10-12-19 4-9 9-7-6-4-17-4-7-8-7-4-3-8-5-4-36-3-7-5 15-6 12-10 1-4-5-20-12-9-12-4-10-11 2-4zM663 1200l5-4 16 7 24 3 4 2 5 12-1 4-12 4-8-2-16-16zM350 1204l6-3 8 2 15 13 2 4-9 7-12 0-15-15 0-4zM979 1252l33-4 12 4 0 4-8 8-12 4-8 0-9-4-9-8zM210 1268l6-2 12 2 2 8 8 4 1 4-15 6-8-4-4-6zM580 1268l12 0 3 4-12 0zM663 1280l9-3 12 4 15 11 3 4 14 8-8 6-8 0-16-7-16-3-9-8-1-4zM263 1284l9-3 7 3-7 6zM995 1284l13-1 2 5-10 4-8 0-2-4zM904 1296l32-3 7 3 1 8-8 3-27-7zM608 1304l4-2 20 2 1 4-15 0zM789 1304l7-3 44 0 12 3 2 4-7 4-3 8-8 4-12-5-20-2-8-5zM923 1312l9-3 12 0 3 3 0 4-6 8 14 16 9 3 32 1 40-11 24 6 12-1 2 2-10 1-10 11 0 4 7 12 11 6 12 1 20-15 8-2 19 2 5 8-9 16-27 5-12 9-12 5-20 1-12-5-28-3-12 2-16 8-8 1-10-11 0-8-3-8-10-8 2-8-3-4-24-10-12-2-3-4 2-4-1-4-23-12 26-4-1-4zM484 1316l15 4-3 2-14-2zM991 1316l1-2 4 0 13 6 3 4-8 3-8-1-4-2-2-4zM288 1324l4-3 9 3zM798 1324l10-2 5 2-5 4-12 4-9-4zM291 1340l9-2 4 1 5 5 1 8-14 8-8 9-20 0-2-1 2-4 12-8-2-4 3-8zM466 1352l9 0 11 8-14 2-7-2-1-4zM815 1360l13 0 12 12 6 16 12 8 2 4 2 4-2 6-4 3-8-1-20-8-64 5-13-1-7-4-1-4 9-5 32-3 8-3 8-21 4-4zM498 1376l6-1 5 1 14 12 10 12-9 0-22-12-5-4zM887 1376l9-3 6 3 0 4-10 4-5-4zM920 1444l12 0 8 4-8 4-8 0-8-4z"/><path fill="#717171" d="M1278 4l8-4 170 0 0 18-48-1-8 3-4 4 0 4 7 8 10 24 2 20-1 12-6 14-8 9-8 5-8 1-8-3-10-14-5-24 6-28-10-12-3-12-29-8-13-6-14 2 3 4 1 8 9 16-6 16-5 3-23 1-4 4 3 16 15 8 1 3 1 5-2 12 1 4 28 8 7 4 6 12 18 8 3 4-6 8 2 4 13 8 9 12 18 8-2 12 11 8-1 12-15 12-6 36 1 8-5 4-21 6-12 1-8-1-20-7-6-3 2-8-8-8 0-4-3-12-5-1-19 1-18 8-1 4-10 4-48-5-5-3-1-8-10-12-1-4 7-8-1-4-11-12-14-8-1-8 4-8-3-4-16-4-2-4 1-4-13-12 2-8 12-8 21-8 0-4-10-8 4-8-3-4-4-5-12 0-3-3 0-4 11-2 4-3 16-16 2-7 6-5 16-4 24 1 20-12 5-4 1-12 3-4 11-11zM1216 156l-3 4 1 8-19 12 3 12 19 8-3 12 5 4 13 3 24 1 16 5 9-1 3-12 13-24-2-4-22-8-18-4-5-4 3-4-5-4-16-7-8 0zM1232 140l12 6 14-2 12-4-14-3zM1077 40l11-3 12 2 6 5 2 8-8 4-20-1-6-3-2-4 0-4zM1427 264l1-2 7 2 4 8-11 9-7-1-3-4 9-8zM911 280l13 0 7 4-5 8 1 4-3 6-4 3-12 2-6-3-1-8 3-4 10-4zM1371 300l10 0-5 3zM1368 304l4 0 3 4-7 2-7-2zM1402 304l22 4-12 4-8-4zM736 308l20 0-12 2zM1117 308l27-3 24 2 16 5 5 4 3 8 20-1 4 1 4 4-4 3-28-2-32 8-32-2-16-5-8-6-1-4 2-4zM1428 312l4-2 8 1 16 11 0 215-16-6-8 3-1 2 15 12-2 4-28-8-8 0-3 4 4 8-3 4-10 4-4-1-9-11-1-8-4-8 0-28-14-4-8 1-8 7-2 16-6 7-4 2-6-5-6-20-4-3-6 3-1 4-5 4-7-8-5-1-2 5 4 4-1 4-9 7-8 1-16-4-10 8 0 4 9 8-3 8 8 12 3 16-2 8 12 16 2 8 5 8-7 16 7 12-6 28-2 3-12-2-4 5 3 10-1 8-6 16-3 20 3 8-4 8-13 8-2 4 7 8-11 12-3 8 0 16 6 7 0 3-17 10-7 9-6-5 5-8-3-12 6-12-2-12-8-6-12 4-3-6 3-5 4-1 12 1 14-11 1-4-3-8-8-7-4 0-12 10-3-15 1-4 7-8 0-4-10-8-5-12-6-7-8-1-4-4 1-12-4-24 3-6 9 2 5-12-6-8-4-20-9-12-2-16-11-8 7-8-2-8 3-16-5-16 3-16 12-8 9-12 0-20 13-16 0-12-5-4 3-4 4 0 16 8 8-1 11-7-3-4-12-4-24-1-10-3-4-4 6-5 16-1 1-2-5-4 4-1 36-3 8-8-4-12 8-11 24 9 4-1 6-5 1-8 3-4-11-8-2-4 5-8 10-8 22-4 6-7 5-1 5 4-5 8 1 4 37 20 10 40 0 8 17 12 3 4-3 20 6 5 12 6 8 7 12 1 7-3 1-12-9-8-9-12 0-16 3-16 3-3 4-3 12 4 5-2-5-20-7-12 1-4 9-8-1-4-10-16-12-1-4-3 8-9 6-3zM1212 558l-4 6 2 8 2 5 4 1 3-2 0-8 4-4 1-4zM1216 454l-2 6 7 4 11 0 2-4-10-6zM1240 480l-5 4-2 8 7 7 12 2 10-5 3-8 0-4-13-7zM1256 439l-2 1 1 4 5 2 8-2 2-4-6-2zM1276 478l-2 6 3 4 7 3 20-5 15 2 5-4-40-8zM1300 387l-10 5 14 7 28-3-6-4-18-5zM1436 516l-32 4 4 6 12-2 20 2 7-2 3-4-6-4zM1228 556l-4 4 10 24 1 8 9 11 8 3 8-10 0-4-3-4-2-16-14-16zM1312 416l-12 12 20 7 8-1 3-6-2-8 1-4-14-3zM1336 462l-7 6 2 4 5 0 8-2 7-6-7-3zM1256 632l-4 4 8 4 5 0 3-4-8-4zM1225 332l7 1 6 3 4 20-2 9-13-9-7-7 1-13zM1140 388l8-3 8 1 19 10-5 12-10 2-16-2-9-4-2-4zM1197 392l11-3 10 3-2 4-4 0zM1073 396l15 0 11 8-3 8 7 8 1 4 8 10 12 6-6 8 0 8-10 1-14-9-13-4-9-8-8-16-1-8-7-8 5-4zM1125 440l11-3 9 7-5 2zM806 444l18-2 12 2 12 12 14 8 1 4-7 5 2 7-14 4-16 0-44-10-2-2 0-8 6-5 12 0 5-3 2-4-3-4zM495 468l5-3 4 7 1 8-5 9-4-1-3-8zM915 476l5-1 8 3 17 18 16 32 18 16-2 8 39 60 60 43 5 1-13-28 0-8-7-8 3-8-28-27-20-15-11-18-7-28 10-16 8-9 8-4 4 1 21 12 32 40 28 44 5 4 26 6 4 3 7 31 0 28 4 20-1 8-7 16-2 16-4 8 36 36 5 12-29 84 11 8 12-1 18 5-1 4-5 4-16 3-4-1-8-9-8 2-4-2-8 22-4 20 6-3 9-16 17-11 8 7 1 12-3 8-10 10-16 8-12-11-6 17-5 8-34 28-10 32-4 8-56 60-25 33-76 46-44 21-28 7-20 0-16 4-20 1 0 4 4 8-3 4-21 10-28 1-24-1-8-6 4-4 12-4 5-4 2-4-7-8-24-5-28-1-156-36-80-40-92-58-8-8-17-28-20-40 0-12 21-35 5-17 2-20 5-16 8-6 20-7 20-11 12 0 29-8 3-4-1-8-11-11-8-2-28 2-43 7-13 5-16 18-16 9-24 10-24 2-56-2-7-6-9-18-44-17-8-6 0-7 3-4 19-16 4-8-6-18-30-70-12-52-1-16 5-28 4-16 6-6 116-2 32-12 12-13 8-4 8 3 17 18 5 12-9 24-5 8-16 6-16 2-9 4-3 4-1 40 2 8 17 36 21 72 21 23 8 3 32-20 32-8 32-3 2-3-4-20 19-44 12-40 1-40 9-24 16-28 49-39 68-23 95-14-3-1-3-7 7-4 8 0 8 4 1 4-5 4 4 1 20-4 40 0 16-4 24 1 42 22 10 2 36-17zM1072 614l-2 6 11 12 4 20-2 8 19 16 34 42 2-10-4-24-28-28zM376 852l-2 4 1 4 9 4 16-2 4-2 1-4-5-5-8-2zM384 938l-8 10-2 12 6 10 8 1 8-3 4-4 3-12-2-8-5-5-4-2zM478 508l6-3 2 3 1 8-3 3-6-3zM1283 544l9-1 3 5-3 2-4-1zM1453 548l3-3 0 10-7-3zM1003 560l17 10 6 10-2 3-12-5zM1452 600l4-1 0 6-6-1zM1397 608l7-2 20 6-1 4-12 8 1 18 16 0 28-6 0 45-20-3-32 1-10-3 0-8-4-8 9-16-4-4-2-16-4-8 1-4zM18 636l6-3 3 3 1 4-4 4-4-1-3-3zM1433 728l23-3 0 39-27-8-3-4 0-16zM1416 772l40-4 0 189-14 7 1 16 6 8-1 5-28 13-8 7-2-1-10-16 10-12-3-12-15-3-5-5 0-4 20-12-7-32-8-3 0-5-8-8-12-3-6 3-2 12-6 8-18 9-8 1-12-8-10-2 8-16-1-4-12-4-3-4 6-4 12-1 8-3 5-20 10-8 3-8 14-7 16 7 5 4 1 4 6 2 8-2-7-8 8-12 1-8 4-4-5-8 7-8-4-6-16-2 3-4-1-4 21-16zM0 784l0-3 12 1 16 4 8 6 24 32 9 16 9 24-2 8-4 4-16 8-8 0-28-26-20-12zM1363 824l24 4-3 4-24 6-2-6zM1212 852l4-2 4 6-4 3-4-3zM1206 864l6-3 4 1 2 6-2 5-12 9-7-10 0-4zM1143 932l9-2 16 5 3 5-1 4-14 5-16 1-4-4-1-6zM1116 964l12-4 11 4 1 4-13 12 3 12-2 5-8 6-28-7-2-4 5-8 12-8zM1081 1016l7-3 4 1 5 6 0 4-5 4-8-1-4-7zM1177 1040l10 0 0 4-7 14-6 6-26 13-8 0-6-5-2-4 2-8 19-8 11-9zM1363 1044l5-1 7 9 0 16-7 12-4-1-2-3-4-12 1-12zM299 1084l13 0-8 2zM1166 1092l6-2 5 2-5 3-4 0zM172 1100l20-1 8 9-12 3-8 10-8 0-6-5 2-5 8-3-4 0-3-4zM1059 1112l5-3 8 1 4 2 0 4-4 6-8 2-7-4 0-4zM1025 1128l7-2 5 2 2 8-2 4-5 2-8-2-3-4zM176 1132l7 0 2 4-9 0zM1084 1136l8-3 8 3-12 3zM209 1168l7-2 8 2 6 4-1 4-9 8-12 1 2-13zM1254 1168l6-4 8 2 20 22 1 4-3 4-10 4-12 1-18-5-4-4 3-16zM1111 1176l13-2 12 3 6 3 1 8 11 8-6 5-24 0-16 7 1 4 8 8 1 12-6 6-44 11-10-1-3-4-1-12 22-13 23-7-12-8 10-12-2-8 4-4zM268 1196l12-2 8 1 7 5 19 4 17 8 2 24 4 4 23 7 20-2 12 5 2 2-4 8-2 10-4 2-2 20-14 8-4 5-4 0-24-5-15-12-3-8-6-6-36-2-5-4 17-7 9-9 1-4-5-20-13-10-12-4-8-10 1-4zM666 1200l6-1 12 5 25 4 5 12-1 4-9 3-8-2-16-17zM351 1204l5-2 8 2 14 12 2 4-8 6-8 1-4-1-13-14-1-4zM438 1224l2-1 4 1 28 18 15 18-1 12-2 3-20-4-3-3 1-4-1-4-9-8-21-8 4-4-4-8 1-3zM983 1252l29-3 10 3 0 4-6 6-12 4-8 0-16-10zM213 1268l12 0 4 8 7 4 1 4-13 4-8-3-3-5zM448 1276l4-2 4 2-4 7-4-2zM664 1280l8-2 12 4 14 10 2 4 13 8-5 4-8 1-16-7-16-3-8-7-1-4zM266 1284l6-2 5 2-5 3zM999 1284l7 0 2 4-12 4-5-4zM459 1288l13 0 6 4-14 3-4-2zM398 1292l18-1 32 8 56-6 11 3 5 4-8 3-20-1-16 8-20-2-8 6-4 0-44-10-6-4 0-4zM910 1296l26-2 5 2 0 4-5 3-8 0-14-3zM791 1304l49-2 9 2 2 4-7 4-3 8-5 2-12-5-20-2-8-5zM926 1312l10-3 9 3 1 4-8 8 15 16 7 4 32 1 40-11 16 2 11 8-6 8 0 4 7 13 8 5 28 8 8 0 5-2-17-5-3-3 18-12 9-2 12 2 7 8-3 7-8 8-24 4-10 9-14 6-20 1-12-6-24-5 10-4-14-1-8 1-2 8-10 6-8 3-8 1-9-10 0-8-3-8-10-8 2-8-3-4-21-10-16-4 0-10-13-8 5-4 13-4-3-4zM349 1316l3-3 8 0 33 11 3 4-12 12 0 8-2 4-6 2-7-2-13-10-11-18zM991 1320l5-3 4 0 7 3 3 4-10 2-6-2zM295 1340l9 1 4 7-1 4-16 8-5 8-14-2-1-2 12-8-4-4 4-8zM467 1356l1-2 4-1 10 7-14 0zM806 1364l14-3 8 1 4 3 7 7 5 16 13 8 4 8-2 4-3 2-8 0-20-8-60 7-16-1-7-4-1-4 8-5 32-2 8-3 2-2 7-20zM503 1376l5 1 9 7 3 4 0 4 5 4-5 0-21-12-1-4zM887 1376l9-3 5 3 0 4-9 3-5-3zM922 1448l6-2 8 2z"/><path fill="#747474" d="M1281 4l9-4 166 0 0 17-48 0-8 2-6 5 17 36 3 20-2 12-5 12-7 9-8 5-8 0-8-3-10-15-4-24 6-24-10-12-2-12-38-12-5-4-1-5-18 9 5 4 2 8 10 16-7 16-8 3-20 1-4 4 3 16 13 8 3 4 0 20 28 8 6 4 7 12 17 8 2 4-10 8 0 4 15 6 16 16 17 6-3 12 12 8 0 8-1 4-15 12-5 32-3 4 1 8-6 4-29 6-28-8-4-2 2-8-9-8 1-4-3-12-3-1-26 1-19 8 1 4-12 4-44-6-4-2-1-8-10-12-1-4 7-8-1-4-10-12-14-8-1-8 3-8-4-5-16-5 0-6-11-8-2-4 2-8 15-9 16-4 19 1-11-2-15-14 4-8-5-8-5-4 6-12 13-12 2-9 12-6 36-1 20-13 3-15 11-12 17-8zM1228 139l-3 1 19 7 29-7-17-3zM1216 155l-5 5 2 8-19 12 3 12 19 8-3 12 4 4 19 5 36 5 12-2 1-12 14-24-1-4-22-9-19-3-6-4 4-4-5-4-14-6-8-2zM1078 40l10-2 12 2 5 4 1 8-9 4-17-1-8-7 1-4zM1423 272l9-3 5 3-9 7-4 0-4-3zM908 292l12-3 6 7-6 8-12 2-5-2 0-4 1-6zM1121 308l23-3 24 3 19 8 2 8 3 4 16-4 5 0 5 4-6 2-24-2-20 6-16 2-28-2-18-6-5-8 8-8zM1434 312l6 1 16 9 0 214-16-7-8-1 12-1 7-7-11-8-10 4-31 4 7 8 18 0 4 8 12 7 2 5-10 0-20-9-8 0 0 9 3 8-7 6-8 0-8-10-1-8-4-8 1-28-16-5-12 3-4 5-3 17-5 7-4 2-5-5-6-20-5-4-8 4-4 5-5-5-7-2-4 6 4 4 0 4-8 7-8 0-16-4-11 9 0 4 9 8-3 8 9 15 2 17-2 4 12 16 2 8 5 8-7 16 8 12-6 28-6 1-4-2-8 5 1 20-6 16-2 20 2 8-3 7-14 9-2 4 6 8-9 12-4 12 0 12 7 8-2 4-17 8-5 6-4-2 4-8-3-12 5-12-1-12-9-7-12 4-2-5 2-4 4-1 8 2 4-1 15-12 1-4-3-8-9-8-4 0-8 7-4-4-1-11 7-8-1-4-9-8-12-20-8-1-4-6 2-9-4-24 2-5 8 3 3-2 3-12-5-8-4-20-9-12-2-16-9-8 5-8-2-8 3-12-6-20 4-16 13-8 8-12 0-20 1-4 11-8 2-4 0-12-5-4 1-2 4 0 21 10-4 8 7 4 14 0 1-4-7-6-8-2-1-4 13-8-2-4-18-6-20 0-8-2-4-4 4-3 12 1 8-2 1-4-3-4 34-4 9-8-4-12 7-9 4-1 24 11 2-5 6-4 0-8 4-4-12-8 0-4 4-8 12-8 16-1 8 2 8 6 34 17 4 12 5 36 18 12 3 4-3 20 26 20 16 0 7-4-1-12-18-20-1-16 3-16 3-3 8-1 12 4 2-4-5-20-7-12 1-4 9-8-8-20-17-4 5-7zM1180 686l-1 2 5 6 0-10zM1228 554l-8 4-8-1-3 3-1 12 4 6 4 2 5-4-1-5 4-5 9 18 4 12 9 8 5 12 5 1 0-4-4-5 9-12 1-4-4-4-1-12-14-20zM1240 479l-4 2-4 7 0 4 4 5 12 5 8-1 7-5 4-8-1-4-14-7zM1252 440l4 6 8 1 6-3 1-4-11-3zM1280 476l-7 4-1 4 3 4 9 4 20-5 16 1 5-4-13-5-12 1zM1296 387l-11 5 15 10 37-6-7-4-22-7zM1256 631l-4 2-1 3 7 4 9 0 2-4-9-5zM1288 406l-1 6 8 0 5-3 10 7-6 7-11 5 31 9 7-5 1-14 16-4 2-2-14-5-12 5-20-7zM1340 460l-10 4-3 4 0 4 9 2 14-6 4-4-4-4zM1222 336l6-3 8 3 4 24-4 1-13-9-2-4zM1141 388l7-2 8 1 18 9-7 12-18 0-12-4-2-4 2-8zM1201 392l7-2 7 2-3 2zM1062 400l10-3 12 0 13 7-2 8 15 20 11 8-4 8 0 8-9 0-32-16-11-20-1-8-7-8zM1131 440l5-1 6 5zM808 444l20-2 12 6 8 9 13 7 1 4-7 4-1 4 3 4-13 3-16 0-28-7-12-1-6-3-1-4 3-7 4-2 12 0 6-3 2-4-3-4zM495 468l5-3 4 7 1 8-5 9-4-2-3-7zM916 476l4-1 8 4 16 17 17 32 17 16-1 8 38 60 77 55 44 51 3-10-3-12-1-12-28-28-35-44-4 8-6-8 2-8-28-28-17-12-10-12-10-32 1-8 8-12 8-8 8-4 8 2 16 10 32 40 28 44 4 4 28 6 4 4 6 30 1 28 3 20 0 8-8 20-1 12-4 8 35 36 5 12-29 85 12 9 14-2 11 4 1 4-5 4-13 2-8-8-4-2-8 1-4-4-13 43 0 8-8 20-35 30-16 42-56 60-20 28-8 8-24 14-48 28-44 22-28 6-56 5-2 1 3 12-1 2-20 11-32 2-20-2-7-5 4-4 18-8 3-4-8-8-22-5-32-1-156-37-80-40-92-58-8-7-10-16-24-48-4-12 22-37 5-19 2-20 6-16 7-6 20-6 20-11 12 0 31-9 2-4-1-8-12-12-8-2-28 2-44 8-12 4-16 19-16 9-24 10-24 1-56-2-6-5-10-19-44-16-8-8 4-9 19-16 3-8-6-19-30-69-12-52 0-16 4-28 4-16 6-5 116-2 32-12 12-14 8-4 8 4 17 17 5 8 0 4-9 24-5 7-16 7-18 2-10 6-1 42 2 8 17 36 20 72 22 24 8 2 32-19 32-8 32-3 2-4-3-12 0-8 18-44 12-40 2-40 9-24 16-28 48-38 68-24 96-14-4-1-2-7 10-5 11 5 2 4-6 4 5 1 20-4 40 0 16-4 24 1 41 22 11 2 36-16zM384 848l-11 4-1 4 2 4 6 4 8 1 10-1 7-4 1-4-6-6zM388 936l-11 8-4 12 3 12 8 5 8-1 6-4 6-12 0-8-4-7-7-5zM479 508l5-2 2 2 1 4-3 7-6-3zM1005 564l3-2 12 9 5 9-1 2-8-2-4-3zM1399 608l5-1 18 5-1 4-11 8 0 20 46-6 0 43-20-3-32 0-9-2-1-8-3-8 9-13 5-3-9-4-2-16-4-8 1-4zM1070 624l2-2 8 10 5 20-1 6-4-4-12-26zM18 636l6-2 3 2 1 4-4 4-4-1-2-3zM1437 728l19-2 0 37-23-7-5-4-1-16 5-7zM1418 772l38-2 0 176-2 2 2 2 0 7-15 7 0 16 5 8 0 4-26 13-4-1-9-12 5-8-3-12-16-4-5-4 1-4 5-4 18-8 2-4-7-4-7-28-14-12-14-4-7 4-3 12-7 8-15 8-8 0-8-6-10-2 6-16-2-4-11-4-4-4 26-8 6-20 9-8 4-8 4-3 8-2 16 7 4 6 4 2 16-2-8-8 3-8 4-4 1-8 3-4-4-8 7-8-1-4-5-3-8-2-3-7 20-16zM0 784l0-2 12 0 16 5 8 5 24 32 8 16 9 24-1 7-4 4-16 9-8-1-28-26-20-12zM1362 828l2-3 4 0 15 3-2 4-17 4-4-4zM1209 864l3-2 4 3 0 7-8 7-4-1-5-6 1-4zM1167 884l5 1 4 7 0 8-3 8-9 9-8 5-12 0-7-6 0-4 6-4 10-16zM1139 936l13-4 16 5 1 7-9 4-16 2-4-2-4-4 0-4zM1117 964l11-3 10 3 1 4-13 12 3 12-1 5-8 5-26-6-3-4 5-8 11-8zM1082 1016l6-3 4 1 5 6-1 4-4 4-8-2-3-6zM1180 1040l5 0 1 4-6 13-7 7-25 13-8 0-6-5-1-4 3-8 18-8 10-7zM1364 1044l4-1 7 9-1 16-6 12-6-4-3-12 0-12zM1060 1112l8-2 7 2 1 4-4 5-8 3-6-4-1-4zM1026 1128l6-2 5 2 2 8-3 4-4 2-8-3-2-3 0-4zM1086 1136l6-2 6 2-6 2zM212 1168l9 0 7 4-1 4-10 8-6 0-1-4zM1255 1168l9-3 5 3 18 20 1 4-3 4-9 4-12 1-17-5-4-4 3-16zM1114 1176l14-1 12 5 0 8 12 8-4 4-24 1-19 7 0 4 7 3 5 5 0 12-5 5-42 11-10 0-3-4-1-12 20-12 27-8-14-8 10-12-2-8 3-4zM270 1196l18 0 5 4 19 4 17 8 2 8 1 16 4 4 24 8 24-1 8 4-4 15-8 6-1 20-19 10-20-2-18-12-3-8-7-7-28-1-8-2-2-2 14-6 10-10 1-4-5-20-14-11-12-5-7-8 1-4zM353 1204l11 1 13 11 2 4-11 6-8-2-12-12-1-4zM682 1208l2-2 8 0 14 2 3 4 1 12-6 2-7-2zM440 1224l32 19 14 17-2 13-20-4-2-9-9-8-17-8 14-4-10-3-6-5zM987 1252l25-1 7 1 2 4-9 6-16 3-13-9zM215 1272l5-3 4 2 2 5 8 4 1 4-11 3-7-3-3-4zM667 1280l8 0 11 4 12 12 13 8-11 4-32-11-6-5-1-4zM994 1288l6-2 6 2-6 2zM407 1292l45 8 36-2 16-4 9 2 5 4-6 2-20-1-16 8-20-3-12 6-4 0-20-6-16-2-7-4 3-6zM915 1296l17-2 6 2-2 4-8 1-9-1zM794 1304l42-1 7 1 5 4-8 4 0 4-4 4-8-5-24-2-8-5zM929 1312l13 0 2 4-9 8 17 18 5 2 35 2 40-11 12 1 12 8-4 12 8 14 12 8 24 6 0 4-12 10-20 5-33-11 7-4-2-1-24-1-8 2-1 8-7 5-8 3-8 0-8-8 0-8-2-8-11-8 2-8-2-4-23-12-14-4 1-8-13-8 22-8-7-4zM350 1316l10-2 32 11 3 3-13 12 1 8-3 4-4 1-8-2-12-10-10-17zM994 1320l10 0 4 4-12 0zM285 1344l15-3 6 7-1 4-17 6-6-6zM1110 1360l14 0 8 4 2 4-6 10-12 6-8 0 5-4-21-8zM809 1364l15-1 14 9 3 8 1 8 14 9 3 7-3 4-8 0-20-7-60 8-13-1-9-4-1-4 7-5 32-2 8-2 4-3 7-20zM888 1376l8-2 5 2 0 4-9 3-5-3zM501 1380l3-2 4 1 9 9-5 1-6-1-6-4z"/><path fill="#767676" d="M1284 4l10-4 16 0-1 4-19 12 7 4 13 24-6 15-8 3-20 2-5 4 4 16 11 8 5 8-1 16 30 9 7 7 4 8 16 8 1 4-13 8 2 4 19 8 15 16 16 4-2 12 12 8-2 12-14 12-5 32-5 4 1 8-24 8-16 0-23-8 3-8-9-8 1-4-4-12-4-1-28 1-20 8 2 4-10 3-36-3-8-2-3-2-1-8-10-12-1-4 7-8-1-8-11-9-13-7-1-8 3-8-2-4-15-5-3-3 0-4-11-8-2-4 2-8 14-8 12-3 12 2 16-3-16-6-13-10 5-8-9-12 0-4 8-12 9-8 0-8 12-7 32 1 7-2 5-5 12-7 3-4 0-12 12-12 9-5 11-3zM1204 128l-3 4 17 4 1 4 21 7 24-3 13-4-17-4-28 1-8-2-3-3 1-4-2-1zM1224 152l-8 3-6 5 1 8-19 12 3 12 19 8-2 13 8 4 28 7 28 3 9-3 1-12 15-24 0-4-21-9-20-3-7-4 5-4-6-4-20-9zM1315 0l59 0 6 3 8-3 68 0 0 17-48-1-8 2-7 6 17 36 3 24-3 12-7 12-11 8-8 0-12-8-6-12-2-20 6-24-12-12 0-12-38-12-4-4 4-8zM1080 40l8-2 11 2 5 4 0 8-8 3-16-1-6-6 0-4zM1428 272l4 0-4 5-4-1zM916 292l8 3-1 5-7 5-10-1-1-8zM1124 308l20-2 20 2 15 4 8 8-4 8-15 5-16 2-32-2-12-5-4-4-1-4 2-4zM1432 316l8-2 16 9 0 212-12-7 9-8-11-8 1-4-3-2-4-1-3 3 2 4-7 3-24 2-8 2-2 1 6 8 24 3 2 5 12 8-2 2-8 0-6-2-10-8-8-2-4 2 5 20-5 5-8 0-7-9-1-8-4-8 0-15 4-13-24-6-8 3-4 5-2 14-6 10-4 2-5-4-6-20-5-4-12 6-12-5-4 3 0 4 3 4 0 4-7 6-8 1-16-4-8 4-5 5 1 4 9 8-3 8 8 12 3 20-3 4 13 16 2 8 6 8-8 16 9 12-7 28-6 0-3-4-4 1-5 7 2 20-7 20-2 16 2 8-2 6-15 10-2 4 6 8-9 12-4 12 0 12 6 8-1 4-17 7-6-15 5-12-1-12-6-7-8 0-8 3-1-4 5-4 8 4 4-2 15-14 2-4-3-8-9-8-1-5-12 9-4-3 0-9 7-8-1-4-10-9-12-19 2-12-2-5-5 1-1 4 4 8-6 2-3-6 2-8-4-8-1-16 2-3 8 2 4-2 3-13-6-8-4-20-8-12-1-16-9-8 5-8-3-8 2-16-6-16 4-8 1-8 13-8 8-12-1-20 2-4 11-8 2-4-1-8 4-6 14 6-2 8 7 4 5 2 12-2 1-4-16-12 13-8-3-4-19-6-24-1-5-5 21-2 5-6 1-4 26-3 11-9 0-4-5-8 6-8 4-1 13 5 11 8 12 3 6 5-2 3-4 1-4 4 0 4 8 2 8-2 8 4-8 7-12 1 2 4 30 9 8-1 4-4 1-12 18-4 1-4-20-9-12 5-7-4 10-4 13-1 3-3-6-4-13-3-12-5-24 5-4-5 6-4 0-8 3-4-11-8 3-12 11-7 16 0 49 23 4 12 5 36 19 12 2 4-3 20 23 20 13 2 8-1 8-5-2-12-19-20-1-12 2-16 4-7 8-1 12 6 3-2 1-8-13-28 10-12 0-4-5-7-1-9-14-4-1-4zM1208 505l-2 3 2 1 6-1-2-4zM1220 535l0 5 4 2 7-2zM1248 476l-12 4-5 8 1 4 4 6 12 5 12-3 8-12 0-4-6-4zM1260 436l-8 2-2 2 2 4 7 4 4 8 7 0 3-4-5-4 4-4 0-4zM1280 475l-4 1-7 8 15 8 20-4 16 1 4-1 3-4-15-6-12 1zM1336 459l-8 5-4 8 12 4 21-12-1-5zM1396 508l12 0-4-4zM1224 555l-12 1-4 3 0 15 8 7 7-5 1-6 1 6 8 8 3 12 8 8 6 12 6 2 2-2-4-8 1-4 7-8 1-4-4-4-3-16-8-8-4-8-12-3zM1252 631l-2 5 6 4 8 2 5-2 2-4-11-6zM1196 328l12-3 8 3zM1224 336l4-2 6 2 5 20-3 3-8-4-6-7zM1142 388l10-2 15 6 5 4-3 8-9 5-21-5-2-4 1-8zM1063 400l17-3 8 1 8 6-2 8 12 16 14 12-4 15-8 0-31-15-11-20-1-8-7-8zM811 444l13-2 9 2 15 13 12 7 1 4-7 4 1 8-15 3-12 0-28-7-12-1-6-3-1-4 3-7 4-2 12 1 4-2 4-6-1-4zM495 468l5-2 4 6 0 8-4 8-4-1-3-7zM920 476l8 4 12 12 20 36 17 16-1 8 39 60 77 56 44 51 3-11-3-12 0-12-28-28-36-45-4 8-4-4-2-3 3-8-29-29-16-11-10-12-11-32 2-8 8-12 7-8 8-4 8 2 16 11 32 39 28 45 4 3 28 7 4 4 6 29 0 28 4 24-8 20-1 16-5 4 0 4 35 36 6 12-30 84 1 7 4-2 3 3-3 4-5-4-3 0-8 24-6 20 0 8-5 16-6 8-31 25-17 43-55 60-17 24-11 11-72 42-44 22-28 7-56 4-3 2 2 12-9 8-10 5-24 2-24-2-10-5 4-4 19-8 4-4-9-8-24-6-32-1-156-36-80-40-92-58-18-23-24-48-3-12 21-36 6-20 2-20 6-16 6-5 28-7 2 0-4 8 2 4 6 4 14 1 12-3 4-6-4-5-12-5-16 1-1-3 9-6 12 0 32-10 1-4-1-9-12-11-8-2-24 1-48 8-12 5-16 18-16 9-24 10-24 2-56-2-5-5-7-15-4-4-44-17-6-4-2-4 4-8 20-16 3-8-36-88-12-52-1-16 5-28 4-16 5-5 116-2 32-12 12-13 8-4 8 4 16 16 5 8 0 4-13 30-16 7-20 3-8 5-2 7 0 36 2 8 17 36 20 72 23 24 8 3 32-19 32-9 34-3 1-4-4-12 0-8 23-56 8-28 1-40 10-24 15-27 48-39 68-23 96-14 2-1-7-4-1-4 6-4 8 0 7 4 1 4-6 4 6 1 20-3 40 0 16-4 24 1 40 21 12 3 33-15 27-18zM384 936l-8 8-4 8 0 8 7 12 9 2 8-3 7-7 2-16-4-8-5-4-4-2zM479 508l5-2 2 2 1 4-3 7-5-3zM1006 564l2-1 12 8 4 10-7-1-5-4zM1400 608l21 4-1 4-12 8-1 12-7 5-3-5-2-12-5-8 2-4zM1070 624l2-1 4 3 4 6 4 24-4-3-11-25zM19 636l5-2 4 6-4 4-4-1-2-3zM1455 640l1 40-20-3-40-1-4-16 8-11 8-4zM1443 728l13-2 0 36-19-6-5-4-4-9 0-7 2-4zM1419 772l37-1 0 173-4 4 4 4 0 4-17 8 0 16 5 8-1 4-15 7-12-12-5-15-3-3-11-1-5-4-1-4 4-4 15-4 9-8-2-4-9-4-7-28-17-10-12-3-9 5-3 12-7 8-13 7-8 0-13-11 5-1 2-3-6-12-16-8 16-3 11-5 5-20 16-18 12 0 12 5 4 6 8 2 23-3-11-2-6-6 2-8 6-4 0-8 3-4-5-8 7-8-1-4-13-8-1-4 18-16zM0 784l0-2 12 1 16 4 7 5 24 32 7 12 11 28 0 4-5 7-16 8-8-1-28-26-20-11zM1364 828l16 0-3 4-13 2-2-2zM1211 864l5 3-1 5-7 6-4-2-2-8zM1164 868l12-4 10 4 2 4-6 4-10 0zM1161 888l7-3 5 3 2 8-3 12-12 11-8 3-8-1-5-5 0-4 5-4 10-16zM1142 936l10-2 12 3 4 2 0 5-12 4-12 1-7-5 0-4zM1118 964l6-2 8 0 4 2 2 4-13 12 4 12-1 4-8 6-24-6-4-4 5-8 11-8zM1082 1016l6-3 4 1 5 6-1 4-4 4-8-2-3-6zM1168 1044l12-3 4 0 1 3-5 12-7 8-25 12-8 0-5-4 2-12zM1361 1048l3-3 4-1 6 8 0 16-6 11-4-1-4-10-1-12zM1060 1112l8-2 6 2 1 4-3 5-8 2-6-3-1-4zM1026 1128l6-2 5 2 2 4-3 8-4 2-8-3-2-7zM1258 1168l6-1 12 9 11 12 0 4-3 4-8 3-12 2-16-5-4-4 3-16zM215 1172l5-2 5 2 0 4-9 6-4-2zM1119 1176l10 0 10 4-1 8 11 8-5 4-24 1-16 6-12-3 9-12-2-8 3-4zM273 1196l13 0 6 5 20 4 15 7 3 8 1 16 5 5 24 7 24 0 8 4-4 12-4 3-6 1 1 12-2 12-21 8-16-1-17-11-9-16-26-1-10-3 10-4 11-12 0-4-4-12 0-8-11-11-14-5-6-8 0-4zM349 1208l7-4 8 2 12 10 2 4-6 5-8 0-8-5zM684 1208l8-1 12 2 3 3-1 4 2 4-1 4-7 0-14-12zM1093 1216l11-3 8 3 4 4 0 4-1 8-3 4-44 12-4 0-6-4 0-12 19-12zM439 1228l5-1 28 17 13 16-2 8-3 4-15-4-2-8-18-16 8-4-15-8zM993 1252l21 0 4 4-10 6-12 1-11-7zM219 1276l1-4 2 4 10 4 0 4-8 2-5-2-4-4zM666 1284l6-3 12 3 12 12 9 4 3 4-8 2-12-5-16-3-9-6-1-4zM402 1296l14-2 12 4 24 5 9-3 19 0 4 1 1 3-13 5-20-4-12 5-36-8-3-2zM497 1296l11-1 8 5-8 1-13-1zM920 1296l16 0-8 4zM799 1308l1-3 20 2 8-3 13 4-33 4zM935 1312l5 1 2 3-6 3-8-3zM352 1316l8 0 24 6 10 6-13 12 1 8-2 3-4 1-8-3-15-13-6-12 1-4zM913 1328l11-4 8 1 13 11 5 8 14 2 28 0 40-10 12 1 10 7-3 12 9 16 12 8 20 4 2 4-10 9-20 4-24-9 5-4-9-4-28 1-6 3-1 8-6 4-11 4-4-1-7-7 1-8-3-8-11-8 2-8-2-4-15-8-5-4-1-4-7-1-4-3 0-4zM288 1344l12 0 3 4-4 4-12-4zM1115 1360l9 0 8 7-1 5-7 7-8 0-21-7 13-10zM814 1364l14 2 9 6 3 8 0 9 13 7 3 8-8 2-20-7-56 9-16 0-9-4-1-4 10-5 36-3 5-4 1-8 6-12zM888 1376l8-2 5 2 0 4-9 3-5-3zM503 1384l1-3 4 0 4 3 0 4z"/><path fill="#797979" d="M1287 4l9-3 9 3-9 6-8 1-6-3zM1323 0l47 0 6 4 4 0 10-4 66 0 0 16-48-1-8 2-8 7 1 4 6 8 2 12 9 16 1 20-3 13-7 11-9 6-8 0-12-8-6-14-1-20 6-20-12-12-1-4 2-8-31-8-8-4-2-4 5-8zM1263 16l21-3 8 5 7 6 11 20-8 16-26 3-6 5 4 16 10 8 5 8 0 16 34 12 7 12 15 8 0 4-13 8 2 4 22 11 11 13 18 4 1 4-2 8 11 8-1 12-14 12-3 24-3 8-6 4 0 8-28 7-28-6 2-9-9-8 1-4-4-12-6-2-28 1-20 6-3 3 3 4-8 2-36-2-8-3-3-9-11-12 0-4 7-8 1-8-14-11-10-5-2-8 3-8-2-4-17-7-1-5-12-8-2-4 2-8 21-10 16 2 20-4 4-3 15 3 5 4 14 4 7 4-17 4-7 4-4 4 1 8-19 12 3 12 18 8 1 4-4 8 4 4 35 9 28 2 11-3 0-12 9-12 7-12 0-4-14-8-33-8 10-4-24-8-4-4 2-3 36-6 5-3-21-5-28 0-7-3 1-4-6-2-16 0-12 6-16-2-15-10 5-8-8-12 1-8 15-16 0-8 2-2 12-5 28 2 8-2 4-5 13-8 3-16 12-12zM1081 40l11-1 8 3 4 6-2 4-14 3-10-3-3-4 0-4zM907 296l9-3 7 3-3 5-8 3-4 0-2-4zM1129 308l23-1 20 3 11 6 2 4 0 4-15 8-26 3-23-3-15-8-1-4 3-4zM1435 316l5-1 16 8 0 212-9-7 7-8-9-8-1-4-8-6-5 6 1 4-4 2-12 1-12-1-14 6 9 12-2 4 7 20-4 3-6 1-8-8-1-8-4-8 2-24 5-3 20 1 3-6-7-2-16 6-28-8-8 5-4 5-2 14-6 10-4 2-5-4-7-23-4-2-12 5-12-4-4 3-1 5 3 4 0 4-6 6-8 1-16-5-11 6-3 4 1 4 9 8-3 8 8 12 3 16 0 5-4 3-5-4-1-16-9-8 0-4-5-5-16-4-8 4-8-1-5 6-1 12 2 4 8 6 8-4 4 2 4 4 3 12 8 8 6 12 7 3 3-3-4-8 1-4 8-9 4 0 11 13 2 8 5 8-9 16 3 1 7 11-7 27-12-5-5 10 1 20-6 20-2 16 2 8-2 4-19 16 7 8-9 12-5 16 2 12 5 4-2 4-15 6-6-14 6-16-2-8-6-8 16-16 2-4-10-16 0-7-3-5 2-4-11-1-4-7-8-6-11-18 2-12-3-6-7 2 1 12-3 0 1-12-4-6-1-18 1-2 8 2 4-2 3-14-5-8-4-20-8-12-1-16-8-8 4-8-3-8 2-16-6-16 5-8 0-8 16-8 0-4 5-4 1-12-2-12 2-4 11-8 2-4 0-8 2-3 12 3-1 8 9 5 16 0 3-1 0-4-17-12 13-8-2-4-21-6-24-2 16-4 8-7 2-5 22-2 12-10 0-4-4-8 4-7 4-1 12 4 12 10 13 6-6 8 1 5 16 1 6 2-6 5-12 1-2 2 2 4 8 4 24 6 8-1 5-5 2-12 17-3 3-5-14-8-2-4 2-4-6-4-17-4-10-6-8 0-12 4-5-2 6-4-2-8 4-4-11-8 3-12 9-7 12 0 28 11 24 12 5 12 3 36 20 12 2 4-1 12-3 8 20 20 22 4 8-2 6-6-3-8 0-4-19-20-2-12 3-16 3-6 8-1 12 8 4-2 1-3 1-8-13-28 10-12 0-4-5-8-1-8-13-8zM1252 630l-3 6 7 5 8 1 6-2 4-4-14-7zM1184 506l-2 2 9 8 1 5 2-13zM1208 504l-4 4 8 2 4-2-2-4zM1220 534l-2 2 1 4 5 3 14-3-10-1zM1244 475l-10 5-3 12 9 10 8 2 12-4 8-10 4-2 16 5 12-4 24 0 4-5-12-8-16 3-20-4-5 1-7 7-16-8zM1252 436l-4 4 8 8 4 8 13 0 2-4-4-4 3-8-10-5zM1304 454l-3 2 3 2 4 1 3-3zM1356 452l-3 4-21 4-14 12 18 6 4-2 20-12 0-4zM1432 475l-2 5 2 1 10-1-2-4zM1432 490l-8 6 8 2 4-2zM1227 336l5 0 4 8 0 13-5-1-9-8zM1143 388l9-1 14 5 4 4-2 8-8 4-16-4-4-12zM1065 400l15-3 8 2 6 5-1 8 12 16 14 12-3 12-4 4-4-1-29-15-12-20-1-8-7-8zM813 444l19 0 26 20 2 4-7 4 0 8-25 2-28-7-12 0-5-3-2-4 3-6 4-3 12 1 4-1 5-7-1-4zM496 468l4-2 4 6 0 8-4 7-4-1-2-6zM688 480l10 4 2 4-8 4 8 2 20-4 40 0 20-4 20 1 40 22 12 3 36-17 24-16 8-3 4 2 19 18 17 33 16 15-1 8 39 60 78 57 47 55 36 36 5 8-3 16-38 104-11 45-5 7-31 25-5 7-6 24-6 12-55 59-21 29-11 9-68 40-47 23-25 5-20 0-40 6 0 13-3 4-11 8-10 2-32 0-16-5 4-5 20-8 4-4-12-9-24-5-32-1-80-20-48-9-32-9-76-39-94-60-15-20-24-48-3-8 1-8 20-32 5-20 2-18 8-19 4-3 20-5 4 1 2 8 6 4 12 2 15-2 5-4 1-4-2-4-11-6-17-2 5-4 12-1 16-7 16-3 2-9-3-8-11-9-8-2-28 2-24 6-16 1-16 5-20 21-36 17-60 1-20-2-5-4-7-16-4-4-44-17-7-7 4-8 19-16 4-8-37-88-12-56 4-40 5-16 4-4 116-2 32-12 16-16 4-2 7 4 20 20 1 4-1 8-8 20-6 8-13 5-20 2-8 5-2 8 0 40 19 40 20 72 23 25 8 3 32-20 32-8 28-2 7-2 1-4-4-12 0-8 18-44 12-40 2-40 11-28 15-24 42-34 12-7 60-20 96-14 3-1-7-3-1-5zM384 935l-10 9-3 16 5 12 4 2 8 1 8-3 8-8 3-16-4-8-7-6zM1017 492l7-3 4 0 20 12 31 39 29 46 4 3 28 7 4 4 5 28 1 28 3 24-7 20-2 16-4 3-1-15-3-12 1-8-29-28-36-46-4 7-4-3-1-2 1-4 4 2 2-2-34-33-16-12-9-11-10-28-1-8 10-16zM479 508l5-2 2 2 1 4-3 6-5-2zM1422 540l2-2 8 6-6 0zM1009 568l3-2 4 2 4 4 4 8-8-1zM1393 612l11-3 14 3 0 4-12 8-2 8-4 0-4-4-5-12zM1071 624l5 3 3 5 2 12-1 6-11-22zM19 636l5-2 3 6-3 3-4 0-2-3zM1430 644l26-3 0 39-20-4-38 0-6-16 4-6 12-6zM1448 728l8-1 0 34-17-5-3-4 0-4-7-8 3-8zM1204 736l4-3 6 3 0 4-4 8-6 3-4-3 0-4zM1411 776l13-4 32 0 0 171-6 5 4 4 1 4-18 8 0 16 4 8-1 4-4 0-24-24-12-8-1-4 13-3 11-9-1-4-10-3-4-5-5-24-19-11-12-3-10 6-4 12-7 8-11 5-8 0-5-5 4-8-3-5-7-7-15-8 18-4 8-4 6-20 9-8 0-4 5-5 12 0 11 5 5 6 8 2 26-4-14-4-5-4 0-4 5-6 18-2-14-8 3-4-5-8 6-8-1-4-10-8-1-4 6-8zM1372 879l0 4 5 1 2-4-3-4zM1384 868l-10 4 2 4 14-4 0-4zM0 784l12 0 16 4 6 4 25 32 6 12 11 28-4 10-16 8-8 0-27-26-21-12zM1166 868l10-3 7 3 2 4-5 3-8 0zM1204 868l8-3 4 3-2 4-6 4-4-4zM1163 888l5-1 6 5 0 8-3 8-11 10-8 3-8-1-4-4 0-4 5-4 10-16zM1146 936l18 3 3 1 0 4-23 4-6-4 1-4zM1119 964l13-1 5 5-12 12 4 12-1 4-8 5-22-5-4-4 4-8 12-8zM1083 1016l5-2 4 1 4 5 0 4-4 3-8-1-3-6zM1170 1044l10-2 4 2-5 12-7 8-24 12-6 0-6-4 2-12zM1362 1048l2-3 4 0 6 7 0 16-6 10-4-1-4-9-1-12zM1060 1112l8-2 5 2 2 4-3 5-8 2-6-3 0-4zM1026 1128l6-2 4 2 3 4-3 7-8 2-4-3-1-6zM1252 1172l8-4 8 2 18 18 1 4-4 4-11 4-12 0-12-4-3-4 0-4 3-12zM1104 1180l16-4 12 2 5 2-1 8 11 8-23 3-20 7-8-1-2-1 2-4 7-8-2-8zM278 1196l14 6 24 5 9 5 4 8 1 16 6 5 24 8 20-1 10 4-4 12-11 4 3 12-3 12-19 7-16-1-16-11-8-16-33-3 5-2 12-14 0-4-4-12 1-8-12-12-13-4-1-4-5-4 0-4zM350 1208l6-3 8 2 11 9 2 4-6 4-7 0-7-4zM688 1208l12 0 4 3 0 11-4 0-12-9zM1095 1216l13-2 7 6-1 12-4 4-42 11-8-3 1-12 19-12zM443 1228l9 4 3 4-3 1-11-5zM455 1240l1-3 12 5 13 14 3 4-4 10-13-2-3-8-14-12-1-4zM988 1256l12-3 15 3-5 4-10 2zM217 1280l3-2 8 1 1 5-8 0zM669 1284l12 0 24 20-9 0-4-3-24-6-3-3-1-4zM407 1296l11 0-2 4-4 1-5-1zM504 1296l9 4-12 0zM430 1300l10 0 9 4-7 4-6 0-10-4zM458 1304l14-3 8 1 3 2-11 4zM350 1320l6-4 4 1 24 5 8 6-12 12 1 8-5 3-8-3-12-10-7-10zM917 1328l11-2 5 2 1 4-6 1zM1023 1340l13-3 12 4 4 7-1 8 5 13 8 11 25 4 2 4-1 4-6 4-20 4-16-8 3-4-11-6-32 1-8 4-1 9-5 4-14 1-6-5 1-12-2-4-12-8 2-8-2-4-17-12 8-2 40 1zM1108 1364l8-3 8 0 7 7-3 6-8 4-22-6zM807 1368l13-2 8 1 7 5 4 8-3 10-4 3-10 3-4 4-34 7-24 1-12-4-1-4 9-5 37-3 6-4 1-10zM889 1376l7-2 4 2 0 4-8 3-4-3zM835 1396l5-2 11 2 1 7-4 1-9-4z"/><path fill="#7b7b7b" d="M1291 4l10 0-9 4zM1327 0l40 0 5 4 8 1 7-1 5-4 62 0 2 1 0 14-52 0-8 4-5 5 0 4 7 8 0 12 10 14 3 18-3 13-6 11-10 8-8 0-11-8-5-12-2-20 7-20-13-12-1-4 4-8-32-8-8-4-2-4zM1266 16l14-1 12 4 6 5 11 20-8 16-25 3-6 5 3 16 9 8 6 8 0 16 33 12 8 12 13 8-12 12 1 4 25 14 9 10 19 4 1 4-3 8 12 8-2 12-13 12-5 28-2 5-9 3 1 8-24 6-27-6 3-8-2-4-7-4 0-8-3-8-4-2-28 0-28 5-2 5 2 4-4 1-36-2-8-3-1-8-12-12 0-4 7-8 4-8-10-5-6-7-10-4-1-20-18-8 0-4-14-8-1-4 2-8 20-9 12 3 36-6 22 8 7 4-21 8-5 4 2 8-20 12 3 4 0 8 8 5 9 3 2 4-3 8 2 4 38 11 32 1 9-4-1-12 4-7 6-5 7-12 0-4-12-8-11-4-1-4-6-4 5-4-24 0-12-4-4-4 20-6 23-2 1-4-24-6-28 0-5-2 2-4-5-4-24 1-12 5-12-2-14-8 5-8-7-12 1-8 15-16 0-9 12-5 36 0 6-6 13-8 2-16 3-4 12-10zM1083 40l13 0 6 4 1 4-7 6-16-1-4-5 0-4zM909 296l7-1 5 1-2 4-7 3-4-3zM1134 308l22 0 16 3 9 5 2 4-1 4-14 8-24 2-20-2-16-8-1-4 5-6zM1434 320l6-3 16 7 0 136-2 0 2 0 0 74-5-2-3-4 7-8-18-20 1-8-3-4 3-4 7-4-9-8 0-4 4-4-1-4-3-4 0-4-2-4-14-11-5-9 2-24 3-6 8-1 12 10 6-3 2-4-1-8-12-24 1-7 9-9 1-4-6-8-1-8-10-8zM1225 344l3-4 4 1 2 3 1 8-3 3-8-6zM1288 344l8-2 12 1 47 21 5 12 1 12-1 12 3 8-3 4-15-8-2-8-7-4-15-4-11-8-18-1-3-7 3-4-10-8 2-12zM1246 384l6-3 4 1 12 6 14 12 2 4-3 8 3 3 19 1-7 3-8-1-4 6 8 8 20 6 16 1 6-7 2-10 16-4 5-2 3-4 16 8 7 4 2 4-1 12-3 8 9 8 10 13 20 3 7 4 0 8-3 8-4 2-12 1-12-2-9 3 15 4-10 5-16-1-16-6-4 1-9 13-3 16-8 7-6-7-6-20-4-2-12 4-14-2-3 4-1 4 3 4 0 4-5 5-8 1-16-5-8 3-8 8 1 4 11 8-5 8 9 12 0 5-4 2 0-3-10-8 0-4-3-4-7-4-12-2-8 4-12-2-2 12 1 12 9 7 8-3 7 4 3 12 8 8 6 13 8 3 4-4-4-8 1-4 7-7 4 0 10 11 2 8 6 8-6 10-8 1-12-7-8 1-3 3-1 4 8 6 8 1 8-3 8 2 7 10-7 25-12-5-4 3-2 13 2 16-6 16-3 20 2 8-6 8-13 8-2 4 7 8-13 24 0 12 5 8-1 4-14 4-5-12 6-16-7-16 10-12 6-4 1-4-10-16 0-16-13-4-12-12-10-16 1-12-1-4-2-3-8 2-4-7 0-17 8 3 4-3 3-15-4-8-5-20-7-12-2-16-6-8 3-8-3-8 2-16-7-16 6-8 0-8 12-6 8 1 7 13 5 2 2-2-3-8 3-8-9-4-4-4 1-12-2-8 2-8 12-8 2-14 10 2-1 8 11 5 8 2 13-3 0-4-17-12 13-8-2-4-33-8 14-15 20-2 10-7 3-4 1-4-5-8zM1352 451l-4 5-12 0-8 3-8 9-16 9-24-3-12 7-16-6-8-1-11 6-3 12 10 11 8 2 12-4 12-11 16 4 12-5 24 0 9-5-11-4-1-4 3-1 12 5 26-16 0-12zM1208 503l-7 5 11 3 5-3-1-4zM1220 533l-3 3 1 4 6 4 17-4-13-2zM1248 436l-2 0 0 4 8 8 3 8 11 2 8-2 1-4-3-4 1-8-3-2-8-4zM1300 454l-1 2 9 5 5-1 1-4-10-4zM1145 388l11 0 8 4 5 4-2 8-7 3-12-3-7-12zM1066 400l14-2 13 6 0 8 12 16 13 12-3 12-3 3-4-1-28-14-6-8-6-12-1-8-6-8zM816 444l12-1 8 3 12 13 9 5 1 4-6 4-1 8-23 1-28-6-12 0-5-3-1-4 2-6 4-2 12 1 4-2 4-3 1-8zM496 468l4-1 3 5 1 8-4 7-4-1-2-6zM911 480l9-3 4 1 18 18 18 34 15 14-2 4 2 4 38 60 82 60 44 52 35 36 5 12-40 116-11 44-6 8-30 24-5 8-7 24-6 12-54 58-18 26-10 10-72 42-44 22-28 7-20 0-16 4-24 1-3 2 1 12-3 4-11 8-24 2-24-2-8-4 5-4 22-8 5-4-7-4-2-4-31-7-32-1-155-36-80-40-93-59-19-25-24-48-1-8 21-36 9-44 3-8 7-8 20-3 8 10 12 4 16-1 9-6 1-4-2-4-14-8 2-4 12-6 16-3 5-3 1-8-2-7-12-10-8-2-24 1-52 9-10 5-14 17-16 9-24 10-24 2-56-2-4-4-7-16-5-5-44-16-7-7 5-8 19-16 3-8-36-88-12-52-1-16 5-28 4-16 4-4 116-2 32-11 12-13 8-5 8 4 15 15 5 8 0 4-12 29-8 5-28 5-9 5-2 8 0 36 3 11 16 33 20 72 24 26 8 2 32-19 32-9 28-1 8-3-3-24 17-40 12-40 2-40 10-28 14-26 48-39 68-23 24-5 20-1 52-8 4-2-8-3-1-5 9-4 10 4 1 4-3 2-8 2 8 2 24-3 40-1 16-3 20 0 12 4 32 18 12 3 36-16zM388 932l-12 8-6 16 5 16 9 5 12-3 7-6 5-16-1-8-7-9-5-3zM1018 492l6-3 4 1 24 15 26 35 17 28 15 20 29 8 5 4 5 28 0 28 4 20-10 40-3 2-1-2 2-8-5-16 1-8-29-29-34-43-38-38-16-11-9-11-10-28-1-8 10-16zM1423 500l5 4 1 8-13 2-8-2 13-8zM479 508l5-2 1 2 2 4-3 6-5-2zM1386 512l6-2 8 2-5 4-7 2zM1383 524l1-2 4 1 7 9 6 24-1 1-4 2-4-1-5-6 0-8-4-8 2-8zM1010 568l2-1 7 5 3 8-8-4zM1262 580l2-3 3 7 0 4-3 3-4-3 0-7zM1063 612l1-3 4 2 0 5zM1394 612l10-3 12 3 0 4-11 8-1 4-4 0-1-4-7-8zM1070 628l2-4 5 4 1 8-2 3zM19 636l5-2 3 6-3 3-4-1zM1435 644l21-2 0 37-20-5-36 2-7-16 3-4 4-4 12-4zM1452 728l4-1 0 33-14-4-4-4 1-4-9-8 0-4 4-4zM1206 736l2-2 2 2 1 4-3 8-4 2-3-6zM1413 776l11-3 32 0 0 169-8 6 5 4 0 4-19 8-2 6-19-14 14-12-2-4-13-6-4-5-1-17-7-8-16-8-12-3-11 7-3 4-1 8-8 8-9 4-8 0-2-4 4-8-4-8-22-12 16-3 10-5 6-20 13-16 11 0 8 4 8 7 8 3 29-6-5-4-15-4 3-8 21-4-4-4-10-4 2-4-6-8 7-8-1-4-9-8-1-4 4-8zM1376 868l-5 4 0 4-3 4 4 7 9-3-1-8 12-3 14-1-10-1-8-5zM0 784l12 0 16 4 5 4 32 44 11 28-4 9-16 9-8-1-27-25-21-12zM1168 868l8-2 4 2 2 4-10 2zM1206 868l6-2 2 2-1 4-5 3-3-3zM1157 892l7-3 8 2 2 5-4 12-10 9-8 3-8-1-3-3 0-4zM1140 940l12-2 12 2 1 4-21 3-4-3zM1120 964l12 0 3 4-11 12 4 12-1 4-7 5-20-5-5-4 4-8 12-8zM1083 1016l5-2 4 1 4 5-1 4-3 3-8-2-2-5zM1173 1044l9 0 0 4-6 12-5 4-23 12-4 0-7-4 2-12zM1362 1048l6-3 5 7 0 16-5 10-4-1-4-9 0-12zM1061 1112l7-2 5 2 2 4-3 4-8 3-5-3-1-4zM1026 1128l6-2 4 2 3 4-3 7-8 2-4-3-1-6zM1254 1172l10-2 8 4 13 14 1 4-4 4-10 3-12 0-11-3-4-4 0-4 4-12zM1106 1180l14-3 12 2 3 1 1 4-2 4 9 8-19 2-20 7-7-1 1-4 7-8-2-8zM268 1200l12-2 12 5 24 4 11 9 2 20 3 4 28 10 20-1 9 3-5 12-9 0-1 8 2 8-3 12-17 6-16-1-16-11-8-17-27-1 12-16 0-8-4-8 1-8-6-4-5-8-12-4zM352 1208l4-2 7 2 10 8 2 4-7 4-8-2-5-6zM689 1212l3-4 10 4-6 4zM1097 1216l11-1 6 5-2 12-4 4-20 3-16 6-10-1 1-12 17-11zM459 1240l11 4 10 12 2 4-2 8-10 0-5-8-13-12-1-4zM992 1256l8-2 10 2-6 4-4 0zM666 1288l6-4 8 1 9 7 1 4-6 1-12-2-6-3zM430 1304l6-2 9 2-5 3zM462 1304l10-2 9 2-9 2zM351 1320l9-2 24 5 7 5-12 12 0 8-7 1-16-13-5-8zM1027 1340l13-1 9 5 2 4-1 8 8 20 0 4 6 3 21 1 4 4-1 4-7 4-21 0-6-4 2-4-4-4-6-4-10-1-36 4-2 1-1 12-9 4-8 0-4-4 1-12-2-4-13-8 1-12-12-8-1-4 46 0zM1110 1364l14-1 6 5-2 4-8 4-18-4 1-4zM811 1368l9-1 12 4 5 9-1 5-4 4-16 7-2 4-16 4-30 4-12-1-7-3-2-4 9-5 39-3 5-4 1-8 3-6zM889 1376l7-2 4 2 0 4-8 2-4-2z"/><path fill="#7e7e7e" d="M1332 0l31 0 5 4 12 2 11-2 3-4 57 0 5 3 0 10-52 1-8 4-7 6 0 4 8 8 0 8-2 4 10 12 4 20-2 12-7 11-8 6-8 0-8-5-7-16 0-20 7-16-12-9-4-7 1-4 6-4-34-8-8-4-2-4zM1259 20l13-4 16 2 8 6 12 20-8 16-24 2-5 2-2 4 2 16 14 16 1 16 34 13 8 11 10 8-11 12 1 4 7 4 5 7 12 4 10 9 18 4 3 4-4 4 0 4 14 8-3 12-12 12-6 30-15 6-2 8-19 4-21-4 4-8-2-4-8-4 1-8-6-11-44 1-20 4-4 8-28 1-11-3 0-8-12-12-1-4 12-14 12-1 27 7 5 4 2 8-3 4 1 4 8 3 4-3 1-4-7-4-2-4 12-4 32-1 3-3-3-8 3-8 11-8 6-12 0-4-20-12-6-8 3-4-1-4-24 3-14-3-3-4 17-6 24-1 3-1 1-4-28-7-28-1 1-4-9-6-24 1-16 5-19-8 5-8-8-16 14-16 0-12 12-5 37 1 7-8 12-7 2-17zM1078 44l6-3 8-1 8 4 1 4-5 5-12 0-7-5zM1182 140l22-2 24 10-16 7-7 5 1 8-20 12 3 4 0 8 7 5 9 3 3 4-1 4-7 6-12-3-5-3 0-4-11-4-2-8 1-12-16-8-2-4-17-8-1-4 4-8 13-6 4 0 8 4zM1160 151l1 5 7 8 4 0 4-4 0-4-8-5zM1120 312l16-3 20 0 16 4 9 7-5 7-12 4-32 1-16-4-5-4-1-4 3-4zM1433 324l7-4 4 1 12 5 0 121-2 1 2 0 0 10-11 2 11 3 0 55-17-18 1-12 9-8-10-12 5-8-6-4-1-8-17-12-5-8 0-12 5-17 8-1 12 12 10-6 1-4 0-8-7-8-6-16 2-8 11-12-7-8-1-8zM1228 344l4 2 0 4-4 0-2-2zM1291 344l17 1 46 19 5 12 1 12 0 6-4 6 3 4-2 4-7-4-4-8-28-12 1-4-26-4-2-4 3-4-10-8 2-4 0-8zM1247 384l5-2 9 2 18 16 2 4-2 8 5 4-2 8 2 4 8 6 11 2-7 3-4 5 4 2 8 1 8-5 16-1 6-5 3-12 3-3 24-5 17 8 2 4-2 4 2 8-5 8 10 8 8 12 8 4 16 3 2 1 1 4-3 5-12 6-16 0-15 5 17 4-6 3-16-2-4-5-4-1-13 1-5 16-1 12-5 8-4 2-6-6-6-21-4-2-12 4-12-3-4 2-3 8 3 8-8 6-20-6-24 13-8 1-12-6-4 3 1 5 7 6 12-2 8-3 10 3 4 4-2 6-4 2 1 4 7 4 1 4-5 1-5-5 0-8-15-7-8 0-8 3-12-3-2 3-2 20 4 7 8 6 12-2 5 13 8 8 3 8 8 10 4 1 6-7-5-8 1-4 10-6 9 10 2 8 6 8-5 8-4 2-20-9-4 1-5 6-1 4 6 5 12 3 12-2 8 5 2 5-6 22-4 0-8-5-4 3-3 16 2 16-6 16-3 20 1 8-7 9-12 7-4 0-9-16 1-16-4-4-12-2-12-11-9-15 1-12-1-4-3-4-8 2-3-6-1-16 8 4 0 9 4-1-3-8 3-2 4-18-4-8-5-20-6-12-3-16-5-8 3-8-4-8 1-16-6-16 2-4 6-4-2-8 7-3 8-1 5 4 0 4 4 4 7 5 4-1-3-8 3-9 12 2 6-5 0-4-6-2-12 4-8-2-4-4-3-24 3-4 15-12-3-4 2-4 6 1 1 3-4 4 23 7 12 0 4-3 0-6-18-10 14-8 12 8 1 8 15 3 11-3-3-16-8-6-8-1-24 2-26-7-1-4 9-8 18-3 15-13 1-4-6-8zM1300 450l-4 6 4 3 8 4 11 1-7 4-7 8-5 1-20-3-12 5-16-5-8-1-12 7-3 12 11 12 12 5 20-17 16 4 12-6 24 0 14-6 13-12 10-4 3-4 0-8 3-4-11-3-12 4-12-2-12 3-16-5zM1148 388l8 1 11 7-3 8-12 0-9-12zM1069 400l11-1 11 5 0 8 26 28-4 12-5 1-27-13-6-8-7-20-6-8zM820 444l8 0 8 3 19 17 1 4-6 4-3 8-19 0-28-6-12 1-5-3-1-4 2-6 4-2 12 2 4-2 5-4 2-8zM498 468l3 0 3 8-4 10-4-1-2-5 1-8zM913 480l7-2 4 1 17 17 19 35 11 9 2 4-1 4 2 4 38 60 82 60 44 52 35 36 6 12-40 112-12 48-6 8-30 24-6 12-7 24-5 8-53 57-19 27-9 9-73 43-43 21-28 7-20 0-16 4-32 2-20-6-36 0-16-4-32-1-72-18-72-14-16-6-73-37-95-59-18-25-24-48-1-8 21-36 9-44 4-8 5-6 16-3 11 9 17 4 16-3 7-5-1-8-10-8 1-4 11-6 16-3 3-7-3-13-12-9-8-2-24 1-52 9-8 3-16 19-16 9-24 10-24 2-48 0-8-2-6-7-5-12-5-5-40-15-10-8 6-10 18-14 3-8-36-88-12-52-1-16 5-28 4-16 3-3 8-1 108-1 32-11 12-13 8-5 8 4 14 14 5 8 0 4-11 28-16 8-20 2-10 6-1 44 3 12 15 32 20 72 6 8 19 19 8 2 28-18 36-10 28-1 9-4-3-24 19-48 9-32 3-40 10-28 13-25 52-41 64-21 24-5 52-5 24-5 12 1 20-4 40 0 20-4 20 1 40 22 12 3 36-17zM384 932l-10 8-5 16 4 16 4 4 7 3 12-4 8-6 6-17-2-10-8-10-8-3zM679 484l5-3 8 0 5 3 1 4-10 4-8-4zM1019 492l5-2 8 2 20 14 25 34 17 28 14 20 29 8 6 4 5 28 0 28 4 20-8 30-4-4-2-6 0-12-30-30-33-42-39-39-16-11-8-10-10-28-1-8 10-16zM480 508l5 0 1 4-2 6-5-2zM1455 524l1-2 0 11-6-5zM1386 536l2-3 4 6 4 9 1 8-5-1-3-3-1-4 2-4zM1012 568l6 4 2 6-5-2zM1396 612l14 0 3 4-9 7-4-1-7-6zM1071 628l1-2 4 3 0 8zM19 636l5-1 3 5-3 3-4-1zM1453 644l3 0 0 34-18-6 15-4-5-4-13 0-5 4 4 4-30 3-4-2-5-13 5-6 20-7zM1455 728l1 31-11-3-4-4 0-8-8-4 0-4zM1204 740l4-3 1 3-1 5-4 2zM1225 772l7-4 4 2 5 6-13 24 0 12 4 10-4 3-8 1-4-10 7-16-6-16zM1415 776l9-2 32 1 0 166-16 8-16-14-12-5-3-18-5-8-27-12 8-8 1-8 6-2 16 1 2-3-2-2-20-6-12 2-9 6-3 8 4 12-13 12-2 8-5 4-8-1-2-11-20-8-3-4 13-3 8-5 2-8 3-4 1-8 9-8 0-4 5-3 4-1 8 4 12 10 8 2 10-4 14 0 7-4-7-7-10-1-2-4 4-4 8 2 12-6-3-4-10-4 1-4-6-8 4-4 1-8-8-8 3-12zM0 784l12 1 20 7 32 44 11 28-3 8-16 9-8-1-26-24-22-13zM1159 892l9-1 4 3-3 14-9 8-8 2-8-1-1-5zM1145 940l3-1 13 5-17 1-1-1zM1123 964l7 0 3 4-9 8-1 4 4 8 0 8-7 4-18-4-5-4 3-8 12-8zM1084 1016l8-1 3 5 0 4-7 3-4-2-2-5zM1166 1048l10-3 4 0 1 3-5 10-8 7-20 10-9-3 2-12zM1363 1048l5-2 4 4 2 6-1 12-5 9-4-1-4-12 0-8zM1061 1112l7-1 4 1 2 4-2 4-8 3-5-3-1-4zM1027 1128l5-1 4 2 2 3-2 6-8 2-4-3-1-5zM1257 1172l7 0 8 4 12 12 1 4-4 4-9 3-12 0-9-3-5-4 0-4 5-12zM1109 1180l15-2 8 2 1 4-2 4 2 4-5 4-24 7-2-3 6-8-2-8zM755 1184l25 2 3 6-5 8-14 5-32 0-14-5 18-10zM277 1204l3-2 32 5 10 5 5 8-2 8 2 8 5 5 32 10 16-1 7 2-7 8-8-2-4 2 6 20-3 12-15 5-14-1-18-12-4-16-24-3 0-5 7-8-1-8-3-8 1-8-9-8-3-7-8-4zM356 1208l15 8 2 4-5 2-8-2-3-4zM1101 1216l5 0 6 4 0 4-4 9-11 3-9-6-8 1-3 1 5 4 0 4-15 4-2-8 3-4 12-9zM455 1244l5-3 8 3 12 16-4 7-4-1-17-18zM670 1288l10 0 5 4-1 2-4 1-8-1-3-2zM356 1320l26 4 7 4-13 12-20-7-4-9zM1014 1344l22-3 12 6 1 9 3 8 0 12-72 5-16-9 2-12-7-8 1-1 32 0zM1114 1364l10 0 4 4-4 4-17 0 0-4zM809 1372l7-2 16 2 0 10-28 1 0-4zM889 1376l7-2 3 2 1 4-8 2-3-2zM804 1388l6 4-1 8-13 4-36 3-10-3-2-4 12-5 36-2z"/><path fill="#838383" d="M1334 4l6-4 18 0 10 6 12 2 12-2 5-6 34 0 12 12-11-1-32 3-15 10 0 4 10 8-1 8-6 4 12 9 6 15-2 19-8 12-8 3-6-2-6-5-4-8-2-11 2-12 4-10 7-6-16-8-6-8 3-4 10-4-8-4-30-4-8-4-2-4zM1261 20l11-3 16 3 7 4 12 20-7 14-4 2-20 1-6 3-3 4 3 16 8 8 7 12-1 12 36 16 11 12 0 4-7 12 1 4 7 5 7 11 9 2 12 9 16 2 3 3-13 4 25 12-3 12-11 12-5 12-1 16-5 4-18 4-1 4-6 4-19 0-2-4 3-4-2-4-8-4 1-8-5-12-41-1-8-2-6-5-1-4 7-2 34-2 1-4-5-8 1-4 5-6 10-6 6-16-20-13-4-7 0-8-4-2-24 4-10-2-3-4 17-5 20 0 7-3 0-4-27-8-7-4-17-1-16-8-24 1-16 4-15-4 4-12-7-8-1-4 12-12 2-8 0-8 13-4 28 3 8 0 8-11 8-4 3-4 0-16zM1081 44l11-2 5 2 2 4-6 4-7 0-7-4zM1188 140l16 0 18 8-20 12-4 4 4 4-5 4-13 5-8 1-10-6 1-4 18-4-13-16zM1147 148l5 2 7 10-3 3-8 0-9-3-2-4 2-4zM1180 192l0-2 9 6-1 2-4 1-7-3zM1190 208l6-4 4 1 1 3zM1199 220l17 0 13 4 4 4-1 4 2 4-3 8 2 8-1 4-16 2-16-2 0-8-13-12-1-4zM1126 312l18-2 16 1 12 4 5 5-2 4-11 6-16 2-16-1-12-4-5-3-1-4 3-4zM1441 324l7 0 4 4-7 0zM1289 348l7-3 8 1 7 2 9 7 32 9 5 12 1 16-6 4-19-8-8-4 2-4-4-4-23-1-4-3 2-4-10-8 2-4zM1250 384l10 1 18 19-1 8 4 8-3 4 2 4 12 8-7 8 8 4-1 8 15 12-1 4-6 4-20-3-16 4-13-5-3-4 4-8 24-1 8-3-3-8 2-4-11-10-8-4-32 3-18-5-2-4 8-6 20-4 14-14 1-4-6-8zM1146 392l6-3 8 3 4 4 1 4-9 2zM1074 400l6 0 9 4 0 8 26 28-3 8-4 3-24-11-12-20-7-16zM1420 400l8-2 12 16 8 2 1 24-5 5-8 0-12-6-7-7-1-16zM1361 420l7 0 10 4 2 4-3 4 3 8-4 5-8 3-16-2-12 4-7-2-5-4 12-7 24-1-5-4-15 0-4-4 1-4zM1238 444l6 1 5 3 0 4-13 1-8-5zM813 448l11-4 8 2 20 18 1 4-9 10-8 2-36-7-12 1-4-2-2-4 2-5 4-3 12 3 4-2 6-5zM1311 448l9-2 5 2zM1443 452l8 0-1 4-8 0zM1369 456l7-3 7 3 4 4 5 12-1 4-10 4 3 1 8 2 6-3 2-4 12 0 4 4-12 8-12-1-20 5-16-2-10 2-1 4 3 8-4 20-4 7-4 2-5-5-7-23-4-2-16 4-7-3-3-4-1-4 3-4 28 0 16-4 16-15 10-5 3-4zM1204 464l4-1 33 9-9 4-5 12 7 12 14 11 8 2 3-1 1-8 12-10 12 2 8 8-5 12 3 8-4 4-8 0-14-6-24 13-8 1-10-4-6-6-2 14 7 8-5 1-8-2-5 5 2 4-3 16 2 4 8 10 4 2 12-2 2 10 9 8 3 8 6 8 1 4-5 12 8 6 12 4 12-2 7 4 2 4-4 8-1 9-4 1-4-2-1-8-3-2-7 2 2 8-3 20 2 16-7 24-2 20-5 6-12 7-4-1-7-12 2-16-3-4-16-4-12-12-8-12 2-12-6-12 2-4-1-8 5-20-5-8-4-20-7-12-2-16-5-8 2-8-4-8 2-16-7-16 4-5 10-3-5-4-1-4 8-2 5 2-2 4 1 4 20 6 3-2-3-8 0-4 4-2 12-1 4-5 0-4-4-3-8-1-12 3-6-3-1-8 3-4-5-8 0-4 3-4zM1445 468l8 0 2 8-3 1zM495 472l5-4 2 4 1 8-3 5-4-1zM915 480l5-1 4 1 16 16 20 37 9 7 1 8 42 65 80 59 44 52 36 36 6 12-40 112-12 48-6 8-30 24-6 12-5 20-7 12-52 56-28 36-75 44-41 20-28 7-60 5-12-1-16-4-80-4-76-20-72-14-16-5-72-37-44-29-52-31-19-27-22-44-1-8 21-36 10-44 7-13 12-2 16 9 16 3 16-2 10-7-1-8-8-8 0-4 7-5 16-3 5-8-5-15-12-9-8-1-24 1-56 10-8 5-10 13-10 8-32 14-20 2-56-1-6-3-7-16-7-7-40-14-9-7 5-8 19-16 3-8-36-88-12-52-1-16 5-28 6-18 8-1 108-1 33-12 11-12 8-5 8 5 12 12 6 8 0 4-12 28-14 7-20 2-11 7-1 44 3 12 15 32 20 72 22 25 8 5 4 1 28-19 40-11 28-1 7-4-4-16 0-8 20-48 9-36 2-36 10-28 13-24 51-41 64-21 24-5 20-1 44-8 28 0 16-4 40 0 20-4 20 1 40 22 12 3 36-16zM388 928l-8 4-8 8-5 16 5 19 4 4 8 2 12-3 9-6 5-8 2-12-1-8-7-12-8-5zM680 484l4-2 8 0 5 2 0 4-9 3-7-3zM1451 484l5 0 0 29-4-1-1-4-8-8 3-12zM1021 492l11 1 20 15 27 36 14 24 15 21 34 11 5 28 0 28 4 20-2 8-3 4-2 12-5-4 1-12-32-31-28-37-39-40-17-12-11-12-8-20-3-16 10-16zM481 508l3-1 2 5-2 5-4-1-1-4zM1241 544l11 0 4 5-4 4-4 1-10-6zM1260 604l8-4 8 8 1 8 6 8-3 6-8 1-12-7 4-8-5-8zM1396 616l8-4 5 4-5 4zM20 636l5 0 1 4-2 2-5-2zM1418 652l10-4 16 6 8-2 4-4 0 17-12-6-12 3-8 8-20 1-7-11 3-4zM1450 740l6-3 0 20-7-1-4-4zM1227 772l5-2 7 6-11 19-4 2-5-13 4-8zM1419 776l37 1 0 125-12 4-32 0-12-8-15-6 7-14 16 1 7-3-1-4-6-6-12-2 20-3 7-5-7-8 12-12-3-4-7-4 1-8-7-4 6-4-1-4-10-12 2-12zM0 788l0-3 8 0 20 5 4 3 31 43 11 28-3 8-15 8-8-1-24-23-24-14zM1221 808l3-2 2 2 0 8 2 4-4 3-5-3zM1359 852l14 8 3 4-16 8-3 8 5 8-2 8-36-2-1-2 9-1 9-7 1-8 5-4-1-8zM1158 896l6-2 4 1 0 11-12 10-9 0 5-13zM1116 976l4 1 7 15-1 4-6 4-12-2-8-6 2-8zM1085 1016l7 0 3 4-3 6-4 1-4-3-2-4zM1170 1048l8 0-2 8-4 5-20 12-10-1 1-12zM1366 1048l2 0 4 4 1 8 0 8-5 8-4-1-4-11 2-12zM1062 1112l6-1 5 5-2 4-7 2-4-2-1-4zM1027 1128l5-1 4 2 2 3-2 6-8 2-4-4 0-4zM1254 1176l6-2 8 1 15 13 1 4-5 4-7 2-20-2-4-4 0-4zM1116 1180l10 0 2 4-8 6-4-1-5-5zM756 1188l8-1 12 2 3 3-1 4-6 6-12 3-28 0-12-5 20-10zM313 1212l3 0 8 7-3 9 7 14 32 10 4 4-1 4 5 8 3 12-1 8-3 4-15 3-12-3-13-8-3-8 0-8-4-3-18-1-1-4 5-8 0-8-3-8 1-8-4-4-1-4zM1094 1220l10-2 4 2 1 4-5 4-4 1-14-5zM460 1244l4 0 4 3 4 9-4 0-9-8zM890 1376l6-1 2 1 1 4-7 2-3-2zM758 1396l42-1 2 1 2 4-28 7-16 0-8-3-2-4z"/><path fill="#888888" d="M1344 4l12-1 16 6 16 1 8-3 3-3 1-4 12 0 10 8-22 3-16 12-8 1-34-4-10-4-1-4zM1263 20l13-2 12 3 5 3 13 20-6 12-4 3-24 3-4 2-2 4 2 16 14 20 0 12 34 16 12 12-7 16 1 4 10 8 2 12 18 6 8 6 3 8 13 2 12 6-2 12-11 12-6 12 1 12-6 6-28 7-4-1-15-8 1-8-6-12-4-2-36 0-12-6 0-4 28-1 11-3 0-4-7-7 0-5 4-5 12-3 3-4 1-8 4-4 0-4-23-16-2-12-6-4 2-4 7-4 0-4-2-2-28-10-24-4-16-8-28 1-16 4-5-1-2-4 4-4 0-4-8-8-2-4 14-12 0-16 15-3 28 6 8-2 4-9 12-11 1-17zM1367 32l9-3 8 0 8 6 1 5-5 6-16-1-7-5-2-4zM1084 44l9 0 3 4-4 2-8-1-2-1zM1383 56l5-2 8 3 5 7 3 12-4 17-4 5-8 4-10-6-5-12 2-16zM1182 144l18-3 17 7-13 9-12 4-4-1-7-8-2-4zM1264 148l8 1 4 3-16 4-5 0-4-4zM1140 156l4-3 4 1 6 6-10 1zM1185 168l8 0-2 4-3 1-12-1zM1199 224l9-3 15 3 4 4 1 12-4 2-20 0-15-6-1-4zM1209 248l11 0 8 4-4 4-18 0-2-5zM1135 312l21 0 13 4 3 4-4 6-16 4-20-1-13-5-1-4 4-4zM1292 348l14 0 4 4 0 4 6 3 18 1 15 4 5 12-1 8 2 4-2 4-5 1-9-5-6-8-9-6-21-2 0-4-10-8 2-4-3-4zM1252 388l4-2 4 2 0 6zM1259 400l1-3 4 0 10 7 3 16-5 6-8 0-28 5-18-3-2-4 8-5 22-3-2-4 3-4zM1421 400l3-1 5 1 10 16-1 16-6 8-12-6-3-6-1-12zM1068 404l8-2 10 2 0 8 27 28-1 5-4 3-22-8zM1358 424l10-2 6 2 2 4-4 3-19-3zM1275 432l5 0 5 4-5 0zM1361 440l11-2 5 2-9 4-4 0zM815 448l9-3 11 3 15 16 0 4-6 8-8 3-12-1-20-5-12 1-7-2-2-4 1-4 4-3 12 3 4-1zM1285 460l3-1 12 5 4 4-2 4-6 2-16-3-16 5-9-4-2-4 0-4 3-2zM1199 468l9-3 25 7-4 4-3 8 0 8 6 8 26 20-18 13-8 3-8-4-8-9-8 1 1 4 4 4-1 3-4 4-5-3 0 4 11 4-6 0-6 4-2 24 10 16 3 12 3 4 12-5 9 5 9 20-4 12 6 6 16 8 8-5 4 1 8 6-8 11-1-3-11-6-7 6 3 8-2 20 2 19-7 21-3 20-6 6-8 4-4-2-5-8 2-16-1-4-20-7-18-21 1-12-4-8-1-16 5-20-4-8-5-20-7-16-1-12-5-8 2-8-4-12 2-12-7-16 6-5 12-1 19 6 1 2 8-6 0-4-5-4 1-3 8 0 10-9 1-4-7-5-8-1-12 3-4-3 0-7 18-3-2-4-18-4 2-6zM1372 468l4-3 4 1 2 2 0 4-10 1zM496 472l4-3 2 3 0 8-2 5-4-3zM918 480l9 4 15 16 18 35 7 9 45 71 80 58 43 51 36 36 6 12-40 112-12 48-36 32-6 12-5 20-6 11-54 57-19 28-8 8-75 43-43 21-25 6-20 0-16 4-28 1-24-5-80-4-76-20-72-14-16-6-72-37-44-29-52-30-18-26-22-45-1-7 21-36 6-20 2-16 8-18 12-2 16 8 20 2 13-2 12-8 1-4-10-12 0-4 4-4 19-4 3-8-6-16-10-8-10-2-24 1-60 10-17 19-15 10-24 11-24 2-52-1-4-2-8-16-8-8-40-14-7-6 4-8 19-16 3-8-36-88-9-32-4-32 4-32 6-17 8-2 108 0 35-13 10-12 7-4 7 4 16 16 2 8-12 28-13 6-20 2-12 7-1 45 3 12 15 32 20 72 5 8 18 18 12 7 8-4 20-15 8-3 32-8 28-2 8-4-4-17 0-8 20-48 10-36 1-36 9-26 15-26 49-40 64-21 24-6 20 0 44-8 32-1 12-3 44-1 16-3 20 1 40 22 12 3 36-16zM396 924l-8 2-12 7-10 15-1 12 3 11 4 7 8 6 12-1 11-7 7-8 3-8 2-12-3-8-8-13zM904 539l-1 1 5 4 9 0-5-6zM1356 480l8-2 13 6-5 4-4 0-17-4zM681 484l11-2 4 2 1 4-5 2-8 0-3-2zM1024 492l8 2 19 14 27 36 14 25 16 22 32 9 6 28 0 28 4 16-2 12-4 2-35-34-41-51-54-49-8-20-3-16 10-16zM1299 492l12 0 9 4 12-5 8 1 7 12-4 20-3 6-4 2-4-3-8-29-4-3-9 7-7 1-8-9zM1271 496l9 1 9 7-4 12 4 8-5 3-12-3-10-8 0-12zM484 508l1 4-1 4-4-1-1-3zM1243 548l5-2 5 2-5 3zM1264 604l4-1 6 5 0 8 6 4 2 4-2 4-8 1-9-5 0-4 5-4-6-8zM22 636l3 0 1 4-2 2-4-2zM1421 656l6 0 2 4-5 4-12 4-8-2-4-6zM1454 744l2 0 0 12-5-4 1-7zM1225 776l7-4 4 4-8 14-4 0-2-6zM1417 780l7-2 32 2 0 22-6 22-10 20-12 12-6-8 1-4 9-8-1-4-6-4 6-8-4-4 2-4-5-10-10-6-1-8zM1424 796l4 3 7-3-7-2zM0 788l0-2 12 1 16 4 4 4 30 41 11 28-4 8-13 7-8-2-24-22-24-14zM1354 864l6-3 7 3zM1112 980l4-1 8 6 3 7-3 5-4 2-8-1-11-6 3-8zM1086 1016l6 1 2 3-2 5-4 1-3-2-2-4zM1164 1052l9 0-3 8-20 12-4 0-2-8 2-4zM1363 1052l5-3 4 5 1 10-5 11-4-2-2-5zM1063 1112l5 0 4 3-2 5-6 2-4-2-1-4zM1028 1128l5 0 4 4 0 4-5 4-7-4-1-4zM1260 1176l12 3 9 9 1 4-5 4-9 2-16-4-3-2 0-4 4-8zM738 1192l26-3 12 3 0 4-4 5-12 3-27 0-11-4zM891 1376l6 0 1 4-6 1-2-1zM762 1396l30 1 7 3-9 4-14 2-22-2-2-4z"/><path fill="#8c8c8c" d="M1355 12l5-3 26 3 3 4-9 6-21-2-9-4zM1266 20l10-1 12 3 17 22-9 14-20 2-10 4-2 4 2 16 14 20 0 12 4 4 32 15 9 9-7 16 12 16-2 6-4 2-12-4-16-12 0-8-6-8 8-12-6-6-20-6-32-6-16-7-32-1-8 2-6-12-6-4-2-4 13-12-1-12 1-4 5-2 22 2 16 8 2 4 5 0 3-6 3-14 10-8 1-20zM1372 32l12-1 7 5 0 4-3 4-4 1-12-1-5-4-1-4zM1384 60l8-1 4 4 5 13-1 8-3 8-9 5-8-5-4-12 2-12zM1187 144l13-1 11 5-10 8-9 2-4-2-2-4zM1256 152l8-1 6 1-10 2zM1323 188l1-2 20 5 8 5 8 9 16 2 10 5-4 16-16 20 1 12-3 3-28 3-12-2-2-4 2-4-12-16-32 1-13-5 5-4 16 1 16-5-1-4-10-8 1-4 6-4 12-1 4-3 0-12zM1198 228l10-4 8 1 4 3 1 8-13 2-12-1-4-5zM1127 316l13-3 12 0 11 3 5 4-2 4-10 4-16 0-16-4-1-4zM1305 364l27-2 12 2 7 12-3 3-8 0-16-9zM1423 400l5 0 9 16 0 8-5 13-8-1-7-8 0-16 2-8zM1073 404l8 0 1 4-2 2-4 0-3-2zM1258 404l6-2 6 2 2 15-4 1-18-8 2-4zM1082 420l2-2 8 3 19 19-1 4-6 2-14-6-6-8zM1233 420l21 4-7 4-15 1-9-1-3-4zM817 448l11-2 11 6 9 12 0 4-7 8-17 1-17-5-3-3-12 5-7-2-2-4 5-7 11 3 1 3 4-2zM1258 464l34-1 7 5-3 4-16-3-16 4-4-1-3-4zM1203 468l9-1 14 5 0 4-5 12 5 8-2 3-12-3-16 0 22-8-6-5-16-6 1-5zM496 472l4-2 1 2-1 12-4-4zM682 484l10-2 3 2 1 4-4 2-8-1zM911 484l9-4 4 2 16 16 19 38 53 80 80 58 42 50 32 32 9 12-3 16-37 100-11 48-36 31-5 9-10 32-57 60-22 32-26 17-52 29-46 22-18 4-28 1-16 4-28 1-20-6-32 0-20-3-28 0-80-23-48-6-29-8-77-40-46-30-20-10-32-20-17-24-23-48 3-12 18-28 11-43 4-8 4-3 36 9 16-1 16-6 6-8-10-12-1-4 7-4 14-2 3-6 0-8-7-15-8-6-8-2-32 1-28 6-24 0 16-14 12-6 32-8 24-1 12-3 2-4-5-16 1-8 20-48 9-36 1-36 10-28 14-24 52-41 60-19 24-6 20 0 44-8 32-1 12-3 40 0 16-4 16 0 12 3 36 20 12 3 40-18zM388 924l-17 12-7 16 0 12 4 12 4 6 8 5 12-1 16-11 5-7 4-16-2-12-10-16-9-3zM904 536l-3 4 4 4 10 4 6 0-9-11zM1019 496l5-3 8 2 18 13 27 36 15 28 16 20 28 7 4 3 5 26 3 52-4 3-4-2-24-22-47-59-54-48-11-32 8-16zM1300 496l4-2 8 2-4 3zM1329 496l7-3 9 11-2 20-3 5-4 2-4-3-6-24zM1227 500l13 9 10 11-5 8-9 6-8 0-3-2-9-12 1-4 9-12zM1268 500l8-2 10 6-3 12 3 4-2 5-8-1-5-4-6-12 0-4zM1176 528l18 4 8 12-5 28 7 12 6 24 10 4 5-4 1-4 6 0 1 4 10 12 0 4-5 8 1 4 10 8 6 8-2 8 4 8 1 36-9 28-2 16-7 6-9-2 0-24-7-5-14-3-18-20 2-8-4-12-1-16 5-20-18-46 1-10-5-8 2-8-6-12 4-12-8-14 0-2zM275 544l5-3 4 1 18 18 3 8-13 28-12 5-20 2-12 6-2 7 0 44 18 40 20 72 8 12 27 24-1 4-10 14-8 6-32 16-24 2-52-1-6-5-8-16-6-5-40-14-6-5 4-8 20-16 2-8-36-88-9-32-4-32 8-44 2-4 7-2 108 0 36-13zM1267 620l9-1 4 5-4 4-4-1-6-3zM1272 648l8 2 0 4-4 3-4-3-2-2zM1231 776l1 4-4 4-1-4zM0 788l8-1 16 4 8 5 29 40 11 28-4 8-12 5-7-1-25-22-24-15zM1106 984l6-3 8 1 5 6 0 8-9 3-9-3-4-4zM1088 1016l6 4-2 5-4 1-4-5zM1363 1052l5-2 4 7 0 9-4 8-4-2-2-4-1-8zM1064 1112l4 0 4 4-4 5-4 0-4-3zM1031 1128l6 4-1 4-4 3-7-3 0-4zM1256 1180l4-2 8 1 12 9 1 4-9 5-16-1-5-4 0-4zM740 1192l24-2 8 2 2 4-2 4-13 4-23 0-12-4zM892 1376l5 0 1 4-8 0zM753 1400l15-4 27 4-8 4-19 2-12-2z"/><path fill="#919191" d="M1362 16l6-2 16 2-8 3zM1271 20l9 0 9 4 15 20-8 12-24 4-8 4-2 4 1 16 15 20 2 16 10 4 4 4-6 1-40-6-24-9-32-3-17-11-3-4 13-12-1-12 4-5 18 1 9 4 4 8 9 3 12-3 0-16 11-12 0-20 13-10zM1369 36l7-3 8 0 4 3 0 4-4 3-8 0-6-3zM1382 68l6-4 4 1 4 5 1 10-5 10-4 1-4-1-4-6 0-8zM1300 136l4-2 8 2 10 8-8 16 13 16-3 5-8-1-17-12 1-8-6-8 6-8zM1194 148l10 0-3 4-5 1zM1323 196l1-3 20 3 12 11 16 1 12 4-4 16-18 20 2 9-4 3-27 0-14-20-3-1-33 1-2-4 15-3 12-5-1-4-11-7 0-5 8-3 16 0 7-9zM1135 316l17-1 10 5-2 4-4 2-16 0-9-2-3-4zM1420 404l4-4 4 1 7 15-2 16-5 4-8-4-2-4-1-12zM1090 432l2-3 8 3 8 8-4 3-9-3zM820 448l12 0 8 7 7 9-1 4-6 7-12 2-17-5-5-8zM785 464l7-2 5 2 2 4-3 4-8 1-4-5zM498 472l2-1 1 5-1 6-4-3zM1203 472l9-3 9 3 1 4-6 5-13-5zM682 484l10-1 3 5-7 2-4-1zM913 484l7-2 4 1 16 17 18 36 53 80 81 59 41 49 32 32 9 12-2 14-38 102-12 48-34 29-6 11-6 24-4 8-57 60-23 32-76 44-44 22-24 6-24 0-16 4-28 1-20-6-32 0-20-4-28 1-56-15-24-11-48-4-34-10-14-8-12-10-40-18-104-62-16-23-23-47 3-11 18-29 11-40 7-11 28 7 16 0 12-1 16-7 8-8-12-12-1-4 17-4 4-4 0-8-4-16-8-8-8-4-32 0-36 7-12-3 14-12 22-8 16-3 28-2 10-3-3-28 22-52 7-32 3-40 9-24 12-22 52-42 63-20 21-5 20 0 44-8 32-1 12-3 40-1 16-3 16 0 12 3 36 20 12 3 40-18zM392 920l-20 12-6 8-4 12 4 24 6 11 8 4 12-1 16-11 6-7 5-16-1-16-10-18-8-3zM900 536l-1 4 4 4 21 8 0-4-12-13zM1020 496l4-2 7 2 18 12 27 36 15 28 15 20 6 3 24 5 4 4 4 24 1 32 2 12-2 8-9-4-24-22-41-54-30-28-17-12-8-8-11-32 8-16zM1334 496l6 2 5 10-3 16-2 4-4 3-4-5-4-22 4-8zM1268 504l8-3 6 3-4 12 2 5-8-7zM1225 508l7-3 4 2 11 13 0 4-3 4-8 6-10-2-8-12zM1170 532l16 0 6 4 5 8-3 4 3 8-1 8-4 1-16-13 3-4-8-8zM276 544l4-2 4 2 17 16 2 8-7 20-6 8-10 4-20 2-13 6-2 8 0 44 19 42 18 70 8 12 25 24 0 4-12 16-37 20-26 2-48-2-5-4-7-16-8-6-16-7-24-7-5-4 4-8 20-16 2-8-6-20-31-71-8-31-4-30 8-44 3-4 5-1 108 0 36-13zM0 792l0-3 8 0 16 3 6 4 30 40 10 28-2 6-12 6-4 0-28-23-24-15zM1108 984l4-2 8 1 5 5-1 8-8 2-8-2-4-4 1-4zM1084 1020l4-3 5 3-1 4-4 1zM1365 1052l4 0 3 8-4 12-4-1-2-7zM1060 1116l4-3 4 0 3 3-2 4-5 1zM1025 1132l7-4 4 4 0 4-4 3-6-3zM1259 1180l9 0 10 8 1 4-11 5-12-2-4-3 0-4zM745 1192l19 0 7 4-1 4-14 4-16-1-14-3 10-6zM755 1400l13-3 23 3-6 4-17 1-10-1z"/><path fill="#969696" d="M1263 24l13-3 11 3 16 20-9 12-22 3-11 5 0 20 11 12 4 8 0 16-8 4-20-2-32-11-24-3-16-10-2-2 13-12-1-12 4-4 10 0 8 2 3 2 4 8 8 4 17 0 5-8-1-12 9-12 0-20zM1374 36l10 0 0 4-8 0zM1386 76l2-3 3 3-3 6zM1306 140l6-1 6 5-6 12-4 3-4-1-6-6zM1303 164l5-3 9 7-1 7-13-7zM1331 204l9-2 12 7 20 0 9 3-2 16-11 13-11 7-1 4-4 3-20-5-12-12-27-2 11-3 9-5-1-4-14-8 2-4 20 1zM1136 320l12-2 6 2 1 4-11 1-5-1zM1421 404l3-3 4 1 6 14-1 12-5 7-4-1-6-6-1-12zM823 448l9 1 11 11 3 4-6 9-8 3-8-1-10-3-4-4-2-4 2-4 6-8zM785 464l7-2 6 6-3 4-7 1-4-5zM683 484l9-1 2 5-10 0zM915 484l9 0 12 12 21 40 52 80 83 61 39 47 37 37 5 11-25 74-15 38-12 48-33 28-7 12-6 24-4 8-58 60-22 32-54 32-65 32-24 6-24 0-16 4-28 2-20-7-28 1-24-4-28 1-52-15-16-8-12-12-12 6-32-1-33-9-16-12-2-8-9-9-36-7-15-12-27-12-14-10-26-10-30-20-16-23-20-41-2-8 20-32 14-45 4-5 4-1 24 4 24 0 27-9 6-4 2-8-3-4-10-4 0-4 14-1 3-7-4-24-7-8-8-4-12-3-20 1-40 7-7-1 1-4 13-8 17-6 16-3 28-2 12-5-3-20 0-8 22-48 7-36 2-40 8-22 12-22 52-42 84-26 20-1 44-7 32-1 12-3 44-1 12-3 12-1 16 4 36 20 12 3 44-20zM400 916l-12 3-16 11-6 6-5 12 0 16 4 16 7 11 12 7 8-1 20-19 5-6 4-16-1-16-7-16-5-7zM900 534l-3 6 4 4 31 12-20-22zM1022 496l7 0 19 13 24 32 17 31 15 20 4 3 24 5 6 4 5 28 3 40-2 6-8-4-24-22-28-39-15-17-29-27-16-10-8-9-9-30 7-16zM1332 500l4-2 4 2 4 8-2 16-6 6-4-6-2-8-1-12zM1228 508l4-1 4 2 9 11-2 8-7 5-8 0-8-9 0-8zM279 544l5 1 12 12 6 7 0 4-8 20-6 8-12 4-16 1-15 7-1 8 0 44 6 16 13 28 20 72 29 32 1 4-5 9-7 7-37 19-68 1-7-4-8-16-5-5-20-10-21-5-6-4 4-8 19-16 3-8-9-24-28-64-6-20-7-40 7-46 4-5 4-1 112-1 32-12zM0 792l0-2 8 0 21 6 27 35 12 30 0 7-8 5-8 1-27-22-25-15zM1110 984l6-2 4 2 5 8-2 4-7 2-8-4-2-2 0-4zM1085 1020l3-3 5 3-5 4zM1368 1052l3 8-3 11-4-1-2-10 2-6zM1061 1116l3-3 4 0 3 3-3 4-4 1zM1026 1132l6-3 4 3-4 6-6-2zM1258 1184l6-3 4 1 9 6 1 4-10 4-8-1-6-3 0-4zM734 1196l18-4 12 1 5 3-1 4-4 2-16 1-20-3zM757 1400l11-2 20 2-7 4-13 1-7-1z"/><path fill="#9b9b9b" d="M1264 24l12-2 9 2 12 12 4 8-1 4-8 7-27 5-13 7-2-3 4-12-1-16 1-4zM1188 72l4-3 8 0 8 3 3 8 7 4 18 2 10-2 4-4 2-11 6 7-2 8 12 10 6 10-2 16-8 2-16-1-24-9-14-8-18 0-12-5-4-3 13-12zM1331 212l9-3 36 2 3 5-4 4 2 8-13 15-8 3-12 0-12-4-15-10 3-9-19-7 3-2 20 2zM1422 404l2-2 4 2 6 12-1 8-5 9-6-1-4-8 0-8zM817 452l7-4 8 1 10 11 2 4-1 4-11 7-16-3-6-8zM786 464l6-2 5 6-3 4-6 0-4-4zM684 484l8 0 1 4-8 0zM920 484l8 5 10 11 13 28 57 89 84 61 37 46 39 39 4 9-24 71-17 41-11 47-34 29-6 12-6 24-5 8-58 60-22 32-49 29-56 25-16 9-20 6-24-1-16 5-28 1-16-6-32 0-20-5-32 2-51-17-13-9-12-16-4-1-16 8-20 4-12-1-15-5-8-4-1-13-8-8-28-11-28-7-8-13-20-4-28-14-24-6-34-20-18-26-20-41 0-5 18-28 11-28 4-16 7-8 48 3 32-10 9-9 2-20-6-28-5-8-8-5-20-3-36 2-16 4-5-2 24-12 18-4 31-2 10-6-3-24 9-24 15-28 6-44 1-32 6-18 15-26 49-41 84-26 20 0 48-9 28-1 16-3 40 0 24-4 16 4 40 22 8 2 40-18zM392 915l-26 17-8 20 2 20 6 16 10 12 12 6 8-1 4-4 7-13 11-12 6-24-2-16-10-21-8-3zM900 533l-5 7 4 4 25 11 8 6 5-1-25-27zM1019 500l5-3 4 0 20 13 25 34 14 28 17 22 32 10 6 28 2 42-4 1-4-3-20-17-41-55-25-24-31-24-4-8-7-24zM1335 500l5 2 3 6-2 16-5 5-4-6-2-15 0-4zM1224 512l8-4 7 4 4 8-2 8-9 5-8-4-4-9zM275 548l5-3 4 2 14 13 3 8-8 20-5 6-12 4-20 3-8 3-5 4 0 52 7 20 10 20 21 76 27 32 2 4-4 8-9 8-33 18-24 2-44-2-5-2-8-16-7-7-20-9-25-8 0-4 4-4 17-14 4-10-6-20-18-37-18-51-7-40 6-44 3-5 4-1 32-2 76 1 36-13zM0 792l12 0 16 6 28 36 10 26-1 8-9 5-5-1-24-20-27-17zM1112 984l8 1 3 3 2 4-3 4-10 0-5-4 0-4zM1364 1056l4-3 1 3 1 8-2 6-4-2zM1061 1116l3-2 6 2-6 4zM1026 1132l6-3 3 3-3 6-5-2zM1261 1184l3-1 8 3 4 6-8 3-12-3 0-4zM735 1196l17-3 15 3-1 4-2 1-16 2-17-3zM759 1400l9-2 16 2-8 4-8 0z"/><path fill="#9f9f9f" d="M1267 24l9-2 8 3 15 15 1 4-1 4-11 7-28 4-4-3-2-20 2-4zM1191 72l5-2 9 2 2 8 9 5 16 2 20-1 8 4 10 10 1 16-7 5-16-1-22-8-14-10-20 0-12-5-2-1 13-12zM1358 212l14-1 4 5-6 4 5 8-10 12-9 4-8 0-12-4-5-4-5-8 12-4-3-8zM1423 404l5 1 5 11 0 8-5 8-5 0-4-8 0-12zM819 452l9-3 7 3 7 8 1 4-1 4-10 6-14-2-7-8zM786 464l6-1 4 5-4 4-4 0-3-4zM686 484l5 0 1 4-6 0zM914 488l6-2 4 1 12 13 14 28 26 40 5 12 27 39 84 61 36 44 36 36 6 12-22 68-19 44-9 44-7 8-28 24-6 12-6 24-5 8-42 40-23 28-12 20-51 32-48 19-24 13-20 7-24-2-20 6-24 2-16-8-32-1-16-5-32 4-11-3-25-14-16-4-12-10-16-17-12 0-28 12-8 0-4-7 3-12-1-4-5-4-21-3-12-6-12 0-17-7-12-8 0-8-3-5-36-3-36-16-12-10-8 8-28-15-19-27-6-16-12-20-2-8 21-32 14-37 4-6 8-2 44 0 32-7 9-8 5-24-9-28-5-8-8-6-16-5-41-1 17-5 20-1 16-4 8-6-2-20 1-8 25-48 4-76 8-21 12-20 49-43 83-26 20 0 48-9 44-4 40 0 24-3 14 2 38 21 12 4 20-7 24-12zM396 912l-12 5-20 14-5 9-3 12 2 20 3 12 7 12 16 20 21-8 5-16 11-16 6-20-2-24-9-20-8-4zM900 531l-6 5 0 4 2 4 44 22 3-2-27-29-8-4zM1021 500l3-1 7 1 17 12 23 32 14 28 18 24 29 8 4 4 4 24 0 40-28-23-38-53-21-20-33-25-4-7-6-24 6-14zM1331 504l5-3 4 2 2 5-2 16-4 4-5-12zM1226 512l6-3 9 7 2 8-7 8-8 0-6-8 0-8zM278 548l5 0 5 4 8 8 3 8-11 24-12 5-20 2-8 3-7 6 1 52 7 24 11 19 19 73 26 32 0 8-17 16-24 13-24 2-44-3-4-2-7-14-9-8-20-11-22-5-1-4 3-3 12-9 7-8 2-8-7-24-18-36-17-48-7-40 7-44 1-3 4-2 28-1 80 1 36-13zM0 796l4-2 16 2 8 4 28 38 8 22 0 4-3 4-5 2-7-2-17-14-32-21zM1108 988l8-4 4 1 4 7-4 5-8-1-4-4zM1366 1056l2-1 2 5-2 9-4-5 0-6zM1062 1116l2-2 5 2-5 3zM1027 1132l5-3 3 3-3 5-5-1zM1258 1188l6-3 4 1 5 2 1 4-6 2-8-1-2-1zM737 1196l11-2 12 1 4 1 0 4-16 2-14-2zM762 1400l17 0-11 3z"/><path fill="#a4a4a4" d="M1270 24l10 0 4 2 13 14 2 4-2 4-13 7-16 2-8-1-5-20 5-7zM1195 72l5 0 3 8 9 5 48 6 7 9 1 16-8 4-12-1-20-7-16-11-28-3-3-2 12-12 0-8zM1351 216l17-3 3 3-7 4 9 8-6 8-7 5-12 1-6-2-3-4 16-12-5-4zM1424 404l7 8 1 8-2 8-2 3-4 1-4-4-2-12zM820 452l8-2 6 2 7 8 1 4-2 4-4 4-8 2-12-5-3-5 0-4zM787 464l5-1 3 5-3 3-4 0-3-3zM917 488l7 1 10 11 11 24 29 44 7 16 11 12 15 24 83 60 36 44 38 39 4 9-20 63-20 45-11 48-33 31-7 13-5 22-4 7-44 42-23 29-13 20-52 32-36 10-52 27-24-3-20 5-24 3-12-8-52-10-32 7-12-11-8-3-12-9-20-5-28-23-20-4-12 1-16-9-24-5-16-8-16-1-4-2-9-16-10-8-21-6-17-2-10-8 1-4-2-3-3 3 0 4-5 1-5-1-11-8-1-4 9-4 4-26 9-18 5-20-1-28-8-20-6-4-11 2-20 8-20 13-5 5-6 20 3 24 4 12 15 24 1 12-1 4-7 1-14-9-18-22-6-22-14-20 0-5 19-27 12-24 5-16 4-5 12-2 32 1 16-4 20-1 11-5 3-4 6-24 0-8-13-28-11-11-14-9 15-8 2-4-1-16 1-8 14-20 13-32 2-36 0-36 4-17 12-22 36-32 11-13 16-8 69-21 20 0 48-9 44-4 40 0 16-3 20 2 44 23 12 2 20-7 24-14zM896 531l-4 9 4 5 28 13 20 13 4-3-1-4-31-31-8-3zM1020 504l4-3 4 0 17 11 24 32 13 28 17 24 5 3 28 9 6 24 0 24-2 9-23-17-34-52-22-20-37-28-8-28zM1333 504l3-2 4 2 2 4-2 15-4 4-5-11zM1227 512l5-2 4 2 5 8 1 4-6 7-8 0-6-7 1-8zM277 552l3-2 4 1 9 9 4 4-1 8-8 16-4 4-10 4-18 1-15 7-3 8 2 48 7 24 10 20 17 68 4 8 20 24 3 8-1 4-16 15-23 13-21 1-40-2-5-3-8-12-11-11-20-11-18-2-2-3 16-14 5-7 2-8-7-24-16-32-19-52-6-36 4-24 1-22 4-4 28-3 80 1 32-10 10-6zM0 800l0-2 20 1 8 5 24 31 8 21-1 8-7 2-52-36zM1109 988l7-3 4 1 3 6-3 4-6 0-5-4zM1364 1060l4-3 0 10-4-3zM1027 1132l5-2 2 2-1 4-5 0zM1261 1188l7-1 4 5-12 0zM739 1196l17-1 5 1 0 4-13 1-12-1z"/><path fill="#a9a9a9" d="M1264 28l8-4 8 1 16 15 1 4-1 4-12 6-20 1-6-7-1-12zM1198 84l2-1 24 5 33 4 6 4 2 4 0 16-9 2-12-1-14-5-9-8-9-5-20 0-9-3zM1356 228l8-2 6 2-5 8-5 4-12 0-3-4zM1422 408l2-3 4 3 3 8-2 12-5 3-4-5-1-6 1-8zM821 452l7-2 8 5 5 9-2 4-11 5-12-5-2-4 0-4zM787 464l6 0 2 4-3 3-4 0-2-3zM915 492l5-2 4 2 8 8 13 28 27 40 5 16 15 16 13 20 27 21 56 39 38 48 37 36 3 8-7 28-15 41-17 35-12 52-33 32-8 16-3 16-7 11-41 37-25 32-10 17-51 31-37 8-56 28-16-3-44 6-16-9-20-5-7-9-5-3-24 6-16 7-8 0-12-11-72-37-28-8-40-7-20-10-12-4-16-21-23-12-7-12-2-16-8-9-6 1-10 12-8-3-1-5 5-12 6-32 2-32-12-28-4-3-16 5-50 26-4 20 3 32 16 28 2 8-3 7-8-2-4-4-17-21-2-20-13-16-3-8 24-32 9-32 6-7 12-2 28 1 20-4 16 4 12-5 7-7 7-28 0-8-11-24-13-16-3-8 4-12 1-17 16-28 13-35 1-28-2-20 2-28 4-12 10-16 48-48 17-8 63-19 20-1 48-9 44-3 40-1 16-3 20 2 44 24 12 3 24-9 28-17zM676 1035l0 3 4 2 2-4zM900 528l-9 4-2 8 3 4 32 16 17 12 3 1 6-1 2-4-1-4-31-30-8-5zM1335 504l3 0 3 4-1 13-4 4-4-9 0-8zM1021 508l3-3 4 0 16 9 21 30 21 48-2 1-12-8-49-37-3-8-3-20zM1230 512l6 1 4 7-1 8-7 4-7-4-3-8 2-4zM279 556l5-1 4 3 5 6 1 4-10 20-8 5-20 1-15 6-5 4-2 8 3 16 2 36 4 20 10 20 19 72 20 28 3 8-1 4-10 11-20 14-24 3-37-4-7-4-20-23-27-17 10-16 2-12-6-20-23-48-13-36-6-40 5-20 1-20 5-4 28-4 76 3 36-13zM1086 596l2-3 12 8 20 5 9 6 7 24-1 16-3 6-12-6-8-8-16-25zM0 804l0-2 20 1 12 9 17 24 6 16 0 4-3 4-32-18-12-11-8-5zM1110 988l6-2 4 1 3 5-3 3-4 1-6-4zM1027 1132l5-2 2 2-1 4-3 0zM742 1196l15 0 1 4-19 0z"/><path fill="#adadad" d="M1266 28l10-2 8 3 11 11 1 4-2 4-14 6-16-1-4-5-2-12zM1195 88l9-2 52 7 6 7 1 12-3 4-12 1-16-5-9-8-11-6-27-2zM1362 228l3 0 1 4-3 4-7 3-7-3 3-4zM1423 408l1-1 4 2 3 7-2 12-5 2-5-10 1-8zM823 452l5-1 9 5 4 8-5 6-12 2-8-6-1-6zM788 464l4 0 2 4-2 2-4 0-2-2zM917 496l7 0 8 8 9 24 16 28 11 13 8 21 12 9 20 26 80 57 35 46 17 15 20 21 4 8-8 31-17 45-14 28-13 50-32 34-16 39-16 17-28 24-33 44-28 20-24 12-35 7-24 14-28 6-12 0-32 9-20-2-8-8-16-6-4-9-8-4-40 8-16 7-52-33-20-4-12-8-16-3-16-8-40-5-22-13-8-8-21-36-2-12-3-4-20-10-20-18 1-32 5-20-12-20 2-6 20-17 4-5 7-32 0-12-13-28-9-12-1-8 4-21 15-39 4-16 8-16 0-28-3-20 2-28 10-21 49-51 11-8 11-4 57-17 20-1 48-9 44-4 40 0 16-4 24 4 48 26 32-3 3 16 5 7 30 13 18 14 8 2 4-1 5-7-1-8-40-32-28-7 1-5 4-4zM672 1032l-3 4 3 6 8 2 7-4 1-4-4-5zM1333 508l3-3 4 3-1 12-3 4-4-8zM1024 516l4-4 13 4 21 32 10 29-22-13-24-20-3-20zM1225 516l7-4 4 2 4 6-2 8-6 3-7-3-2-8zM275 564l9-3 4 3 1 4-12 20-5 3-16 0-20 7-5 6-2 8 5 20 6 56 18 48 10 40 17 24 5 12-8 12-22 15-20 2-32-4-8-4-20-23-14-6-7-8 0-8 5-16-1-12-5-16-26-51-12-45-3-24 7-36 4-4 24-5 76 5 28-10zM1098 608l18 0 11 8 6 20-1 10-4 5-8-2-5-5-16-28zM0 808l0-3 16 2 8 4 20 25 2 12-6 0-17-8-15-14-8-4zM411 880l9 0 3 4-2 4-53 28-8 0-3-4-1-16 6-12 10-3 24 1zM337 952l3-1 4 3 2 10-2 5-9-9-1-4zM1111 988l5-2 4 2 2 4-6 3-6-3zM347 992l5 0 8 10 4 7 0 6-4-1-5-6zM747 1196l5 0 2 4-11 0z"/><path fill="#b2b2b2" d="M1268 28l12 0 11 8 4 8-3 4-16 5-12-2-4-7-1-8 3-4zM1199 88l53 6 5 2 2 4 1 12-4 3-12 0-10-3-18-14-28-2 2-4zM1356 232l7 0-3 4-4 0zM1421 412l3-4 4 3 2 5-2 11-4 2-4-7zM824 452l8 1 7 7 1 4-4 5-12 2-8-6 0-5zM774 500l10-1 16 2 48 27 12 2 16 0 14 18 29 12 25 18 8 1 12-3 9 16 15 11 20 25 80 57 31 43 19 16 22 28-5 28-19 49-13 23-9 40-7 16-27 29-18 39-17 20-28 24-33 41-32 21-24 11-28 6-24 12-24 4-16-2-16 9-20 3-8-2-8-7-32-19-20 4-44 1-8-4-12-10-28-14-16 2-16-9-16-3-16-9-40-8-6-3-12-12-4-12-10-8-2-20-5-12-25-23-11-17-5-24 2-20-6-12 14-16 9-40-1-12-12-24-10-32 8-20 0-16 7-16 5-20 7-16-3-44 3-16 0-16 2-8 7-11 48-51 8-6 12-6 44-14 76-13 48-4 40-1zM676 1027l-9 5-2 8 4 4 7 3 12-3 3-4-1-8-6-4zM913 504l7-3 8 4 6 15 1 8-2 4-17-9-15-3-4-4 3-4zM1334 508l2-2 3 6-3 11-3-7zM1226 516l6-3 4 2 3 5-1 8-6 3-6-3-2-8zM1032 520l4 1 21 27 3 12-4 2-4-2-20-19-3-17zM276 572l0 8-4 5-16-1-12 6-12 3-6 11-1 8 7 40 3 36 19 48 11 44 15 20 4 12-8 12-16 11-20 2-28-3-12-6-16-21-16-7-3-4 2-36-5-16-9-16-7-20-10-16-4-24-7-20-3-28 5-24 5-8 16-3 16 2 12-2 28 1 28 4 8-6 16-3 8-5zM1108 612l8 1 8 6 4 17 0 5-4 3-4-2-14-22-1-4zM0 812l0-2 12 1 8 3 6 6 6 12-4 3-6-3-14-12-8-3zM370 884l14 0 22 4-14 13-24 10-4-3-4-12 3-8zM1113 988l6 0 2 4-5 2-4-1z"/><path fill="#b7b7b7" d="M1272 28l8 1 9 7 4 8-3 4-14 4-8-1-4-2-3-13 3-5zM1193 92l11-3 48 7 4 4 0 12-8 2-12-2-20-15-8-2-14 1zM1422 412l2-3 4 3 2 4-2 10-4 2-4-8zM819 456l5-3 8 1 6 6 1 4-7 6-8 0-7-6zM765 504l19-3 20 3 44 26 26 6 14 13 27 11 25 19 8 3 12 1 4 2 8 10 16 12 18 21 78 57 32 43 20 18 18 22 3 8-5 24-15 40-14 28-12 44-7 16-25 28-18 36-16 20-28 24-33 40-32 22-28 12-24 4-24 11-24 3-20-1-20 7-16-1-44-21-20 3-24-8-20 3-27-14-17-12-8-2-16 4-24-6-33-20-19-4-15-16-2-12-12-20-39-40-2-8 1-12-7-10-1-6 15-84-2-11-15-33 3-20-3-16 0-20 9-16 1-16 8-20-3-48 4-16-1-16 5-12 47-52 13-11 8-4 44-15 78-14 46-4zM668 1027l-8 9 0 4 4 5 8 4 8 1 12-6 3-8-6-8-9-3zM917 508l5 0 4 4 2 4-4 4-11-4-2-4zM1335 508l3 4-2 9-2-5zM1226 516l6-2 4 2 3 8-3 5-4 1-5-2-3-8zM148 592l12 3 16-4 24-2 15 3 7 4 0 24 8 40 0 28 19 48 11 44 13 16 6 12-3 10-16 13-16 2-36-5-10-8-10-16-17-8-2-8 5-20-1-8-7-20-8-12-6-20-12-20-3-24-6-16-4-24 0-8 6-20 3-2zM371 888l13 0 5 4-1 4-16 7-4-1-3-6 1-4zM1115 988l2 0 3 4-4 2-4-2z"/><path fill="#bcbcbc" d="M1265 32l7-3 8 2 8 5 3 8-4 4-7 2-12 0-5-6-1-8zM1217 96l11-3 21 3 3 4 1 8-3 4-10 0zM1422 412l2-2 5 6-1 8-4 3-3-7zM820 456l8-3 4 1 5 6 1 4-6 5-8 0-7-5zM774 504l18-1 16 5 40 24 24 8 16 12 24 9 28 21 20 7 25 19 22 24 76 56 33 44 21 20 16 24-4 24-9 20-4 16-16 32-16 52-9 16-19 20-20 36-15 20-28 24-29 35-36 24-24 9-40 11-16 2-16 5-24-2-32 3-24-7-16-9-24 2-20-9-36-5-24-15-8-3-12-1-16 2-16-2-7-4-22-20-19-3-8-5-7-8-13-34-12-13-12-8-14-17 1-20-4-12 7-16-9-24 7-44-1-8-15-32 3-28-5-20 1-12 9-12 0-16 6-20-2-48 4-16 0-24 21-28 15-17 24-23 12-6 16-4 24-10 76-14 52-4 36 0zM672 1024l-8 3-6 5-2 8 1 4 7 5 12 3 8 0 8-4 4-5 1-7-4-8-9-4zM1227 516l5-1 4 2 2 7-2 4-4 2-5-2-2-8zM179 596l21-3 11 3 6 4 1 24 8 36-2 28 20 48 10 44 5 8 12 12 4 8-3 8-16 12-12 1-20-2-16-4-8-8-9-15-14-8-1-3 5-29-34-72-5-28-7-16-3-24 4-15 4-5 8-1 12 4z"/><path fill="#c0c0c0" d="M1267 32l5-2 8 2 6 4 4 8-10 5-12-1-4-8 0-4zM1221 96l7-2 16 2 4 4 1 8-5 2-8-2zM1423 412l3 0 2 4 0 5-4 4-3-9zM821 456l7-2 4 1 5 5 0 4-5 5-8 0-6-5 0-4zM725 508l35 0 20-3 20 2 13 5 35 22 24 9 16 11 25 10 23 18 24 12 20 14 24 24 76 57 29 39 24 24 16 24-3 24-9 20-4 16-13 25-14 47-12 24-17 20-25 40-16 22-27 22-29 34-44 26-48 12-20 0-16 7-16-3-44 1-36-12-20 2-24-10-28-3-28-15-16-4-36-2-6-5-5-12-4-4-17-6-16-1-8-5-4-22-12-21-9-13-16-8-11-13-1-11 8-16-1-20-13-20 0-12 6-16 0-12-3-12-11-28 1-32-7-20 2-8 7-12 1-20 4-12-2-56 5-16-1-16 2-8 23-32 32-32 12-8 16-3 28-12 12 0 64-14zM664 1024l-7 4-5 8-1 8 3 4 14 6 12 2 12-5 7-7 0-12-7-7-12-4zM1229 516l3-1 5 5-1 7-4 2-4-1-3-4 0-4zM187 600l13-2 8 4 4 4 0 22 9 32-5 32 9 20-1 4-4 2-4 6-4 13-16 2-12 6-4-4-27-53-3-12 1-16-6-16 3-4 4 1 4-3 6-18 10-8 6-8zM230 732l6 1 4 7-3 32 3 11 24 16 5 9-5 9-12 8-28-3-12-5-8-7-17-26 1-13 8-9 12 6 8 0 8-12 0-4-7-8-1-4z"/><path fill="#c5c5c5" d="M1271 32l5 0 9 4 3 8-12 4-8-2-2-10zM1225 96l13 0 6 4 0 4-4 3-13-7zM1424 412l3 4 0 4-3 4-2-8zM823 456l5-2 4 2 4 4 0 4-4 4-8 0-5-4 0-4zM775 508l21 0 16 5 40 25 20 8 16 10 24 10 24 19 44 27 21 20 15 11 8 8 24 15 12 12 20 14 10 16 19 24 23 24 13 20-1 20-10 24-3 12-14 28-14 48-15 26-12 15-27 43-17 22-25 18-27 33-24 16-24 12-44 7-20 0-16 8-12-3-16 1-20-5-12 2-40-10-12 2-12-6-40-7-52-21-16 1-9-6-10-12-16-8-7-8-18 0-24-48-28-20-6-8 1-4 9-12-2-24-12-24 5-32-14-36 0-44-6-16 5-20 0-16 6-16-4-52 6-20-1-16 15-28 17-20 29-27 44-17 20-2 60-13 48-3 32 1zM672 1019l-12 4-7 5-7 12-2 8 4 4 24 7 16-1 8-5 6-9 0-12-10-10-12-3zM1226 520l6-4 4 3 1 5-3 4-5 0-3-4zM175 632l5-4 4 1 13 11 3 8-8 6-8 0-3-2zM168 688l5 0 3 4-3 4-8-4zM175 704l1-2 8 0 6 6-2 4-8 2-4-4zM208 784l16-2 4 2 4 11 4 4 12 3 9 6-2 8-11 4-20-7-4-9-14-8-1-8z"/><path fill="#cacaca" d="M1268 36l4-3 8 2 6 5-1 4-5 3-8-1-4-4zM824 456l8 1 4 7-4 3-8 0-4-5zM727 512l33 1 24-4 20 3 48 29 60 27 36 28 32 19 12 13 22 16 10 10 22 14 12 12 18 12 25 36 27 28 14 24-2 16-13 36-12 24-6 28-9 22-21 30-15 28-11 12-8 16-13 16-32 24-24 29-16 7-8 8-20 11-76 6-11-17-13 2-16-8-6 2-10 14-8 4-16-4-16 2-7-12-9-3-28 6-8-1-7-6-4-8 10-20-1-12-10-10-16-5-24 4-8 7-16 23-8 4-4-2-12-13-16-8-12-12-16-5-10-15-6-20-16-12-6-8-1-16-7-20-1-16-12-20 0-12 4-20-14-36 2-16-4-12 2-20-6-16 4-32 5-12-5-56 6-16 1-24 19-32 41-38 16-5 24-10 20-2 32-9 28-5zM1227 520l5-3 4 3 1 4-4 4-3 0-4-4z"/><path fill="#cecece" d="M1270 36l10 0 4 4-2 4-10 0-3-4zM827 456l7 4 1 4-3 2-4 1-7-3 0-4zM777 512l15 0 16 4 44 27 36 18 18 7 42 32 28 17 10 11 26 18 8 9 24 15 31 26 22 32 27 28 13 24-1 16-11 32-14 28-7 30-8 18-16 16-7 12-5 16-8 16-12 12-5 12-7 8-16 11-8 9-24 20-12 15-8 5-12 0-4 2-6 10-18 13-24 2-20-7-4-3-7-13-5-2-16 6-20 2-24-4-16 6-8-3-8-12-20 10-16 0-27 5-6-8 5-20-2-8-12-12-18-5-16 1-12 3-15 13-9 12-4 1-8-13-20-6-16-14-12-6-7-6-1-16-2-4-22-20-7-32-1-16-17-28 4-24-13-40-2-48-6-16 8-44-4-24-2-32 7-16 0-24 17-28 40-39 40-15 20-2 56-15 52-3 36 1zM1227 520l5-2 4 6-4 4-5-4z"/><path fill="#d3d3d3" d="M1272 40l4-4 5 4-5 3zM822 460l6-3 5 3 1 4-6 2-4-1zM771 516l17-1 20 4 24 16 80 40 36 31 60 41 12 12 24 14 22 19 30 40 23 24 12 24-3 24-7 24-14 28-3 16-16 32-20 17-4 23-8 16-13 12-7 14-20 14-11 16-21 15-12 14-24 6-16 19-8 5-20 1-28-22-8-4-16 4-12-2-12 4-8 0-12-15-4-1-24 1-20 11-20-1-12 7-8 0-4-6 0-16-4-8-12-10-16-5-32 1-20 11-20-4-28-19-14-6-4-16-22-25-8-19-1-8 5-24-6-12 2-5 4-2 4-5-4-4-8 7-8-3-1-4 3-8-15-32-4-24 0-28-8-28 8-44-6-24-1-32 6-12 0-24 3-8 15-23 32-33 8-6 32-11 24-4 34-11 22-4zM1228 520l4-2 3 6-3 3-5-3z"/><path fill="#d8d8d8" d="M823 460l5-2 5 2 0 4-9 1zM768 520l16-3 24 6 18 13 62 32 20 8 36 33 60 40 12 12 28 17 17 14 14 20 38 44 13 24-2 20-6 24-14 28-4 16-23 32-18 8-4 4-2 8 5 20-6 14-20 21-12 6-20 31-8 0-8-3-2 3-1 12-9 12-8 5-16 2-24 21-12 6-8-1-21-17-8-12 0-12-15-11-4 2-1 5 6 16-6 4-19 0-12 2-8-6-4-15-4-3-12 2-21 12-19 4-28-3-23-21-21-6-32-2-20 9-8-1-20-12-12-14-16-8-10-18 1-4 6-8-1-7-4-1-16 4-8-6-3-6 0-8 3-8 15-16-2-20 4-20-11-8-22-6-8-7-4-7-3-28 1-24-8-32 7-20 0-12-3-20-4-12-2-28 7-16-1-20 2-9 12-18 8-5 24-30 13-10 23-8 28-6 36-12 20-4zM568 914l-4 5-1 5 5 9 16 5 8 10 7 4 9 0 4-4-2-4-10-5-8-8zM1229 520l4 0 2 4-3 3-4-3z"/><path fill="#dddddd" d="M824 460l4-2 3 2 0 4-6 0zM723 524l69-1 16 6 12 10 17 5 51 28 19 8 24 24 9 12 12 4 21 16 28 16 11 11 28 16 16 14 13 19 25 28 26 39 0 17-6 16-1 12-17 26-2 14-3 4-12 16-15 11-8 2-20 0-4 3-1 8 4 16 11 12-7 20-11 10-19 10-9 15-8 1-16-6-5 2-2 4 2 12-6 20-5 3-19 5-5 12-4 2-5-2-4-12-11-12-8-2-12 5-22-23-18-4-12-7-5 3 3 12-6 6-12-3-28 6-18 15-18 3-16-8-16 0-12-10-8-3-39-10-8-20 0-8 20-8-1-4-12-7-8 0-4 14-8 5-3 12 4 16-9 7-8 0-20-8-16-20-8-7 0-6 28-2 16-14 12 1 8-3 0-4-20-2-20-14-18-16 0-12-2-6-12 3-4-2-4-7 0-7 12-9 5-8 0-4-13-1-31-19-13-12-9-24 1-20-5-12-2-20 7-28-8-36-1-28 8-20-2-16 2-8 5-8 16-12 20-31 20-13 12-4 16 0 24-11 32-10 16-2 28 2z"/><path fill="#e1e1e1" d="M659 532l21-3 28 7 16-6 12 1 20-3 16 3 16-3 12 8 8 14 4 0 12-4 12 2 52 29 16 6 9 9 19 31 20 5 12 10 34 18 14 14 28 14 14 12 10 18 24 26 11 24 13 12 3 12-9 24-2 12-16 24-4 16-8 14-4 4-8 2-20 1-12-4-8 3-4 16 5 16 2 20 3 8 0 8-6 5-24 11-8 6-4 2-12-5-20 13-2 4 7 16-5 12-4 3-24 0-29-11-23-14-20-6-8-11-4-2-28 9-13 16-19 3-12 8-16-2-16 2-13-3-17-12 3-4 15-8 1-4-5-5-21-7-3-18-9-10-2-16-3 0-3 4 3 12-5 4-9 2-8-2-12-12-16 1-20-10-12-11-4-8 4-12 14-16-1-12-4-8-9-6-12-4-16 4-8-2-20-12-8-10-13-22 0-8 5-12-1-4-10-12-2-12 6-36-7-32 1-28 7-20 3-16 3-6 11-6 8-20 32-36 33-1 12-9 16-5zM1036 827l-4 3 0 5 4 1 2-4zM617 976l7-2 4 2 2 12-2 7-12 0-9-7-1-8z"/><path fill="#e6e6e6" d="M662 536l21 0 13 12 4 12-4 16 1 8 3 8 4 3 4-2 2-5 2-17 11-11-4-16 5-4 8-2 52-2 7 4 6 12 11 13 8 1 8-6 8-1 12 6 12 1 20 10 27 16 6 16 12 16 11 7 16 3 40 30 15 24 21-4 16 8 9 8 5 12 14 20 16 12 8 24 14 12 2 8-13 28-3 16-13 16-3 14-7 10-21-10-9-10 11-24-1-12-9-3-12 7-3 4-4 12 6 16-15 17-12 1-1 2 2 16 14 28 1 8-10 16-6 6-4 1-8-7-8-3-8 3-12 28-12 8-7 12-1 4 8 12-3 4-5 0-6-4-4-4 0-8-2-4-4-2-4 0-12 6-4 0-12-8-18 0-10-3-8-10-5-15-7-4-11 0-17 11-16 1-12 12-8 3-8-3-20-24-4-2-5 2-7 13-16-3-6-6-10-24 8-12-16-8-28 2-12-2-12-5-12-11 2-28 2-4 12-7 4-5 2-12-2-5-8-1-12 14-4 2-8-2-28-14-8 1-12 5-14-8-13-16-3-8 7-12 0-8-12-16-9-6-3-10 8-52-10-16 5-32 12-26 12-7 8-29 4-3 12 2 12-9 10-4 2-4-3-4-9-2 0-3 20 1 12 11 4 1 4-4 5-20 3-4zM924 852l-3 8 3 2 3-6z"/><path fill="#ebebeb" d="M656 548l8-4 4 1 11 7 5 6 0 30 6 16-1 20 23-2 16 4 4-2 6-8 0-8-14-12-1-4 7-8 0-12 6-4 18 0-2-12 3-4 5-2 11 2 2 8 3 3 12-3 4 2 2 6-3 20 5 4 12-5 16-1 16-7 20 4 8 5 16 0 12 12 4 20 5 8 7 4 32 12 16 12 0 28 8 12 20 10 12 3 28 0 4 4 4 15 4 4 12 3 5 5 19 5 4 7 3 20 13 8 3 4 0 4-3 6-4 2-12-5-4 1-6 4-6 10-20-3-9 1-18 12-8 20 2 12-3 6-4 2-16-1-9 5-1 8 9 12-4 16 1 6 17 14-1 4-4 5-8 3-20-13-16-2-4 2-8 13-16 2-10 10-18 5-6 7-5 16-5 1-12-4-6-17-6-4-16-2-16-8-16-4-4 2-3 4-3 12-10 17-8 6-8-5-10-14-4-16 0-16-6-2-12 8-8 1-9-15-13-8-1-4 7-12-4-4-16-2-20-7-8-11-3-8 3-8 16 3 5-3 0-4-8-16 4-28-16-24-9-2-12 2-4 5-6 19 1 8-3 2-8-4-12 6-12-1-12 9-8 3-4-1-12-8-6-2 2-12-4-16-26-24-3-8 5-32 4-6 14-6 2-4-4-5-20-10 0-9 4-1 20 14 9-5 4-8-7-24 1-20-2-16 3-11 4-4 12-3 12-10 40-2 14-14 2-4-2-12zM672 627l8 3 5-2zM704 647l-9 5-5 8 2 4 16-4 4-4 0-6zM728 629l-4 15 7 4 5 0 2-4-1-8-5-7zM760 888l-4 4 4 4 7-4-3-3zM788 892l-2 4 0 4 6 6 12 2 4-4-2-8-6-7-4 0zM928 823l-23 13-3 8 1 4 5 8 5 20 7 7 8-6 21-29 3-8-14-16zM976 786l0 6 12 14 18-2 2-4-2-4-5-4-17-6zM936 887l-16 8-16 13-7 12 1 8 6 3 4 0 5-3 11-12 20-8 1-16-2-4zM734 548l6 0 0 4-4 1zM951 944l5-3 0 7-4 1zM932 956l8 2-1 10-5 8-10 0-6-4 0-4 6-8z"/><path fill="#f0f0f0" d="M830 592l10-4 16 9 6 7 6 17 16 5 12 10 8 19 8 1 8-7 16 4 4 7 5 20 16 28-4 12 8 20 9 8 1 4-3 6-19 6-4 8 3 17 15 15 1 4-2 8-10 6-16-7-16 0-31 13-3 8-2 28-13 12-1 4 13 20-1 8-14 16-8 4-8-2-8-14-4 1-2 7 7 8-5 3-20-11-2-20-18-20-32-3-12-3-8 2-12-8-32 4-12-1-8-3-2-4 10-5 12-13 7-22 18-16 1-4-2-4-8-5-8-1-12 2-4-1-5-7 1-12-2-4-14-12-12 5-54 7-2-4 11-12 5-11 12 5 8 0 4-2 2-4-3-4-19-3-8 3-28-2-6 2-6 8 1 12-1 12-4 8-4 0-20-10-6-6-9-12-2-16 1-10 4-5 24-5 2-4-2-12 16-20-1-16-11-16-4-25 4-9 12-5 8-7 4-1 12 4 12 0 24 8 15 19 18 12 1 4-8 12-2 8 1 4 11 1 36-6 4-3 16 0 12-8 1-8-6-24 12-16 1-5 1 9 5 4 6 0 16-9 20-4zM844 845l-4 3 2 8 6 6 4 0 2-6-1-4zM912 748l-2 4 2 6 4 1 6-3 2-4-4-6zM640 668l-11 4-4 16-5 4-12-15-8 0-4 3-1 12 5 13 4 3 20-9 8 1 16 11 4-3 5-16 0-8-6-12-6-4zM680 704l-4 12-8 8 4 4 11 4 0 12 9 8 8-7 1-5-4-8-7-24zM740 708l-5 4 6 8 3 15 5 1 4-4 5-24-2-3zM776 663l-9 5 5 8-4 3-2 5 3 12 3 3 15-11-1-4 6-4-4-13-4-3zM756 856l-12 4 16 10 4-1 2-9-4-4zM780 789l-3 7 1 20-16 20 0 4 6 4 20-11 0-5-3-8 0-4 14-12-3-8zM987 724l5-3 4 1 7 6 3 8-6 2-8-2-5-4zM1019 740l29 9 20 2 4 5-1 4-19 16-10 12-18 3-8-8-13-3-2-4 12-12 2-4-3-16zM971 840l3 0 3 4-11 8-2 8-4 5-4 1-2-6 2-4 8-6z"/><path fill="#f4f4f4" d="M827 604l9-2 7 6 0 4-18 12 3 3 20-6 24 21 4 2 10 0 2 4-3 16 3 8 4 2 20 0 5 6 4 20 3 4 20-2 5 6-4 16 0 20-5 8-4 0-11-16-5-2-12 7-6 11 2 9 8 8 4 2 16-9 4 2 2 12-4 12-2 3-8 0-12 13-20 9-12 8-25-1-7-3-3-5-2-20-3-3-12-1-4-3-6-13 6-8 0-4-16-12-8 0-5 4-3 8 3 4 11 8-1 4-9 1-16-9-15 12-9 14-16-2-19-8-3-4-10-1-6-3 1-16 10-8 3-16-12-4-2-4 2-5 7-7-1-12 16-12-1-4-5-5-15 1-1 3-4 1 2-12 6-5 4 0 8 5 12-3 12 5 8-6 0-4-2-4 6-2 8 9 4 1-6 4 2 16-3 4-13 1-19 11 4 12-9 12 12 4 12 8 12-2 4-3 3-15 4-4 13-4 4-5 4 5 3-4 4-16 13-28-4-8-8-4-12-12-8 9-18 3 0-8-8-12 0-8 26-1 8 13 4-1 8-7 24-8-2-12zM585 620l7-4 4 1 10 7-10 6-8 0-4-2-2-4zM629 624l7-2 5 2 18 20 1 4-20 11-16 0-20 4-4-3 3-8 0-12 5-13 4-2 12 1zM678 676l6-1 9 5 2 4-3 4 0 8-4 5-4-1-12-8-4 14-2-6 2-12zM552 728l8-1 7 5 3 16 0 12-2 2-5-2-13-20-2-8zM670 748l2-2 8 3 6 7 0 4-2 1zM721 848l3-3 4 2 1 5-6 4-3-2zM843 884l5-3 4 0 2 3 1 8-3 4-8 1-4-4z"/><path fill="#f9f9f9" d="M809 644l7-3 15 7 0 4-7 4-13-8zM852 668l16-3 4 2 11 25 9 4 8-2 16 22-12 12-16 24-1 8 9 6 1 6-7 16-6 5-12-3-13 2-9-12-10-8-6-16-14-19-4-3-16-3-4-3 4-8 8-6 8-10 8-24 3-4zM706 676l2-2 6 2-2 4-4 0zM679 680l5-1 4 1 0 12-4 4-4-2-4-6zM727 680l5-1 3 1 3 4-2 4-7-4zM749 680l7-2 4 6 0 8-8 1-8-5 0-4zM718 716l2-4 4 2 1 6-11 8-6 0zM784 720l4-4 2 4-4 4 0 12-10 8 1-8 5-8zM730 744l6-2 2 2-2 20 4 5 4 0 6-5 5-8 9-2 1 2-17 19-20-1-4 3-17-1 2-16 6-4 5-10z"/><path fill="#fefefe" d="M680 684l5 0-1 6-4-2zM751 684l5 0 0 6-5-2zM836 724l12-4 12 2 1 2 4 12 9 12-6 20-4 5-8 0-6-5-6-19-10-9-2-8zM724 756l4-3 4 1 0 3-4 3z"/></g><path d="M797,100 L824,100 L824,412 L822.5,412 Z" fill="#000"/><path d="M95,791 L97.3,791 L103.2,830 L95,830 Z" fill="#000"/><rect x="422" y="428.9" width="73.3" height="72.8" fill="#ff0000" fill-opacity="0.4"/><g transform="translate(95.6,101.6) scale(0.5)" fill="none" stroke-width="4.8" stroke-linejoin="round"><path stroke="#46327e" d="M812 639l-4 5 3 4 5 3 4 1 8-1 4 2 4-4 0-5-4 0-4 2-12-8zM844 664l-6 4-2 8-8 5-8 11-4 8-19 24-2 4-1 8 2 2 4 0 4-2 12 1 4-5 4-1 0 9 12 20 0 12 12 2 9 6 3 9 4 2 20-2 4-3 2-6 8-8 2-4-4-4-8-2-4-2 0-4 3-4 5-1 3-3 4-8 5-6 1-6 3-4 6-4 3-4 0-4-17-15-4 0-8 3-4 0-4-4-5-8-1-4 3-8-5-10-4-2-8 5-8 0zM708 674l-2 2 2 3 4 0 2-3-2-2zM676 680l-2 4 1 4 9 9 4-1 1-12-1-4-8-2zM728 680l4 5 4 1 2-2-6-5zM752 679l-8 5 1 4 7 5 4 1 4-3 1-3-1-4-4-5zM720 713l-4 7-4 4-1 4 5 0 8-8 0-5zM788 716l-4 4-1 4 1 3 1-3 5-4zM780 736l-4 5-1 3 1 1 5-5zM732 743l-8 4-4 0-5 9-7 5-2 3 2 8-1 4 5 2 12 1 4-5 20 1 21-23-1-1-4 0-8 5-4 3-2 5-10 5-3-5 3-16-4-6z"/><path stroke="#3b528b" d="M840 591l-20 5-12 8-3-4-5-2-20 4-8 3-8-5-9 0-4 4-1 4 1 8-7 12 5 20 0 8-8 4-1 8-4 0-3-4-9-3-4 2-4 5-12-1-4 2-16 2-4 1-8-1-6-7 3-8 9-8 2-4-20-10-5-6-2-8-9-8-16-3-16-8-12 5-8 0-12 6-8 0-4 3-2 5 3 16-2 8 1 4 7 8 4 8 2 8-5 8 1 8-3 4-4 4-2 4 2 12-2 4-4 2-20 0-4 4-2 10 2 17 8 7 4 12 4 2 8 2 5 4 7 15 5-3 6-12 0-8-4-12-1-12 0-4 2-3 4-2 8-1 3 2 1 4-6 8 2 3 12-4 16 9 1 8-8 4-3 4 2 5 4-1 11-8 13 1 12-6 8-2 4-3 8-1 13 11-1 8 7 16 9 2 12-4 8 3 19 15 6 12-1 4-4 8-4 3-4-1-1-2 1-8-1-4-3-2-8 1-14 9-3 4 0 16-3 4-17 8-3 4 3 4 5 3 8 1 4 0 8-5 4 0 12 5 12-1 8 9 4-1 2-15 6-4 4 0 4 3 2 9 2 4 4 1 4-1 4-4 4 0 20 9 4 7 10 8 2 4-3 12 0 8 15 9 12 4 8-2 12 0 8-5 5-6 2-4 2-20-3-8-5-8 0-4 2-4 10-8 2-4-1-20 6-12 4-4 12 1 8-8 4-2 20 3 8 4 4 0 5-2 3-4 2-8-6-12-5-16 2-12 3-6 13-6-1-3-4-2-5-11-1-4 2-8-4-8 1-8-5-16-15-12 3-12-1-12-3-7-8-5-8-1-8 2-8 7-5 0-3-4 0-4 3-8-17-12-6-9-4 0-8 2-4-2-8-19-3-4zM704 634l-3 2 3 4 8 0 2-4-2-3-4-1zM776 664l12-4 4 2 1 6-2 12-6 4-1 4-6 8-2 5-4 0-4-1-2-4 1-16 1-1 8-1 1-2-5-1-4-7-2 0zM633 672l7-3 4 0 4 2 4 9 6 4 2 4 1 4-9 21-4 1-3-2-4-8-5-2-8 1-4 3-8-5-4-1-8 7-4-2-7-9-3-8 0-4 6-6 4-1 4 2 8 10 8 2 5-3 2-12zM679 704l5 1 5 3-1 4 0 4 5 4 3 12 6 8 0 4-3 4-7 4-6-4-3-4-3-10-8-6-3-4 1-4 2-2 4-2 8 3 4-3-4-2-4 0-2-2-1-4zM756 704l4-1 0 5 4 4-4 1-4 2-6 9-1 4 3 8-4 2-4-6-1-12-9-8 2-3 16-2zM988 723l-1 5 4 8 4 4 9 2 8 6 6 12 1 4-3 3-11 1-3 4 14 15 12 9 8 0 8-5 12-18 8-3 5-6 2-8-3-6-28-3-16-8-8 2-4-2-12-15-4-3-4 0zM629 736l3-2 4 1 19 9 2 4-5 2-16-3-5-3-2-4zM912 748l4-2 5 2 2 4-1 4-2 2-4 2-4-3-1-5zM782 788l6-2 4 0 2 2 6 11 5 5-9 7-12 2-3-5 0-4-3-8 0-4zM778 824l2 0 12 6 6 2 2 2 0 5-5 5 9 12-4 4-4 1-4-6-2-7 2-8-4-4-4-1-8 5-9 0 2-8 2-4zM828 832l4-2 4 0 3 6 0 4-7 3-4-2-2-5zM843 848l1-1 4 2 6 7 0 4-10 3-2-7zM956 855l-3 5 0 4 3 20 1 4 3 2 4 1 3-3 0-4-3-3-3-1-1-4 6-8 1-8-3-7-4 0zM815 864l9 1 7 3 3 4 0 4-2 3-16-7zM843 916l5-3 5 3 0 4-1 2-4 2-4-2zM784 947l-4 5 4 1 5-5-1-2z"/><path stroke="#2c728e" d="M660 535l-4 1-8 8-15 4-3 4-2 14-4 5-4-1-4-4-20-9-4 0-4 1-6 6-3 12-3 4-12 2-8 10-4 16 0 8-2 4-2 1-12 2-5 5 0 12-7 16-4 24 3 16 6 12-3 28-4 12 0 8 4 12 2 3 8 3 7 10 1 4-2 4-10 8 1 4 10 12 4 12 17 14 8 3 4 0 16-11 4 1 20 19 4 0 12-4 8-5 4-1 4 3 2 1 0 4-6 5-8 4-6 7-2 4 1 12-1 3-8 7-12 3-2 3 1 8 5 5 8-3 4 1 4 5 12 5 6-5 6 0 8 9 4-1 8-7 4-1 8 1 12 4 6 7 2 8 3 8 1 16 3 4 23 12 6 9 4-2 1-3-2-8 0-12 1-2 4-2 8 3 11 13 5 12 4 2 8-2 8-9 4-1 8 2 16-6 4 0 3-2 4-12 5-3 7 3 10 20 7 16 4-4 8-1 20 2 5 3 3 4 8 2 2 2-2 4 3 4 9 2 12 4 4 0 8-3 8 0 3-3 0-4-7-6-4-14 4-6 12-5 4-4 4-9 1-4-1-4 1-4 7-4 8 2 3 2 1 8 3 4 5 2 4 0 7-2 2-4 1-8 2-3 4-1-3-8 1-4 7-8-10-36 5-11 10-9 4-8 5 0 1 4-1 4 9 12 4 1 4-3 12 2 10-4 4-4 4-24 7-8 10-16 2-12 10-24 0-8-2-4-9-7-8-12-3-13-25-20-7-12-2-8-2-4-9-10-18-10-18-7-15-13-11-8-18-8-16-13-4-2-12 0-4-2-8-16-8-8-3-11-3-4-14-6-12-8-12-4-10-6-10 0-5-8-15-8-8 2-8 8-4 0-12-13-4-8-4-3-4-1-8 2-24-2-36 5-4 4-4 7-4 2-8-10-12-6-8-1zM700 576l4 1 5 7-1 4-4 2-4-1-4-6 0-5zM1030 824l2-2 4 0 4 6 0 9-4 6-4 0-4-3-1-4zM668 934l-3 2 3 4 4 0 0-4zM764 991l-4 2-1 7 5 4 8 0 3-4 0-4-3-7z"/><path stroke="#21918c" d="M824 459l0 5 4 2 4-2 0-4-4-2zM784 516l-20 6-56 2-20 3-16-3-16 2-16 8-12 1-8 4-12 3-8-1-8 4-14 3-10 5-8 8-8 5-4 5-4 13-3 4-9 4-4 4-8 11-3 13-1 10-8 12-5 14 1 8 4 8 2 24 5 12-3 5 0 7 4 4 2 4-2 4-10 8-1 4 0 8 3 8 2 16 6 16-3 20 3 4 8-3 4 2 2 5-2 4-4 1-3 3 1 4 10 4 3 12 5 8 4 1 8 0 2 3 3 12 0 16 3 4 8 3 5 5 1 8 7 20 2 4 5 1 4-2 4 2 4 4 12 2 5 9-1 3-9 1-7 8-8 2-4 0-19-6 0-4-5-3-6-13-6-8-4 1-2 7 0 4 3 12 3 3 16 3 1 2-1 8 6 8 2 10 4 3 4-1 4-4 4 0 8 18 9 10 7 3 8 6 8 2 6-3 0-4-4-4-1-4 3-1 4 0 8 4 12-1 8 2 8-2 12 1 8 3 20 12 9 10 3 6 4 0 4-4 4-1 8 5 12 2 8-2 2-2 14-7 8-16 4 2 13 13 3 12 4 4 16-7 4 0 4 1 8 5 4 0 7-3 2-4-9-16 7-20 6-4 7-2 4 6-4 12 9 16 0 4-5 8 8 10 8 2 3 8 6 8 3 3 4 1 12-7 4-1 6-8 1-8 4-4 25-9 8 2 8-5 8-11 10-5 10-11 8-20 8 0 4-2 3-7 9-8 6-12 0-8 2-3 8 2 8-7 2-8-2-2-8-3-10-7-4-12-5-4-2-4 1-2 4-2 22 8 6 1 8-4 4-5 7-12 1-4 4-10 18-22 2-12 11-20 3-16 5-4 1-12-13-32-21-20-3-4-3-9-16-15-10-12-22-20-22-12-6-9-8-3-4-4-16-9-12-10-14-5-5-8-2-8-3-3-9-5-11-3-20-20-16-7-16-8-12-9-8-2-28-14-16-14-8-3-8-1zM1232 519l-2 1-2 4 4 2 2-2zM552 919l-2 5 2 3 3-3 1-4zM568 934l-3 2 5 12 2 1 5-1 1-4-5-8zM903 1024l1-1 4 1 4 3 8 2 4 3 1 16-1 4-8 2-4 0-3-2-1-12-5-12z"/><path stroke="#28ae80" d="M1268 35l0 6 4 5 8 1 8-3 0-4-3-4-5-3-8 0zM1228 95l-2 1 2 4 12 8 4 0-2-8-5-4zM1424 412l-2 4 2 8 3-4 0-4zM824 455l-5 5 0 4 5 4 8-1 4-3-1-4-3-3-4-2zM776 508l-12 5-16-3-16 2-28-1-16 3-12-1-36 7-24 8-16 0-20 10-20 6-12 8-4 4-6 12-12 8-6 8-9 8-7 15-8 9 0 24-5 16 2 16-1 12 4 24-7 16-1 12 0 12-2 12 4 8-2 20 2 4 7 8-1 4-4 8-1 12 1 4 8 8 4 9 3 11-5 12 1 4-5 8-1 12 16 20 1 4-3 12 2 12-9 5-3 3 0 4 2 4 5 7 10 5 10 8 4 6 12 2 4 4 2 24 6 11 10 5 10 1 4 3 4 7 4 2 8-1 4 2 3 6-1 8 14 6 16-1 4 1 4 0 2-2 1-4-1-8 2-4 4-2 2-10 6-8 4-1 24-3 4 0 6 4 11 12 1 4-8 16-2 2-20 3-5-5-7-1-4 1-1 4 1 4 16 11 8 8 8-1 28 10 8-4 12 6 12-2 24 6 16-5 4 1 1 2-2 8 1 3 12 0 8 2 4-1 6-4 6-10 4 0 4 2 1 4 3 3 12 2 8-6 16-5 8 2 24-4 8 2 4-1 8-5 20-5 12-9 8-3 10-11 4-8 15-8 7-15 26-17 14-19 9-17 12-12 7-20 4-5 9-7 10-20 6-8 11-44 6-16 8-12 4-16 7-12 4-24-5-10-8-6-3-12-21-20-12-16-8-7-8-15-21-14-11-12-12-7-12-9-8-8-13-8-15-15-24-21-13-8-19-9-20-18-26-9-14-9-27-11-33-23-8-3-12-3-12 0zM1228 517l-2 3 0 4 4 4 4 0 3-4-1-4-4-4zM164 639l-2 1 6 8 1 8 3 1 3-9 5-4 1-4-9-4zM188 640l-5 4 5 9 2-9zM172 683l-6 5-1 4 4 12 4 4 7 4 4 1 3-1 2-4-2-12-5-4-5-8zM216 782l-3 2 1 4 6 4 0 4-3 4 2 4 9 8 4 2 2 2 6 4 12 0 5-4 1-4-1-4-4-8-13 0-11-8 2-8-11-4zM810 1076l2-1 3 1 2 4-5 0zM819 1084l5-4 4 1 2 3-2 7-4-1z"/><path stroke="#7ad151" d="M1268 28l-6 4-3 4 1 8 4 7 4 2 4 0 16-2 6-3 2-4-1-4-11-10-8-4zM1204 87l-12 4-2 1-2 4 20 1 8 3 8 4 8 8 12 4 12 1 6-1 1-4-3-12-4-5-20-5zM1356 232l-4 4 4 2 4-1 3-5-3-1zM1424 407l-4 5-1 4 1 9 4 5 4-2 2-8-1-8zM824 452l-4 2-5 6 0 4 1 2 8 5 8 0 4-2 4-5-1-4-7-7zM788 464l-2 4 2 2 4 0 2-2-2-3zM920 493l-8 10-17 9-5 4 1 4 9 4 16 3 11 9 9 5 4 1 4-2 0-4-7-12 0-8-1-4-8-8-4-10zM772 499l-8 3-12-1-20 1-40 3-16 1-12 2-16 1-16 5-16 1-21 5-15 6-12 1-28 13-41 40-7 8-17 32 0 12-3 8 3 12 3 28-12 36 0 8 2 8-14 16 0 4 3 8-1 8-3 8-8 8-1 4 0 4 3 4 9 3 3 5 7 20-2 8 9 12 1 4-9 12-1 12-12 16-4 2-8-4-8 0-2 2-1 8 8 16 7 4 10 0 0 12-2 4-5 4 0 4 5-1 4 1 5 4-9 4-4-1-4 4-2 5-6 5-2 3 2 7 4 2 12-4 8 2 12 14 16 10 6 13-1 8 4 8 0 4 3 8 4 3 6 1 10 6 1 18 1 4 10 8 4 3 4 0 12-7 8 3 4 4 20 3 24 9 8 6 8-2 20 2 6 3 4 8 6 1 4 3 0 4-3 4 1 4 6 2 3-2 5-7 11 7 1 6 4 3 3-5-1-4 2-2 3 2 1 4 4 1 12-5 20 1 8-7 12 0 5 2 3 4 2 8 2 2 8 4 16 2 12 8 8 3 15-7 2-8 3-3 4-1 15 8 9 2 12-7 11-3 9-8 24-7 20 1 4-6 5-4 15-5 4-3 7-12 13-4 4-3 8-12 16-17 10-16 22-17 22-27 4-12 12-24 14-14 12-14 9-16 2-4-1-12 4-16 28-64 4-12 1-12 7-20 0-4-2-4-16-14-8-10-36-36-12-20-20-12-16-15-20-13-15-12-9-6-16-22-21-16-4-4-1-4 1-8-3-9-4-1-5 10-3 2-8 2-4-1-19-15-16-8-13-4-8-8-12-9-12-1-12-3-32-19-16-8-20-2zM1336 505l-3 3 0 4 0 4 3 8 2-4 2-8 0-4zM1028 515l-3 5 0 4 2 20 5 4 8 5 8 10 8 3 8 1 1-11-9-21-16-21-8-1zM1228 513l-5 7 1 4 4 6 4 1 4-1 4-6-1-4-3-5-4-2zM280 560l-8 4-8 9-4 2-8 3-8 0-3 2-5 7-28-2-8 1-20-3-5 1-11 5-5-1-3-5-4-3-8 4-12-2-4 1-4 5-3 16-2 20 3 20 0 8 4 12 1 8 5 19 8 7 4 10 0 12 8 8 8 12 3 8 2 24-4 20 5 12 2 2 8-3 8-1 2 2 1 4-1 8 2 5 14 11 14 6 24 3 20-2 5-7 22-16 2-4 0-4-9-14-13-10-2-16-7-12-2-12-8-28-14-28 0-4 1-4 0-28-6-44 3-8 4-4 4-2 4 0 16-4 12 3 4-1 10-16 2-8-4-8zM1104 608l-3 4 5 8 6 16 8 11 4 1 4-1 4-3 1-4-9-24-16-8zM0 822l12 2 4 3 3 5 4 4 13 7 5 1-1-8-3-8-5-8-4-4-8-5-20-2M364 883l-4 5-3 16 3 8 4 4 16-7 16-10 14-11 2-4-4-1-16 0-12-2zM336 947l-2 5-4 4 2 5 4 2 4 0 3-7-3-9zM1112 988l-1 4 5 3 4-1 2-2-2-4-4-1zM676 1032l8-2 4 2 2 4-2 7-8 3-7-2-2-4 0-4zM748 1196l-4 0-2 4 9 0z"/><path stroke="#fde725" d="M1268 23l-12 8-2 5 2 20-2 4-6 4 3 4-2 8 1 4-3 4-7 2-22-2-10-4-1-8-11-3-7 3 1 12-14 12 4 3 8 3 13 2 3 4 12 1 32 12 16 2 9-3 2-4-1-8-6-12-3-4-10-8 4-8-3-8 0-4 4-2 12-4 20-3 4-2 6-9-4-8-12-12-10-2zM1308 139l-2 1 1 8-3 4 4 3 4-3-2-4 5-4-2-4zM1308 167l-1 1 5 3 4-3zM1336 208l-4 1-5 7-3 8-6 4-2 4 8 3 16 12 16 0 4-1 7-6 10-12-2-8 5-4 0-4-8-3-20 2zM1304 214l-3 2 7 4 5 0 0-4zM1424 402l-4 4-3 14 3 11 4 3 6-2 3-8 1-4-6-16zM820 450l-9 10-1 4 2 4 4 4 12 3 8-1 4-2 3-4 2-4-9-12-8-4zM788 462l-2 2-1 4 3 4 6 0 3-4-2-4zM684 484l0 4 4 1 5-1-1-4zM920 483l-8 4-16 14-16 7-8 6-20 7-8-3-41-22-19-4-8 1-12 3-32 1-36 3-16 0-16 4-15 0-13 3-20 2-48 12-40 15-16 14-16 12-8 8-12 9-7 9-9 24-1 24-3 28-5 20-2 16-3 8-6 6-4 18-7 8-2 12 3 12 0 8-2 3-24 6-16 0-20 4-8 3-12 8 8 1 20-2 16-6 8-1 24 8 6 4 2 4 6 12 3 16 0 12 5 12-2 5-12 7-20 3-12 3-24 1-24-3-4 1-2 3-4 20-7 12-8 20-16 24 1 4 19 40 18 28 35 21 8 2 8-2 12 3 8 7 9 5 4 4 1 4 2 2 20-6 2 4 1 12 3 4 10 2 8 4 4 0 12 1 12-4 5 1 7 5 7 3 7 16-1 8 2 4 8 4 9 3 12-2 13 3 9-4 4-4 2-4 12-6 4 2 1 4-4 8 7 4 12 2 2 6 4 4 14 4 12 2 8 5 8 1 5 4 7 2 21-2 11-3 4 3 12 5 7-1 5-2 20 1 12 6 8 1 28-1 12-5 16 2 8 0 18-6 18-9 8-6 36-15 9-2 44-28 11-9 20-28 16-20 42-39 4-8 8-28 5-8 9-8 12-12 10-8 3-4 4-12 5-28 16-44 10-23 9-29 5-12 2-8-1-4-7-10-34-34-10-13-15-15-9-13-6-7-61-44-13-8-8-7-12-20-11-13-15-28-17-24-13-28-12-16zM1020 499l-11 17-1 4 3 12 8 20 9 8 8 4 15 12 10 12 15 12 37 52 27 22 4 0-3-18 1-28-6-20-3-4-29-10-16-22-16-28-24-34-4-4-16-9-4 0zM1332 502l-2 6 0 8 2 7 4 6 5-5 2-16-3-6-4-2zM1228 509l-7 7 0 8 7 8 4 1 4 0 5-5 2-4 0-4-1-4-6-6-4-2zM895 536l5-4 12 2 23 22 5 8-8-2-8-7-25-11-4-4zM280 546l-4 2-11 12-5 3-32 10-48 1-28-2-20 1-16 2-3 5-5 28-1 16 6 40 11 32 17 36 3 10 7 10 5 20-1 4-5 8-15 12-3 4 0 4 6 4 14 3 20 8 10 9 6 13 4 4 28 3 44-1 35-19 5-4 6-12-1-4-9-8-18-20-4-8-8-40-4-8-2-13-19-43-2-8-1-48 1-4 4-4 9-4 20-1 12-4 4-5 9-22 0-4-9-11-8-6zM0 836l4 1 23 15 25 20 8 0 7-4 1-5-12-28-15-23-9-12-4-4-4-1-24-4M402 912l6 1 4 3 9 12 2 4 0 28-11 27-11 13-13 4-8 0-8-5-12-19-1-4 0-20 2-12 6-12 4-4 17-12zM1116 984l-4 0-4 3-1 5 5 4 8 1 4-4 0-3-4-5zM1088 1018l-2 2 2 4 4-2 1-2zM1364 1056l-1 4 1 8 4 2 2-6 0-4-2-6zM1064 1114l-3 2 3 4 4-1 2-3-2-2zM524 1117l-3 3 7 1 2-1zM1028 1130l-2 2 2 5 4 1 2-2 1-4-3-3zM1264 1182l-4 2-3 4 0 4 11 3 8-3-1-4-7-5zM736 1196l-5 4 13 3 22-3 0-4-6-2-12-1zM760 1399l-2 1 2 2 4 2 16 0 8-4-8-1z"/></g><text transform="translate(232,618) rotate(3)" font-size="16.7" text-anchor="middle" fill="#fde725">−31</text><text transform="translate(318,636) rotate(35)" font-size="16.7" text-anchor="middle" fill="#fde725">−31</text><text transform="translate(193,420) rotate(-5)" font-size="16.7" text-anchor="middle" fill="#7ad151">−42</text><text transform="translate(318,640) rotate(30)" font-size="16.7" text-anchor="middle" fill="#7ad151">−42</text><text transform="translate(405,686) rotate(0)" font-size="16.7" text-anchor="middle" fill="#7ad151">−42</text><text transform="translate(486,668) rotate(-8)" font-size="16.7" text-anchor="middle" fill="#28ae80">−54</text><text transform="translate(548,390) rotate(25)" font-size="16.7" text-anchor="middle" fill="#21918c">−64</text><text transform="translate(640,420) rotate(60)" font-size="16.7" text-anchor="middle" fill="#21918c">−64</text><text transform="translate(395,512) rotate(62)" font-size="16.7" text-anchor="middle" fill="#3b528b">−76</text><text transform="translate(480,566) rotate(-62)" font-size="16.7" text-anchor="middle" fill="#3b528b">−76</text><text transform="translate(500,476) rotate(-62)" font-size="16.7" text-anchor="middle" fill="#46327e">−81</text><text transform="translate(437,470) rotate(40)" font-size="16.7" text-anchor="middle" fill="#46327e">−81</text></g>
<g stroke="#fff" stroke-width="2.1" stroke-dasharray="2.1 3.45" fill="none"><line x1="210.0" y1="103.6" x2="210.0" y2="827.5"/><line x1="355.5" y1="103.6" x2="355.5" y2="827.5"/><line x1="501.0" y1="103.6" x2="501.0" y2="827.5"/><line x1="646.5" y1="103.6" x2="646.5" y2="827.5"/><line x1="792.0" y1="103.6" x2="792.0" y2="827.5"/><line x1="97.1" y1="761.0" x2="821.8" y2="761.0"/><line x1="97.1" y1="615.5" x2="821.8" y2="615.5"/><line x1="97.1" y1="470.0" x2="821.8" y2="470.0"/><line x1="97.1" y1="324.5" x2="821.8" y2="324.5"/><line x1="97.1" y1="179.0" x2="821.8" y2="179.0"/></g>
<g clip-path="url(#c1)"><path d="M532.3,103.4 L534.0,111.7 L542.3,118.5 L546.5,123.5 L545.7,128.5 L549.9,131.9 L544.0,138.6 L542.3,147.0 L537.3,155.4 L528.9,162.1 L523.9,170.5 L517.2,170.5 L513.8,178.9 L517.2,183.9 L513.8,194.0 L522.2,204.0 L525.6,210.7 L523.1,217.4 L515.5,222.5 L510.5,221.6 L514.7,227.5 L517.2,233.4 L527.2,234.2 L537.3,233.4 L544.0,239.3 L549.1,247.7 L550.7,251.0 L557.4,247.7 L565.8,246.0 L572.5,239.3 L579.3,232.6 L582.6,229.2 L580.1,225.8 L575.1,224.2 L577.6,219.1 L582.6,217.4 L589.3,220.8 L592.7,224.2 L597.7,225.0 L601.1,217.4 L603.6,210.7 L606.9,204.0 L607.8,194.0 L606.1,187.2 L609.5,177.2 L613.7,163.8 L617.9,152.0 L622.9,145.3 L624.6,138.6 L629.6,131.9 L636.3,121.8 L644.7,115.1 L646.4,110.1 L652.2,110.1 L648.1,106.7 L641.3,106.7 L639.7,103.0M550.7,251.0 L554.1,244.3 L556.6,237.6 L557.8,229.2 L555.8,222.5 L551.6,215.8 L547.0,209.9 L545.7,207.4 L549.1,209.9 L554.1,211.1 L558.3,209.1 L560.5,204.0 L558.3,200.7 L552.4,199.0 L547.0,200.7 L544.0,203.2 L540.7,209.1 L538.5,217.4 L539.8,225.0 L544.0,230.9 L548.2,234.2M473.6,106.7 L476.9,115.1 L482.8,121.0 L487.0,125.2 L488.7,129.4 L481.9,136.1 L484.5,136.9 L491.2,131.0 L495.4,126.8 L500.4,121.8 L510.5,121.8 L514.7,123.5 L510.5,128.5 L513.0,133.6 L517.2,136.1 L522.2,132.7 L527.2,127.7 L528.9,121.8 L525.6,116.8 L519.7,114.3 L513.0,115.1 L508.8,115.9 L511.3,111.7 L513.8,106.7 L512.1,103.0M473.6,106.7 L476.9,103.4 L481.9,105.9 L485.3,104.2 L488.7,110.1 L490.3,116.8 L495.4,116.8 L501.2,115.9 L498.7,110.1 L495.4,103.4M500.4,138.6 L505.4,140.3 L510.5,138.9 L513.8,141.9 L514.7,148.7 L512.1,153.7 L507.1,157.9 L503.8,162.1 L500.4,164.6 L497.9,161.2 L500.4,157.9 L499.1,152.0 L500.4,145.3ZM516.3,146.1 L522.2,142.8 L530.6,139.4 L531.4,136.1 L539.0,133.6 L549.1,131.0 L545.7,136.1 L542.3,140.3 L539.0,148.7 L537.3,153.7M517.2,157.0 L520.5,158.7 L518.0,160.4 L515.5,158.7ZM508.8,164.6 L513.0,163.8 L513.8,168.8 L511.3,170.5 L509.1,168.0ZM476.1,204.0 L480.3,199.0 L485.3,194.0 L487.0,195.6 L483.6,200.7 L480.3,205.7 L476.9,206.5ZM487.8,188.9 L491.2,187.2 L495.4,188.1 L496.2,191.4 L492.9,192.3 L489.5,191.4ZM528.1,295.5 L534.0,291.3 L539.0,290.4 L545.7,294.6 L550.4,298.8 L549.1,303.0 L544.0,307.2 L538.2,308.1 L532.3,305.5 L529.8,300.5ZM510.5,287.9 L514.7,289.6 L519.7,291.3 L518.9,293.8 L514.7,293.0ZM578.4,262.8 L580.1,267.8 L578.4,274.5 L576.7,281.2 L572.5,287.9 L570.9,295.5 L567.5,298.8 L564.2,299.7 L562.5,293.0 L565.8,288.8 L569.2,282.0 L570.0,276.2 L573.4,271.1 L575.9,265.3ZM491.7,263.6 L493.7,261.9 L495.9,263.6 L493.7,265.6ZM673.2,103.0 L679.9,105.0 L681.6,111.7 L688.3,112.6 L696.7,112.6 L693.4,118.5 L691.7,123.5 L698.4,125.2 L705.1,121.8 L711.8,121.0 L716.8,125.2 L721.0,126.8 L720.2,120.1 L718.5,113.4 L720.2,106.7 L723.6,103.0M685.3,126.0 L686.6,124.7 L688.0,126.0 L686.6,127.3ZM442.5,450.6 L444.5,447.3 L449.1,446.0 L451.7,442.8 L455.6,443.4 L458.2,439.5 L462.1,439.5 L464.7,436.3 L468.6,436.9 L471.2,433.7 L475.1,434.3 L477.7,432.4 L480.3,434.3 L479.6,437.6 L477.0,438.9 L475.1,442.1 L471.2,444.1 L469.2,447.3 L466.0,448.0 L464.0,451.2 L461.4,452.5 L460.1,455.8 L456.9,457.1 L455.6,460.4 L453.0,459.7 L451.7,463.0 L449.1,461.7 L449.7,458.4 L446.4,459.1 L445.1,455.8 L447.1,453.8 L443.8,453.2ZM444.1,459.1 L447.1,460.6 L449.1,463.6 L452.3,464.9 L451.4,462.3 L454.3,461.9M494.4,447.2 L501.9,442.2 L503.4,445.7 L496.9,449.7ZM419.9,479.5 L424.9,477.0 L428.4,484.4 L429.9,489.4 L424.9,493.4 L420.9,489.4ZM393.6,513.2 L400.1,511.7 L406.5,509.3 L405.0,513.2 L398.6,516.7 L395.1,516.7ZM382.2,539.1 L384.2,537.6 L386.2,539.6 L383.7,541.0ZM352.9,536.6 L355.4,541.5 L350.4,541.5ZM375.2,551.5 L380.2,556.4 L378.7,566.4 L370.3,571.3 L362.8,573.8 L355.4,581.3 L348.9,584.8 L347.9,591.2 L343.0,596.2 L340.5,603.6 L335.5,608.6 L329.0,607.6 L330.5,598.7 L335.5,591.2 L335.5,583.8 L343.0,582.8 L346.9,576.3 L347.9,568.9 L355.4,566.4 L365.3,563.9 L371.3,557.9ZM338.0,561.4 L342.0,562.9 L339.0,564.9ZM259.5,587.7 L266.0,586.2 L268.5,592.7 L263.5,593.7ZM308.2,599.7 L309.7,603.6 L307.2,604.6ZM595.3,618.5 L597.2,618.5 L597.2,620.5 L595.3,620.5ZM589.3,624.5 L592.8,623.5 L593.3,627.5 L590.3,628.5ZM148.3,699.5 L151.7,698.0 L153.2,702.0 L149.3,703.0ZM155.2,697.0 L160.2,698.0 L163.2,703.9 L169.1,706.9 L166.6,708.9 L156.7,707.9ZM398.5,133.5 L402.1,129.9 L401.7,122.7 L403.9,121.4 L406.1,124.5 L410.2,123.6 L413.7,121.0 L415.5,118.3 L420.0,115.6 L425.4,112.9 L426.7,108.9 L431.6,107.1 L431.2,103.5 L435.7,103.3 L435.2,106.6 L441.0,105.7 L441.7,108.0 L437.9,110.7 L434.8,113.3 L435.2,116.5 L433.0,119.4 L431.2,118.7 L429.4,116.0 L427.2,115.1 L424.5,120.1 L419.1,123.2 L416.9,124.1 L416.4,127.7 L420.4,130.3 L420.9,132.1 L413.7,133.0 L412.8,136.2 L411.1,137.5 L408.8,135.3 L403.0,136.2Z" fill="none" stroke="#fff" stroke-width="1.6" stroke-linejoin="round"/><path d="M482.8,516.0L488.0,521.2M482.8,521.2L488.0,516.0" stroke="#00bfbf" stroke-width="2.3" fill="none"/><path d="M487.6,520.6L492.8,525.8M487.6,525.8L492.8,520.6" stroke="#00bfbf" stroke-width="2.3" fill="none"/><path d="M492.3,525.1L497.5,530.3M492.3,530.3L497.5,525.1" stroke="#00bfbf" stroke-width="2.3" fill="none"/><path d="M497.6,529.0L502.8,534.2M497.6,534.2L502.8,529.0" stroke="#00bfbf" stroke-width="2.3" fill="none"/><path d="M503.3,532.4L508.5,537.6M503.3,537.6L508.5,532.4" stroke="#00bfbf" stroke-width="2.3" fill="none"/><path d="M509.0,535.8L514.2,541.0M509.0,541.0L514.2,535.8" stroke="#00bfbf" stroke-width="2.3" fill="none"/><path d="M514.6,539.1L519.8,544.3M514.6,544.3L519.8,539.1" stroke="#00bfbf" stroke-width="2.3" fill="none"/><path d="M520.3,542.5L525.5,547.7M520.3,547.7L525.5,542.5" stroke="#00bfbf" stroke-width="2.3" fill="none"/><path d="M526.0,545.9L531.2,551.1M526.0,551.1L531.2,545.9" stroke="#00bfbf" stroke-width="2.3" fill="none"/><path d="M531.6,549.3L536.8,554.5M531.6,554.5L536.8,549.3" stroke="#00bfbf" stroke-width="2.3" fill="none"/><path d="M537.3,552.7L542.5,557.9M537.3,557.9L542.5,552.7" stroke="#00bfbf" stroke-width="2.3" fill="none"/><path d="M543.0,556.1L548.2,561.3M543.0,561.3L548.2,556.1" stroke="#00bfbf" stroke-width="2.3" fill="none"/><path d="M548.6,559.4L553.8,564.6M548.6,564.6L553.8,559.4" stroke="#00bfbf" stroke-width="2.3" fill="none"/><path d="M554.3,562.8L559.5,568.0M554.3,568.0L559.5,562.8" stroke="#00bfbf" stroke-width="2.3" fill="none"/><path d="M560.0,566.2L565.2,571.4M560.0,571.4L565.2,566.2" stroke="#00bfbf" stroke-width="2.3" fill="none"/><path d="M565.6,569.6L570.8,574.8M565.6,574.8L570.8,569.6" stroke="#00bfbf" stroke-width="2.3" fill="none"/><path d="M571.3,572.9L576.5,578.1M571.3,578.1L576.5,572.9" stroke="#00bfbf" stroke-width="2.3" fill="none"/><path d="M577.0,576.3L582.2,581.5M577.0,581.5L582.2,576.3" stroke="#00bfbf" stroke-width="2.3" fill="none"/><path d="M580.4,581.7L585.6,586.9M580.4,586.9L585.6,581.7" stroke="#00bfbf" stroke-width="2.3" fill="none"/><path d="M583.1,587.7L588.3,592.9M583.1,592.9L588.3,587.7" stroke="#00bfbf" stroke-width="2.3" fill="none"/><path d="M585.7,593.8L590.9,599.0M585.7,599.0L590.9,593.8" stroke="#00bfbf" stroke-width="2.3" fill="none"/><path d="M588.6,599.7L593.8,604.9M588.6,604.9L593.8,599.7" stroke="#00bfbf" stroke-width="2.3" fill="none"/><path d="M594.0,603.4L599.2,608.6M594.0,608.6L599.2,603.4" stroke="#00bfbf" stroke-width="2.3" fill="none"/><path d="M599.4,607.2L604.6,612.4M599.4,612.4L604.6,607.2" stroke="#00bfbf" stroke-width="2.3" fill="none"/><path d="M604.9,610.9L610.1,616.1M604.9,616.1L610.1,610.9" stroke="#00bfbf" stroke-width="2.3" fill="none"/><path d="M610.2,614.8L615.4,620.0M610.2,620.0L615.4,614.8" stroke="#00bfbf" stroke-width="2.3" fill="none"/><path d="M615.5,618.7L620.7,623.9M615.5,623.9L620.7,618.7" stroke="#00bfbf" stroke-width="2.3" fill="none"/><path d="M620.9,622.6L626.1,627.8M620.9,627.8L626.1,622.6" stroke="#00bfbf" stroke-width="2.3" fill="none"/><path d="M626.2,626.4L631.4,631.6M626.2,631.6L631.4,626.4" stroke="#00bfbf" stroke-width="2.3" fill="none"/><path d="M631.5,630.3L636.7,635.5M631.5,635.5L636.7,630.3" stroke="#00bfbf" stroke-width="2.3" fill="none"/><path d="M636.9,634.2L642.1,639.4M636.9,639.4L642.1,634.2" stroke="#00bfbf" stroke-width="2.3" fill="none"/><path d="M642.2,638.1L647.4,643.3M642.2,643.3L647.4,638.1" stroke="#00bfbf" stroke-width="2.3" fill="none"/><path d="M647.6,642.0L652.8,647.2M647.6,647.2L652.8,642.0" stroke="#00bfbf" stroke-width="2.3" fill="none"/><path d="M652.9,645.8L658.1,651.0M652.9,651.0L658.1,645.8" stroke="#00bfbf" stroke-width="2.3" fill="none"/><path d="M658.2,649.7L663.4,654.9M658.2,654.9L663.4,649.7" stroke="#00bfbf" stroke-width="2.3" fill="none"/><path d="M665.3,618.5L670.5,623.7M665.3,623.7L670.5,618.5" stroke="#00bfbf" stroke-width="2.3" fill="none"/><path d="M668.6,626.9L673.8,632.1M668.6,632.1L673.8,626.9" stroke="#00bfbf" stroke-width="2.3" fill="none"/><path d="M671.8,635.3L677.0,640.5M671.8,640.5L677.0,635.3" stroke="#00bfbf" stroke-width="2.3" fill="none"/><path d="M679.3,636.5L684.5,641.7M679.3,641.7L684.5,636.5" stroke="#00bfbf" stroke-width="2.3" fill="none"/><path d="M686.4,641.4L691.6,646.6M686.4,646.6L691.6,641.4" stroke="#00bfbf" stroke-width="2.3" fill="none"/><path d="M693.4,646.3L698.6,651.5M693.4,651.5L698.6,646.3" stroke="#00bfbf" stroke-width="2.3" fill="none"/><path d="M700.5,651.2L705.7,656.4M700.5,656.4L705.7,651.2" stroke="#00bfbf" stroke-width="2.3" fill="none"/><path d="M707.6,656.1L712.8,661.3M707.6,661.3L712.8,656.1" stroke="#00bfbf" stroke-width="2.3" fill="none"/><path d="M714.6,661.0L719.8,666.2M714.6,666.2L719.8,661.0" stroke="#00bfbf" stroke-width="2.3" fill="none"/><path d="M721.7,665.9L726.9,671.1M721.7,671.1L726.9,665.9" stroke="#00bfbf" stroke-width="2.3" fill="none"/><path d="M792.3,703.5L797.5,708.7M792.3,708.7L797.5,703.5" stroke="#00bfbf" stroke-width="2.3" fill="none"/><path d="M788.3,708.0L793.5,713.2M788.3,713.2L793.5,708.0" stroke="#00bfbf" stroke-width="2.3" fill="none"/><path d="M800.3,709.5L805.5,714.7M800.3,714.7L805.5,709.5" stroke="#00bfbf" stroke-width="2.3" fill="none"/><path d="M795.8,714.5L801.0,719.7M795.8,719.7L801.0,714.5" stroke="#00bfbf" stroke-width="2.3" fill="none"/><path d="M812.3,724.1L817.5,729.3M812.3,729.3L817.5,724.1" stroke="#00bfbf" stroke-width="2.3" fill="none"/><path d="M815.9,722.5L821.1,727.7M815.9,727.7L821.1,722.5" stroke="#00bfbf" stroke-width="2.3" fill="none"/><rect x="527.4" y="519.9" width="8.6" height="8.6" fill="#bf00bf"/><rect x="570.4" y="560.9" width="8.6" height="8.6" fill="#bf00bf"/><rect x="770.7" y="716.9" width="8.6" height="8.6" fill="#bf00bf"/><path d="M467.0,474.0 L480.0,484.0 L492.0,492.9 L488.1,518.9 L500.0,528.5 L521.0,537.0 L546.0,554.5 L571.0,571.5 L583.0,578.5 L595.0,600.0 L601.0,608.0 L616.0,619.5 L631.0,629.0 L646.0,640.0 L664.3,652.5 L668.8,647.2 L668.2,624.7 L682.3,635.0 L697.8,646.6 L713.2,659.5 L731.2,672.3 L758.2,689.7 L790.4,708.3 L813.5,726.4 L824.0,712.0" fill="none" stroke="#008000" stroke-width="2.3" stroke-linejoin="round"/><path d="M523.6,514.4 L414.5,446.7 L376.7,423.1 L327.0,395.9 L260.7,366.3 L211.0,343.8 L163.6,323.7 L97.4,305.9 L88.0,303.5" fill="none" stroke="#0000ff" stroke-width="3.1" stroke-dasharray="3.1 5.15"/><path d="M523.6,514.4 L603.8,594.4 L697.4,674.2 L777.2,724.8 L824.0,749.5" fill="none" stroke="#0000ff" stroke-width="2.1" stroke-linejoin="round"/><circle cx="523.6" cy="514.4" r="4.6" fill="#0000ff"/><circle cx="603.8" cy="594.4" r="4.6" fill="#0000ff"/><circle cx="697.4" cy="674.2" r="4.6" fill="#0000ff"/><circle cx="777.2" cy="724.8" r="4.6" fill="#0000ff"/><path d="M430.1,459.6L438.1,467.6M430.1,467.6L438.1,459.6" stroke="#ff0000" stroke-width="3.0" fill="none"/><path d="M458.2,464.9 L456.9,470.1 L462.0,468.5 L467.3,471.4 L470.0,476.0 L476.0,475.0 L479.0,480.5 L484.0,479.0 L490.7,481.2 L505.7,496.8 L487.5,516.3 L499.8,526.7 L503.7,524.1 L512.0,531.0 L520.0,534.0 L528.0,541.0 L545.0,552.0 L556.0,561.0 L570.1,569.7 L581.8,576.2 L587.0,586.0 L592.2,598.3 L600.0,605.4 L615.4,617.7 L622.0,620.0 L629.6,626.0 L637.0,630.0 L645.0,637.6 L651.0,640.0 L657.9,645.3 L664.3,651.7 L680.4,663.6 L672.7,629.9 L675.9,626.7 L690.0,632.4 L697.8,641.5 L709.3,650.5 L718.3,656.2 L690.7,661.6 L713.2,656.9 L722.2,665.9 L733.8,672.3 L740.2,680.0 L744.1,685.8 L718.3,685.8 L738.9,678.8 L747.9,682.6 L755.6,691.6 L765.9,696.1 L747.9,705.1 L790.4,722.5 L798.1,726.4 L801.0,731.0 L804.5,732.8 L808.0,737.5 L811.0,736.6 L814.0,742.0 L816.1,743.1 L819.0,747.5 L821.9,746.3 L824.0,749.0" fill="none" stroke="#ff0000" stroke-width="3.2" stroke-linejoin="round"/><path d="M676.0,628.0 L683.0,626.0 L688.0,631.0 L694.0,633.0 L699.0,640.0 L706.0,643.0 L711.0,650.0 L719.0,653.0 L724.0,660.0 L730.0,664.0 L736.0,671.0 L742.0,676.0 L748.0,684.0 L756.0,688.0 L760.0,694.0M500.0,525.0 L508.0,527.0 L516.0,534.0 L524.0,536.0 L533.0,544.0 L541.0,547.0 L550.0,556.0 L558.0,559.0 L566.0,568.0 L572.0,569.0" fill="none" stroke="#ff0000" stroke-width="3.6" stroke-linejoin="round"/><rect x="434.8" y="107.8" width="382.2" height="190.0" rx="4.2" ry="4.2" fill="#fff" fill-opacity="0.8" stroke="#ccc" stroke-opacity="0.8" stroke-width="2.1"/><text x="486.3" y="128.2" font-size="15.62" text-anchor="start" font-weight="normal" fill="#000" >AMSU Locations [NOAA18/0206Z 53 978]</text><text x="486.3" y="150.8" font-size="15.62" text-anchor="start" font-weight="normal" fill="#000" >ARCHER Locations [0449Z]</text><text x="486.3" y="173.4" font-size="15.62" text-anchor="start" font-weight="normal" fill="#000" >SATCON Locations [0730Z 50 977]</text><text x="486.3" y="196.1" font-size="15.62" text-anchor="start" font-weight="normal" fill="#000" >ADT Tracks [1000Z 59.0 974.9]</text><text x="486.3" y="219.0" font-size="15.62" text-anchor="start" font-weight="normal" fill="#000" >JTWC/NHC Forecast [14/0600Z]</text><text x="486.3" y="241.8" font-size="15.62" text-anchor="start" font-weight="normal" fill="#000" >JTWC/NHC Tracks [14/0600Z]</text><text x="486.3" y="264.6" font-size="15.62" text-anchor="start" font-weight="normal" fill="#000" >MESOSCALE/TARGET Location</text><text x="486.3" y="287.5" font-size="15.62" text-anchor="start" font-weight="normal" fill="#000" >Floater Locater</text><rect x="453.4" y="117.7" width="9.6" height="9.6" fill="#bf00bf"/><rect x="453.4" y="140.3" width="9.6" height="9.6" fill="#bf00bf"/><path d="M454.0,163.5L462.4,171.9M454.0,171.9L462.4,163.5" stroke="#00bfbf" stroke-width="3.0" fill="none"/><line x1="441.2" x2="475.2" y1="190.4" y2="190.4" stroke="#008000" stroke-width="2.2"/><line x1="442.5" x2="475.2" y1="213.3" y2="213.3" stroke="#00f" stroke-width="3.1" stroke-dasharray="3.1 5.15"/><line x1="441.2" x2="475.2" y1="236.1" y2="236.1" stroke="#00f" stroke-width="2.2"/><circle cx="458.2" cy="236.1" r="4.6" fill="#00f"/><path d="M453.0,253.7L463.4,264.1M453.0,264.1L463.4,253.7" stroke="#f00" stroke-width="3.4" fill="none"/><line x1="441.2" x2="475.2" y1="281.8" y2="281.8" stroke="#f00" stroke-width="3.2"/></g>
<rect x="95.6" y="101.6" width="727.7" height="727.4" fill="none" stroke="#000" stroke-width="3.2"/>
<rect x="93" y="803.2" width="313.4" height="27.8" rx="4" ry="4" fill="#000"/><text x="98.0" y="821.6" font-size="17.35" text-anchor="start" font-weight="bold" fill="#fff" >Copyright © 2020-2024 Dapiya</text>
<text x="210.5" y="851.3" font-size="13.0" text-anchor="middle" font-weight="normal" fill="#000" >126°E</text><text x="356.0" y="851.3" font-size="13.0" text-anchor="middle" font-weight="normal" fill="#000" >128°E</text><text x="501.5" y="851.3" font-size="13.0" text-anchor="middle" font-weight="normal" fill="#000" >130°E</text><text x="647.0" y="851.3" font-size="13.0" text-anchor="middle" font-weight="normal" fill="#000" >132°E</text><text x="792.5" y="851.3" font-size="13.0" text-anchor="middle" font-weight="normal" fill="#000" >134°E</text><text x="86.3" y="765.7" font-size="13.0" text-anchor="end" font-weight="normal" fill="#000" >24°N</text><text x="86.3" y="620.2" font-size="13.0" text-anchor="end" font-weight="normal" fill="#000" >26°N</text><text x="86.3" y="474.7" font-size="13.0" text-anchor="end" font-weight="normal" fill="#000" >28°N</text><text x="86.3" y="329.2" font-size="13.0" text-anchor="end" font-weight="normal" fill="#000" >30°N</text><text x="86.3" y="183.7" font-size="13.0" text-anchor="end" font-weight="normal" fill="#000" >32°N</text>
<defs><linearGradient id="cb1" x1="0" y1="0" x2="0" y2="1"><stop offset="0" stop-color="#000"/><stop offset="1" stop-color="#fff"/></linearGradient></defs><rect x="830.5" y="101.5" width="15.0" height="727.7" fill="url(#cb1)" stroke="#000" stroke-width="1"/><text x="853.0" y="161.7" font-size="16.7" text-anchor="start" font-weight="normal" fill="#000" >40</text><text x="853.0" y="215.7" font-size="16.7" text-anchor="start" font-weight="normal" fill="#000" >30</text><text x="853.0" y="269.6" font-size="16.7" text-anchor="start" font-weight="normal" fill="#000" >20</text><text x="853.0" y="323.6" font-size="16.7" text-anchor="start" font-weight="normal" fill="#000" >10</text><text x="853.0" y="377.6" font-size="16.7" text-anchor="start" font-weight="normal" fill="#000" >0</text><text x="853.0" y="431.6" font-size="16.7" text-anchor="start" font-weight="normal" fill="#000" >−10</text><text x="853.0" y="485.5" font-size="16.7" text-anchor="start" font-weight="normal" fill="#000" >−20</text><text x="853.0" y="539.5" font-size="16.7" text-anchor="start" font-weight="normal" fill="#000" >−30</text><text x="853.0" y="593.5" font-size="16.7" text-anchor="start" font-weight="normal" fill="#000" >−40</text><text x="853.0" y="647.5" font-size="16.7" text-anchor="start" font-weight="normal" fill="#000" >−50</text><text x="853.0" y="701.5" font-size="16.7" text-anchor="start" font-weight="normal" fill="#000" >−60</text><text x="853.0" y="755.4" font-size="16.7" text-anchor="start" font-weight="normal" fill="#000" >−70</text><text x="853.0" y="809.4" font-size="16.7" text-anchor="start" font-weight="normal" fill="#000" >−80</text><text x="840.0" y="93.6" font-size="16.7" text-anchor="start" font-weight="normal" fill="#000" >°C</text>
<g clip-path="url(#c2)"><rect x="970.5" y="101.6" width="728" height="728" fill="#1794ff"/><g transform="translate(970.5,101.6) scale(0.5)" filter="url(#b1)"><path fill="#25a1ff" d="M0 0l1456 0 0 1456-1456 0z"/><path fill="#31abff" d="M0 0l1456 0 0 1456-1456 0z"/><path fill="#3cb5ff" d="M0 0l1456 0 0 1456-1341 0 17-7 12-8 6-9 9-8 1-4-12-8 16-4 6-4-1-4-26-12 1-6 5-6-17-4-1-8-6-4-45-13-20-2-28-10-32 0zM0 1340l0-3 12 1 4 1 1 5-17 2z"/><path fill="#4ac3ff" d="M0 0l1456 0 0 1456-1245 0 11-8-14-8 3-4 13-11 15-1 3-4-2-3-16 6-17-7-5-4 12-8 1-8-19-5-10-7 3-8-4-8 3-3 24-1 6-4-10-8-30-4-2-4 10-8-4-4-42-17-35-7-5-4 6-4-2-4-4-1-60-8-20-5-20 0zM232 1391l-10 5 22 14 4-2-1-12-7-5zM41 1296l3-2 8 0 19 6-3 4-16 3-12-5-1-2z"/><path fill="#58d3ff" d="M0 0l1456 0 0 1456-1175 0 20-20-8-12 1-8-29-36-12-8-2-12 2-8-24-12 3-12-3-4-28-8-13-6-32-6 1-4 10-4 2-4-8-12-46-12 0-4 5-4-6-4-34-9-40 3-8-4-8-12-24-3z"/><path fill="#67e3ff" d="M0 0l1456 0 0 1456-1122 0 1-12 14-4-3-8 3-16-5-8-28-4-11-8-1-4 8-10 11-6-11-7-24 5-17-2-7-4 1-4 8-8-2-12 6-8-17-4-7-8-44-20-11-28-6-4-15-4-6-4 13-5 3-3-2-4-14-8-23-7-7-5-5-9-42-23-11 0 1 4-12 6-20-1 1-5-5-3-24-3-24-13zM344 1376l4 3 9-3z"/><path fill="#76f3ff" d="M0 0l1456 0 0 1456-1034 0 15-20 2-4-6-4 2-4 13-2 4-6-2-12-12-4-3-8-11-5-4-11-9-12-7-3-24 5-12-3-38-35-4-4 4-8-3-4-7-2-12 2-4 4 9 8-4 12 5 8-2 7-20 4-8-5 0-5 12-9 1-4-15-8 1-8-11-8-11-16-13-5-24 4-12-8-9-19 19-8 6-8 1-4-13-12-20 3-26-11-8-24-14-7-3-5-13-7-3-13-37-25-56-14-36 3zM363 1452l13-1 5 5-27 0z"/><path fill="#80fff9" d="M0 0l1456 0 0 1456-953 0-15-8-1-4-13-8 14-7 4-11 15-6-7-5-16 3-7-2-1-5 15-3-15-12-16 1-9-5-3-4 2-4-2-4-7-8-1-19-20-10-12-1-19 6-1 8-4 6-12 0-16-11-10-11-4-8 2-12-4-4-17-8-5-8-7-4-7-8-22 0 1 4-7 4-11-4 6-8-8-8 1-4 15-8 5-8-1-4-12-12-42-20-21-3-16 2-10-3-2-5 16-3 3-4-2-4-11-8-9-12-1-8-4-4-12-8-12-16-11-8-4-12-12-8-5-9-36-12-36 1-20-9-24 4z"/><path fill="#80ffe4" d="M0 0l1456 0 0 1456-833 0-23-6-4 1 0 5-66 0-21-20 3-12 25-12-43-28-3-8 4-8-3-2-30-6-3-4-3-16-7-8-33-15-20-2-5 1-2 4 8 4 1 4-22 14-20-10-5-8 0-4 5-5 24 0 2-3-2-3-16 0-25-9-17-12-10-13-31-7 14-20-6-16-13-10-15-6-11-12 15-16 1-4-10-5-12-1-8 2-16 11-19-7 2-12-5-8 2-5 24-1 4-14-12-3-12 1-4 2-4 8-4 0-16-4-21-24-15-24-9-20-11-10-18-10 0-8-6-7-20-4-48-6-28 2zM468 80l-28 10-21 14-6 8-6 16-9 8-4 12-14 6-4 5-11 33 15 16 7 16 5 4 16-3 17 15 23 5 13 11 11 5 16 2 16-6 28 6 24 2 34-5 2-8 28-11 12-2 20 2 20-3 16 1 16-12 19-7 6-8-3-12 13-12 1-8 8-16-8-2-10-10 4-8-11-24-27 0-15-4 3-5 11-3-3-3-12-2-28-11-20 3-56-17-40 0-20 3-20-5zM528 1372l-7 4 0 4 14 8 5 8 13 4 1 4 6 3 24 5 20-8 7-8 0-8-3-4-19-8-41-7zM594 188l10-2 9 6-5 5-8 1-5-2z"/><path fill="#80ffcf" d="M0 0l395 0-19 8-11 32-12 8-9 1-8-5-7-12 6-12-3-3-8 1-16 5-20 15-16 6-1 12-7 6-29 6-7 7-18 37-3 24-6 20 14 4-8 8-1 4 6 4 20 5 7 7-1 16-19 24 0 8 31 52 18 20 8 4 4 9 24 14 40 14 32 6 40 1 44-1 68-12 36-2 64-9 12-4 4-4 64-14 15-10-7-8 8-2 40-3 32 4 12-2 24-12 12-1 0-16-20-2-3-2 3-4 24-4 16-16 19-8 9-11 12-5-22-4 10-3 24 2 8-3 4-17-12-4-17 1 4-4 13-1 16-11 0-4-1-20-7-23-26-41-10-9-20-6-16-9-12-3-10-13-31-8-4-4 10-8-17-8-12-2-10-6 690 0 0 1456-626 0 2-8-4-4-140-1-56-6-16-4-11-5 0-4 22-12 5-6 28-7 20-1 45-10 11-4 4-4-2-4-34-9-60-3-16 5-24 0-39-9-57-4-5-4-1-4-50-23-20-12-24-7-11-6-2-12 25-2 8-5 3-5-7-12-12-9-12 1-4 4-1 12-20 20-23 4-13-4-12-8-7-16-20-4-1-4 3-8-7-24-11-10-13-6-8-12 9-6 12-2 20 5 28 4-3-5 2-8-9-12-10-3-28 4-11-1 0-4 12-12 2-4-2-4-10-8-4-12-19-8-10-12-15-8-14-20 3-12-10-16-6-2-14 2-11 4-3 4 4 11 7 9-5 8 26 4 6 12-34 12-7-8 1-4-5-8 9-4-22-6-6-6 3-12-8-12 2-4-4-12 0-12 5-12-4-6-16-11-12-2-36 4-20-3-36-1-20-3zM340 1231l-1 5 4 4 13 3 5-3-13-9zM410 0l93 0-15 5-20 2-28 7zM570 8l11 0 0 4-17 4-8-4zM779 52l10 0 5 8-10 8-8-1-4-3 0-4zM778 136l10-2 4 2-8 3zM553 1420l11-1 14 5 4 4-2 6-4 3-8-1-8-6-18-6z"/><path fill="#80ffba" d="M0 0l166 0-38 16 16 3 20-3 27 12 1 8-4 4-12 5-22-1-8-4-2-5-8-1-28 15-26 7-8 24-3 24 21 4 16 20 9 4-11 4-18 0-13 4 0 8 16 16-4 8 24 32 34 0 43-8 12 0 7 4-6 8-5 12-13 8-28 24-7 8-3 8 10 16 5 14 20 0 16 6-2 4-22 5-5 3 8 16 21 16 9 12 9 4 5 8 21 15 16 8 28 8 44 4 24 11 20 4 84-19 116-17 32-11 24-1 20-6 40 1 16-4 20 6 12 0 20-7 24-5 4 1 0 4-9 4 9 3 32-5 3-2-2-4 3-4 8-2 16 1 25 5 2-4-1-16 9-20 0-16-7-2-16 1-5-3 13-8 2-4-4-28 2-8 8-8 24-13 36-5 20-8 12-2 24 1 48 8 5-5 13-28-2-3-12 0-31-9 3-9-20-11 0-8 3-4 15-8 0-4-5-8 1-4 10-11 12-4 28 5 4-2 1-8-6-28-15-20-6-24-11-12-7-12-28-1-7-3-1-4 476 0 0 1456-333 0-7-7-4-1-16 5-29 3-74 0-10-4-3-7-4 0-16 11-114 0 34-5 12 1 20-15 5-1-61-1-20-2-152 2-34-7-5-4 1-8 6-5 60-11 36-11 32-5 12-12-1-20-22-8-21-2-15 6 11 8-8 4-8-3-8-8-12-1-44 6-44 1-20 6-68-11-36-13-16-9-15-4-7-4 16-8-20-8 9-8-19-12 0-12 6-8-3-4-32-16-7-12-1-8-8-8 2-4-5-6-8-1-9 3 12 8-2 4-17 8-12-2-15-14-1-4 5-8-2-4 5-12 0-16-9-16-19-24-8-2-12 1-13-3-10-8-4-8-13-4-12-12 0-8-8-8-3-12-8-8 7-8-18-16 0-4-17-8 11-5 2-3-2-4-20-6-8 2-5 4 7 8 2 12 2 4 0 8-6 5-4-1-23-24 4-8-10-4-11-8-3-12 2-8-19-20-19 4-13 7-24 6-52-3-16-4zM180 970l-5 6-1 8 14 5 8-1 3-4-9-12-6-4zM864 1352l-4 1-8 11 13 8 11 0 29-8-9-9zM944 1428l-9 4-1 4 14 6 20-1 12 3 8-8 0-4-12-4-16-3zM1032 139l-12 9 1 4 19 4 14-12-10-5zM751 304l17-1 36 4 15 9-3 4-4 0-24-7-58-1 0-4 2-1zM292 1208l20-2 14 6 2 8-3 8 0 8 3 6 36 8 20-4 9 6-9 11-12-4-5 1 1 19-48-38z"/><path fill="#80ffa4" d="M1112 0l344 0 0 1456-44 0-16-19-28-21-21-12-19-5-9 1-7 9-8 5-24-10-8 0-32 4-45 12-15 9-20 7 0 4 21 4-5 5-12 2-8-3-4-4-24-5-60 2-24-11-23 2-4-8-21-4-41 0-87 9-160-3-16 3-16-1-8-4-1-8 57-13 24-9 38-6 7-4 11-17 20-11 0-4-9-8-63-15-24 1-10-6-50-10-56-2-28-16-18-16-14-8-48-22-10 2 3 8-9 14-8 0-16-6-4-8-9-8-19-8-6-16 3-4-1-8 11-8-5-8-26-22-32-34-28-22-11-18-21-7-16-1-14-12-4-8-7-4-3-12-26-52-6-16-3-24-9-24-4-3-48-3-48-15-12 5-17 12-35 16-20-5-24 0-20-9 0-682 104-35 56-13 13 0 4 4-14 16-47 30-75 42-10 8-3 4 1 4 7 5 16 6 28 25 20 10 44 38 20 20 20-1 16 13 44 6 32 12 60 3 32 16 12-1 8-4 1-4 7-4 56-24 48-13 45-3 23-10 32-6 16-6 32 1 20 5 24-3 48 5 14-6 26-3 12 3 12 8 12 1 14-1 9-8 5-1 52 4 6-3-1-4-27-24 19-4 1-4-10-12-3-12 11-28 0-8-14-12-9-24 2-12 5-7 24-11 36-5 20-10 16-3 32 6 48 23 16 0 16-9 28-35-3-9 8-12-2-8 3-12-21-4 3-4 12-4 12-16-1-12-18-4 4-4 10-4-5-8 1-20-6-8 9-8-8-4-34-5-8-4-4-7 2-8 10-7 16-2 20 1 9-4 3-9 16 0 6-3-6-8zM864 411l0 2 8 3 9 0 10-4zM928 378l-2 2 8 4-3 4 1 3 4 2 9-1 16-8 0-4-5-1-16-3zM976 263l-3 1 11 12-4 8 5 12 1 16-10 10-26 6-2 4 2 8-6 8-3 8 27 18 8 1 6-7 6 0 6 4-3 4 17-1 9-3 0-4-4-4 4-8-45 1-8-3-3-6 7-5 66-7 1-16-7-12 6-8 13-4 0-4-23-7-1-5-6-4-31-12zM864 1332l-22 8-2 8-16 8 4 1 7 11 10 8 7 4 24 1 16-9 16 2 28-3 12-2 5-5-3-4-10-4-28-7-5-5 0-4-7-4zM360 1216l4-3 4 2 4 5-8 1zM490 1320l10-2 20 3 40 0 50 11 16 8 0 4-34 8-36-3-52-15-10-6zM637 1332l7-3 8 1 19 14-11 5-18-1-10-4 2-8z"/><path fill="#80ff8f" d="M1187 0l269 0 0 1446-4 4-8 1-16-8-52-44-26-7-18-11-8-2-38 9-114 35-32 7-40 4-21-2-5-4-2-8-6-4-30-3-84 4-88 8-96-1-48-6-4-2 5-4 23-14 12-4 28-2 20-9 28-5 20 6 16 2 15-2 5-8 4-2 8 1 8 6 24-2 20-6 10-9-1-4-21-14-12-2-8-8-31-12 3-5 19-3-4-4-27-6-8 0-10 6-26 21-8 1-12-4-24 2-28-12-44-1-76-18-8 4-9-1-2-4-13-3-24-17-19-8-5-6-51-30-29-20-32-37-43-31-65-66-20-12-29-26-20-8-1-4 5-8-9-20-7-28-1-20 2-16-7-12-1-12-3-4-5-2-48 5-44 0-9-3 3-8-5-4-25-14-5 2-15 24-32 19-8 2-16 1-12-3-32-22 0-215 12-4 4-6-4-11-9-9 1-16-4-11 0-138 22-23 10-5 8-1 48 10 40-3 24 3 20-1 12 3 24-3 72 5 20 4 20 7 16 9 16 4 20-7 38-29 38-16 40-6 20-5 20 0 29-5 55-17 20-3 52 2 64 8 28 8 52 0 12 4 17 10 27 8 16 2 9-2-1-8 6-4 46-26 40 1 24 7 24-3 3-3-1-12-14-8 26-12-8-8 0-4 18-16 2-8-7-24-5-8 0-4 6-5 10-23-6-7-16-3-3-2 2-8 9-4 12 0 10-8 23-8 17-16 3-16 12-8-17-16 3-8-1-16 4-8-3-12 1-4 23-16 1-4-10-8 3-8-14-8 0-8 3-8 14-10 16-18 0-8 17-8 16-20 2-4-2-8zM960 1290l-3 2 4 4 7 2 7-2-3-4zM1016 1296l-8 8 4 4-1 8 7 8-2 2-12 3-12-3-9-6-7-11-12-1-8 5-10 11 6 17 8 4 32 0 27-9 13-9 28-3 12-4-6-4-34-3-15-5 8-8 0-4zM1124 1300l-1 4 4 4-6 8-3 8-8 8-6 2-16 0-8 8-20 5-5 5 0 4 9 7 8 1 12-1 20-8 12-1 56 7 58-13 21-8 5-4-1-4-6-4-29-9-12-3-39 0-8-4 11-4-36-9zM1078 40l10-3 12 2 8 5 2 8-10 4-20-2-7-6 1-4zM968 224l24 2 20 7 23 15 2 4-2 4-7 6-16 2-20-2-32-10-4 4 1 4 13 12 0 12 12 16 0 12-10 9-12 2-12-3-12-10-9 2 12 24-1 8-10 16 3 4-15 0-12-2-13-10-4-12 2-8 13-20-6-12-14-12-7-16 0-12 9-11 24-8 20-1 24 9-3-13 1-4 6-4zM128 228l12 0 3 4-27 22-56 28-60 21 1-27 67-30 32-12zM457 1244l3-3 8 2 8 14-4 1-4-2-10-8zM538 1328l14-2 12 2 25 8 2 4-11 6-20-2-28-12z"/><path fill="#87ff80" d="M1246 0l210 0 0 119-31 53-4 20 2 8 17 6 16 2 0 8-24 10-4 10 2 8 6 4 20 4 0 26-3 2-3 20 6 8 0 775-12 3-2 6 6 16 8 12 0 163-24 1-4 4-1 8 5 28 9 20 3 20 6 12-5 12 5 16-10 22-8 1-8-3-37-28-21-8-3-8-10-8-21-5-16 2-64 25-80 24-52 8-24-1-4-1-4-8-5-4-19-2-36-1-44 5-28 0-92 8-92-2-28-6-4-2 3-8 13-8 76-10 32 3 20-1 7-4-3-4 4-5 7 1 2 4-2 4 5 1 28-2 20-3 16-11 80-10 8 6 12 4 16-1 36-9 12 2 16 7 20 0 101-20 14-8 7-8-4-8-62-48-24-7-21-9-4-4 2-4-5-11-16-8-18 3 0 4 14 5 5 3 1 4-10 8-4 9-8 2-14-3-7-4 3-4 0-4-14-5-16-1-24 4-24-4-4 2-4 20-17 8 1 4-2 4-14 5-8 0-5-5 14-12-6-4-29-8-8-12 10-7 28-4 15-5 2-4-9-9-32 6-19 7-25 14-24-1-12 5-20 1-40 12-3 5 7 8-2 4-10 5-17-1-5 4 1 4 5 2 32 2 10 4 0 4-14 9-32 2-24-6-56 2-24-3-36-10-56-23-25-7-4-4 0-8 12-12-87-35-48-48-32-22-23-27-21-19-16-11-16-17-32-25-11-12-20-32-8-32 3-40 7-24 1-13-28 0-32 3-52-4-28-9-36-27-12-4-4 2-2 4 4 24-7 16-13 12-18 10-12 4-12-2-16-11-20-18 0-153 8-2 24-16 24-24 27-64-3-12-12-16-7-16-4-28 2-12 8-12 9-7 52-22 104-8 24 4 24-3 32 10 27 22 16 24 2 20-2 16-12 20-11 13-8 6-17 5-3 4-17 56 2 8 29 36 18 6 4-2 1-4 2-32 4-20 0-20 11-40 5-36 7-12 22-24 4-8 1-12-12-12 2-8 14-20 39-18 12-3 28 2 8-4 8-10 4-1 8 1 72-16 20-1 56-12 92 10 24 8 20 2 8 0 3-6 5-3 20-2 8 2 13 11 15 8 8 13 8 2 20 0 24-9 4-5 32-20 32-5 24 9 32 7 16 12 12 17 20 15 24 5 12 0 8-4 6-9 3-16-12-8-5-7-16 3-8-1-13-11-23-10-6-6-4-24-7-8 21-12-5-8 5-3 12 1 20 16 6-2-2-12-10-8-2-8-8-10-4-10-5-24 8-24-4-20 5-6 16-8 20-8 24-18 12-16-2-12-18-8-10-8-4-20 4-12-1-12 15-12 16-8 0-4-6-8 3-8-5-16 14-28 14-11 27-9 9-7 24-33zM1044 1212l-36 4-2 4 10 0 24 5 9-1 7-4 0-4zM1120 412l3 4 7 0-2-4zM1082 44l10-2 5 2 1 4-10 4-7-4zM964 228l16-2 20 4 18 10 9 8 1 4-4 6-12 3-20-2-16-5-11-6-8-8 0-8zM92 244l16-3 5 3-15 12-34 17-36 12-12 1-3-2 7-8 22-12zM894 248l26-3 24 8 18 19 2 12 15 16 0 12-7 7-12 2-12-5-8-11-4-1-20 3-12-4-17-15-8-20 3-12zM909 320l11 2 8 6 5 8-1 8-4 7-12 7-16-4-6-6-3-8 5-12zM22 632l2-1 6 5 1 4-7 6-4 0-4-6 0-4zM1068 1292l11 0 0 4-11 1-3-1zM913 1296l19-3 8 3-4 4-8 1z"/><path fill="#9fff80" d="M1259 0l197 0-2 36 2 4 0 31-4 5 0 16-4 4-5 16-20 24-30 28-5 16 11 4-3 20 11 8-2 4 3 8-12 8 2 36 6 4 4-1 5-3 1-4-3-4 9-4 12 1 12 7 2 8-8 8 0 12-10 4 1 4 27 18 0 243-13 3 5 6 8 1 0 114-20-1-8 3-12 1-24-5-10-7-2-10-4-5-16 22-20 17-24 7-24-4-1 5-7 6-11 2-4 4 1 20 6 12-9 8-3 7 2 9-7 12 0 12-7 24-13 12 1 6 4 4 14 2-2 4-4 1-8-3-8 2-8 12 16 8 4 16-8 5-25-1-5 4-7 12-11 8-6 8-4 12 3 8-15 8-3 4-1 8 4 4-17 24-3 16 2 2 20-4 8 8 8-2 20 4 2 8-15 12-5 16-1 4 3 2 60-8 2-2-6-8 3-8-8-20-7-8-14-8-2-12 4-4-1-4-17 0-2 4-16 8-5 0 13-12 19-32 0-16-5-8 2-12 16-5 16 4 28 18 15-9 12-4 5-8-10-12 14-12 1-8 9-8-1-8 3-4 12-2 16-10-3-12 10-12 8-4 5-20 12-15 4-5 28-4 8-4 1-4-6-12 9-22 8-3 24-2 0 285-16 13-32 5 0 9 21 11-4 4-5 1-20-1-9 8 5 20 48 84 2 16 10 14-2 34-6 13-12 4-16-4-19-9-19 0 35 84 18 52 7 12-5 12 3 12-4 7-8 4-12-3-31-20-11-12-18-13-40-12-4-3 0-12-6-8-61-52-41-24 7-8-1-4-12-8-4-12-9-12-8-4-13-3-16 5-24-2-7 4-1 4 5 8 1 12-10 10-24 2-20 5-10-1-4-4-4-12 36-20-8-8 4-4-8-16 38-16-8-1-20-10-24 0-11 3-21 16-20 8-32 22-60 20-20 10-76 16-36-2-32 7-44-2-92-14-16-6-36-9-40-15-16-9-53-50-24-16-43-45-20-13-20-21-37-33-18-32-7-36 12-48 13-24 0-4-3-3-84 6-24-6-20-1-32-11-40-23-24-6-4 3 0 5 5 24 0 16-12 16-17 10-12 3-12-5-32-31 0-123 16-3 12-7 51-48 19-56-4-28-12-20-6-20 0-20 5-8 7-6 40-12 68-7 40-8 24 2 20-2 24 6 18 15 12 16 4 12-2 36-6 12-6 6-30 14-9 8-5 40-8 16 0 8 8 15 29 37 27 15 12 4 7-3 2-4-1-40 7-28 0-24 15-60 9-24 32-40 12-12 13-19 20-18 27-15 3-12 6-4 8 6 72-17 20-1 60-12 84 10 36 8 8-3 12 1 15-12 13-2 8 3 17 15 3 12 5 8 7 5 12 2 20-4 20-9 16 5 5-11 15-11 20-10 16-1 20 8 20 3 12 7 20 24 46 44 22 38 4 4 4-2 4-8 5-4 2-8 7-4 1-4-5-16 1-12 2-4 9-8 5-12-2-8 6-8 1-8 4-4 1-4-5-8 2-4 0-4-4-4 6-8-12-3-16 5 1 6-9 7-20-11-7 8 0 8-8 0-29-16-5-8-11-28 12-6 16 3 4 3-2 8 16 20 10 7 8-1 6-6-5-4 15 3 13-11-1-4-28-13 0-23 4-8-6-12-10-10-16 2-3-4 3-5 7-3-12-16 3-20-3-20 9-5 24 4 12-3 23-24-4-4 3-4 10-4 1-12 5-8-1-4-9-11-20-7-10-10-5-16 3-8 1-12 11-8 20-4 19-8-1-4-18-12 4-12-6-12 11-16 1-12 10-6 24-3 22-15 4-12 20-24zM1412 348l0 6 4 2 11-4-1-4-2-1zM1428 595l4 5 4-4-4-4zM1172 1019l-16 8 0 3 4 2 12-2 3-6zM1244 1055l-32 21-20 4 3 4-2 12-9 8 36 17 12 10 32 3 14-2-10-4-16 2-8-4-6-6 10-6 24 1 22-7-26-44-20-12zM1360 927l-22 13-2 16-4 8 0 16 16 29 32 15 4-5-14-11 4-12 5-4 4-16-2-8-6-8 9-4 7-8-7-11-16-4-3-5zM1108 1112l-6 4 11 0 2-4zM1112 1140l-17 8 1 4 24 6 21-2 2-4-11-13-12-1zM964 232l12-4 20 3 18 9 8 8 0 4-3 4-11 2-24-3-19-11-4-8zM905 248l19 1 20 10 12 13 4 16 12 6 5 6 2 8-3 6-8 5-12-1-8-5-8-13-28 3-20-14-8-13-1-12 5-9zM901 328l11-4 12 5 5 11-4 8-5 4-8 2-12-4-5-10 2-8zM19 636l5-2 4 6-4 4-4-1zM990 1252l26-1 3 1 0 4-7 4-12 2-14-6zM638 1264l42 1 52 8 41 15 7 11 12 0 14 5 1 4-15 0-16-8-44 9-36-2-28-7-15-8-24-24zM1284 1352l15 0 3 4-1 4-6 8-21 12-74 27-36 9-24 4-29 0-4-4-4-8-7-4-80 2-32 5-28 0-96 9-88-7-20-4-3-5 3-4 12-4 76-5 40 1 72-8 20-9 68-6 40 3 40-8 12 3 12 7 12 1zM890 1380l2-3 4-1 2 4-2 2z"/><path fill="#b8ff80" d="M1280 4l7-4 169 2 0 15-14 7 4 24-7 36-10 28-21 20-25 12-3 4 3 4-3 7-16 5 7 20 16 8-2 12 10 8 0 12-12 12-2 28 6 16-10 8 0 4 46 16-3 8 16-3 20 11 0 212-12-3-6 3 10 13 4 1 4-4 0 9-8-3-38 12-4 8 1 4 6 4-1 4-12 6-6-2-6-13-12-15-12 22-12 16-12 10-16 5-2 7 6 12-4 4-12 0-16-9-8 8-2 5 5 12-7 32 2 8-2 5-16 7-4 12-2 24 2 8-9 20 0 12-7 8-2 8-2 24-2 4-15 8-3 4-3 8 1 12-3 4 0 12-13 16-6 1-2-9-6-2-8 2-4 4-1 20-12 20 6 8-1 12-18 12-13 24-6 28-12 24 1 5 4 2 12-6 5 3-3 4-18 6-4 6 1 8-13 12-7 16-12 12 4 4 0 4-28 20-20 20-61 41-24 13-44 13-28 14-44 9-60 4-20 4-52 1-96-15-40-10-48-16-12-7-56-52-27-19-21-24-22-20-18-12-56-54-18-34-5-28 13-44 21-36 1-8-12-2-56 7-40 1-16-4-24-3-70-31-22-8-16-2-4 2 0 4 10 32 0 16-4 8-8 8-14 7-8 1-8-1-8-6-28-33 0-97 31-7 21-26 16-9 8 0 5 3 4 32 7 2 8-2 9-4 3-4-19-32-3-12 3-32 11-36-4-35-12-21-4-16 1-12 7-10 12-5 28-7 68-5 40-10 20 2 28-2 12 4 12 8 11 13 6 12 2 16-3 20-4 10-8 8-36 16-4 4-4 38-8 24 8 24 32 44 28 16 20 3 9-3 5-8-1-48 6-24 1-20 21-80 7-12 39-44 11-16 18-17 29-19-1-12 4-4 4 12 16-7 24-6 92-13 20-6 68 8 56 10 8-9 12 5 20-17 12 0 16 15 3 12-1 4-6 5-13 3 45 10 20-4 24-12 24 17 4-19 5-8 11-7 20-8 8 0 18 7 22 4 12 9 16 20 25 23 18 24 21 40 22 16 10 50 10 30 0 8-12 24 34 28 8-2 7-6 0-4-9-8-4-12-6-6-10-2-5-8-1-32 4-8 8 4 5-12-5-8-4-20-8-12-1-16-8-8 5-8-2-8 2-16-6-16 6-8-1-8 13-8 7-12-1-20 10-12 1-4 0-8-6-8 1-4 8-4-18-8-4-4 1-8-3-2-25-6-11-8 0-8 4-7 4-3 11-2-31-36-18-16-3-8-1-28 2-6 4-1 28 7 14 0 17-8 24-16-8-8 0-16-4-8 0-4 7-8 0-8-8-8-22-6-15-10-5-16 4-16 8-7 24-1 16-11 28-6 3-7-3-1-37-11 3-4-1-4-9-12 11-12 1-16 8-3 24 1 8-3 16-15 7-20 9-9zM1280 67l-2 1 1 4 9 8 8-12zM1312 23l-4 1 0 5 12 9 4-2 3-8-6-4zM1388 311l-16 9 1 8 6 28 5 8 0 8 4 5 17 3 2 4-11 2-5 6 2 24 15 8 4-10 1-14 7-8 4-2 12 6 3-4-4-16-9-12 2-4 12-8-1-4-11-15-16 4-11-1-4-4 15-13-16-7zM1196 855l-4 5 4 2 13-2-5-5zM1216 156l-5 4 4 8-15 7-4 5 2 12 30 7 20-6 6-5 0-4-15-12-2-4 3-4-3-4-13-5zM1284 588l-1 8 5 9 5 3 12 0-9-4 3-4zM1436 520l8 5 5-5-5-3zM1200 435l-4 1 13 8 7 0 5-4-9-5zM1236 564l-2 12 4 8 0 8 6 6 5 2 3-1 2-7-2-16-8-9zM1240 488l-1 4 5 3 6-3-2-4zM1212 755l-4 9 0 4 4 5 7-5 1-4-4-7zM971 232l13-1 16 4 15 9 2 8-13 4-22-4-16-12-1-4zM899 252l21-1 20 9 14 16 0 12 2 3 12 3 7 6 2 8-2 4-7 5-12 0-9-9-1-12-30 4-20-11-7-9-4-12 3-8zM911 328l11 4 3 8-5 8-8 2-9-2-5-8 3-8zM1076 404l6 0 2 4-8 1zM1082 420l2-3 9 3 21 20-2 6-4 2-19-8-5-8zM1397 600l3-1 27 13-12 16 0 12 41-2 0 42-20-2-32 1-13-3 0-8-4-8 7-12 0-4-3-4-2-16-5-8 1-4zM1443 728l13-2 0 35-19-5-6-4-3-6-1-6 2-8zM1418 772l38 1 0 185-5 6 4 20-3 16-12 8-24 5-5-1-7-16-1-4 3-8-3-8-13-12-1-4 8-12-1-12-10-16-5-20-9-4-4 1-5 3-4 12-7 8-12 6-8 0-15-10 10-4-8-12-16-8 28-8 5-20 9-8 3-8 12-4 12 2 9-2 1-4-2-2-18-2-2-4 1-4 3-4 20-4-4-7 1-5-3-4 6-15zM1248 948l8-3 28 3 16-2 0 14 12 5 7 7 0 8 15 28 10 12 24 16 7 8 4 8 5 24 18 28 26 56 8 28-4 16-4 6-12 2-28-10-38-42-34-16-2-24-6-16-17-24-10-20-9-8-11-28-4-16-15-12 3-12-4-8-1-16-4-4zM1178 1040l8 0 0 4-6 13-6 7-18 12-16 3-6-3-7-8 3-8 22-8 16-10zM1166 1088l11 0 5 4-2 4-12 5-8-2-2-3 2-4zM1162 1120l14 0 17 4 5 8 16 8 10 12 16 11 8 0 3-3-6-8 3-3 12-1 15 4 2 12 7 5 20-4 8 3 2 8-6 4 2 4 22 11 22 21 20 28 25 44 14 32 21 56-9 20-9 1-18-9-34-29-76-55-36-31-14-9-5-8-25-27-2-9-8-12-16-12-6-24-16-24 3-16-6-8zM1084 1136l4-3 11 3-7 2zM1119 1176l13 0 8 4-1 8 12 8-7 3-16 0-24 6-6-1 0-4 5-8-2-8 2-4zM1099 1216l9 0 5 4-5 13-8 2-8-4-15-3 3-5zM653 1272l27-1 40 5 21 8 12 8-21 10-32 2-39-12-9-12zM1240 1364l32-1 4 1 1 4-14 12-40 16-75 20-24-2-8-15-8-4-36 6-60 2-32 6-24-2-32 5-40 1-28 4-20-1-36-8-32 0-14-4 2-4 8-2 52-1 32-3 32 1 76-8 24-8 56-4 56 1 16-4 16-1 16 8 12 1 64-13z"/><path fill="#d0ff80" d="M1327 0l113 0 6 8 2 4-16 8-4 4 8 20-4 32-4 16-15 24-13 10-16 5-16-3-12-8-12-16-7-16-3-16 1-16 6-24-2-4-19-12-1-4zM1262 20l10-3 16 2 8 5 13 16 2 8-7 12-32 4-2 4 4 16 17 12 1 20 29 8 5 4 5 12 14 8-14 12 1 4 8 10 20 16 16 6-11 4 3 3 20 9-2 12-9 12-4 12 1 16-8 8 3 8-16 12-24 12 12 8-7 8 5 24 13 11 16 9 4 21 7 19 0 8 15 16 0 20 12 8 7 12 9 4 4 4-2 16-4 4 4 6 2 10-22 8 3 8 9 4-12 8 1 16-9 7-8-2-12-19-12-7-12 5-1 8-3 4-16 6-7 6-4 8-5 2-8-7-16-1-4-3-10-19 3-8-13-6-14 6 0 4 10 8-4 8 11 16 1 16-3 4 12 16 7 16-8 16 8 12-8 25-12-6-4 3-2 14 2 16-5 20-1 28-9 16 0 12-10 8-9 16-1 12 3 4-8 5-4-2-3-7 5-16-6-16 9-20-7-16-2-19-20-17-7-12 1-12-5-12 5-32-15-40-1-16-5-8 2-8-4-12 2-12-6-16 13-6 8 0 12 4 7-2-3-12 4-3 11-1 3-4 0-4-10-3-12 2-4-2-2-9 5-4-7-8 0-4 16-15 20 5 11-2 0-4-14-12 9-8-4-4-29-8 2-8-9-8-1-8-4-4-13-1-12 6-5-1-7-7-4-5 3-4 21 0-1-4-55-56-5-12-1-16 2-8 4-2 40 10 44-5 12-10 17-5 5-4-10-11-20-3-8-4 0-10-7-12 0-4 11-12 8-4 32 2 16-8 24 4 17-26-4-4-36-12-4-4 3-4-3-4-8-4-2-4 4-4 26-8-33-6-3-2 1-4-5-8-37-12-15-12 11-12 0-12 4-4 12 0 20 5 8-4 4-9 11-12 1-16zM1208 547l-4 5 1 4-3 16 2 4 12 10 12-3 5 13 9 8 6 12 8 3 3-3-4-8 0-4 7-8 0-4-4-4-2-16-11-16-5-3-12-4-12 1zM1220 532l-4 2 0 6 8 6 14-6-10-3zM1212 363l-2 9 6 8 8 5 8 0 2-5-3-4-13-12zM1236 480l-5 8 0 4 5 6 12 4 12-6 2-8-6-8-8-3zM1260 271l-14 5 15 12-21 7-3 1 2 4 17 3 20-1 20 4 13-2 7-4-21-16-3-12-4-2zM1252 629l-4 7 4 4 12 2 6-2 1-4-5-4-6-3zM1228 400l0 4 6 0 1-4zM1260 328l-5 4 2 8 3 1 12-1 11-8-6-4zM1260 364l-4 4 2 4 6 5 6-1 3-8-5-3zM1200 144l24 4-24 9-8-1 2-8zM1151 156l33 3 12 9-8 31-12 3-12 0-12-4-8-6-6-16 6-16zM970 236l10-4 12 2 14 6 8 8-2 4-4 2-20-2-15-8-3-4zM896 256l20-3 20 7 14 16-2 12-24 9-16-3-13-10-6-12 1-8zM953 296l11-2 8 5 3 5-1 8-10 5-12-4-4-9zM1363 304l5-2 7 6-11 4-8-2-1-2zM907 332l8 0 5 4-2 8-6 2-7-2-2-8zM1418 400l6-3 4 0 12 16 6 3 1 24-3 6-4 2-12-4-13-12-1-16zM818 452l10-3 11 7 8 12-2 12-5 3-12 0-19-11-2-8zM1203 452l6 0-1 6-4 1-3-3zM1439 452l1-3 4 1 4 2 1 4-9 0zM654 460l34 1 76 12 36 11 16 8 56 11 21-3 27-15 18 15 22 34 21 18 19 9 2-5-6-9-35-27-8-20-1-16 8-11 24-9 48 10 8 6 45 48 14 20 21 40 8 7 13 5 17 80-2 12-10 16 1 12 29 19 23 21 1 12 7 12-3 8-1 20-9 24-7 12-16 12 7 8-2 4-12 5 0 7 8 12-3 12-16 20 3 16-13 12-3 12-6 12-8 28-10 20-9 32-35 48 3 8-7 7-12 2-20 20-60 42-16 8-44 14-28 13-68 13-36 1-20 4-44 1-104-15-36-8-52-18-20-15-48-45-22-16-22-23-23-21-17-12-57-56-18-36-3-20 14-44 21-32 7-16 0-5-8-1-36 6-64 5-48-7-69-30-43-14-8-10-1-8 3-8 10-12 42-20 8-8-20-24-9-24 1-24 9-28-1-44-1-8-12-20-3-12 3-12 7-6 36-9 68-5 36-11 20 1 24-2 12 2 12 8 12 14 5 12 0 16-3 16-4 8-10 9-16 7-18 4-4 4-5 40-7 24 12 36 29 40 29 17 12 4 12 0 12-4 7-9 1-52 4-20 2-24 22-80 7-12 37-40 15-20 21-19 40-23 44-9 76-9zM786 464l2-2 7 2 1 4-4 5-5-1-3-4zM1445 488l3-2 3 2 1 22-10-10zM1394 612l10-2 6 2 3 4-9 7-4 0-8-5zM1416 652l8-4 18 8-14 8-4 5-21 3-7-13 4-5zM56 748l8-2 4 6-4 10-8 5-4-1-1-6 1-8zM9 772l15-1 8 3 8 6 29 72 4 16-1 12-8 10-12 7-12 1-8-5-32-39 0-80zM1414 780l10-3 22 3-6 44 11 92 2 24-3 8 2 8-6 8 1 28-7 8-12 3-6-3-6-9-16-35 2-8-4-20-10-28-7-8 3-24-8-4-20 3-4-3 8-5 20 3 9-6-1-8 5-16 7-8-1-8 13-8 0-4-9-8 4-8zM1260 956l5 0-1 5-4 1-4-2zM1268 972l8-1 28 9 11 12 12 20 15 16 14 11 12 3 5 6 7 34 16 26 20 52 3 20 0 8-3 3-8 0-27-15-17-16-28-19-8-9-3-12-12-24-13-16-5-12-11-16-13-28-3-16-8-12 2-16zM1162 1052l10-4 4 1 1 3-5 9-18 11-6 3-8-3 3-12zM1178 1144l10-3 12 2 11 13 25 14 24-2 12 5 17 15 1 4-16 12 0 8 10 6 9 14 11 8 4 0 3-4 4-16-4-4 0-4 5-2 16 3 16 12 28 35 26 48 19 48 4 20-5 5-8 4-12-4-43-37-21-24-44-22-42-34-34-36-4-12-20-23-7-25-12-16 0-4zM663 1276l13-1 20 4 22 1 12 4 1 4-31 10-16-2-12-2-9-6-3-8zM1208 1372l36-4 14 4-1 4-5 4-37 16-67 15-13-3-3-17-16-5-16 3-16 7-72 4-28 6-28-3-28 6-44-1-32 5-15-1-15-8 26-7 28 2 52-8 28 0 20-7 16-2 64-2 44 4 20-1 24 3zM761 1400l11-2 22 2-1 4-21 2-12-2z"/><path fill="#e9ff80" d="M1335 4l6-4 84 0 7 8 0 4-16 12 7 12 3 12 0 20-3 16-9 20-14 13-12 4-12-1-12-7-10-13-9-28 3-40-1-4-19-12 0-4zM1262 24l10-4 16 3 18 21-6 12-4 3-24 2-7 3-1 4 3 16 16 20 1 12 32 14 12 14-7 16 10 16-2 8 3 3 16 9 8 10 25 6-1 16-15 20 3 12-4 5-19 7-1 6-4 3-12 2-14-3 6-8-2-4-9-4 2-8-7-11-37 3-16 8 2 4-9 4-40-5-5-3 1-11-7-9 0-4 11-8 12-2 28 6 40 0 7-4-3-8 3-8 16-8 2-8 6-4-1-4-25-16-2-4 2-4-1-4-8-2-20 4-9-2-2-4 15-5 20 0 7-3 1-4-52-18-26-14-2-4-20-3-12-5 11-12 1-12 4-2 10 2 3 8 9 4 17 0 5-3 2-17 9-12 1-20zM1148 160l8-2 12 1 19 9 3 4-2 12-6 12-18 4-17-8-7-16zM977 236l16 0 9 4 8 8-6 4-16-2-11-6-3-4zM903 256l13-1 20 8 11 13-1 8-6 6-16 5-8-1-12-6-8-7-4-9 4-12zM960 296l8 1 6 7-2 8-4 3-12-1-5-6 1-8zM1111 296l9-2 28 10 40 5 8 3 8 8 32 0-6 4 1 4 11 8 2 24-4 6-20-14-2-12-6-6-20-2-7 4-1 4 14 20 10 20 12 12 1 4-6 8 17 7 4 0 12-11-5-12 5-9 4-1 20 8 9-6 4-12-13-12 4-8 16-10 16-2 8-6 8 1 0 13 36 20 11 40 1 8 15 16-2 20 15 24 8 4 2 4-2 4-18 12 5 4-7 7-24-1-12 5-1 13-9 12-6 4-6-4-6-16-4-2-8 5-12 2-12 6-8 0-16-8-12 3-16 9-8-1-7-6-4-8 9-16-2-4-9-4-1-4 5-4-17-12 0-4 4-4 10 0 20 4-4 0-11 16 9 12 22 13 5-1 1-8 14-16 16 2 11-6-19-8-12 5-19-9-2-4 4-12-15-4-6-4 10-7 4 1 8 6 0 8 16 1 3-1 2-4-3-4 2-8-8-5-28 0-23-7-3-4 1-4-13-12 1-4-22-12-4-8-31-28-29-32-4-16zM1270 316l12 0-1 4-5 0zM1422 400l6 0 8 16-2 16-2 4-4 1-8-3-3-6 0-16zM820 452l12-1 10 9 3 12-4 8-13 1-16-9-2-8zM787 464l5-1 3 5-3 3-4 0-3-3zM645 468l11-3 16-1 76 10 48 13 20 9 60 12 20-5 24-15 12 9 18 31 22 23 28 18 20 5-3-10-21-24-24-16-7-8-7-16-2-12 8-12 20-8 8 1 12 6 20 0 8 3 55 58 20 32 11 24 20 12 15 80-9 18-9 6 1 4 8 13 36 24 14 19 5 16-3 32-14 28-18 11-3 5-7 28 1 16-26 76-2 16-15 30-13 34-18 28-18 20 9 8-8 5-8-4-20 22-64 45-16 7-40 13-28 13-68 13-36 1-20 5-48 0-100-15-36-8-52-18-66-59-22-16-23-24-21-19-16-11-48-45-8-9-15-28-7-20 4-20 10-29 32-51 3-8-2-4-14 0-43 8-72 4-36-6-72-32-36-11-7-7 1-12 10-12 16-10 32-14 8-8-2-4-14-8-7-8-12-28 1-24 9-28-2-28 2-20-13-24-4-12 2-8 8-6 32-9 68-4 36-10 20 0 20-4 16 4 12 8 8 9 5 12 1 16-4 16-6 8-12 9-12 4-20 3-4 8-5 44-7 12 0 8 13 36 32 44 17 12 18 8 28 2 8-4 8-13 0-53 6-44 21-76 9-16 68-74 36-21 24-8 48-8zM1381 512l3-3 8 3-7 8 2 4-2 4 4 8-1 5-6-5 2-8-4-4zM1312 544l4 0 4 4 1 4-5 6-11-6 1-4zM1243 548l5-3 8 3-8 4zM1263 604l5-2 7 6 1 8 7 8-3 5-8 1-9-6 4-8-5-8zM1227 612l5-2 12 10 0 5-6 7 1 4 19 16-2 8 3 8 1 36-6 48-11 16 2 8-3 4-14 11-5-7 1-8 5-8-6-20 0-16-3-7-7-5 0-4 6-80 3-4-5-16zM1269 648l7-2 8 6-8 7-10-7zM0 780l16-4 12 5 6 7 22 40 13 40-2 12-11 10-12 4-8-3-11-11-20-28-5-4zM1399 840l9-2 17 6 10 32 8 40 2 36-4 12-2 20-3 6-4 0-8-5-12-20-4-9-11-48-8-16 1-16 2-4-2-8 7-8-2-8zM1275 992l9-4 18 4 31 36 23 20 8-2 8 5 3 9 1 26 14 26 10 32 1 16-4 4-9 0-25-12-6-8-12-8-11-16-42-68-12-28-3-16-4-8zM1197 1168l3-4 4 0 32 14 24-3 12 4 10 9 2 4-4 4-17 8 0 4 2 4 15 11 5 13 15 14 16 4 8-2 3-20 5-3 8 2 12 9 24 30 23 42 15 40-2 20-8 2-8-4-31-26-35-52-4-8-2-13-4-3-7 4 4 8 1 8-6 5-8 1-20-10-24-20-36-36-4-12-20-28zM673 1284l11-1 6 5-10 2-6-2zM1204 1376l24-2 13 2-2 4-6 4-29 12-44 8-8-1-5-3 0-4 6-4 31-12zM975 1388l21-2 16 4 24 0 28-2-7 4-37 2-36 8-12-1-10-5zM922 1396l18-1 6 1 0 4-14 5-23-1 3-4zM766 1400l13 0-7 4zM844 1404l8-2 12 2-4 4-8 0z"/><path fill="#fffe7f" d="M1352 4l28 1 16-5 14 0 10 8-1 4-13 8-1 4 9 12 4 12 2 16-2 16-9 20-13 11-12 2-12-4-9-9-6-12-4-16 2-24-1-20-14-8-1-4zM1266 24l10-2 9 2 16 16 2 4-2 4-9 8-36 4-2-24 2-5zM1252 76l5 0-2 8 13 8 8 12 2 16 2 3 6 1-38-2-20-9-16-12-20-2-9-3 17-16 16 5 20 2 13-3 5-4zM1303 140l5-3 8 3 2 4-9 16 8 8-1 6-16-6 2-8-8-8zM1155 160l17 2 14 10-1 12-9 12-16 1-8-3-6-6-4-8 1-8 5-8zM1295 212l9-3 16 3 16-4 16 3 20 0 4 5-4 4 3 8-11 15-8 4-13 1-7 5-8-3-7-10-5-1-36 3-12-2-7-4 0-4 31 0 16-4-1-4-11-5zM979 240l5-3 8 1 11 6 2 4-9 2-8-2zM901 260l15-2 16 6 10 8 2 4-2 8-6 5-12 3-8-1-12-5-6-6-4-8 2-7zM954 300l6-3 8 2 5 9-5 6-12-1-4-5zM1113 300l3-2 8 0 53 18 4 4-5 12 1 8 16 20 10 20 11 12 0 4-10 3-16-4-36-32-36-39-4-12zM1288 348l8-3 12 1 12 7 33 11 7 24 0 24 19 12 1 4-2 4 3 8-5 8 9 12 1 12-6 8 3 8-11 7-12 3-8 7-5 7-1 12-6 9-4 2-7-7-5-18-4-2-12 3-16-5-5 10 3 8-6 4-10-4-8-16 2-9 8-3 12 2 8-8 24-2 4-4-12-6-12 0-16-5-16 1-8-2-1-8 17-3 7-5 0-12-15-18-8-2-28 6-9-2-5-4 6-7 32 6 3-3-11-8 13-16-10-8 5-3 6 3 2 8 13 8 0 8 3 8-3 4 3 4 12 6 32 2 5-4 3-15 18-1 5-4-23-8-5 4-5 0 8-8 11-4-6-4-15-4-4-4 0-4-20-4-2-4 2-4-8-8 2-4zM1292 444l4 1 7-1-3-4zM1336 463l-6 5 2 3 12-2 11-5-7-2zM1421 404l3-3 4 3 6 12 0 8-6 10-4 0-6-6-1-12zM822 452l10 0 9 8 2 12-3 6-12 2-14-8-3-8zM657 468l31 1 60 8 48 13 20 10 60 11 16-2 28-15 4 1 8 7 13 26 23 25 24 17 24 12 20 14 4 1 0-5-4-8-18-24-22-25-20-13-8-9-8-21 5-12 15-7 8 0 16 8 16-2 12 3 51 54 20 32 12 28 20 12 14 72-5 14-12 7-4 3 1 4 11 18 36 24 14 18 5 28-1 16-14 28-8 7-12 4-3 5-12 60-20 64 0 12-8 12-23 56-15 24-43 52-12 6-48 35-16 9-44 14-20 11-12 4-68 12-32 1-20 4-48 1-96-14-40-10-48-16-22-17-42-40-24-17-24-26-20-18-17-11-14-16-33-28-8-9-18-31-4-20 9-32 5-12 32-49 6-19-6-2-16 2-44 9-72 3-36-6-72-32-32-10-7-8 1-8 10-10 45-22 14-12 0-4-3-3-16-6-7-7-12-24 0-28 10-28-2-28 3-16-1-8-17-28 1-8 5-6 32-9 68-4 36-11 16 1 24-5 16 4 12 9 7 9 3 12 0 16-4 12-6 8-12 8-12 3-16 0-4 3-4 12-3 38-11 16-1 8 14 36 37 48 25 16 31 9 20 9 4-5-2-13 6-16-1-52 6-40 20-76 8-16 67-74 40-24 72-14 49-4zM786 468l2-4 4 1 2 3-6 2zM1232 508l4 1 7 7 2 8-5 6-8 4-9-6-3-8 4-8zM1236 676l8 0 4 4 8 28-5 40-7 12-8 5-4-3-5-10 0-20-4-12 5-29zM1232 772l4-1 2 5-6 5-2-5zM1 784l15-2 11 6 24 40 11 24 4 16-3 12-7 6-12 4-8-3-28-39-8-6zM1400 860l8-2 12 2 9 20 6 28 4 28-2 24-5 11-8-2-9-13-13-48-5-12-2-16 6-8-5-8zM1291 1004l1-2 4 1 48 40 8 13 4 2 8-9 6 3 3 12-1 28 13 24 2 32-7 2-8-2-5-8-12-8-25-28-32-56-4-16-5-8zM1061 1116l3-3 6 3-6 4zM1257 1180l11 1 9 7 2 4-7 5-16 5-3 2 0 4 22 16-1 8 8 12 24 16 0 4-14 10-12-3-11-7-38-40-12-24-1-8 2-5 16 0zM1339 1252l5-3 12 6 24 31 22 46 6 20-4 9-8 0-19-13-18-24-16-32-9-28zM1200 1380l18 0 1 4-13 8-10 3-26 1 0-4 6-4zM974 1396l6-2 9 2z"/><path fill="#fff172" d="M1391 8l12 0 0 4-7 8 0 4 10 12 3 8 4 12 1 16-3 12-7 13-8 7-12 2-12-7-9-15-3-16 2-20-4-12 5-8-11-8 1-4 7-6zM1271 24l9 0 4 2 14 14 2 4-2 4-10 7-20 2-8-1-4-20 4-6zM1195 88l9-3 56 5 9 10 2 16-7 5-12-1-23-8-17-13-25-3zM1151 164l13-2 15 6 4 8-3 13-12 7-16-4-7-8-2-8zM1347 216l17-2 5 2-7 4 10 8-8 11-8 4-8 0-17-7 1-5 16-2 6-5-8-4zM909 260l11 1 14 7 7 8-2 8-15 6-8-1-12-6-5-7-1-8 3-4zM956 300l12 0 4 8-8 6-7-2-4-8zM1115 304l5-4 8 2 40 18 6 20 13 16 13 28 8 8-8 3-11-3-37-32-33-36-5-12zM1326 364l14 0 4 3 5 9-4 4 0 4 6 4-3 2-7-2 1-4-3-4-18-12zM1423 404l6 4 3 12-1 8-3 4-4 0-4-4-2-8 0-8zM1344 424l12 2 8-1 4 3-24 2-2-2zM1334 440l10-2 9 2 2 4-11 5-8 0-7-5zM825 452l7 1 10 11-2 12-4 2-12-1-10-9 0-8zM1292 464l9 4-1 3-4 1-7-4zM652 472l32-1 64 9 48 13 20 9 64 12 12 1 24-12 8-1 8 9 8 19 22 22 27 20 31 17 63 59 13 24 18 20 24 36 34 22 15 18 5 28-1 16-15 28-18 8-3 4-14 64-20 64 3 12-8 8-22 52-18 32-39 44-5 10-8 0-60 43-48 15-24 14-76 14-32 1-24 5-44 1-96-15-88-26-60-56-27-18-21-24-22-20-18-12-15-16-29-24-10-12-17-28-5-20 10-32 10-18 8-6 12-21 15-31 0-8-11-1-60 11-72 4-36-6-72-33-28-8-8-7 2-8 6-6 16-10 35-16 10-8 5-8-3-4-19-6-8-6-10-16-4-12 1-24 14-28 1-12-3-16 2-24-19-28 0-8 5-4 29-8 68-4 32-10 20 0 20-5 12 1 16 9 11 17 1 16-3 12-5 8-12 9-12 3-16-2-4 2-6 16-4 40-6 8-10 8 0 12 14 33 20 19 20 28 28 20 28 8 20 10 8 1 4-7-1-16 4-20-1-48 6-40 22-80 6-11 64-71 36-23 28-9zM971 480l13-4 20 11 16-5 8 1 8 5 41 44 23 36 12 30 16 11 4 7 5 16 8 44 0 8-5 9-12 2-9-7-16-24-18-20-57-76-32-37-17-11-8-8-7-20 2-8zM1352 480l8-1 5 5-17 3-2-3zM1304 492l16 2 16-5 7 3 4 12-4 20-3 6-4 2-4-3-6-21-5-8-13 3-8-7zM1226 512l6-2 4 1 6 9 1 4-7 7-8 0-6-7 0-8zM1238 700l2-1 4 3 5 22-2 24-7 10-4 0-6-10 0-28 2-12zM0 788l8-2 16 5 26 41 13 36-3 11-8 6-8 2-8-4-27-39-9-6zM1412 868l4 0 4 7 9 29 3 32-4 16-5 0-11-21-9-31 0-20 11-8zM1309 1036l11 0 15 8 21 30 5-18 3-4 4 0 4 12-7 20 0 8 4 12 8 8 0 4-5 8-4 2-8-2-22-20-31-52-2-8zM1251 1188l13-4 8 3 3 5-7 4-12 1-9-5zM1241 1220l3-4 4 0 17 8-5 15zM1351 1268l5 0 8 7 20 29 11 28 4 16-3 3-12-5-18-22-16-36-3-16z"/><path fill="#ffe565" d="M1366 16l14-3 10 3-4 8 13 12 8 20 1 16-2 12-6 9-8 6-8 0-6-3-10-16-2-12 3-16-7-16 11-8 0-4-7-4zM1265 28l11-3 8 4 12 11 2 4-2 4-12 6-20 0-5-6-1-12zM1200 88l57 4 8 8 1 16-6 3-12-1-17-6-15-13-25-3 1-4zM1155 164l13 0 12 8 0 12-4 6-12 4-8-1-6-5-5-12 3-7zM1358 228l9 0 0 4-7 7-10 1-5-4zM906 264l10-1 12 4 8 6 0 8-4 4-8 2-16-4-4-3-3-8zM960 300l4 0 6 4-2 7-8 1-5-4 0-4zM1119 304l13 1 29 15 10 20 15 20 7 16-1 8-12-4-22-16-34-36-7-12 0-8zM1422 408l2-3 4 4 3 7-2 12-5 3-6-11zM819 456l9-4 8 5 5 7-4 12-9 1-10-5-4-8zM647 476l13-3 24 0 76 12 36 10 18 9 90 18 28 13 40 27 16 14 4 0 4 4 19 8 23 20 41 44 15 24 15 16 29 40 34 21 10 11 4 8 4 28-2 12-16 28-18 8-17 72-18 52-1 12 4 8-9 8-22 52-19 32-39 44 1 4-2 4-8-1-60 43-48 13-24 16-76 15-32 0-24 5-44 1-96-14-86-26-19-16-13-20-14-10-12-13-28-15-20-26-8-6-12-14-20-9-12-16-16-9-20-18-26-40-3-16 9-29 5-11 23-18 8-26 14-32-2-4-16 0-60 12-20-1-48 5-40-7-72-33-27-8-5-4-1-4 7-8 54-28 10-8 5-8-3-6-20-5-8-4-7-9-7-16-2-12 2-16 6-13 10-11 2-20-4-16 3-20-21-24-2-8 4-5 28-9 72-5 32-10 16 1 20-5 16 2 12 8 6 7 4 12-3 24-7 9-12 8-8 1-20-2-4 4-5 16-4 40-3 4-15 8-2 12 10 28 7 12 20 16 24 32 24 18 32 9 28 13 4-1 3-7 2-36-1-52 6-36 8-36 5-8 8-36 6-12 63-71 40-25 24-7 48-8zM352 906l-3 2 3 7 6-3 0-4zM416 1052l-2 4 2 7 8 1-3-12zM452 1050l-3 6 3 3 8 0 3-3-2-4-5-3zM484 1107l-6 5 2 11 16 7 8 14 4 3 4 0 5-7-3-12-18-20zM979 480l9 1 12 12 20-8 12 3 46 48 23 40 8 20-1 5 17 15 6 12 11 48-2 12-4 3-8-1-4-3-17-27-79-95-32-38-16-9-8-10-5-12 2-8 3-5zM1331 500l5-3 7 7-1 20-6 5-7-13-1-12zM911 512l9-4 4 2 4 6-1 4-3 1-13-5zM1230 512l9 4 2 8-5 7-4 1-7-4-3-8zM0 796l0-3 8 0 12 4 27 35 9 21 4 15-2 8-6 6-8 2-8-4-27-44-5-3-4 1zM1414 892l2 0 4 8 3 12 0 8-3 7-8-20 0-11zM1318 1052l2-3 4 0 9 7 12 20 4 12-1 4-4 1-4-3-8-9-2-9zM1364 1056l4-1 3 9-3 10-4 1-3-11zM1259 1188l9-1 4 5-12 2-4-2zM1368 1304l4-2 4 6 4 13-4-2z"/><path fill="#ffd859" d="M1268 28l8-1 12 6 6 7 1 4-2 4-17 6-12-3-4-15zM1373 32l11-1 8 4 2 5-2 8 10 12 1 8-2 12-9 11-8 0-4-2-6-9-1-16 5-12-11-12 0-4zM1196 92l8-2 48 3 7 3 2 4 1 12-6 4-16-2-8-3-16-14-16-2zM1151 168l9-4 14 4 5 8-3 11-12 6-12-4-6-13zM1355 232l9 0-8 5-3-1zM907 268l9-3 8 2 8 6 1 7-9 5-12-2-7-7zM956 304l8-3 5 3 0 4-5 3-4 0-4-3zM1119 308l5-3 8 2 25 13 14 24 11 12 5 16-1 4-10-2-24-18-30-32-3-8zM1424 408l5 4 2 8-3 8-4 2-5-14zM820 456l8-3 10 7 2 8-4 7-8 1-9-4-4-8zM655 476l29 0 76 11 36 10 16 8 52 10 40 11 32 16 20 14 16 9 16 13 16 6 17 12 29 32 26 24 14 24 18 19 28 38 36 22 11 17 4 36-14 28-5 4-15 4-2 4-17 72-16 40-3 12-1 12 7 8-9 4-13 32-27 52-43 48 4 4-1 2-8-2-61 44-43 10-28 18-76 16-36 0-20 4-40 2-100-15-20-9-20-3-48-15-18-20 0-8 6-10 1-14-20-32-9-3-20 3-3 16-5 2-13-6-8-12 1-7 14-1 1-4-6-12 15-6 9-6 1-4-4-8-14-10-8-3-16 8-5-11 1-16-4-3-4 3-5 12-15 24-4 2-8-2-12-16-20-10-19-18-25-36-3-16 14-36 5-5 8-2 8 5 8 1 8-5 3-6-5-32 7-24 11-16-4-6-24 3-60 13-24-1-44 5-40-7-68-32-24-7-8-5 1-7 5-4 58-31 9-9 3-8-4-5-20-3-9-4-10-12-6-16-1-12 3-16 7-11 14-9 1-4-4-32 2-20-24-24-2-8 5-4 24-7 72-5 32-11 16 1 20-5 12 1 16 10 6 8 2 8-3 24-9 11-12 5-24-4-4 2-6 18-6 44-4 4-13 4-6 8-1 8 14 36 12 12 18 12 20 27 19 17 16 8 21 4 36 18 4-4 3-10 0-92 6-32 7-16 2-20 8-16 4-28 6-12 60-68 44-28 72-14zM388 863l-9 5-3 12 3 4 13 3 6-3 3-8-4-8zM980 484l8 2 12 13 4 0 12-10 12 0 47 47 26 44 7 29 12 8 4 7 5 24 7 16 2 12-2 9-4 2-8-5-20-35-8-9-4 0-5-10-32-32-59-73-16-10-8-21 4-7zM1331 504l5-3 4 1 3 6-3 16-4 3-6-11zM1225 516l7-3 4 1 4 6-2 8-6 3-6-3-3-8zM0 800l0-2 8 0 9 6 26 28 14 32 0 8-5 7-8 2-8-5-24-42-4-4-8-2zM1363 1060l5-3 2 7-2 6-4-1z"/><path fill="#ffcb4c" d="M1264 32l8-4 8 2 9 6 5 8-10 7-16 0-6-7-1-8zM1377 36l8 0 2 4-3 4-4 0-5-4zM1385 60l7 1 3 7-1 8-6 5-4-2-4-7 2-8zM1216 96l12-4 24 3 5 5 1 12-6 2-15-2zM1154 168l10-2 12 6 1 8-4 8-13 3-8-5-4-10zM910 272l10-3 10 7-2 4-4 2-8-1-7-5zM959 304l5-1 3 5-7 1zM1124 308l16 4 17 12 11 19 11 13 3 12-2 4-20-10-33-34-6-12zM1421 412l3-3 6 7-1 8-5 4-4-8zM821 456l7-2 9 6 2 8-3 6-8 1-8-3-4-8zM649 480l11-3 20 0 80 12 36 11 16 7 52 10 28 8 44 19 48 34 36 20 28 34 24 21 16 25 18 18 30 40 32 18 13 18 4 28-1 9-14 27-18 5-2 3-18 76-8 19-12 17-2 28 2 5 4-2 4 5-8 1-3 3-12 32-28 52-37 42-64 49-16 7-24-1-8 3-28 22-36 9-28 2-16 5-36-1-16 5-40 2-100-16-24-14-24-1-32-8-12-8-9-13 6-28-10-28-1-16-10-6-21-2-1-4 15-8 3-4-1-4-15-15-20-12-9-9 1-4 18-16-1-4-25-10-12 1-20 19-9 22-11 11-7-11-5-4-16-1-11-7-33-41-8-15 4-22 6-14 6-7 4-1 16 4 8-2 9-6 11-15 20-5 4-10 3-14-2-8-13-12-11-4 10-16-2-12 2-20-2-88 7-33 11-15 0-16 8-16 0-24 6-16 62-72 37-24 24-7 20-2 32-7zM408 915l-4 3-9 14-1 4 2 2 8-2 12-12 0-4zM520 1002l-3 2 1 12-2 12 4 6 4 1 8-7 1-8-4-12zM979 492l5-2 16 16 16-14 12-1 44 44 26 45 4 28-6 20-20-13-65-75-13-20-15-8-4-8zM1334 504l5 0 2 4 0 12-5 6-5-10 0-8zM1226 516l6-3 4 3 3 8-3 5-4 2-6-3-2-8zM270 540l18-1 9 5 9 8 5 16-3 20-8 9-12 5-8 1-16-5-6 2-6 20-2 24-5 20-22 8-11 17-8 2-3 5 7 8 6 20 22 6 28 18 21 28 23 21 12 5 25 6 23 12 3 4 0 4-7 5-72 15-28-2-40 6-16-4-20-2-36-15-36-19-26-8-3-4 3-4 58-32 12-10 4-10 0-4-4-4-20-1-12-4-6-7-8-16-2-16 3-16 9-11 19-9 2-4-1-12 8-3 1-5-1-8-11-8 1-12-3-8-23-15-4-5-1-8 25-9 72-6 32-10 12 2zM1122 656l2-2 7 10 2 12-1 4-4 0-9-12-1-8zM0 808l0-3 10 7 6 10 4-3 4 1 16 14 13 26 1 8-3 8-7 2-8-6-12-21-11-27-13-2z"/><path fill="#ffbe3f" d="M1266 32l6-2 8 1 8 5 4 8-12 6-12-1-5-5 0-8zM1220 96l12-2 17 2 4 4 1 8-2 4-12 0zM1157 168l10 0 7 4 1 8-3 6-12 4-8-6-3-8zM1124 312l4-2 8 2 19 12 11 20 10 12 2 8-2 3-16-7-28-28-8-12zM1422 412l2-2 5 6-1 8-4 3-3-7zM822 456l6-2 9 6 1 4-2 8-8 2-8-3-3-7zM656 480l28 0 76 11 36 10 16 8 52 9 28 9 36 16 56 37 24 12 11 8 25 33 28 23 14 24 30 32 16 24 35 20 12 16 4 28-1 8-14 27-20 6-6 35-18 56-8 9-12 8-10 19-13 12 3 4 16-4 4 2 2 14-10 28-35 64-25 27-68 54-16 6-24-4-14 1-18 24-7 4-21 3-16 6-24 1-20 6-24-4-12-6-9 10-7 3-36 3-44-9-20-1-36-7-8-5-8-11-8-4-12-1-16 3-28-6-8-6-7-11 5-28-7-28 9-12 0-4-9-12 5-20-4-6-16 1-12-7-3-8 6-12-9-20-6-8-36-14-12 0-25 18-11 18-32 5-10-7-18-29-14-11-6-9-2-7 2-7 8-21 4-5 4-2 12 4 8 0 16-8 12-13 6 0 4 4-2 7-9 13 3 8 14 2 12-6 9-8 4-8-1-8-13-12-1-4 6-29 4-3 4 2 8 8 12 5 8-3 1-4-3-12-18-10-8-9-25-17-5-8-3-104 9-32 16-10 3-6 2-36-2-20 5-16 62-72 42-26 36-4 32-8 48-3zM900 1124l1 20 3 6 4-1 5-9-1-15-4-4-4 0zM512 987l-6 9 3 20-6 12 9 12 12 6 23-22 1-12-13-16-15-10zM1015 496l9-3 7 3 46 48 13 24 8 24 1 8-7 17-4 0-12-6-24-25-45-54-6-16 0-4zM1333 508l3-3 4 3-1 12-3 4-4-8zM1227 516l5-2 4 3 3 7-3 4-4 2-5-2-2-8zM276 540l16 3 15 13 3 16-4 16-10 10-8 3-8 0-16-6-8 2-6 23-2 24-4 17-32 11-32-10-8-6-7-16-3-20-11-20-9-8-22-11-6-9 3-4 19-6 16 1 28-6 28-2 32-10 12 2zM130 664l18-4 20 4 15 20 5 24-5 12 1 5 28 6 20 2 28 15 24 31 20 19 16 8 24 6 19 12 0 4-71 18-28-2-40 7-16-5-20-2-36-14-36-21-18-5-5-4 2-4 53-28 15-12 5-12 0-8-4-3-24 0-12-4-11-17-3-16 2-16 7-12zM26 832l6 0 8 9 10 23-2 9-4 1-4-3-12-20-4-11zM475 1020l5 4-4 7-4 0-4-3 1-4z"/><path fill="#ffb232" d="M1269 32l7-1 8 4 6 9-10 5-11-1-4-8 0-4zM1224 96l18 0 6 4 1 8-5 2-8-2zM1153 172l7-3 8 1 6 6-2 8-8 4-8-2-5-6zM1125 316l3-4 4 0 20 12 22 32 1 4-3 3-12-5-24-24-9-10zM1423 412l5 4 0 5-4 5-3-6zM823 456l5-1 8 5 2 4-4 8-6 1-9-5-1-8zM650 484l30-2 76 10 40 11 16 8 52 9 24 7 39 17 25 19 64 37 11 12 13 23 28 21 15 24 38 40 11 19 32 17 11 12 5 32-1 8-11 24-8 3-12 1-2 4-6 36-16 49-8 10-16 9-10 20-14 11-2 5 2 8 4 4 8 0 8-4 6 4-1 12-9 21-19 27-9 24-12 19-20 19-18 6-9 16-45 34-12 1-30-11 0-8 7-12 1-8-5-20-9-1-16 4-6 9 2 16-3 28 7 12-3 12-5 4-20 4-16 7-24-2-16 8-12 0-11-5-9-14-8-5-5 3-11 20-4 4-32 3-36-13-24 2-36-6-7-6-5-14-4-3-28-2-20 4-12-2-12-8-4-11 2-24-5-24 10-16-6-20 4-24 3-8 8-6 8 1 12 9 8 1 5-5-2-16-4-4-15-5-16-28-24-17-8 0-12 15-8 5-27-6-13-7-16-4-6-5 2-20-3-12 3-24-12-16 0-4 4-6 4-2 20 1 8-3 3-6 1-16-4-7-20-9-36-31-1-61-5-16-1-16 11-33 14-11 6-12 1-36-3-20 2-9 43-51 17-24 44-28 36-4 32-8zM668 1026l-8 10 4 9 7-1 5-3 4-9 0-4-4-3zM1019 496l9 0 4 3 43 45 19 40 1 16-7 11-8-1-9-6-61-72-4-8-1-8 6-12zM1334 508l2-2 2 2 1 4-3 10-2-6zM1229 516l3-1 5 5-1 8-4 2-4-2-2-4zM267 544l17-3 16 9 7 10 0 20-6 12-13 7-8 0-20-7-7 4-9 56-6 8-26 4-32-12-6-8-5-28-13-24-8-6-20-5-7-5-1-4 8-4 12-2 12 3 20-9 40-4 28-10 12 3zM136 664l12-2 12 4 10 6 8 12 4 24-4 12-6 7-20 5-12-1-9-3-8-8-7-16 1-20 7-14zM176 732l8-1 44 4 12 5 20 12 22 28 19 20 11 7 24 8 3 9-3 4-16 8-27 8-29-3-28 7-12 1-16-5-20-2-28-11-44-27-12-4 7-8 53-32zM364 936l8 0 8 11 8 5 20 1 4 3 10 20-2 7-4 4-12 1-8 4-11 20-13 9-8-3-24-39-12-5-6-10 6-17 8-11 16 7z"/><path fill="#ffa525" d="M1267 36l5-4 8 2 4 2 3 8-7 4-8-1-5-3zM1230 100l2-4 10 4-2 4zM1155 172l5-2 9 2 3 4-2 8-6 3-8-3-3-8zM1128 316l8-1 14 9 20 32-2 4-36-32zM1424 412l3 4-3 8-2-8zM825 456l4 0 7 6 0 6-4 4-8-1-6-7 1-4zM643 488l33-4 80 10 38 10 18 8 68 14 44 19 25 19 19 9 48 30 8 9 12 24 32 24 20 31 16 13 16 17 10 19 32 16 10 12 4 32-2 8-10 23-16 1-4 4-5 36-16 48-7 9-12 5-7 6-11 20-15 16-1 8 3 8 7 6 12 5 0 5-4 14-10 10-6 12-8 8-2 16-6 16-16 18-12 7-11-1-16-8 5-12-1-4-5-3-8 2-7 5 1 4 13 8-1 12 3 16-9 12-28 24-8 3-8-2-15-9-2-4 6-12-1-18 18-6 3-8-1-7-20 3-16-3-20 6-18 13 3 20-6 44-6 8-21 12-8 0-16-7-16 11-12 1-7-5-11-16-14-7-6 3-10 20-7 8-25 1-2-1 2-4 8 1 7-9-1-4-13-12-5-12-4-2-8 1-12 7-16 4-2 14-6 2-4-2 2-8-6-8-16-8-14 0-6-6-8 0-20 7-16-4-20 6-12-2-8-7-3-6 2-24-5-20 9-20-2-24 2-12 4-8 5-2 24 9 12-3 3-16-3-12-8-10-16-8-4-4-8-23-32-18-20-7-4 2 0 18-4 4-8 2-16-2-12-7-14-3-4-4 0-32 7-24-4-8 1-4 10-2 8-7 8-31-4-8-12-10-16-6-8-8-21-12-2-8 5-16 0-36-4-8-8-8-2-12 0-8 27-36 5-16 1-36-3-20 1-8 6-8 15-12 39-56 41-25 36-4 36-9zM664 1023l-6 5-3 12 3 8 6 3 15-7 6-16-5-7-8-1zM632 1148l-6 4 2 9 4-2 3-7zM1018 500l6-2 8 4 42 42 18 40 0 12-4 9-4 2-4-1-16-12-52-62-4-8 0-8zM1226 520l6-4 4 3 1 5-3 4-5 0zM271 544l17 0 8 4 8 8 3 16-5 16-6 6-12 4-24-8-8 2-3 8-6 44-6 12-25 2-25-10-7-8 1-16-3-8-15-24-1-8 3-16 16-8 31-2 28-10 12 4zM131 668l17-3 12 3 12 10 5 10 2 16-1 8-6 10-16 7-12 1-12-3-7-7-7-16-1-12 5-16zM179 736l9-2 36 3 16 6 20 14 20 26 17 17 27 16 4 8-12 10-24 8-28-5-36 10-20-6-20-2-36-14-20-13-11-12-1-4 1-4 10-8 37-20 4-6 4-18zM366 948l38 14 6 10-2 5-16 9-20 25-4-2-15-17-5-12 2-20z"/><path fill="#ff9819" d="M1269 36l7-2 6 2 3 4 0 4-13 1-3-5zM1159 172l6 0 4 4 0 4-3 4-6 0-5-4 0-4zM1130 320l2-3 4 0 12 7 9 16-1 6-18-14zM820 460l8-3 4 2 4 5-1 4-3 3-8 0-5-7zM662 488l46 2 47 6 37 9 20 9 56 10 26 8 30 15 24 19 20 9 46 29 20 32 30 24 22 32 18 15 16 17 8 18 32 15 8 7 3 8-2 32-5 20-4 5-12-2-5 5-6 40-10 20-7 24-4 6-16 8-8 8-9 18-16 20 1 16 4 8 10 8 1 8-3 5-18 3-12 20 0 8 6 12-4 17-8 7-5-12-7-6-8 0-8 4-12-4-24 11-16-1-24 15-8 1-16-4-8 2-26 18-7 8 1 48-10 20-14 11-8-3-4-9-8-2-12 5-8 11-8 3-6-4-13-16-17-9-16-1-6 2-2 9-8-1-8-3-5-9-11-7-24 4-16-6-16-1-3-2 4-12-6-8-23-6-12-7-7 5-1 4 7 16-7 10-8 3-8 1-12-14-4 0-6 4-9 12-13-1-5-7 1-24-5-20 8-16 3-16-1-20 7-5 20 6 22-1 2-4-1-28-15-19-19-13-5-20-49-28-3-8 4-16-4-9-4 1-15 16-9 32-4 4-4 0-12-7-12-1-3-4 4-24 12-20 13-60-32-44-14-11-7-17-2-20-4-12-4-8-9-8-2-8 1-8 13-12 15-24 5-24 0-28-5-20 2-8 9-9 16-7 6-16 13-16 13-25 28-15 16-11 32-2 36-11 40 0zM660 1020l-9 12-2 12 7 11 8 2 12-5 8-8 5-20-3-4-6-3-12 0zM1018 504l6-3 7 3 41 40 16 40 0 8-4 9-8-1-20-17-42-51-4-8 0-8zM1227 520l5-2 5 6-6 4zM276 544l16 3 10 9 4 16-5 16-9 7-8 2-24-10-8 1-4 3-8 50-5 11-11 2-12-1-20-12-3-5-4-20-16-24 2-24 13-6 28-2 28-10 12 5 8-6zM135 668l17 0 8 2 11 10 4 8 2 16-3 12-6 6-16 6-12 0-8-4-9-12-4-12 2-16 7-12zM181 740l11-3 16 3 16-1 12 5 28 23 16 23 17 14 19 12 4 8-8 7-20 8-8 1-20-6-36 10-20-7-24-2-29-11-22-16-6-12 10-12 39-17 2-19zM414 808l6-4 4 4-4 5-5-1zM359 960l5-3 8 0 22 11 1 4-4 8-19 17-12-4-6-9 0-12zM962 1124l10 1 5 7 2 8-2 4-13 13-8 3-7-4-1-20 4-7z"/><path fill="#ff8c0c" d="M1158 176l6-2 3 6-7 2zM1135 320l10 4 6 12-3 2-8-6-6-8zM822 460l10 0 3 4-1 4-6 3-4-1-4-6zM665 492l39 0 48 6 40 10 16 7 56 9 28 9 30 15 24 20 18 8 46 28 21 32 33 28 22 32 26 22 15 26 25 10 9 6 6 8 0 12-11 18-4 18-8 5-4 6-6 45-10 16-9 24-3 5-25 19-9 20-12 16-2 16 4 20-27 32 3 24-20-7-5-17-7-2-9 6-9 20-10 10-8 1-16-3-14 12-10 4-16-7-15 3-14 16-17 12-10 13-16 11-18 8-3 4 5 6 8 3 20-4 8 2 3 5-1 8-6 8-8 6-20-6-20 8-12 1-12-2-32-14-28 2-20-9-24 2-12-6-23-22-37-17-10 5-14 15-20 4-7 5-9 12-5 0-3-8 4-16 13-8-1-4-12-3-4-5 8-27 13-17 27 1 11-5 7-40-18-41-20-6-57-33 1-32-4-9-8-2-11 3-9 9-12-2-5-27 7-28-1-12-9-10-14-26-21-20-4-12-1-20-22-32 0-4 26-32 3-8 6-48-8-24 2-8 9-7 12-1 6-4 4-16 14-20 12-25 26-11 17-12 29 1 36-14 40 3zM756 1115l-4 5 0 4 16 14 32 11 17-1 3-4-8-7-24-7-16-15-8-3zM664 1012l-12 8-9 16 1 12 4 16 4 5 12-3 20-15 4-7 4-16 0-8-8-6zM672 1090l-4 2 0 8 8 12 8 2 12-4 14 2 2-4-9-8-18-8zM1023 504l5 1 42 39 13 32-3 20-12-6-16-13-36-45-3-8 0-8 4-8zM1228 520l4 0 3 4-3 3-4-3zM266 548l18-3 13 7 7 12-2 20-10 10-8 2-28-13-8 3-5 10-8 48-7 6-16-2-16-20-7-16-16-20 1-16 2-8 8-4 28-2 28-9 12 6 8-9zM131 672l17-4 12 4 9 8 5 12 1 12-2 8-5 7-12 6-12 1-8-2-8-7-6-13-1-12 3-12zM184 744l8-3 16 3 16-2 8 3 32 27 12 22 34 22 3 4 0 4-21 12-8 1-20-7-36 11-16-8-28-1-28-10-17-14-6-12 7-9 20-5 20-9 3-5zM364 964l12-1 9 5 2 4-3 9-12 8-8 0-6-9 1-8zM598 1148l6 4-4 4-5-4z"/><path fill="#fe7f00" d="M821 464l3-4 8 2 2 2-2 5-4 1-4-1zM668 496l36-1 84 14 20 8 60 10 24 8 28 14 22 19 26 12 40 26 21 30 31 28 27 36 24 20 6 8 6 16 5 4 24 8 13 12-2 12-24 36-7 52-26 36-4 12-21 20-5 16-14 24-4 32-10 12-12 9-20 0-9 3-18 20-4 12-5 4-20-4-20 14-8-2-12-9-16 0-18 29-30 22-8 0-12-7-16-3-8 2-8 7-8 2-36-13-20 10-12-1-16-19-30-12-10-8 3-8 13-13 3-7 5-28-4-11-16-6-16-1-8 4-12 13-8 5-4-1-7-11-5-14-16-18-24-8-47-24-4-8 1-28-6-12-8-2-24 1-8-3-3-4-1-8 8-40-12-16-4-16-27-20-4-12 0-20-12-16-8-16 7-20 16-20 3-32 9-20-12-16-3-12 7-7 16-1 7-4 5-20 11-16 9-24 11-8 17-4 16-12 28 4 36-17 12 0 32 6zM720 988l-4 4 4 4 7 0 1-5zM1022 508l6 0 40 36 11 28-3 15-8-1-16-12-33-42-4-12 1-6zM271 548l13-2 15 10 5 12-3 16-9 8-8 2-12-4-16-12-8 3-8 11-8 48-8 6-8-2-3-4-1-15-12-7-22-26 1-20 9-6 24-1 28-10 8 4 4 6 7-13zM135 672l9-2 8 1 11 5 5 6 4 10 1 12-2 8-7 6-20 6-8-3-8-8-5-13 0-12 5-10zM187 748l5-3 16 5 16-5 8 4 30 27 9 24 28 12 8 8-1 4-18 10-20-9-20 7-20 2-12-6-28 1-28-9-16-14-5-10 5-5 16-3 24-9 3-11zM371 968l9 4 1 4-5 6-8 2-4-3-1-5 2-4zM628 1028l4-3 0 15-4 3-2-7zM612 1076l12-1 14 9 16 4 11 20 11 10 24 1 30 13 26 6 24 10 40 9 11 7 1 4-12 10-24 0-36-13-28 2-20-8-24 1-12-7-20-19-40-21-8 1-20 16-8 2-4-3-13-21 1-9 13 1 1-4-4-8 0-4 6-6z"/><path fill="#f37500" d="M822 464l6-2 4 2-1 4-3 1-4-1zM673 500l31-3 16 5 20 1 24 7 24 1 20 8 60 9 23 8 29 15 20 18 32 16 34 23 20 28 34 31 24 33 25 20 5 8 6 17 8 5 20 6 12 8 2 8-2 7-25 33-7 56-16 21-15 11-4 16-15 16-18 40-8 36-8 8-12 6-24 4-20 18-20 11-28 11-4-2-2-16-4-4-6-2-16 1-16-6-8 0-18 27 2 6 9 10 0 8-7 12-10 7-8-1-12-6-24-3-28 10-28-7-20 9-8 0-16-19-15-10 3-8-8-12-1-16 2-12 10-28 25 2 6-10-2-9-8-4-20 0-8 4-4 6-4 1-40 3-12 7-8 0-8-12-20-19-24-5-44-22-3-6 1-12-4-24-6-8-8-3-20 1-11-6 1-28 9-16 1-7-11-9-1-16-4-8-4-3-20-5-10-8-2-28-15-20-3-8 1-20 17-19 4-36 12-25-4-8-12-8-1-8 5-2 16 0 7-6 5-20 12-16 6-24 10-8 16-1 16-13 24 4 8-1 16-11 16-7 12-1 36 8 9-2zM844 1011l0 11 4 5 3-7-1-8-2-3zM1022 512l6 0 28 21 10 11 7 20-4 16-5 0-12-9-22-27-12-20 1-8zM274 548l10-1 8 4 9 9 0 20-9 11-8 2-12-4-8-7-6-10-1-8 3-11zM231 560l11 0 5 12-9 16-6 26-8 5-12-2-8-5-8-11-13-9-1-16 3-4 7-4 20 1zM142 672l18 4 7 8 3 8 1 12-3 8-16 8-8 1-8-4-8-9-3-8 3-18 5-6zM216 752l8-3 6 3 30 28 2 8-5 16 7 8-4 8-8 6-12 2-20-7-36 3-24-8-9-12 1-7 36-12 3-5 1-16 3-8 13 0zM274 812l10-2 8 2 8 6 0 6-8 5-8 0-11-13zM590 1088l10-4 12 2 20 14 16 0 28 21 24 3 20 10 60 20 32 6 8 4 2 4-6 5-24 0-32-11-28 2-20-8-24 0-8-4-20-19-22-13-10-12-28-5-4-2zM582 1112l7 0 1 4-4 4-6-1-1-3z"/><path fill="#e86b00" d="M679 504l25-4 16 6 20 1 20 6 24 0 24 8 52 6 28 9 32 17 21 19 31 15 31 21 21 28 36 34 24 32 22 18 6 8 7 20 7 4 18 4 13 8 2 4 0 8-28 36-3 36-4 18-16 20-14 10-7 16-10 12-30 80-7 8-32 9-20 17-28 13-8 1-8-4-12-10-28-10-4-10-12 6-20-2-6-6-6-13-4-3-8 1-8 7 0 20 16 20 1 8-21 32-24 4-24 7-24-6-16 9-8 2-8-7-4-17-8-6-14-18-3-16 5-16 8-9 8 0 12 5 6-4 8-20-2-8-4-4-8-4-24-2-16-5-4 0-7 11-9 6-12 0-12-4-12 4-28-26-2-4 2-12-4-4-7 4-4 12-5 2-8-2-20-9-14-11-8-24-2-16-3-4-9-6-20-2-7-4-7-20 2-8 12-16 0-9-10-11-11-28-7-3-12 1-8-4-6-26-15-20-2-8-1-16 4-7 12-11 5-38 13-24 4-20 9-16 1-16 15-16 5-23 3-5 9 6 4-1 12-8 10-13 30 3 16-12 20-8 12 0 32 7 13-2zM656 942l-17 18 1 6 8 9 4 0 11-7 13-3 4-5-2-8-6-7-8-3zM1022 520l2-4 4 1 24 15 12 11 6 17-3 12-3 3-8-3-12-12-17-24zM279 548l13 4 9 12-1 16-4 6-8 5-8 0-12-7-9-16 1-12 4-4zM230 564l9 0 1 8-8 29-8 9-12 1-4-3-8-14-8-6-2-12 6-2 12 5zM136 676l8-2 8 1 12 7 5 18-5 12-16 6-8-3-8-6-5-9 0-8 2-8zM223 756l9 3 21 21 2 8-3 4-20 5-14-1-2 4 7 8 0 4-15 6-24 1-18-7-2-8 3-4 9-6 21-6-1-16 4-8zM234 808l6-1 8 3 4 6-2 4-6 2-9-2-7-8zM647 1112l5 0 21 12 27 3 16 10 34 11 7 4-1 4-24 5-20-8-20 1-8-2-20-20-17-12-2-4z"/><path fill="#dd6100" d="M697 504l23 7 20 0 20 6 24-2 24 8 56 7 24 8 32 18 20 17 32 16 27 19 22 28 38 36 25 33 20 16 12 27 8 5 20 5 10 6 2 4 0 8-28 32-4 40-6 16-11 16-18 16-15 24-9 20-15 44-15 20-27 11-20 17-32 14-8-3-28-16-16-17-8-1-12 7-8 0-8-4-12-16-12 0-9 4-6 8 2 24 10 20-4 12-13 15-40 12-8-3-8-7-4-1-24 16-3-4 0-16-21-10-10-14-3-12 2-8 7-7 8 1 12 8 4-3 18-31 0-8-7-8-11-6-32-6-12-9-16-23-24-10-4 2-8 15-16 14-4-1-3-16-5-5-16-1-12 8-24-8-13-18-2-8 1-12-3-4-15-10-19-6-11-12-1-8 12-20 1-12-14-20-7-20-5-7-4-3-12 0-4-4-8-22 1-4 7-2 3-6-3-6-10-6-5-12 11-60 31-44-3-24 4-3 12 6 8-4 10-31 18-24 4-2 24 3 20-15 20-7 48 6zM768 1003l-2 9 5 12 9 2 9-6 0-8zM616 879l-6 5 0 4 6 5 14-1 7-4-10-8zM1030 528l2-2 12 3 16 12 7 15-3 13-8 0-8-6-16-23zM268 552l16-2 8 3 6 7 2 16-8 12-12 1-14-9-6-16 2-8zM225 572l7-3 2 3-5 24-5 8-8 2-6-6-2-8zM143 676l13 2 9 10 1 16-10 9-8 1-8-3-10-11-1-8 3-8zM447 732l5 4-1 4-3 0-3-4zM218 764l6-1 8 2 11 11 3 8-5 4-9 1-24-6-4-6 0-5zM180 800l8-2 8 2 9 8-1 3-12 3-11-2-4-4 0-4zM665 976l7-2 3 2-1 4-8 4-3-4zM671 1132l5-4 20 1 20 13 17 2 12 8-2 4-11 3-20-10-24 1-10-6z"/><path fill="#d25700" d="M687 512l13-4 20 7 20 0 20 5 24-2 24 7 52 5 28 10 16 11 16 7 20 17 32 16 24 17 22 28 38 36 28 36 19 16 7 20 6 8 28 7 10 9-4 12-25 24-5 40-3 12-13 20-16 17-28 43-5 24-7 17-7 7-18 8-19 20-20 16-24 12-8 0-28-17-20-19-8 0-16 6-8-4-12-12-12-2-15 4-12 8 3 16-1 12 11 20-5 12-9 8-28 8-4-2-8-10-28-11-8 0-11 7-9 0-7-4-6-8-2-12 3-5 5 1 11 12 12 5 3-5 1-16 8-14 4-1 16 15 12 1 12-6 13-19-5-3-24-4-38-25-34-6-11-10-16-24-29-20-24-2-4 3-8 13-32 3-16-2-9-7-1-12 10-10 16 3 8-8 8-2 20 7 32-2-1-8-14-12-13-5-12-1-20 12-32 9-16-6-22-13-13-16 1-8 6-16 0-8-4-8-13-16-13-40-10-8-4-23-12-17 0-16 5-20-1-16 3-8 5-6 12 1 4-3 6-20 33-52 5-20 16-19 24 0 16-14 24-8 48 5 16-3zM1037 532l11 2 12 10 4 12-4 9-8-2-13-15-4-8zM273 552l11-1 13 9 2 16-7 10-12 1-8-4-6-7-4-16 2-4zM224 588l-1 8-3 2-4-2 1-4zM139 680l9-2 12 6 4 8 0 8-8 9-12 0-10-9-1-12zM223 772l9 1 3 3 0 4-7 0-6-4zM679 1132l17 0 9 8 0 4-9 4-8-1-10-7-1-4zM722 1148l10-1 5 5-5 3-4-1-5-2z"/><path fill="#c74d00" d="M691 516l9-3 20 6 20-1 24 6 20-4 28 8 48 4 28 10 16 12 16 7 20 17 32 15 21 15 22 28 38 36 31 39 16 13 13 28 7 4 24 5 7 7 1 4-5 8-25 20-3 12-4 40-11 18-51 66-1 20-8 18-4 4-24 9-16 21-36 26-8 2-12-4-20-14-20-19-24 3-14-10-10-4-60 11-12-2-20-11-16-12-32-5-8-4-7-9-9-20-22-16-7-24-19-16-24-10-12-2-20 7-16 1-16 9-8 0-19-13-8-12-2-8 5-12-1-8-7-14-13-18-13-44-9-12-12-32 0-12 6-16-3-12 0-8 20-12 6-20 35-56 4-16 11-15 4-2 20 0 20-16 20-8 52 4 16-2zM1041 536l7 0 10 8 3 8-3 8-6 0-8-9-5-11zM278 552l14 4 5 8-1 16-8 6-8 0-8-5-8-13-1-8 3-4zM148 680l9 4 4 8-1 9-8 6-8-1-8-10 2-12zM599 908l5-2 5 2 2 8-3 6-4 1-7-3zM570 920l6-2 4 2-1 4-3 0zM754 1032l6 1 10 7 5 8-7 3-10-3-6-8zM793 1044l7-1 20 2 7 7-2 8-5 5-8 2-16-2-10-13zM683 1136l9-1 7 5-3 4-8 0-5-4z"/><path fill="#bc4300" d="M693 520l11-1 20 4 20-2 20 6 20-5 28 8 48 4 28 10 16 13 16 7 16 14 36 17 17 13 23 28 40 39 30 37 14 12 16 30 8 5 20 3 9 6-1 8-8 8-23 8-5 60-36 51-27 29-2 8 0 16-6 12-5 5-24 11-16 20-16 6-11 14-9 7-8 0-12-6-17-13-15-18-24 0-28-9-20 3-20 0-24 6-24-9-16-14-36-6-9-9-10-28-20-12-5-16-9-12-23-14-28-10-36-1-8 3-12 10-8 2-8-5-8-9-3-8 2-20-24-36-13-48-10-20-3-64 13-12 8-24 36-56 7-16 7-9 20-2 20-15 24-11 52 2 14-1zM1047 540l9 7 0 7-4 1-4-3-4-8zM270 556l10-3 8 2 6 5 3 12-5 10-8 3-12-6-7-15 0-4zM142 684l10 0 5 4 1 8-6 8-8-1-6-7 1-8z"/><path fill="#b23900" d="M696 524l28 3 20-3 20 6 20-5 28 7 48 4 24 8 20 16 16 7 28 20 21 9 16 12 20 24 43 42 32 39 16 14 15 29 9 5 20 3 5 4 0 8-9 7-8 1-16-2-4 2 3 56-2 12-35 48-26 25-5 11 0 16-3 9-8 8-20 9-20 22-16 3-10 17-6 6-8 1-8-3-19-16-9-16-4-3-24 0-32-8-16 3-24-1-20 6-24-6-20-16-34-7-8-12-6-24-4-4-16-8-14-24-18-12-44-18-36-1-20 10-8-3-4-4-4-25-24-35-11-32-3-20-8-16-5-60 14-16 4-20 27-44 27-32 15-6 20-14 28-13 56 1zM274 556l12 0 9 8-1 12-6 6-12-2-7-8-2-12zM143 688l5-2 5 2 1 8-2 4-8-1-3-7z"/><path fill="#a82e00" d="M635 528l41 3 24-3 24 2 20-4 20 7 20-5 28 6 48 4 24 9 20 16 12 5 32 22 24 10 14 12 15 20 23 20 41 44 15 20 13 12 15 29 8 6 20 2 6 3 1 4-7 7-8 1-16-3-9 7 3 20-1 20 4 16-3 12-18 20-16 26-24 20-7 14-5 26-7 6-17 7-20 23-20 2-12 24-8 3-6-3-18-16-7-16-5-4-24 2-36-10-16 4-20-2-24 6-24-5-16-14-30-9-11-16-8-24-19-9-12-21-7-6-21-11-20-4-20-12-36 0-16 4-7-1-4-4-6-20-24-32-10-28-3-28-9-24-3-48 13-16 4-20 33-51 48-38 32-16zM280 556l8 2 5 6-1 12-4 5-12-3-6-10 0-8z"/><path fill="#9f2300" d="M628 532l12-2 32 4 32-2 16 2 24-5 20 7 20-5 28 6 52 4 20 9 20 17 12 4 28 19 24 11 18 15 14 19 24 20 52 61 16 14 10 22 12 16-12 12-3 8 3 36 4 16-2 12-22 20-14 26-24 18-15 40-21 11-20 21-12 1-16 6-12-4-16 1-16-12-24 2-36-13-16 5-16 0-24 5-24-3-20-15-20-5-6-4-13-20-5-22-4-4-12-1-7-5-9-21-32-14-20-3-20-14-36 0-16 3-6-3-7-16-16-20-12-20-7-24-3-28-9-24-2-40 14-20 3-20 32-48 20-12 25-25zM273 560l11-2 7 6 1 8-4 6-4 2-8-4-5-12zM1130 768l6 1 2 3-6 4-8-4z"/><path fill="#961900" d="M737 532l9 0 18 8 24-6 24 6 48 3 24 10 20 17 68 37 13 13 11 17 24 18 73 81 14 32-9 12-2 8 7 60-7 10-16 10-16 27-20 15-16 37-24 17-16 15-24 7-28-1-20-10-16 4-8-1-36-15-16 5-36 7-28-3-16-12-24-8-16-24-5-28-3-3-16 0-4-5 4-8 4-1 12 4 8-5 3-6-3-9-8-2-16 9-4 0-24-5-20-9-16 0-16-13-8-3-52 1-34-45-10-28-4-36-9-24-1-32 2-8 11-12 2-20 15-25 20-23 18-12 22-25 39-19 13-3 32 4 48 0zM278 560l6 0 5 4 1 8-2 4-8 1-5-5-2-8z"/><path fill="#8c0e00" d="M636 536l12 0 28 6 48-2 16-6 24 9 24-6 24 6 20 0 12 3 20 1 20 10 20 17 16 8 24 16 24 10 13 12 11 20 24 16 24 25 32 39 16 14 15 30-10 24 3 36 5 20-5 11-21 13-17 24-17 16-9 24-8 11-40 29-20 9-28-2-20-8-20 4-40-17-52 12-24-2-20-12-20-7-16-25-2-28 6-24-8-12-8-1-20 8-16-1-28-11-16 1-20-15-48-1-8-3-28-31-9-18-8-52-9-28 2-32 12-16 2-20 14-24 16-10 9-14 15-12 17-20zM276 564l4-2 6 2 2 8-4 3-4-1-4-6z"/><path fill="#830300" d="M636 540l12-1 28 8 24-1 24-3 16-6 24 11 24-8 24 7 16-1 16 4 20 1 23 13 17 15 18 9 14 13 28 10 15 13 11 24 26 14 23 22 32 40 17 15 10 21 1 8-8 12-2 12 5 36 4 16-6 10-19 10-17 14-6 14-14 18-6 18-6 10-24 16-40 21-24-2-20-6-20 3-40-15-48 11-28-3-16-9-20-7-16-27-2-12 6-36-8-17-8-2-24 9-20-1-24-11-16 1-13-11-15-5-40 0-8-4-16-15-13-16-7-16-5-44-9-32 3-32 11-16 3-16 11-24 19-8 8-16 32-32z"/><path fill="#800000" d="M638 544l14 0 24 9 12 1 12 9 6-11 6-3 28-9 8 3 12 13 28-12 28 12 44-1 12 8 12 4 20 19 16 9 2 5-1 12 3 6 4 2 12-5 12 0 16 6 9 11 0 8-3 8 38 19 20 17 24 25 9 15 19 16 6 8 6 16-9 16-2 16 9 44 0 8-6 5-20 9-17 14-6 16-12 16-6 20-7 8-20 13-40 19-8 2-28-8-28 2-40-12-44 9-32-3-16-10-15-4-4-4-5-16-8-12 4-44-6-16-6-6-8 0-24 10-12 1-12-3-20-10-16 0-12-8-20-7-28 3-16-5-24-23-8-16-3-36-11-44 4-32 13-20 9-31 24-9 4-16 7-8 41-32z"/><path fill="#800000" d="M643 548l17 3 24 17 16 5 12-2 4-17 24-10 7 4 3 12 6 4 8-1 16-11 8-2 8 3 12 13 28 4 12 7 12-6 20 3 7 6 0 4-16 8-3 4 8 8 12 5 20-2 11 17 9 5 12 2 16-6 8 2 4 5 0 5-12 5-12-2-3 4 3 8 16 9 20-3 6 2 26 21 18 11 22 20 8 16 23 16 7 12 1 8-9 16-2 16 6 20 4 28-6 7-20 8-18 17-26 55-37 21-31 12-20-8-32 3-48-11-40 9-28-4-12-10-16-2-7-5-3-16-10-16 8-36-16-31-16-1-20 13-12 1-28-11-20-2-32-13-20 5-13-1-15-8-16-15-10-17-1-32-10-44 4-36 18-24 3-20 29-16 2-16 3-4 21-12 24-24zM740 811l-2 9 2 3 7-3 2-4-1-5-4-2zM852 586l-2 6 2 4 9 0 2-4zM1028 712l-4 1-7 7-2 8 9 8 12 1 3-5-1-4-6-13z"/><path fill="#800000" d="M734 552l7 0 0 8-9 11-4 0-4-11zM637 556l11-3 10 3 10 8 8 13 8 4 12-2 20 2 12-8 28 0 28-14 8 2 12 11 28 4 7 8 5 20 20 1 16 9 24 8 19 14 3 4 0 12 2 3 28 12 8 0 12-3 8 1 12 18 17 13 1 12-8 16 4 8 6 6 32 14 4 0 6-8 6-2 8 1 8 4 6 13-2 6-10 14-1 16 10 20 1 26-4 4-16 7-24 23-23 52-37 22-28 8-24-10-20 5-16-3-16 1-24-6-40 7-20-3-4-1-12-12-20-2-3-6-3-16-6-9 0-12 11-23-11-15-4-13 4-7 13-9 4-8-1-12-8-8-16-6-4 6-2 16-4 8-18 6-12 9-8 2-12-3-44-3-32-12-20 6-8 0-16-6-20-17-8-14 1-28-8-40 3-44 21-20 3-21 33-19 3-15 4 0 8 5 8-2 5-8 1-16 5-12 9-7zM980 688l-3 4 3 3 4 0 5-3-3-4z"/><path fill="#800000" d="M638 560l10-1 8 5 20 39 8 5 12 3 4-7-2-12 2-4 16 2 16-6 8-1 16 9 12 3 6-3 2-4 0-13 8-6 24 11 20 0 4 4 3 8-8 16 9 14 4 1 5-7 7-4 8 0 32 16 16 6 8 6 1 4-9 16 2 4 6 3 16-3 12 3 18 9 7 16 7 9 24 5-1 18 4 8 9 9 18 11 2 4-5 8 1 4 8 3 16 0 8 4 4 9 2 16 11 12 3 8-4 18-12 7-12 15-16 11-9 13-9 8 1 20-6 12-37 24-20 4-8 0-20-10-16 4-20-4-16 4-24-5-16 1-12-3-16 6-10-1-18-15-16-1-5-4-3-28 12-28-4-8-8-8-2-8 16-24-6-24-16-12-8-4-8 4-5 8-4 20-31 15-20-2-36 1-36-15-16 9-12 1-12-5-24-18-5-10 2-24-8-44 7-11 9-1-5-2-7-10-1-16 4-6 20-14 3-24 13-8 16-5 26-15 10-16-4-16 4-8zM704 625l-3 7 3 5 4 0 4-5zM1070 752l6 2 0 8-4 1-4-3-1-4z"/><path fill="#800000" d="M625 568l11-3 10 3 6 12 20 27 21 13 3 16 8 8 12-2 5-6-2-8-9-16 2-9 17-11 7-2 16 11 29-1 5-4 1-12 5-3 8 3 4 4 2 16 14 20 3 12 9 8 8 1 4-2 12-19 12 1 24 13 12 2 3 4-8 12 0 4 6 8 11 4 20-3 20 11 16 23 18 9 6 20 19 24 9 27 28-1 5 6 3 16 12 11 2 5-2 9-12 10-8 14-20 11-8 12-14 12 2 24-7 12-30 20-19 4-8-1-16-11-20 3-17-3-23 5-8 0-11-5-9-9-8-3-32 11-8-3-12-12-16-2-4-7 0-11 14-32-10-24 12-20-14-40-4-4-14-5-8-1-8 3-6 7-10 21-16 2-12 10-4-2-9-11-11-4-6 4-5 12-5 2-8 1-20-6-7-5-9-19-12-5-10 4 1 8 6 12-1 4-8 4-14-4-28-16-3-4-1-8 6-16-9-44 5-3 12-1 12-16 1-12-6-20 4-12 1-20 11-8 17-3 25-17 20-24-11-12zM776 762l-4 2-3 8 0 4 7 4 8-3 3-9-3-7zM800 621l-4 5-1 6 1 4 8 2 9-6 1-4-6-7zM1016 790l-3 6 3 5 4-1 2-8-2-3zM552 735l-7 5 4 8 15 9 8 0 3-5-3-8zM1020 809l-4 7 4 4 8-4z"/><path fill="#800000" d="M643 592l5-2 8 3 16 22 14 5 3 4 4 16 11 9 12 0 12-9 1-8-2-16 5-7 4-2 16 2 20-1 13 8 2 24 9 6 44 7 8-5 12-15 8-1 13 8 5 8 2 12 12 11 16 5 24 0 12 7 20 26 12 8 6 15 19 28 2 16-9 16 4 16 0 16 10 5 24-2 6-3 6-10 8 2 5 4-17 24-16 9-14 19-13 12-1 28-8 12-21 16-11 3-16-2-16-10-20 3-20-3-28 5-8-4-8-11-8-5-20 7-12 1-8-4-7-12-20-4 4-16 11-24-7-16 5-20-8-32 10-13 6-15 0-8-6-7-20 1-12 13-24 5-8 8-8 13-8 4-44-6-20 6-12-10-12 7-16-12-20-8-2-2 3-16-4-16-19-12-2-4 6-12 2-12-2-32 6-9 12 1 12-7 6-9-1-12 3-7 12-8 12-16zM539 784l5-3 4 1 7 10-3 3-8 0-5-3z"/><path fill="#800000" d="M639 600l13-3 8 7 0 10-11 10-1 4 3 4 9 5 8 0 4-9 8-4 4 4 6 16 18 13 12-1 14-12 5-8 1-16 28-4 8 3 2 5-2 8-6 4-2 4 4 6 24 7 16 11 16-5 16 0 6-3 10-14 8-2 5 4 11 20 8 9 28 9 20 1 12 6 20 31 20 24 10 20 2 8-10 20 5 16-2 16 11 10 8 2 12-2 5 2 1 4-10 11-12 1-4 4-1 12-8 16 0 24-7 12-20 17-8 2-12-1-20-12-20 3-28-3-16 4-7-2-9-13-8-5-8-2-16 9-8 0-12-13-16-8 0-12 11-16 2-8-5-12 0-20-7-20 0-8 18-36-5-12-6-7-32 5-9 10-23 9-16 19-4 2-10-2-14-8-36 3-16-4-16 1-19-8-13-39-10-13 0-16 11-20-1-12 20-20 7-20 11-8 6-16zM816 709l0 11 4 3 1-11z"/><path fill="#800000" d="M642 608l6-4 5 4-9 6-5-2zM624 636l12-2 28 13 20-1 20 17 8 1 16-3 17-9 7-7 4 1 14 10 18 0 8 3 12 12 8 4 16-9 16-3 16-8 8 4 20 20 18 5 14 8 16-2 8 2 8 8 12 27 16 17 8 24-4 24 4 16-3 16 12 16 1 4-8 20-3 20 4 20-6 12-19 16-10 2-28-12-20 2-28-6-16 3-11-13-9-5-12-3-20 8-26-16 0-8 15-24-6-16-1-12-7-20 0-8 9-24 11-12 5-8-7-12 1-4 22-9 5-7-9-23-4-5-8-1-7 5-5 24-3 4-13 1-14 7-16 4-14 11-16 7-20 20-8-2-6-12-6-5-8 0-17 9-15 4-40-8-13-20-15-40 20-31 5-17 7-13 4-6z"/><path fill="#800000" d="M622 644l10-3 8 0 20 14 24-2 16 14 8 3 20 0 60-8 8 4 20 22-14 16-6 17-16 2-11 9-13 3-8 0-12-5-5 2-4 4-1 16-10 10-8 2-12-9-12-2-12 3-20 14-16 0-16-6-16-12-5-8-4-20-7-12 2-8 18-28 5-20zM860 664l12 2 16 17 20 6 16 11 16-3 8 2 13 25 18 24 4 28 0 44 8 24-12 32-15 10-15 6 3 6 8 3 16-6 8 1 5 8-5 10-20 13-8 0-20-8-36-2-16-10-16-3-20-13-32 9-16-6-5-6 2-8 18-24 1-4-8-9-3-15-8-16 6-28 21-18 24-6 3-4-2-4-10-4-1-4 4-8 1-8-16-40 10-12zM856 812l-4 8 1 4 7 5 6-1 5-8-2-8-5-4z"/><path fill="#800000" d="M626 648l14-2 14 14 10 4 20-4 24 17 28 2 16-6 12-2 16 5-9 20-19 23-4 2-16-3-20 14-2 4 4 12-2 3-16-4-12 0-17 5-15 12-12 3-16-7-17-16-9-32 2-16 14-20 5-20zM787 672l6 4 1 4-2 2-12-6zM856 672l12-2 24 21 16 4 16 10 20 3 28 40 6 32-3 32 7 24 0 8-11 24-8 8-19 5-16-2-10 5 0 4 14 3 19 17 2 4-5 3-32-5-16 1-16-13-16-5-8-9-12-7-8 1-10 10-10 4-12 0-7-4-1-4 4-6 28-22-1-24-3-4-13-8-4-8-4-20 5-9 16-10 8 2-1 17 15 12-5 16 1 8 10 7 8 1 7-4 4-8 0-12-3-8-14-8-2-20 7-20-1-8-12-12-10-32 2-16z"/><path fill="#800000" d="M631 652l7 0 12 12 18 9 12-4 8 2 20 16 16-1 16 4 12-10 8-3 7 3 0 4-3 9-12 11-4 2-12-1-8 3-8 8-12 6-12 16-32 11-16 12-12 0-10-5-11-12-12-36 2-12 16-20 3-16zM863 676l9 3 20 17 12 3 16 9 20 6 12 11 13 19 8 32-5 36 9 24-2 8-15 22-8 3-20-2-16 9-12 4-28-1-21-11 1-8 12-6 4-6 5-12 6-32-3-5-12-10-2-5-1-8 5-28-16-16-9-24 2-12 10-16zM814 880l6 0-3 4-5 1z"/><path fill="#800000" d="M637 672l7-3 28 12 12-2 8 3 6 10 2 24-1 8-7 9-32 14-12 9-8 1-12-5-7-8-14-36 3-12 6-6 14-6zM866 684l6 2 16 15 52 20 9 7 9 12 9 36-4 20-1 16 9 24-3 8-12 14-24 2-24 12-20-5-8-7 4-37 8-15 0-8-17-20-1-8 3-20-1-8-19-16-7-16 2-12 8-12z"/><path fill="#800000" d="M648 676l8 2 12 9 20 4 5 9 1 20-3 8-10 8-41 16-8-3-5-5-13-28-1-12 3-6 16-6zM864 696l4-3 4 1 14 14 50 16 14 12 3 12-7 28 2 5 6 7 1 24 9 24-4 10-8 7-24 2-20 5-12-2-8-6 0-24 11-20 1-8-17-28-2-32-18-12-7-12 0-8zM924 795l-1 5 5 11 8 4 2-3-2-9-4-6z"/><path fill="#800000" d="M652 684l14 8 18 4 5 8 0 16-4 8-10 8-31 9-8 0-5-5-10-24-1-8 2-4zM866 712l2-3 4 1 8 7 60 16 5 7 0 8-9 33-8 2-16-8-12 1-8-5-4-7 0-28-4-5-16-10zM908 804l4-2 4 3 20 24 16 1 3 6-3 9-8 4-16 0-32-5-3-8 1-8z"/><path fill="#800000" d="M649 696l27 3 7 5 2 16-9 12-16 4-16-4-5-12-6-8 0-4 7-7zM903 732l10 0 23 8 3 16-7 17-4 1-5-2-11-16-12 3-4-2 0-18zM906 816l6-4 8 6 7 14 1 4-4 4-23-4-2-8z"/><path fill="#800000" d="M658 704l14 0 8 8-2 12-10 8-9 0-7-8-1-16zM925 748l3-1 4 5 0 8-4 3-4-7zM908 824l4-3 4 2 2 5-2 3-8-1z"/><path fill="#800000" d="M666 712l6 2 2 6-2 5-8 3-4-4-1-4z"/></g><path d="M1672.3,100 L1700,100 L1700,414 L1697.5,414 Z" fill="#fff"/><path d="M970,791 L972.2,791 L978.1,830 L970,830 Z" fill="#fff"/></g>
<g stroke="#fff" stroke-width="2.1" stroke-dasharray="2.1 3.45" fill="none"><line x1="1084.9" y1="103.6" x2="1084.9" y2="827.5"/><line x1="1230.4" y1="103.6" x2="1230.4" y2="827.5"/><line x1="1375.9" y1="103.6" x2="1375.9" y2="827.5"/><line x1="1521.4" y1="103.6" x2="1521.4" y2="827.5"/><line x1="1666.9" y1="103.6" x2="1666.9" y2="827.5"/><line x1="972.0" y1="761.0" x2="1696.9" y2="761.0"/><line x1="972.0" y1="615.5" x2="1696.9" y2="615.5"/><line x1="972.0" y1="470.0" x2="1696.9" y2="470.0"/><line x1="972.0" y1="324.5" x2="1696.9" y2="324.5"/><line x1="972.0" y1="179.0" x2="1696.9" y2="179.0"/></g>
<g clip-path="url(#c2)"><path d="M1407.2,103.4 L1408.9,111.7 L1417.2,118.5 L1421.4,123.5 L1420.6,128.5 L1424.8,131.9 L1418.9,138.6 L1417.2,147.0 L1412.2,155.4 L1403.8,162.1 L1398.8,170.5 L1392.1,170.5 L1388.7,178.9 L1392.1,183.9 L1388.7,194.0 L1397.1,204.0 L1400.5,210.7 L1398.0,217.4 L1390.4,222.5 L1385.4,221.6 L1389.6,227.5 L1392.1,233.4 L1402.1,234.2 L1412.2,233.4 L1418.9,239.3 L1424.0,247.7 L1425.6,251.0 L1432.3,247.7 L1440.7,246.0 L1447.4,239.3 L1454.2,232.6 L1457.5,229.2 L1455.0,225.8 L1450.0,224.2 L1452.5,219.1 L1457.5,217.4 L1464.2,220.8 L1467.6,224.2 L1472.6,225.0 L1476.0,217.4 L1478.5,210.7 L1481.8,204.0 L1482.7,194.0 L1481.0,187.2 L1484.4,177.2 L1488.6,163.8 L1492.8,152.0 L1497.8,145.3 L1499.5,138.6 L1504.5,131.9 L1511.2,121.8 L1519.6,115.1 L1521.3,110.1 L1527.1,110.1 L1523.0,106.7 L1516.2,106.7 L1514.6,103.0M1425.6,251.0 L1429.0,244.3 L1431.5,237.6 L1432.7,229.2 L1430.7,222.5 L1426.5,215.8 L1421.9,209.9 L1420.6,207.4 L1424.0,209.9 L1429.0,211.1 L1433.2,209.1 L1435.4,204.0 L1433.2,200.7 L1427.3,199.0 L1421.9,200.7 L1418.9,203.2 L1415.6,209.1 L1413.4,217.4 L1414.7,225.0 L1418.9,230.9 L1423.1,234.2M1348.5,106.7 L1351.8,115.1 L1357.7,121.0 L1361.9,125.2 L1363.6,129.4 L1356.8,136.1 L1359.4,136.9 L1366.1,131.0 L1370.3,126.8 L1375.3,121.8 L1385.4,121.8 L1389.6,123.5 L1385.4,128.5 L1387.9,133.6 L1392.1,136.1 L1397.1,132.7 L1402.1,127.7 L1403.8,121.8 L1400.5,116.8 L1394.6,114.3 L1387.9,115.1 L1383.7,115.9 L1386.2,111.7 L1388.7,106.7 L1387.0,103.0M1348.5,106.7 L1351.8,103.4 L1356.8,105.9 L1360.2,104.2 L1363.6,110.1 L1365.2,116.8 L1370.3,116.8 L1376.1,115.9 L1373.6,110.1 L1370.3,103.4M1375.3,138.6 L1380.3,140.3 L1385.4,138.9 L1388.7,141.9 L1389.6,148.7 L1387.0,153.7 L1382.0,157.9 L1378.7,162.1 L1375.3,164.6 L1372.8,161.2 L1375.3,157.9 L1374.0,152.0 L1375.3,145.3ZM1391.2,146.1 L1397.1,142.8 L1405.5,139.4 L1406.3,136.1 L1413.9,133.6 L1424.0,131.0 L1420.6,136.1 L1417.2,140.3 L1413.9,148.7 L1412.2,153.7M1392.1,157.0 L1395.4,158.7 L1392.9,160.4 L1390.4,158.7ZM1383.7,164.6 L1387.9,163.8 L1388.7,168.8 L1386.2,170.5 L1384.0,168.0ZM1351.0,204.0 L1355.2,199.0 L1360.2,194.0 L1361.9,195.6 L1358.5,200.7 L1355.2,205.7 L1351.8,206.5ZM1362.7,188.9 L1366.1,187.2 L1370.3,188.1 L1371.1,191.4 L1367.8,192.3 L1364.4,191.4ZM1403.0,295.5 L1408.9,291.3 L1413.9,290.4 L1420.6,294.6 L1425.3,298.8 L1424.0,303.0 L1418.9,307.2 L1413.1,308.1 L1407.2,305.5 L1404.7,300.5ZM1385.4,287.9 L1389.6,289.6 L1394.6,291.3 L1393.8,293.8 L1389.6,293.0ZM1453.3,262.8 L1455.0,267.8 L1453.3,274.5 L1451.6,281.2 L1447.4,287.9 L1445.8,295.5 L1442.4,298.8 L1439.1,299.7 L1437.4,293.0 L1440.7,288.8 L1444.1,282.0 L1444.9,276.2 L1448.3,271.1 L1450.8,265.3ZM1366.6,263.6 L1368.6,261.9 L1370.8,263.6 L1368.6,265.6ZM1548.1,103.0 L1554.8,105.0 L1556.5,111.7 L1563.2,112.6 L1571.6,112.6 L1568.3,118.5 L1566.6,123.5 L1573.3,125.2 L1580.0,121.8 L1586.7,121.0 L1591.7,125.2 L1595.9,126.8 L1595.1,120.1 L1593.4,113.4 L1595.1,106.7 L1598.5,103.0M1560.2,126.0 L1561.5,124.7 L1562.9,126.0 L1561.5,127.3ZM1317.4,450.6 L1319.4,447.3 L1324.0,446.0 L1326.6,442.8 L1330.5,443.4 L1333.1,439.5 L1337.0,439.5 L1339.6,436.3 L1343.5,436.9 L1346.1,433.7 L1350.0,434.3 L1352.6,432.4 L1355.2,434.3 L1354.5,437.6 L1351.9,438.9 L1350.0,442.1 L1346.1,444.1 L1344.1,447.3 L1340.9,448.0 L1338.9,451.2 L1336.3,452.5 L1335.0,455.8 L1331.8,457.1 L1330.5,460.4 L1327.9,459.7 L1326.6,463.0 L1324.0,461.7 L1324.6,458.4 L1321.3,459.1 L1320.0,455.8 L1322.0,453.8 L1318.7,453.2ZM1319.0,459.1 L1322.0,460.6 L1324.0,463.6 L1327.2,464.9 L1326.3,462.3 L1329.2,461.9M1369.3,447.2 L1376.8,442.2 L1378.3,445.7 L1371.8,449.7ZM1294.8,479.5 L1299.8,477.0 L1303.3,484.4 L1304.8,489.4 L1299.8,493.4 L1295.8,489.4ZM1268.5,513.2 L1275.0,511.7 L1281.4,509.3 L1279.9,513.2 L1273.5,516.7 L1270.0,516.7ZM1257.1,539.1 L1259.1,537.6 L1261.1,539.6 L1258.6,541.0ZM1227.8,536.6 L1230.3,541.5 L1225.3,541.5ZM1250.1,551.5 L1255.1,556.4 L1253.6,566.4 L1245.2,571.3 L1237.7,573.8 L1230.3,581.3 L1223.8,584.8 L1222.8,591.2 L1217.9,596.2 L1215.4,603.6 L1210.4,608.6 L1203.9,607.6 L1205.4,598.7 L1210.4,591.2 L1210.4,583.8 L1217.9,582.8 L1221.8,576.3 L1222.8,568.9 L1230.3,566.4 L1240.2,563.9 L1246.2,557.9ZM1212.9,561.4 L1216.9,562.9 L1213.9,564.9ZM1134.4,587.7 L1140.9,586.2 L1143.4,592.7 L1138.4,593.7ZM1183.1,599.7 L1184.6,603.6 L1182.1,604.6ZM1470.2,618.5 L1472.1,618.5 L1472.1,620.5 L1470.2,620.5ZM1464.2,624.5 L1467.7,623.5 L1468.2,627.5 L1465.2,628.5ZM1023.2,699.5 L1026.6,698.0 L1028.1,702.0 L1024.2,703.0ZM1030.1,697.0 L1035.1,698.0 L1038.1,703.9 L1044.0,706.9 L1041.5,708.9 L1031.6,707.9ZM1273.4,133.5 L1277.0,129.9 L1276.6,122.7 L1278.8,121.4 L1281.0,124.5 L1285.1,123.6 L1288.6,121.0 L1290.4,118.3 L1294.9,115.6 L1300.3,112.9 L1301.6,108.9 L1306.5,107.1 L1306.1,103.5 L1310.6,103.3 L1310.1,106.6 L1315.9,105.7 L1316.6,108.0 L1312.8,110.7 L1309.7,113.3 L1310.1,116.5 L1307.9,119.4 L1306.1,118.7 L1304.3,116.0 L1302.1,115.1 L1299.4,120.1 L1294.0,123.2 L1291.8,124.1 L1291.3,127.7 L1295.3,130.3 L1295.8,132.1 L1288.6,133.0 L1287.7,136.2 L1286.0,137.5 L1283.7,135.3 L1277.9,136.2Z" fill="none" stroke="#fff" stroke-width="1.6" stroke-linejoin="round"/></g>
<rect x="970.5" y="101.6" width="727.9" height="727.4" fill="none" stroke="#000" stroke-width="3.0"/>
<text x="1085.4" y="851.3" font-size="13.0" text-anchor="middle" font-weight="normal" fill="#000" >126°E</text><text x="1230.9" y="851.3" font-size="13.0" text-anchor="middle" font-weight="normal" fill="#000" >128°E</text><text x="1376.4" y="851.3" font-size="13.0" text-anchor="middle" font-weight="normal" fill="#000" >130°E</text><text x="1521.9" y="851.3" font-size="13.0" text-anchor="middle" font-weight="normal" fill="#000" >132°E</text><text x="1667.4" y="851.3" font-size="13.0" text-anchor="middle" font-weight="normal" fill="#000" >134°E</text><text x="961.2" y="765.7" font-size="13.0" text-anchor="end" font-weight="normal" fill="#000" >24°N</text><text x="961.2" y="620.2" font-size="13.0" text-anchor="end" font-weight="normal" fill="#000" >26°N</text><text x="961.2" y="474.7" font-size="13.0" text-anchor="end" font-weight="normal" fill="#000" >28°N</text><text x="961.2" y="329.2" font-size="13.0" text-anchor="end" font-weight="normal" fill="#000" >30°N</text><text x="961.2" y="183.7" font-size="13.0" text-anchor="end" font-weight="normal" fill="#000" >32°N</text>
<defs><linearGradient id="cb2" x1="0" y1="0" x2="0" y2="1"><stop offset="0.0000" stop-color="#fff"/><stop offset="0.3333" stop-color="#fff"/><stop offset="0.3333" stop-color="#6a1a6a"/><stop offset="0.3667" stop-color="#4a3598"/><stop offset="0.4000" stop-color="#2858c8"/><stop offset="0.4333" stop-color="#0080ff"/><stop offset="0.4800" stop-color="#40b8ff"/><stop offset="0.5167" stop-color="#80ffff"/><stop offset="0.5667" stop-color="#80ff80"/><stop offset="0.6100" stop-color="#ffff80"/><stop offset="0.6933" stop-color="#ff8000"/><stop offset="0.7467" stop-color="#b84000"/><stop offset="0.7967" stop-color="#800000"/><stop offset="1.0000" stop-color="#800000"/></linearGradient></defs><rect x="1705.4" y="101.5" width="15.2" height="727.7" fill="url(#cb2)" stroke="#000" stroke-width="1"/><text x="1728.0" y="156.5" font-size="16.7" text-anchor="start" font-weight="normal" fill="#000" >40</text><text x="1728.0" y="205.1" font-size="16.7" text-anchor="start" font-weight="normal" fill="#000" >30</text><text x="1728.0" y="253.6" font-size="16.7" text-anchor="start" font-weight="normal" fill="#000" >20</text><text x="1728.0" y="302.2" font-size="16.7" text-anchor="start" font-weight="normal" fill="#000" >10</text><text x="1728.0" y="350.8" font-size="16.7" text-anchor="start" font-weight="normal" fill="#000" >0</text><text x="1728.0" y="399.4" font-size="16.7" text-anchor="start" font-weight="normal" fill="#000" >−10</text><text x="1728.0" y="448.0" font-size="16.7" text-anchor="start" font-weight="normal" fill="#000" >−20</text><text x="1728.0" y="496.5" font-size="16.7" text-anchor="start" font-weight="normal" fill="#000" >−30</text><text x="1728.0" y="545.1" font-size="16.7" text-anchor="start" font-weight="normal" fill="#000" >−40</text><text x="1728.0" y="593.7" font-size="16.7" text-anchor="start" font-weight="normal" fill="#000" >−50</text><text x="1728.0" y="642.3" font-size="16.7" text-anchor="start" font-weight="normal" fill="#000" >−60</text><text x="1728.0" y="690.9" font-size="16.7" text-anchor="start" font-weight="normal" fill="#000" >−70</text><text x="1728.0" y="739.4" font-size="16.7" text-anchor="start" font-weight="normal" fill="#000" >−80</text><text x="1728.0" y="788.0" font-size="16.7" text-anchor="start" font-weight="normal" fill="#000" >−90</text><text x="1715.0" y="93.3" font-size="16.7" text-anchor="start" font-weight="normal" fill="#000" >°C</text>
<text x="95.2" y="50.8" font-size="25.9" text-anchor="start" font-weight="normal" fill="#000" >HIMAWARI-9 BAND14-DIAS TARGET AREA</text><text x="95.2" y="81.0" font-size="25.9" text-anchor="start" font-weight="normal" fill="#000" >Time: 2024/09/14 10:27:30Z</text><text x="1697.6" y="39.1" font-size="17.3" text-anchor="end" font-weight="normal" fill="#000" >[dmax, dmin](BAND14)=(-72.445, -86.034)</text><text x="1697.6" y="59.9" font-size="17.3" text-anchor="end" font-weight="normal" fill="#000" >[dmax, dmin](AWV)=(-70.824, -82.685)</text><text x="1697.6" y="80.8" font-size="17.3" text-anchor="end" font-weight="normal" fill="#000" >14W.BEBINCA | 55kt, 978mb</text><text x="470.5" y="882.0" font-size="22.5" text-anchor="middle" font-weight="normal" fill="#000" >Wind / Pres. / ACE Diagnosis</text>
<polyline points="128.8,1261.4 143.7,1261.4 158.5,1261.4 173.4,1261.4 188.2,1261.4 203.1,1261.4 217.9,1261.4 232.8,1261.4 247.6,1261.4 262.5,1230.4 277.3,1261.4 292.1,1261.4 307.0,1230.4 321.9,1261.4 336.7,1261.4 351.6,1230.4 366.4,1230.4 381.2,1199.4 396.1,1168.4 410.9,1168.4 425.8,1137.4 440.6,1137.4 455.5,1137.4 470.4,1137.4 485.2,1075.4 500.1,1044.4 514.9,982.4 529.8,1044.4 544.6,1075.4 559.5,1106.4 574.3,1106.4 589.1,1075.4 604.0,1075.4 618.9,1044.4 633.7,1013.4" fill="none" stroke="#0000ff" stroke-width="5.3" stroke-linejoin="round" stroke-linecap="square"/><polyline points="633.7,1013.4 663.4,951.4 693.1,920.4 722.8,951.4 766.0,1152.0 796.7,1152.0 810.2,1224.0" fill="none" stroke="#0000ff" stroke-width="5.3" stroke-dasharray="5.3 8.74" stroke-linejoin="round"/><rect x="104.9" y="912.8" width="266.6" height="62.4" rx="4" ry="4" fill="#fff" fill-opacity="0.8" stroke="#ccc" stroke-opacity="0.8" stroke-width="3.3"/><line x1="110.2" y1="928.4" x2="153.0" y2="928.4" stroke="#00f" stroke-width="5.3"/><line x1="112.4" y1="957.6" x2="153.0" y2="957.6" stroke="#00f" stroke-width="5.3" stroke-dasharray="5.3 8.74"/><text x="166.0" y="935.0" font-size="19.0" text-anchor="start" font-weight="normal" fill="#000" >Wind[max=60]</text><text x="166.0" y="964.3" font-size="19.0" text-anchor="start" font-weight="normal" fill="#000" >Wind Fore.[max=70]</text><polyline points="128.8,920.5 143.7,941.7 158.5,941.7 173.4,941.7 188.2,941.7 203.1,931.1 217.9,931.1 232.8,952.3 247.6,952.3 262.5,962.9 277.3,984.1 292.1,984.1 307.0,994.7 321.9,994.7 336.7,994.7 351.6,994.7 366.4,1005.3 381.2,994.7 396.1,1005.3 410.9,1015.9 425.8,1037.1 440.6,1037.1 455.5,1058.3 470.4,1047.7 485.2,1084.8 500.1,1121.9 514.9,1132.5 529.8,1132.5 544.6,1153.7 559.5,1111.3 574.3,1111.3 589.1,1153.7 604.0,1174.9 618.9,1217.3 633.7,1259.7" fill="none" stroke="#1f77b4" stroke-width="5.3" stroke-linejoin="round" stroke-linecap="square"/><rect x="617.5" y="912.8" width="218.0" height="34.1" rx="4" ry="4" fill="#fff" fill-opacity="0.8" stroke="#ccc" stroke-opacity="0.8" stroke-width="3.3"/><line x1="622.5" y1="928.4" x2="665.5" y2="928.4" stroke="#1f77b4" stroke-width="5.3"/><text x="678.5" y="935.0" font-size="19.0" text-anchor="start" font-weight="normal" fill="#000" >Pres.[min=978]</text><polyline points="128.8,1636.5 143.7,1636.5 158.5,1636.5 173.4,1636.5 188.2,1636.5 203.1,1636.5 217.9,1636.5 232.8,1636.5 247.6,1636.5 262.5,1636.5 277.3,1636.5 292.1,1636.5 307.0,1636.5 321.9,1636.5 336.7,1636.5 351.6,1636.5 366.4,1636.5 381.2,1636.5 396.1,1636.5 410.9,1636.5 425.8,1629.7 440.6,1622.9 455.5,1616.1 470.4,1609.3 485.2,1598.0 500.1,1584.1 514.9,1564.1 529.8,1550.3 544.6,1539.0 559.5,1530.1 574.3,1521.2 589.1,1510.0 604.0,1498.7 618.9,1484.8 633.7,1468.0" fill="none" stroke="#008000" stroke-width="5.3" stroke-linejoin="round" stroke-linecap="square"/><polyline points="633.7,1468.0 648.5,1448.0 663.4,1424.6 678.2,1399.3 693.1,1372.0 708.0,1346.7 722.8,1323.3 737.7,1307.1 752.5,1295.2 767.3,1295.2 782.2,1295.2 797.0,1295.2 811.9,1295.2" fill="none" stroke="#008000" stroke-width="5.3" stroke-dasharray="5.3 8.74" stroke-linejoin="round"/><rect x="104.9" y="1288.0" width="299.6" height="61.9" rx="4" ry="4" fill="#fff" fill-opacity="0.8" stroke="#ccc" stroke-opacity="0.8" stroke-width="3.3"/><line x1="110.2" y1="1303.4" x2="153.0" y2="1303.4" stroke="#008000" stroke-width="5.3"/><line x1="112.4" y1="1332.4" x2="153.0" y2="1332.4" stroke="#008000" stroke-width="5.3" stroke-dasharray="5.3 8.74"/><text x="166.0" y="1310.0" font-size="19.0" text-anchor="start" font-weight="normal" fill="#000" >ACE[max=3.0325]</text><text x="166.0" y="1339.2" font-size="19.0" text-anchor="start" font-weight="normal" fill="#000" >ACE Fore.[max=6.1438]</text><rect x="95.7" y="903.5" width="749.8" height="749.8" fill="none" stroke="#000" stroke-width="3.1"/><line x1="95.7" y1="1278.5" x2="845.5" y2="1278.5" stroke="#000" stroke-width="3.1"/><text x="70.3" y="1235.3" font-size="13.0" text-anchor="end" font-weight="normal" fill="#000" >20</text><text x="70.3" y="1173.3" font-size="13.0" text-anchor="end" font-weight="normal" fill="#000" >30</text><text x="70.3" y="1111.3" font-size="13.0" text-anchor="end" font-weight="normal" fill="#000" >40</text><text x="70.3" y="1049.3" font-size="13.0" text-anchor="end" font-weight="normal" fill="#000" >50</text><text x="70.3" y="987.3" font-size="13.0" text-anchor="end" font-weight="normal" fill="#000" >60</text><text x="70.3" y="925.3" font-size="13.0" text-anchor="end" font-weight="normal" fill="#000" >70</text><text x="70.3" y="1641.4" font-size="13.0" text-anchor="end" font-weight="normal" fill="#000" >0</text><text x="70.3" y="1585.9" font-size="13.0" text-anchor="end" font-weight="normal" fill="#000" >1</text><text x="70.3" y="1530.3" font-size="13.0" text-anchor="end" font-weight="normal" fill="#000" >2</text><text x="70.3" y="1474.8" font-size="13.0" text-anchor="end" font-weight="normal" fill="#000" >3</text><text x="70.3" y="1419.2" font-size="13.0" text-anchor="end" font-weight="normal" fill="#000" >4</text><text x="70.3" y="1363.7" font-size="13.0" text-anchor="end" font-weight="normal" fill="#000" >5</text><text x="70.3" y="1308.1" font-size="13.0" text-anchor="end" font-weight="normal" fill="#000" >6</text><text x="870.3" y="1243.3" font-size="13.0" text-anchor="start" font-weight="normal" fill="#000" >980</text><text x="870.3" y="1190.3" font-size="13.0" text-anchor="start" font-weight="normal" fill="#000" >985</text><text x="870.3" y="1137.3" font-size="13.0" text-anchor="start" font-weight="normal" fill="#000" >990</text><text x="870.3" y="1084.3" font-size="13.0" text-anchor="start" font-weight="normal" fill="#000" >995</text><text x="870.3" y="1031.3" font-size="13.0" text-anchor="start" font-weight="normal" fill="#000" >1000</text><text x="870.3" y="978.3" font-size="13.0" text-anchor="start" font-weight="normal" fill="#000" >1005</text><text x="870.3" y="925.3" font-size="13.0" text-anchor="start" font-weight="normal" fill="#000" >1010</text><g stroke="#000" stroke-width="3.1"><line x1="83.5" y1="1230.4" x2="94.5" y2="1230.4"/><line x1="83.5" y1="1168.4" x2="94.5" y2="1168.4"/><line x1="83.5" y1="1106.4" x2="94.5" y2="1106.4"/><line x1="83.5" y1="1044.4" x2="94.5" y2="1044.4"/><line x1="83.5" y1="982.4" x2="94.5" y2="982.4"/><line x1="83.5" y1="920.4" x2="94.5" y2="920.4"/><line x1="83.5" y1="1636.5" x2="94.5" y2="1636.5"/><line x1="83.5" y1="1581.0" x2="94.5" y2="1581.0"/><line x1="83.5" y1="1525.4" x2="94.5" y2="1525.4"/><line x1="83.5" y1="1469.8" x2="94.5" y2="1469.8"/><line x1="83.5" y1="1414.3" x2="94.5" y2="1414.3"/><line x1="83.5" y1="1358.8" x2="94.5" y2="1358.8"/><line x1="83.5" y1="1303.2" x2="94.5" y2="1303.2"/><line x1="846.5" y1="1238.5" x2="857.6" y2="1238.5"/><line x1="846.5" y1="1185.5" x2="857.6" y2="1185.5"/><line x1="846.5" y1="1132.5" x2="857.6" y2="1132.5"/><line x1="846.5" y1="1079.5" x2="857.6" y2="1079.5"/><line x1="846.5" y1="1026.5" x2="857.6" y2="1026.5"/><line x1="846.5" y1="973.5" x2="857.6" y2="973.5"/><line x1="846.5" y1="920.5" x2="857.6" y2="920.5"/></g><text transform="translate(35.1,1092.2) rotate(-90)" font-size="13" text-anchor="middle">Wind</text><text transform="translate(45.0,1466) rotate(-90)" font-size="13" text-anchor="middle">ACE</text><text transform="translate(930.0,1092) rotate(-90)" font-size="13" text-anchor="middle">Pressure</text>
<g clip-path="url(#c4)"><rect x="968" y="900" width="756" height="756" fill="#888"/><path transform="matrix(16.500,0.300,2.150,16.570,830.60,884.28)" d="M23 0h10v1h-10zM35 0h3v1h-3zM22 1h10v1h-10zM21 2h7v1h-7zM21 3h7v1h-7zM29 3h2v1h-2zM7 4h4v1h-4zM29 4h3v1h-3zM7 5h3v1h-3zM26 5h2v1h-2zM6 6h3v1h-3zM21 6h1v1h-1zM25 6h2v1h-2zM29 6h3v1h-3zM36 6h1v1h-1zM6 7h5v1h-5zM24 7h1v1h-1zM28 7h3v1h-3zM34 7h1v1h-1zM37 7h1v1h-1zM52 7h1v1h-1zM6 8h5v1h-5zM28 8h1v1h-1zM33 8h1v1h-1zM37 8h2v1h-2zM52 8h1v1h-1zM6 9h5v1h-5zM24 9h2v1h-2zM31 9h1v1h-1zM6 10h5v1h-5zM24 10h2v1h-2zM6 11h5v1h-5zM37 11h1v1h-1zM46 11h2v1h-2zM6 12h5v1h-5zM36 12h2v1h-2zM43 12h1v1h-1zM47 12h1v1h-1zM6 13h5v1h-5zM36 13h5v1h-5zM42 13h1v1h-1zM47 13h1v1h-1zM5 14h6v1h-6zM17 14h1v1h-1zM36 14h4v1h-4zM43 14h2v1h-2zM5 15h6v1h-6zM36 15h4v1h-4zM43 15h2v1h-2zM47 15h3v1h-3zM5 16h6v1h-6zM26 16h2v1h-2zM43 16h1v1h-1zM47 16h4v1h-4zM5 17h5v1h-5zM18 17h1v1h-1zM40 17h3v1h-3zM47 17h4v1h-4zM5 18h6v1h-6zM41 18h2v1h-2zM46 18h6v1h-6zM5 19h7v1h-7zM17 19h2v1h-2zM46 19h6v1h-6zM5 20h8v1h-8zM16 20h5v1h-5zM45 20h7v1h-7zM5 21h9v1h-9zM16 21h6v1h-6zM44 21h8v1h-8zM4 22h10v1h-10zM16 22h6v1h-6zM36 22h3v1h-3zM43 22h8v1h-8zM4 23h11v1h-11zM17 23h5v1h-5zM33 23h1v1h-1zM36 23h3v1h-3zM43 23h8v1h-8zM4 24h12v1h-12zM17 24h8v1h-8zM31 24h7v1h-7zM43 24h8v1h-8zM4 25h21v1h-21zM31 25h8v1h-8zM43 25h8v1h-8zM4 26h22v1h-22zM32 26h7v1h-7zM44 26h7v1h-7zM5 27h22v1h-22zM32 27h8v1h-8zM44 27h7v1h-7zM5 28h20v1h-20zM26 28h2v1h-2zM32 28h5v1h-5zM38 28h2v1h-2zM45 28h6v1h-6zM9 29h22v1h-22zM33 29h5v1h-5zM45 29h6v1h-6zM10 30h1v1h-1zM12 30h27v1h-27zM45 30h5v1h-5zM13 31h24v1h-24zM46 31h4v1h-4zM13 32h13v1h-13zM27 32h10v1h-10zM44 32h1v1h-1zM47 32h3v1h-3zM13 33h11v1h-11zM32 33h5v1h-5zM48 33h2v1h-2zM13 34h6v1h-6zM21 34h4v1h-4zM33 34h4v1h-4zM45 34h1v1h-1zM48 34h2v1h-2zM6 35h4v1h-4zM13 35h12v1h-12zM26 35h2v1h-2zM32 35h4v1h-4zM45 35h1v1h-1zM48 35h2v1h-2zM6 36h5v1h-5zM13 36h3v1h-3zM18 36h17v1h-17zM48 36h2v1h-2zM17 37h17v1h-17zM17 38h5v1h-5zM23 38h10v1h-10zM19 39h3v1h-3zM24 39h3v1h-3zM28 39h1v1h-1zM20 40h2v1h-2zM25 40h1v1h-1zM25 41h2v1h-2zM48 41h1v1h-1zM25 42h1v1h-1z" fill="#555" stroke="#555" stroke-width="0.07"/><path transform="matrix(16.500,0.300,2.150,16.570,830.60,884.28)" d="M33 10h1v1h-1zM32 11h2v1h-2zM29 12h1v1h-1zM32 12h2v1h-2zM29 13h5v1h-5zM28 14h7v1h-7zM29 15h1v1h-1zM31 15h5v1h-5zM31 16h4v1h-4zM31 17h4v1h-4zM37 17h1v1h-1zM31 18h4v1h-4zM34 19h1v1h-1zM1 45h2v1h-2zM41 45h1v1h-1zM1 46h7v1h-7zM9 46h6v1h-6zM20 46h1v1h-1zM41 46h1v1h-1z" fill="#fff" stroke="#fff" stroke-width="0.07"/><path d="M1496.1,964.9 L1487.5,990.3 L1488.9,996.5 L1499.9,999.8 L1510.5,996.5 L1530.6,963.9 L1525.8,950.9 L1530.6,944.7 L1541.6,944.7 L1549.8,956.7 L1556.0,980.7 L1565.6,991.2 L1567.0,997.4 L1563.2,1003.7 L1548.8,1004.6 L1536.8,1010.4 L1505.7,1021.9 L1490.3,1026.2 L1486.5,1035.8 L1462.5,1046.3 L1441.0,1077.5 L1426.6,1087.1 L1412.2,1100.5 L1381.0,1111.1 L1369.1,1107.7 L1341.7,1141.3 L1353.2,1155.6 L1371.4,1167.6 L1337.9,1186.8 L1330.7,1189.2 L1327.3,1203.6 L1318.7,1204.5 L1304.3,1201.2 L1290.0,1206.9 L1297.1,1210.8 L1304.3,1220.4 L1310.1,1232.3 L1306.7,1237.1 L1297.1,1232.3 L1275.6,1213.2 L1242.0,1191.6 L1237.2,1182.0 L1236.3,1162.8 L1227.6,1154.7 L1218.0,1165.2 L1208.5,1166.2 L1179.7,1153.3 L1146.1,1146.1 L1135.6,1138.9 L1136.5,1133.1 L1148.5,1130.2 L1160.5,1134.1 L1183.0,1128.3 L1207.5,1133.1 L1229.1,1134.1 L1243.0,1113.9 L1218.0,1113.5 L1206.1,1107.7 L1197.4,1098.1 L1208.5,1089.5 L1225.2,1079.9 L1249.2,1071.8 L1275.6,1051.1 L1311.5,1051.1 L1325.9,1047.8 L1336.9,1032.4 L1349.9,1035.8 L1364.3,1032.0 L1376.2,1021.4 L1383.4,1010.4 L1395.4,1023.8 L1413.6,1031.0 L1428.0,1003.7 L1433.8,995.1 L1448.1,986.4 L1496.1,964.9M1162.9,1183.0 L1174.9,1179.6 L1196.5,1180.6 L1192.6,1194.0 L1201.3,1197.8 L1227.6,1195.0 L1214.2,1213.2 L1220.4,1221.3 L1246.8,1235.7 L1270.8,1233.3 L1286.1,1246.7 L1289.0,1261.1 L1268.4,1267.3 L1251.6,1251.5 L1244.4,1253.0 L1242.0,1261.1 L1234.8,1268.3 L1225.2,1253.9 L1213.3,1251.5 L1198.9,1253.9 L1190.2,1249.1 L1186.9,1222.8 L1170.1,1201.2 L1162.9,1183.0M965.0,1396.9 L986.4,1390.9 L1000.3,1405.9 L1008.8,1448.7 L1017.8,1468.4 L1025.7,1474.5 L1034.7,1479.7 L1044.2,1486.4 L1048.2,1497.0 L1044.2,1508.9 L1034.7,1519.5 L1026.2,1530.7 L1018.3,1545.8 L1007.7,1554.8 L995.8,1562.2 L986.4,1565.6 L965.0,1560.4M1722.4,1098.1 L1712.8,1102.9 L1722.4,1106.3" fill="none" stroke="#fff" stroke-width="1.2" stroke-linejoin="round"/><rect x="982.3" y="916.6" width="180" height="32.8" rx="4.5" ry="4.5" fill="#000"/><text x="989.0" y="939.4" font-size="20.8" text-anchor="start" font-weight="bold" fill="#fff" >WMG Count: 0</text></g>
<rect x="970.6" y="903.5" width="749.4" height="749.5" fill="none" stroke="#000" stroke-width="3.1"/>
</svg></body></html>
